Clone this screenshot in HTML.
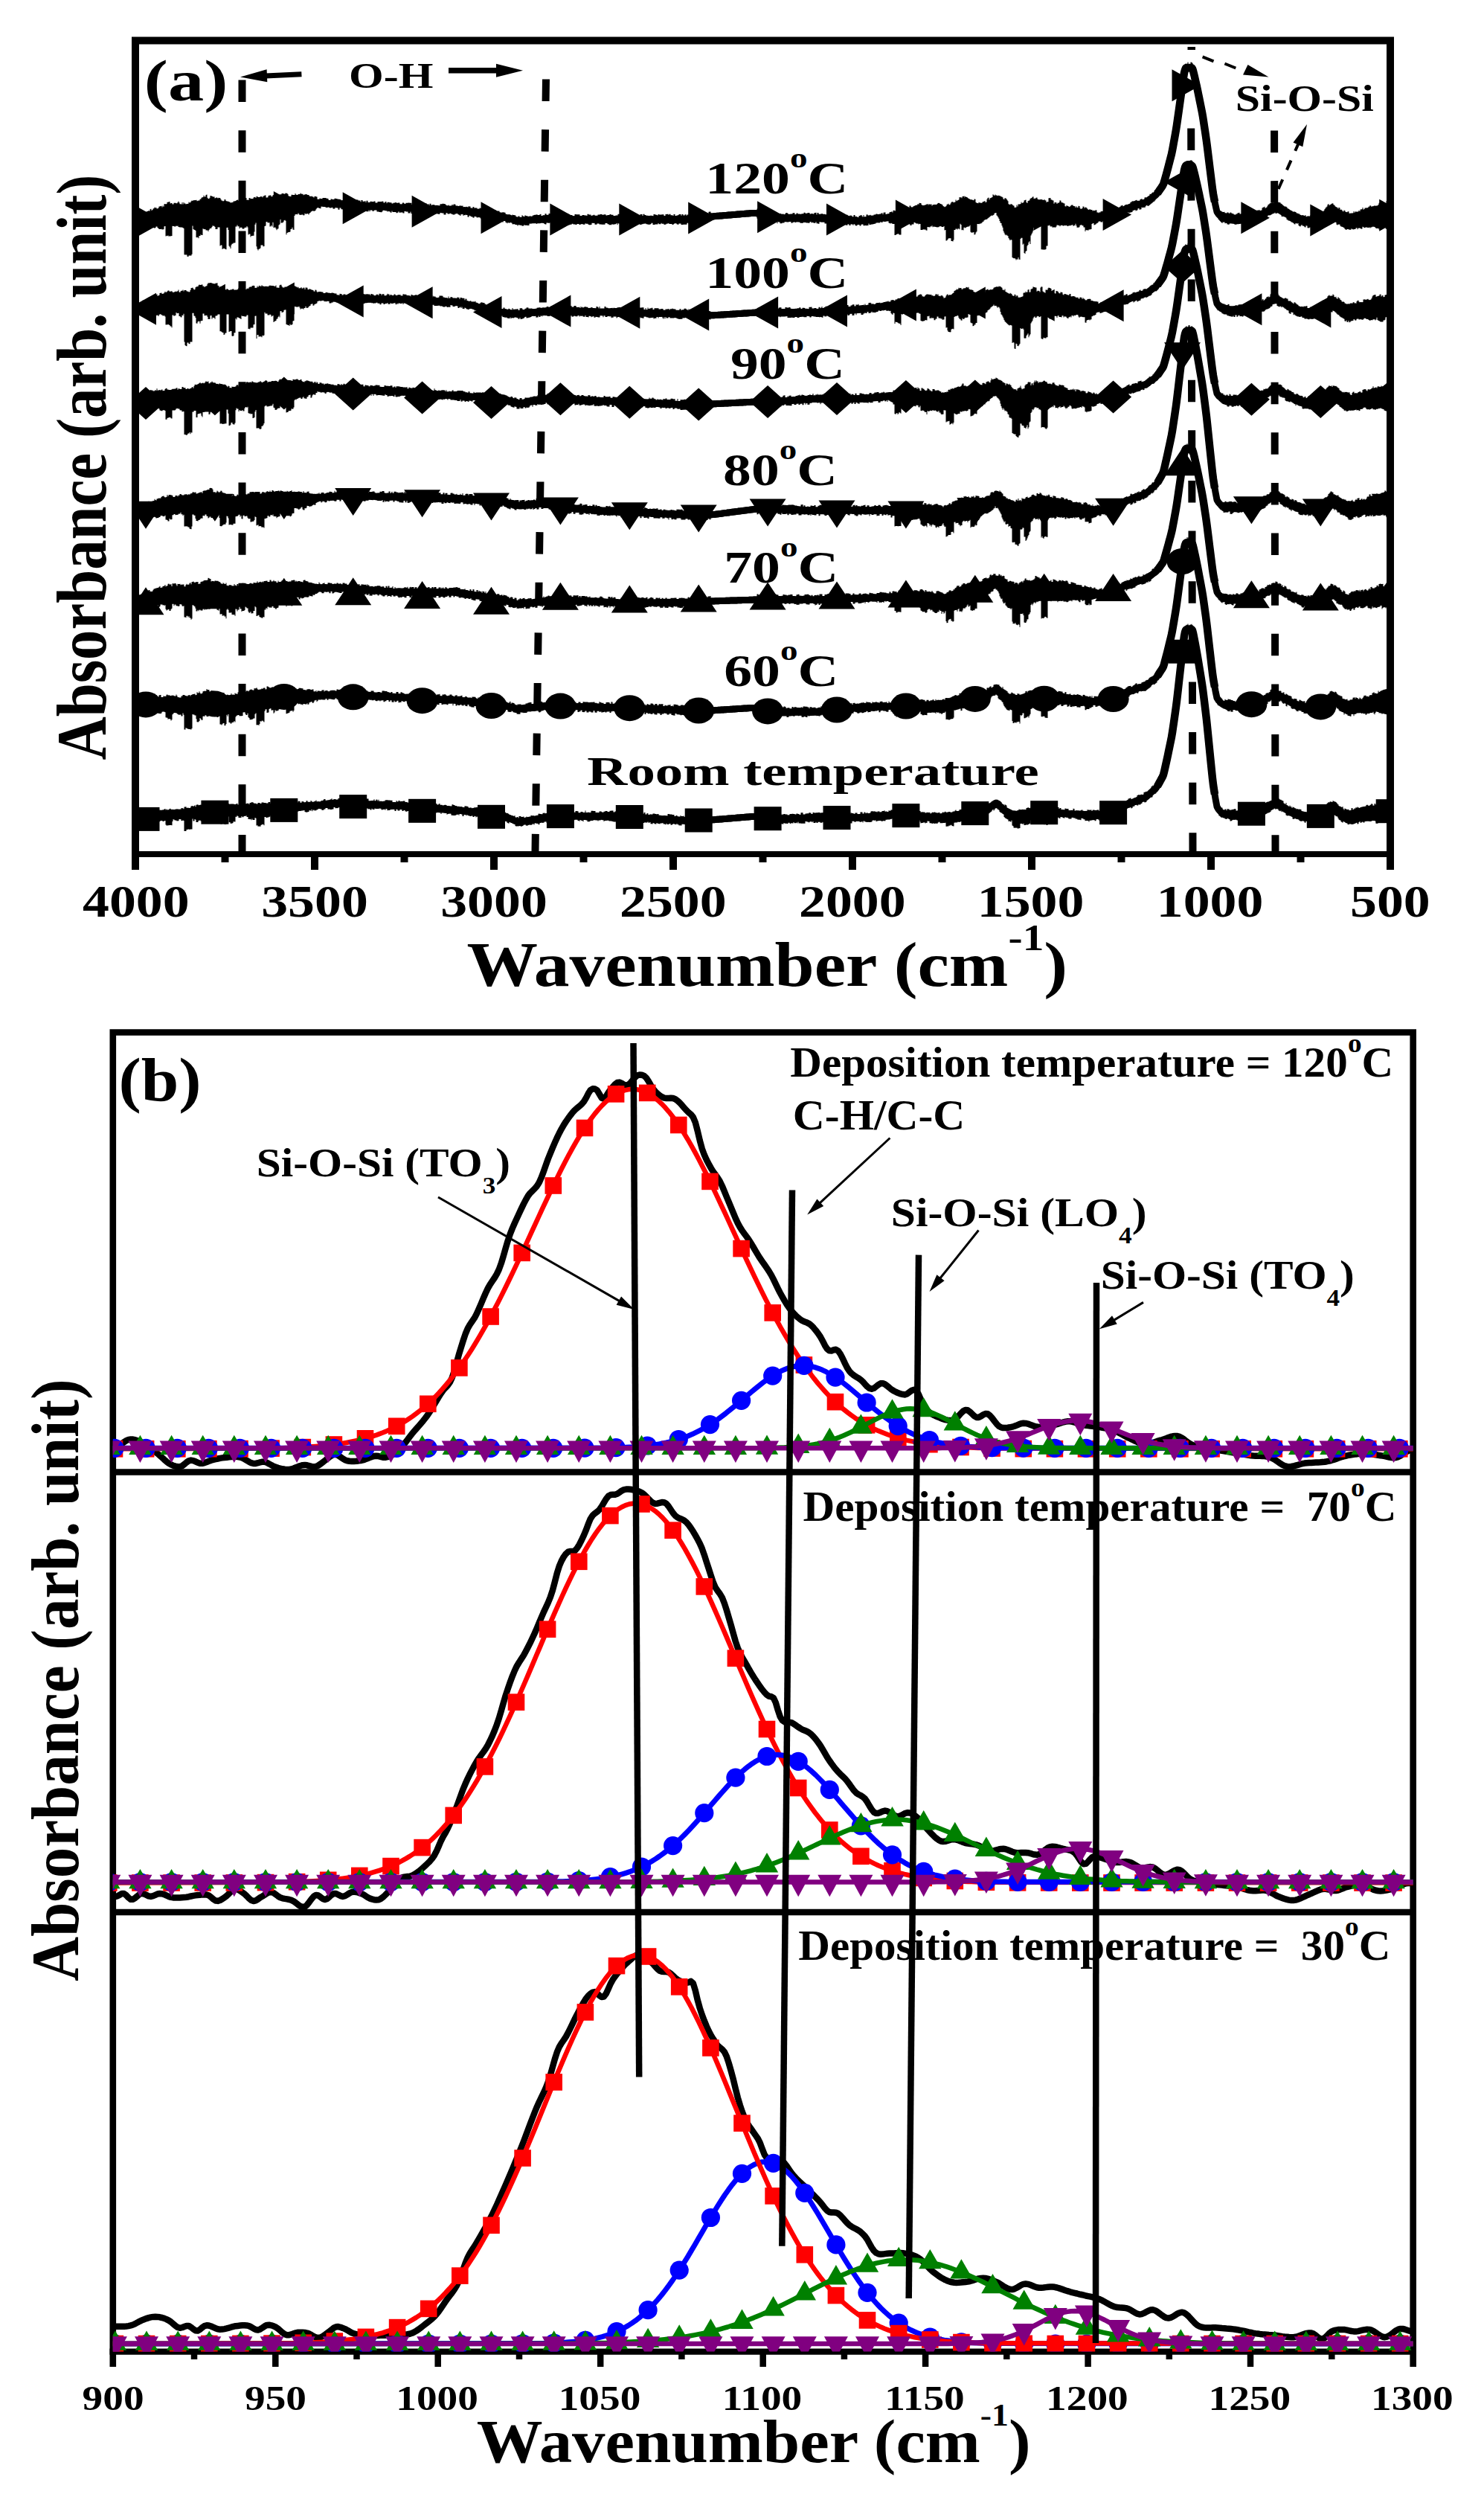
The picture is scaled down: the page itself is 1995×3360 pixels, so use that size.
<!DOCTYPE html>
<html><head><meta charset="utf-8"><title>FTIR spectra</title>
<style>html,body{margin:0;padding:0;background:#fff}svg{display:block}</style></head>
<body><svg width="1995" height="3360" viewBox="0 0 1995 3360">
<rect width="1995" height="3360" fill="#fff"/>
<clipPath id="ca"><rect x="182" y="54" width="1687" height="1094"/></clipPath>
<g clip-path="url(#ca)">
<path d="M182,295.9 184,295.8 186,295.7 188,295.4 190,295.1 192,294.8 194,294.4 196,294 198,293.6 200,293.2 202,292.8 204,292.4 206,292 208,291.6 210,291.2 212,290.8 214,290.4 216,290 218,289.6 220,289.2 222,288.8 224,288.4 226,288 228,287.7 230,287.4 232,287.1 234,286.9 236,286.7 238,286.5 240,286.4 242,286.3 244,286.1 246,286 248,285.9 250,285.7 252,285.6 254,285.5 256,285.3 258,285.2 260,285.1 262,284.9 264,284.8 266,284.7 268,284.5 270,284.4 272,284.3 274,284.1 276,284 278,283.9 280,283.7 282,283.6 284,283.5 286,283.3 288,283.2 290,283 292,282.9 294,282.7 296,282.5 298,282.3 300,282.1 302,281.9 304,281.7 306,281.5 308,281.3 310,281.1 312,280.9 314,280.7 316,280.5 318,280.3 320,280.1 322,279.9 324,279.7 326,279.5 328,279.3 330,279.1 332,279 334,278.8 336,278.6 338,278.4 340,278.2 342,278 344,277.8 346,277.6 348,277.4 350,277.2 352,277 354,276.8 356,276.6 358,276.4 360,276.2 362,276 364,275.8 366,275.6 368,275.4 370,275.2 372,275.1 374,274.9 376,274.8 378,274.6 380,274.5 382,274.4 384,274.3 386,274.1 388,274 390,273.9 392,273.8 394,273.7 396,273.5 398,273.4 400,273.3 402,273.2 404,273 406,272.9 408,272.8 410,272.7 412,272.6 414,272.4 416,272.3 418,272.3 420,272.2 422,272.2 424,272.3 426,272.4 428,272.5 430,272.7 432,272.8 434,273 436,273.1 438,273.3 440,273.4 442,273.6 444,273.7 446,273.9 448,274 450,274.2 452,274.3 454,274.5 456,274.6 458,274.8 460,274.9 462,275 464,275.2 466,275.3 468,275.4 470,275.5 472,275.6 474,275.7 476,275.8 478,275.9 480,276 482,276.2 484,276.3 486,276.4 488,276.5 490,276.6 492,276.7 494,276.8 496,276.9 498,277 500,277.1 502,277.2 504,277.4 506,277.5 508,277.6 510,277.7 512,277.8 514,277.9 516,278 518,278.1 520,278.2 522,278.3 524,278.5 526,278.6 528,278.7 530,278.8 532,278.9 534,279 536,279.1 538,279.1 540,279.2 542,279.3 544,279.4 546,279.4 548,279.5 550,279.6 552,279.7 554,279.7 556,279.8 558,279.9 560,280 562,280 564,280.1 566,280.2 568,280.3 570,280.3 572,280.4 574,280.5 576,280.6 578,280.6 580,280.7 582,280.8 584,280.9 586,280.9 588,281 590,281.1 592,281.1 594,281.2 596,281.3 598,281.4 600,281.4 602,281.5 604,281.6 606,281.7 608,281.7 610,281.8 612,281.9 614,282.1 616,282.3 618,282.5 620,282.8 622,283.1 624,283.4 626,283.7 628,284 630,284.3 632,284.6 634,284.9 636,285.2 638,285.5 640,285.8 642,286.1 644,286.4 646,286.6 648,287 650,287.2 652,287.6 654,287.9 656,288.1 658,288.5 660,288.8 662,289.1 664,289.4 666,289.7 668,290 670,290.3 672,290.6 674,291 676,291.4 678,291.9 680,292.5 682,293 684,293.6 686,294.1 688,294.7 690,295.2 692,295.7 694,296.1 696,296.4 698,296.6 700,296.6 702,296.5 704,296.4 706,296.2 708,296.1 710,296 712,295.8 714,295.7 716,295.5 718,295.4 720,295.2 722,295.1 724,294.9 726,294.8 728,294.6 730,294.5 732,294.3 734,294.3 736,294.2 738,294.3 740,294.3 742,294.4 744,294.6 746,294.7 748,294.8 750,294.9 752,294.9 754,295 756,295 758,295 760,295 762,295 764,295 766,295 768,295 770,295 772,295 774,295 776,295 778,295 780,295 782,295 784,295 786,295 788,295 790,295 792,295 794,295 796,295 798,295 800,295 802,295 804,295 806,295 808,295 810,295 812,295 814,295 816,295 818,295 820,295 822,295 824,295 826,295 828,295 830,295 832,295 834,295 836,295 838,295 840,295 842,295 844,295 846,295 848,295 850,295 852,295 854,295 856,295 858,295 860,295 862,295 864,295 866,295 868,295 870,295 872,295 874,295 876,295 878,295 880,295 882,295 884,295 886,295 888,295 890,295 892,295 894,295 896,295 898,295 900,295 902,295 904,295 906,295 908,295 910,295 912,295 914,295 916,295 918,295 920,295 922,294.9 924,294.8 926,294.7 928,294.5 930,294.2 932,294 934,293.7 936,293.5 938,293.2 940,293 942,292.8 944,292.5 946,292.3 948,292 950,291.8 952,291.5 954,291.3 956,291.1 958,290.9 960,290.7 962,290.5 964,290.3 966,290.2 968,290 970,289.9 972,289.7 974,289.5 976,289.4 978,289.2 980,289 982,288.9 984,288.7 986,288.5 988,288.4 990,288.2 992,288 994,287.9 996,287.7 998,287.6 1000,287.4 1002,287.2 1004,287.1 1006,286.9 1008,286.7 1010,286.6 1012,286.5 1014,286.5 1016,286.6 1018,286.9 1020,287.4 1022,288 1024,288.7 1026,289.5 1028,290.3 1030,291 1032,291.6 1034,292.2 1036,292.6 1038,292.8 1040,292.9 1042,293 1044,293 1046,293 1048,293 1050,293 1052,293 1054,293 1056,293 1058,293 1060,293 1062,293 1064,293 1066,293 1068,293 1070,293 1072,293 1074,293 1076,293 1078,293 1080,293 1082,293 1084,293 1086,293 1088,293 1090,293 1092,293.1 1094,293.1 1096,293.2 1098,293.3 1100,293.4 1102,293.5 1104,293.7 1106,293.8 1108,293.9 1110,294 1112,294.2 1114,294.3 1116,294.4 1118,294.6 1120,294.7 1122,294.8 1124,295 1126,295.1 1128,295.2 1130,295.4 1132,295.5 1134,295.6 1136,295.8 1138,295.9 1140,296 1142,296.1 1144,296.3 1146,296.4 1148,296.5 1150,296.6 1152,296.7 1154,296.7 1156,296.7 1158,296.5 1160,296.3 1162,296.1 1164,295.9 1166,295.6 1168,295.4 1170,295.1 1172,294.9 1174,294.6 1176,294.4 1178,294.1 1180,293.9 1182,293.6 1184,293.4 1186,293.1 1188,292.9 1190,292.6 1192,292.4 1194,292.1 1196,291.9 1198,291.6 1200,291.4 1202,291.2 1204,291 1206,290.8 1208,290.6 1210,290.5 1212,290.3 1214,290.2 1216,290 1218,289.9 1220,289.7 1222,289.6 1224,289.4 1226,289.3 1228,289.1 1230,289 1232,288.8 1234,288.7 1236,288.5 1238,288.4 1240,288.2 1242,288.1 1244,287.9 1246,287.8 1248,287.6 1250,287.4 1252,287.3 1254,287.1 1256,286.9 1258,286.6 1260,286.4 1262,286.1 1264,285.8 1266,285.5 1268,285.2 1270,284.9 1272,284.6 1274,284.3 1276,284 1278,283.7 1280,283.4 1282,283.1 1284,282.8 1286,282.5 1288,282.2 1290,281.9 1292,281.7 1294,281.6 1296,281.7 1298,281.9 1300,282.3 1302,282.8 1304,283.3 1306,283.9 1308,284.5 1310,285.1 1312,285.6 1314,286.2 1316,286.5 1318,286.7 1320,286.6 1322,286.1 1324,285.2 1326,284.2 1328,283 1330,281.8 1332,280.5 1334,279.2 1336,278.1 1338,277.3 1340,277.1 1342,277.7 1344,279 1346,280.8 1348,282.7 1350,284.6 1352,286.1 1354,287.3 1356,288.3 1358,289.1 1360,289.9 1362,290.5 1364,291 1366,291.3 1368,291.4 1370,291.3 1372,291.2 1374,291 1376,290.7 1378,290.5 1380,290.3 1382,290.1 1384,289.8 1386,289.6 1388,289.4 1390,289.1 1392,288.9 1394,288.7 1396,288.5 1398,288.4 1400,288.3 1402,288.2 1404,288.3 1406,288.3 1408,288.4 1410,288.5 1412,288.6 1414,288.7 1416,288.8 1418,288.9 1420,289 1422,289.1 1424,289.2 1426,289.3 1428,289.4 1430,289.5 1432,289.6 1434,289.7 1436,289.8 1438,289.9 1440,290 1442,290.1 1444,290.3 1446,290.4 1448,290.5 1450,290.7 1452,290.8 1454,290.9 1456,291.1 1458,291.2 1460,291.3 1462,291.5 1464,291.6 1466,291.7 1468,291.8 1470,291.8 1472,291.8 1474,291.7 1476,291.6 1478,291.5 1480,291.3 1482,291.2 1484,291.1 1486,290.9 1488,290.8 1490,290.7 1492,290.5 1494,289.9 1496,288.9 1498,287.9 1500,286.9 1502,286 1504,285 1506,284.1 1508,283.2 1510,282.3 1512,281.4 1514,280.5 1516,279.7 1518,279 1520,278.3 1522,277.7 1524,277 1526,276.4 1528,275.7 1530,275 1532,274.4 1534,273.7 1536,273.1 1538,272.4 1540,271.7 1542,270.7 1544,269.2 1546,267.8 1548,266.3 1550,264.8 1552,263.4 1554,261.9 1556,259.7 1558,256.8 1560,253.9 1562,251 1564,247.5 1566,241 1568,233.8 1570,226.4 1572,218.7 1574,210.9 1576,202.1 1578,191.2 1580,180.1 1582,168 1584,154 1586,139.8 1588,125.5 1590,111.2 1592,97.9 1594,91.7 1596,90.9 1598,90.9 1600,91 1602,91.1 1604,95.2 1606,103.4 1608,112.2 1610,121.3 1612,131.1 1614,141 1616,151.1 1618,163.1 1620,176.3 1622,190 1624,205.9 1626,222.2 1628,238.2 1630,253.9 1632,266.1 1634,276.1 1636,284.8 1638,287.8 1640,289.6 1642,291.5 1644,292.6 1646,292.9 1648,293.2 1650,293.5 1652,293.8 1654,294.1 1656,294.3 1658,294.5 1660,294.6 1662,294.6 1664,294.5 1666,294.4 1668,294.2 1670,294 1672,293.8 1674,293.6 1676,293.4 1678,293.2 1680,293 1682,292.8 1684,292.6 1686,292.3 1688,291.8 1690,291.3 1692,290.5 1694,289.6 1696,288.6 1698,287.5 1700,286.4 1702,285.2 1704,284 1706,282.7 1708,281.5 1710,280.4 1712,279.5 1714,279.2 1716,279.3 1718,279.9 1720,280.9 1722,282 1724,283.2 1726,284.5 1728,285.7 1730,286.9 1732,288 1734,289.2 1736,290.2 1738,291.1 1740,292 1742,292.9 1744,293.7 1746,294.5 1748,295.2 1750,295.9 1752,296.4 1754,296.8 1756,297.1 1758,297.3 1760,297.4 1762,297.5 1764,297.6 1766,297.7 1768,297.6 1770,297.5 1772,297.1 1774,296.5 1776,295.5 1778,294.1 1780,292.3 1782,290.2 1784,288.1 1786,286.4 1788,285.2 1790,284.8 1792,285.1 1794,286 1796,287.3 1798,288.9 1800,290.4 1802,291.9 1804,293.4 1806,294.7 1808,295.8 1810,296.5 1812,296.9 1814,296.9 1816,296.7 1818,296.4 1820,296 1822,295.6 1824,295.2 1826,294.8 1828,294.4 1830,294.1 1832,293.7 1834,293.4 1836,293.1 1838,292.8 1840,292.5 1842,292.2 1844,291.9 1846,291.6 1848,291.3 1850,291.1 1852,290.8 1854,290.6 1856,290.4 1858,290.2 1860,289.9 1862,289.7 1864,289.5 1866,289.4 1868,289.2" fill="none" stroke="#000" stroke-width="9" stroke-linejoin="round" />
<path d="M1556,259.7 1557,258.3 1558,256.8 1559,255.4 1560,253.9 1561,252.5 1562,251 1563,249.5 1564,247.5 1565,244.5 1566,241 1567,237.4 1568,233.8 1569,230.1 1570,226.4 1571,222.5 1572,218.7 1573,214.8 1574,210.9 1575,206.9 1576,202.1 1577,196.8 1578,191.2 1579,185.7 1580,180.1 1581,174.3 1582,168 1583,161.1 1584,154 1585,146.9 1586,139.8 1587,132.7 1588,125.5 1589,118.3 1590,111.2 1591,104.1 1592,97.9 1593,94 1594,91.7 1595,90.9 1596,90.9 1597,90.9 1598,90.9 1599,91 1600,91 1601,91 1602,91.1 1603,92.2 1604,95.2 1605,99.2 1606,103.4 1607,107.8 1608,112.2 1609,116.7 1610,121.3 1611,126.2 1612,131.1 1613,136.1 1614,141 1615,146 1616,151.1 1617,156.7 1618,163.1 1619,169.7 1620,176.3 1621,183 1622,190 1623,197.7 1624,205.9 1625,214 1626,222.2 1627,230.2 1628,238.2 1629,246.2 1630,253.9 1631,260.6 1632,266.1 1633,271.1" fill="none" stroke="#000" stroke-width="10.5" stroke-linejoin="round" />
<path d="M181.5,290.6V290.6h1V290.6h1V289.7h1V289.7h1V289.7h1V289.6h1V288.2h1V287.5h1V289.6h1V289h1V285.9h1V285.3h1V285.4h1V284.8h1V285.2h1V284.6h1V284h1V283.7h1V283.1h1V283.7h1V281.2h1V280.8h1V283h1V282.1h1V280.4h1V280.1h1V278.4h1V279.4h1V279h1V280.6h1V280.3h1V279.5h1V277.4h1V277.4h1V277h1V276.7h1V278.4h1V276.4h1V277.7h1V274.3h1V273.9h1V274.5h1V274.1h1V271.7h1V271.7h1V271.3h1V271.1h1V273.4h1V273.1h1V273h1V274.4h1V274.4h1V272.8h1V272.8h1V272.8h1V273.3h1V273.3h1V271.9h1V270.6h1V272.2h1V274.2h1V274.2h1V274.6h1V272.1h1V274.5h1V272.1h1V273.5h1V273.5h1V274.5h1V274h1V274h1V273.7h1V271.4h1V272.4h1V272h1V270.6h1V269.6h1V270.1h1V269.2h1V268.9h1V269.2h1V268.9h1V268.8h1V270.3h1V269.7h1V269.4h1V269.5h1V267.8h1V267.5h1V265.7h1V265.3h1V265h1V262.8h1V264.6h1V264.2h1V261.9h1V261.5h1V265.7h1V267h1V267.2h1V265.8h1V263.1h1V263.3h1V263.8h1V264h1V264.8h1V264.2h1V266.6h1V265.9h1V265.2h1V265.8h1V266.4h1V265.7h1V265.9h1V266.3h1V267.9h1V269.4h1V269.8h1V270.6h1V270h1V267.9h1V268.3h1V269.9h1V270.4h1V270.4h1V270.8h1V271.3h1V271.4h1V272.5h1V272.3h1V272h1V272h1V270.6h1V270.4h1V270.2h1V269.9h1V268.9h1V268.7h1V268.5h1V269.9h1V270.2h1V268.6h1V268.2h1V266.8h1V267.1h1V268h1V267.8h1V266.9h1V266.3h1V266.1h1V268.8h1V268.6h1V269.1h1V266.3h1V266.1h1V267.3h1V267.1h1V267.1h1V267.3h1V265.4h1V265h1V264.8h1V266.1h1V264h1V263.9h1V265.1h1V265h1V264.9h1V264.2h1V264.1h1V264.2h1V265.2h1V263.5h1V263.4h1V262.6h1V262.5h1V265.5h1V265.4h1V265.3h1V263.1h1V262.7h1V262.5h1V262.4h1V264.2h1V264.1h1V262.2h1V262.1h1V260.5h1V262.1h1V262.2h1V262.1h1V261.9h1V261.1h1V262.4h1V261.6h1V261.3h1V261.2h1V260h1V260h1V260h1V260.8h1V260.5h1V259.6h1V259.7h1V259.7h1V261.1h1V263.3h1V263.7h1V263.9h1V263.9h1V261.7h1V261.7h1V261.9h1V261.9h1V261.9h1V260.1h1V261.6h1V261.9h1V261.9h1V260.9h1V260.9h1V260.9h1V259.6h1V260.6h1V260.7h1V260.7h1V262.2h1V261.5h1V261.6h1V260.9h1V260.9h1V261.7h1V261.9h1V262.1h1V263.5h1V263.7h1V263.9h1V263.6h1V264.2h1V264.4h1V265.4h1V264.1h1V263.8h1V264.2h1V264.4h1V267.7h1V267.8h1V267.8h1V266.6h1V267.1h1V267.1h1V267.2h1V265.9h1V266h1V266h1V266.1h1V266.1h1V266.7h1V266.8h1V266.9h1V268.7h1V269h1V269.1h1V267.5h1V267.6h1V267.9h1V267.9h1V268h1V266.8h1V266.8h1V266.9h1V267.3h1V267.6h1V267.7h1V267.7h1V268.1h1V268.2h1V269.3h1V269.1h1V269.2h1V269.3h1V269.7h1V269.8h1V269.9h1V269.6h1V268.6h1V270h1V270h1V269.5h1V270.4h1V269.3h1V269.3h1V269.4h1V270.8h1V270.8h1V270.9h1V271h1V268.5h1V268.6h1V268.6h1V269.4h1V269.5h1V269.5h1V271.5h1V268.9h1V268.9h1V270.7h1V270.8h1V270.8h1V270h1V272.1h1V269.7h1V269.8h1V271.9h1V271.9h1V272h1V270.7h1V270.8h1V271.1h1V271.1h1V271.2h1V270.6h1V270.6h1V272.4h1V272.5h1V272.6h1V270.9h1V271h1V271h1V271.1h1V271.1h1V271.1h1V270.6h1V270.7h1V272.4h1V272.4h1V270.9h1V270.9h1V273.3h1V271.7h1V271.7h1V271.8h1V272.2h1V272.3h1V272.3h1V273.4h1V273.4h1V272.4h1V273.1h1V272.1h1V272.2h1V272.2h1V273h1V272.4h1V272.4h1V272.5h1V274.4h1V274.4h1V274.5h1V273.3h1V272h1V273h1V274.1h1V273.8h1V272.7h1V272.7h1V272.8h1V272.4h1V272.4h1V272.7h1V272.8h1V272.8h1V275.1h1V275.1h1V275.2h1V272.9h1V273.4h1V273.4h1V273.1h1V273.1h1V273h1V273.1h1V273.1h1V273h1V275.3h1V275.4h1V275.4h1V274.3h1V274.4h1V273.4h1V273.5h1V273.2h1V275.7h1V275.7h1V274h1V275.9h1V273.7h1V273.7h1V275.7h1V275.6h1V275.1h1V275.2h1V275.2h1V276h1V276.1h1V275.8h1V275.9h1V275.9h1V276.4h1V276.5h1V274.2h1V274.2h1V274.3h1V273.8h1V273.8h1V274h1V274h1V274.8h1V275.7h1V276.2h1V276.2h1V275.4h1V276.4h1V276.4h1V276.5h1V276.2h1V274.7h1V276h1V274.6h1V274.6h1V274.7h1V276.4h1V276.5h1V276.6h1V277h1V277.1h1V276.2h1V276.4h1V276.5h1V276.7h1V276.5h1V278.2h1V278h1V278.1h1V278.3h1V277.8h1V277.9h1V278.4h1V277.2h1V277.4h1V277.5h1V279.4h1V279.5h1V279.7h1V278.1h1V278.3h1V279.7h1V279.3h1V279.5h1V279.6h1V280.8h1V280.6h1V280.7h1V279.6h1V279.7h1V279.9h1V280.8h1V279.7h1V279.9h1V280h1V282.3h1V283.1h1V280.4h1V280.5h1V281.5h1V281.6h1V282.4h1V282.5h1V282.7h1V282h1V282.2h1V282.3h1V282h1V282.2h1V282.3h1V285.3h1V283.5h1V283.7h1V283.4h1V283.5h1V285.5h1V285.4h1V285.6h1V285.8h1V285.1h1V285.4h1V285.4h1V285.7h1V287.7h1V287.9h1V288.2h1V288.5h1V287.9h1V288.2h1V288.4h1V289.1h1V289.4h1V288.6h1V288.9h1V288.9h1V289.2h1V289.4h1V291.3h1V291.5h1V291.6h1V290.4h1V290.4h1V291.8h1V291.8h1V291.8h1V289.3h1V290.3h1V291.1h1V291.1h1V289.3h1V290.1h1V290.3h1V290.2h1V291.1h1V290.8h1V290.6h1V290.5h1V290.4h1V291h1V289.7h1V289.6h1V288.9h1V288.8h1V288.7h1V288.4h1V288.3h1V289h1V289h1V288.9h1V287.9h1V287.8h1V290.1h1V290h1V289.3h1V289.3h1V289.2h1V287.3h1V287.3h1V288.8h1V288.8h1V288.8h1V287.1h1V287.1h1V287.2h1V289.4h1V289.4h1V288.6h1V289h1V289h1V288.5h1V288.5h1V288.6h1V289.4h1V289.5h1V289.1h1V289.2h1V287.9h1V289.5h1V289.5h1V288.4h1V288.1h1V287.6h1V287.6h1V288.3h1V288.3h1V288.3h1V288.3h1V288.3h1V288.3h1V290.3h1V290.2h1V289h1V289h1V290.2h1V290.2h1V290.2h1V288.1h1V288.1h1V288.2h1V288.2h1V288.2h1V288.3h1V288.3h1V289.9h1V289.9h1V289.9h1V288.9h1V288.9h1V288.9h1V289.4h1V289.4h1V289.4h1V290h1V287.7h1V287.7h1V288.5h1V288.5h1V288.5h1V290.3h1V289.4h1V289.4h1V288.7h1V288.7h1V289.8h1V289.8h1V289.8h1V289.8h1V288.6h1V288.6h1V288.6h1V288h1V288h1V288h1V288.8h1V288.8h1V288.2h1V288.2h1V288.2h1V289.5h1V289.5h1V289h1V289h1V289h1V287.9h1V287.9h1V288.7h1V288.7h1V288.7h1V290h1V290h1V290h1V289.6h1V289.6h1V289.6h1V287.7h1V287.7h1V287.7h1V287.9h1V288h1V288.3h1V288.9h1V290.2h1V290.2h1V290.2h1V287.7h1V287.7h1V289.5h1V288h1V288h1V288h1V288.8h1V288.8h1V288.8h1V288h1V289.3h1V288.3h1V288.3h1V288.3h1V289.8h1V288.5h1V288.5h1V290h1V290h1V290h1V288.1h1V288.1h1V288.1h1V290.1h1V287.7h1V287.7h1V289h1V289h1V289.8h1V289.8h1V289.8h1V289.9h1V289.9h1V289.7h1V289.7h1V289.7h1V290.1h1V290.4h1V287.9h1V287.9h1V288.5h1V288.5h1V288.9h1V289.6h1V288.1h1V288.2h1V288.5h1V288.5h1V288.5h1V288.2h1V288.2h1V288.2h1V290h1V290h1V287.9h1V287.9h1V287.8h1V287.8h1V288.7h1V287.8h1V287.8h1V289.3h1V289.3h1V289.3h1V290.1h1V288h1V288h1V290h1V290h1V289.4h1V289.4h1V289.1h1V288h1V288h1V288h1V289.8h1V287.9h1V287.9h1V289.5h1V289.5h1V288.3h1V288.2h1V289.8h1V288.6h1V288.6h1V288.5h1V289.9h1V289.8h1V289h1V288.9h1V288.2h1V288.1h1V288h1V286.9h1V286.8h1V286.7h1V287.9h1V286.5h1V288.6h1V288.5h1V288.3h1V287.5h1V287.4h1V287.5h1V287.7h1V287.6h1V285.8h1V286.1h1V286.1h1V286h1V285.9h1V286.9h1V284.8h1V284.6h1V284.6h1V286.6h1V286.5h1V286.4h1V286.3h1V286.2h1V286.1h1V286h1V285.9h1V285.8h1V285.8h1V285.7h1V285.6h1V285.5h1V285.4h1V285.4h1V285.3h1V285.2h1V285.1h1V285h1V284.9h1V284.9h1V284.8h1V284.7h1V284.6h1V284.5h1V284.5h1V284.4h1V284.3h1V284.2h1V284.1h1V284h1V284h1V283.9h1V283.8h1V283.7h1V283.6h1V283.5h1V283.5h1V283.4h1V283.3h1V283.2h1V283.1h1V283.1h1V283h1V282.9h1V282.8h1V282.7h1V282.6h1V282.6h1V282.5h1V282.4h1V282.3h1V282.2h1V282.2h1V282.1h1V282h1V282h1V282h1V282h1V282h1V282.1h1V282.2h1V280.4h1V280.6h1V280.9h1V280.5h1V280.9h1V281.2h1V281.3h1V281.7h1V283.1h1V283.5h1V285h1V285.4h1V284.6h1V284.9h1V285.2h1V286.4h1V286.7h1V286.9h1V286h1V286h1V286.1h1V286.2h1V286.3h1V286.3h1V285.5h1V285.5h1V286.2h1V286.3h1V288.1h1V288.3h1V287.1h1V287.1h1V287.1h1V288h1V287.4h1V287.4h1V288.3h1V288.3h1V286.7h1V285.9h1V285.9h1V286.8h1V287.8h1V287.8h1V287.8h1V287.5h1V287.5h1V287.5h1V286.2h1V286.2h1V286.2h1V288.4h1V288.1h1V286.5h1V286.5h1V287.6h1V287.5h1V287.5h1V287.8h1V287.8h1V287.3h1V287.3h1V287.3h1V285.8h1V285.8h1V286.8h1V286.8h1V286.8h1V285.9h1V285.9h1V285.9h1V287.5h1V287.5h1V287h1V287h1V287.6h1V287.6h1V285.9h1V286h1V285.8h1V288.5h1V285.9h1V285.9h1V287.7h1V287.7h1V287.8h1V287.2h1V287.3h1V287.2h1V288.1h1V287.8h1V287.8h1V288.2h1V288.3h1V287.5h1V287.6h1V289.4h1V289.5h1V289h1V289.1h1V289.1h1V289.3h1V289.6h1V289.7h1V288h1V289.9h1V290h1V290h1V289.7h1V289.8h1V289.9h1V288.9h1V288.9h1V290.7h1V290.8h1V289.2h1V290.4h1V289.6h1V289.6h1V289.7h1V288.7h1V288.8h1V289.8h1V290.2h1V290.3h1V289.6h1V289.7h1V289.8h1V291.2h1V291.2h1V289h1V289.1h1V290.9h1V291h1V291h1V292h1V292h1V290.1h1V290.1h1V289.2h1V289.1h1V290.4h1V291.7h1V289.1h1V291.5h1V291.4h1V291.3h1V288.4h1V288.2h1V289.5h1V289.4h1V289.3h1V288.7h1V289.4h1V289.7h1V289.5h1V289.4h1V288.5h1V288.4h1V288.3h1V287.6h1V287.5h1V288h1V287.9h1V287.7h1V287.5h1V287.4h1V286.4h1V286.2h1V288.3h1V285.7h1V285.6h1V285.5h1V287.9h1V287.8h1V287.6h1V287.4h1V287.3h1V285.2h1V285.1h1V284.8h1V284.2h1V285.5h1V282.9h1V282.5h1V283.5h1V283.2h1V283h1V283.4h1V283.1h1V282.8h1V281.9h1V281.7h1V282.3h1V279.8h1V281.4h1V281.2h1V280.9h1V281.2h1V280.2h1V280h1V279.3h1V278.8h1V279.5h1V279.4h1V276.6h1V276.4h1V278.3h1V278.6h1V278.3h1V277.2h1V277h1V276.3h1V275.9h1V275.7h1V275.4h1V274h1V274.8h1V272.8h1V272.9h1V272.9h1V274.9h1V275.9h1V275.9h1V275.9h1V275.8h1V275.3h1V275.2h1V274.3h1V274.3h1V275.4h1V274.1h1V274.9h1V274.6h1V274.5h1V276.5h1V275.2h1V275.1h1V275h1V274.8h1V275.1h1V275h1V273.9h1V273h1V272.7h1V273h1V274.1h1V274.1h1V274.7h1V275.3h1V277h1V277.4h1V278.3h1V277.8h1V276.9h1V274.9h1V274.4h1V273.8h1V275.3h1V275.2h1V273.5h1V271.8h1V271.3h1V271.2h1V272.3h1V271.8h1V271.5h1V268.4h1V270.2h1V269.6h1V269.1h1V268.6h1V264.9h1V265.5h1V265h1V266.2h1V264.1h1V264.1h1V263.5h1V265.7h1V265.7h1V264.8h1V265h1V267h1V268.8h1V269.1h1V268.6h1V268.9h1V267.9h1V268.6h1V268.9h1V269.2h1V267.5h1V267.8h1V272.5h1V272.8h1V272.9h1V273.2h1V271.7h1V272.6h1V272.6h1V272.8h1V272.7h1V271.4h1V271.1h1V270.8h1V269.9h1V271.9h1V271.4h1V267.7h1V265.9h1V265.4h1V268.4h1V266.5h1V265.9h1V265.4h1V264.9h1V261.3h1V262.2h1V262.9h1V261.6h1V262.4h1V262.5h1V263.3h1V262.7h1V262.8h1V263.2h1V263.5h1V264.2h1V264.6h1V265.2h1V267.5h1V268h1V266h1V266.4h1V267.2h1V268.7h1V270.2h1V274.2h1V274.8h1V275.3h1V273.9h1V274.4h1V274.9h1V276.2h1V276.6h1V278.7h1V279h1V278.4h1V275.5h1V277.5h1V274.6h1V274.6h1V274.4h1V274h1V271.4h1V273h1V272.5h1V272h1V269.4h1V268.9h1V268.4h1V272h1V272.9h1V270.2h1V269.8h1V269.3h1V267h1V266.5h1V266h1V264.7h1V264.2h1V266.9h1V266.7h1V266.7h1V265.8h1V265.4h1V267.6h1V268.2h1V268.2h1V268.3h1V267.9h1V268.1h1V268.2h1V268.8h1V269h1V268.1h1V269.3h1V269.4h1V272.1h1V271.1h1V271.3h1V266.2h1V266.3h1V266.1h1V268.2h1V268.5h1V269.2h1V269.4h1V273.8h1V271.9h1V272.1h1V272.2h1V273.9h1V272.6h1V272.9h1V271.8h1V269.3h1V269.7h1V271.9h1V272.2h1V272.5h1V273.2h1V273.6h1V277.3h1V277.5h1V275.9h1V276.8h1V277.1h1V277.7h1V277.9h1V277.1h1V275.8h1V275.4h1V275.6h1V276.8h1V277h1V277.2h1V279.1h1V277.3h1V278.8h1V279h1V276.7h1V277h1V279.5h1V280.9h1V280.4h1V279.9h1V277.5h1V277.8h1V279.8h1V278.6h1V278.8h1V279.4h1V280.8h1V281.7h1V282h1V280.9h1V281.8h1V282h1V281.9h1V283.6h1V282.8h1V283.1h1V283.3h1V282.2h1V282.4h1V285.4h1V285.6h1V286.2h1V285.3h1V285.5h1V284.2h1V284.1h1V284h1V283.8h1V283.8h1V283.7h1V284.5h1V284.5h1V284.4h1V283.3h1V283.3h1V283.2h1V285.5h1V283.1h1V285.2h1V284.7h1V284.2h1V283.8h1V283.3h1V282.8h1V281.3h1V280.8h1V280.3h1V280.3h1V279.1h1V278.2h1V277.7h1V276.6h1V276.2h1V275.7h1V277.5h1V277.1h1V275.8h1V275.3h1V275.1h1V274.7h1V274.9h1V274.5h1V273.9h1V273.5h1V271.8h1V271.5h1V270.5h1V270.2h1V270.4h1V270.1h1V269.7h1V269h1V268.7h1V270h1V269.6h1V270.1h1V269.7h1V268h1V267.6h1V267.3h1V268.5h1V268.2h1V267.9h1V265.5h1V265.1h1V265.8h1V265.2h1V264.3h1V263.6h1V262.9h1V260.7h1V261h1V260.2h1V259h1V258.3h1V259.3h1V256.3h1V255.6h1V254.8h1V254.6h1V253.3h1V253.7h1V252.2h1V250.5h1V249h1V247.6h1V244.9h1V243.4h1V241.4h1V238.2h1V234.6h1V230.8h1V227.2h1V225.1h1V221.3h1V217.5h1V212.7h1V209.7h1V205.9h1V201.8h1V197.4h1V192h1V186.4h1V180.8h1V175.1h1V169.3h1V163.2h1V156.3h1V149.2h1V141.9h1V134.8h1V127.7h1V118.1h1V110.9h1V104.3h1V97.2h1V91.6h1V87.7h1V85.4h1V85.9h1V85.8h1V83.6h1V86.2h1V86.2h1V86.3h1V83.6h1V83.7h1V84.7h1V87.9h1V91.9h1V96.1h1V103h1V105.8h1V110.3h1V114.9h1V120.2h1V123.7h1V128.6h1V133.6h1V138.9h1V146.6h1V151.4h1V157.7h1V162.5h1V169.1h1V175.8h1V183.4h1V191.2h1V200.4h1V208.6h1V216.4h1V224.4h1V233.6h1V241.5h1V249.2h1V255.7h1V261.1h1V266.1h1V271.4h1V274.4h1V278.4h1V281.8h1V282.8h1V283.7h1V283.6h1V283h1V283.9h1V284.5h1V285h1V285h1V284.8h1V286.3h1V286.3h1V286.4h1V285.5h1V285.6h1V286.6h1V286.7h1V285.5h1V285.7h1V286.8h1V286.9h1V287.2h1V288.3h1V288.4h1V288.4h1V287.6h1V287.6h1V286.3h1V286.2h1V285.7h1V287.5h1V287.4h1V287.3h1V287.8h1V287.7h1V285.6h1V286.1h1V286.1h1V284.7h1V287.2h1V287.3h1V286.7h1V286.7h1V286.6h1V286.8h1V286.7h1V283.7h1V283.6h1V283.4h1V283.7h1V285.2h1V285h1V284.7h1V282.4h1V282.8h1V282.4h1V281.9h1V283.3h1V282.8h1V282.6h1V279.5h1V278.8h1V278.4h1V277.8h1V279.7h1V279.2h1V278.6h1V276.7h1V275h1V274.4h1V273.6h1V273.1h1V273h1V272.5h1V272.1h1V272.5h1V270.7h1V270.3h1V270.3h1V270.7h1V270.5h1V271.4h1V271.9h1V272h1V272.3h1V273.4h1V274h1V275.1h1V276.1h1V276.8h1V277.4h1V277.5h1V277.8h1V278.4h1V279.9h1V280.5h1V280.9h1V281.9h1V282.4h1V282.9h1V283.6h1V284.3h1V284.7h1V284.2h1V284.7h1V284.9h1V286.2h1V286.7h1V286.7h1V287.5h1V287.6h1V288.8h1V289.1h1V289.4h1V289.1h1V289.3h1V289.8h1V290.1h1V289h1V291.1h1V291h1V290.3h1V290.4h1V290.5h1V290.5h1V289h1V289.4h1V291.3h1V291.3h1V291.3h1V291.2h1V288.9h1V290.3h1V289.7h1V288.6h1V288.3h1V288.8h1V288h1V287.9h1V287.2h1V286.4h1V285h1V284h1V282.8h1V280.9h1V279.6h1V278.6h1V277.4h1V275h1V274h1V275.9h1V275.3h1V274.8h1V274h1V273.3h1V273.5h1V275.3h1V275.8h1V277.2h1V277.9h1V278.4h1V279.1h1V280.5h1V278.8h1V279.5h1V282h1V281.6h1V282.3h1V283.8h1V284.3h1V282.6h1V283.3h1V284.7h1V285h1V285.2h1V284.3h1V284.3h1V286.8h1V286.7h1V286.5h1V286.6h1V286.4h1V286.2h1V283.9h1V285.8h1V284.6h1V284.3h1V284.8h1V284.5h1V284.3h1V282.7h1V284.1h1V281.6h1V281.4h1V280.9h1V279h1V281.7h1V281.1h1V279.4h1V279.6h1V279.3h1V279.4h1V279h1V277.7h1V277.4h1V276h1V276.7h1V278.1h1V277.1h1V277.3h1V276.8h1V276.2h1V276.7h1V276.4h1V276.6h1V276.3h1V275h1V272.8h1V272.6h1V273.1h1V272.2h1V273.1h1V275.1h1V274.9h1V273.5h1V273.3h1V272.9h1V270.2h1V270.4h1V270.2h1V269h1V273.2h1V273h1V306.4h-1V305.1h-1V307h-1V307h-1V310h-1V307.9h-1V307.3h-1V305.7h-1V305.8h-1V307.1h-1V306.3h-1V306.4h-1V308.8h-1V306.6h-1V306.6h-1V308.5h-1V307h-1V307h-1V307.1h-1V307.1h-1V305.9h-1V305.1h-1V304.7h-1V304.7h-1V304.8h-1V305.5h-1V305.5h-1V306.4h-1V305.5h-1V306h-1V305.9h-1V305.8h-1V305.5h-1V305.4h-1V306.1h-1V306.3h-1V305.3h-1V304.8h-1V307.5h-1V307.7h-1V306.9h-1V306.4h-1V306.6h-1V306.7h-1V308.3h-1V306.2h-1V306.5h-1V307.9h-1V308h-1V308.2h-1V308.4h-1V308.1h-1V307.3h-1V308.7h-1V308.8h-1V308.8h-1V308.2h-1V308.1h-1V307.9h-1V309h-1V308.6h-1V307.8h-1V306.3h-1V305.7h-1V305h-1V304.8h-1V304.5h-1V303.8h-1V301.8h-1V301.4h-1V301.8h-1V302.6h-1V301.7h-1V299h-1V297.3h-1V297.3h-1V295.2h-1V295.4h-1V295.1h-1V295.3h-1V295.2h-1V294.3h-1V294.7h-1V295.2h-1V296h-1V296.7h-1V298.5h-1V301.2h-1V302.1h-1V302.9h-1V302.3h-1V303h-1V303.9h-1V306h-1V306.3h-1V306.4h-1V306.3h-1V306.1h-1V306.2h-1V306.3h-1V306.4h-1V304.7h-1V304.8h-1V304.8h-1V305.8h-1V305.8h-1V305.2h-1V305.5h-1V305.4h-1V306.2h-1V306.4h-1V306.3h-1V303.4h-1V303.3h-1V305.4h-1V305.2h-1V304.1h-1V303.6h-1V303.4h-1V301.9h-1V303.3h-1V304.4h-1V304h-1V303.1h-1V299.9h-1V300.7h-1V300.3h-1V299.9h-1V301.4h-1V301.3h-1V300.1h-1V299.2h-1V298.7h-1V298.5h-1V297.6h-1V297h-1V296.5h-1V296.6h-1V295.6h-1V295h-1V292.7h-1V292.1h-1V291.5h-1V291.3h-1V290.7h-1V291.3h-1V290.7h-1V288.9h-1V288.3h-1V287.8h-1V287h-1V286.6h-1V286.2h-1V287.1h-1V287h-1V285.8h-1V286.8h-1V287h-1V287.3h-1V287.9h-1V288.5h-1V289.1h-1V289.7h-1V289h-1V289.7h-1V290.5h-1V292.2h-1V292.8h-1V291.8h-1V292.1h-1V292.6h-1V294.5h-1V294.3h-1V295.2h-1V295.8h-1V296.3h-1V298.2h-1V298.3h-1V298.7h-1V298.5h-1V298.8h-1V299.1h-1V299.5h-1V297.9h-1V298.1h-1V299.9h-1V300h-1V300.9h-1V298.9h-1V299h-1V299.2h-1V299.3h-1V300.1h-1V300.2h-1V300.4h-1V300.6h-1V302.1h-1V302.2h-1V302.3h-1V300.7h-1V300.8h-1V300.8h-1V301.1h-1V301.1h-1V301.2h-1V301.2h-1V301.3h-1V301.8h-1V301.8h-1V301.8h-1V300.9h-1V300.8h-1V300.8h-1V300.5h-1V300.5h-1V300.3h-1V300.7h-1V301.9h-1V301.6h-1V301.4h-1V300h-1V299.7h-1V300.2h-1V298.6h-1V298.8h-1V298.5h-1V299.9h-1V299h-1V298h-1V296.9h-1V295.7h-1V294.8h-1V292.6h-1V290.7h-1V286.8h-1V280.6h-1V277.3h-1V273.4h-1V267.9h-1V260h-1V252.9h-1V244.6h-1V236.6h-1V228.6h-1V219.6h-1V211.5h-1V204.7h-1V196.6h-1V189.5h-1V182.9h-1V176.4h-1V169.8h-1V163.5h-1V158.5h-1V153.4h-1V148.4h-1V141.1h-1V136.2h-1V131.2h-1V127.2h-1V121.8h-1V117.3h-1V112.9h-1V109.7h-1V105.4h-1V101.2h-1V97h-1V96h-1V97.3h-1V96.6h-1V96.6h-1V96.6h-1V96.1h-1V96.1h-1V96.1h-1V97.6h-1V99.9h-1V103.9h-1V108.6h-1V117.6h-1V124.7h-1V130.2h-1V139.9h-1V146h-1V152.4h-1V159.6h-1V166.7h-1V173h-1V179.3h-1V187.3h-1V193h-1V198.6h-1V204.1h-1V208.3h-1V211.7h-1V216.6h-1V220.5h-1V224.4h-1V228.5h-1V232.3h-1V236.1h-1V240.1h-1V243.7h-1V247.6h-1V251.1h-1V254.2h-1V255.6h-1V257.1h-1V258.6h-1V258.9h-1V260.4h-1V261.8h-1V264.1h-1V265.5h-1V266.8h-1V267.7h-1V269.3h-1V270.4h-1V271.1h-1V271.8h-1V272.8h-1V273.5h-1V274.2h-1V275.2h-1V276h-1V276.7h-1V277h-1V275.5h-1V276.1h-1V277.6h-1V279.3h-1V278.6h-1V278.9h-1V279.2h-1V278.5h-1V281.2h-1V281.5h-1V281.8h-1V279.9h-1V280.2h-1V282.4h-1V282.7h-1V283.4h-1V282.1h-1V282.4h-1V282.7h-1V283.2h-1V284.9h-1V285.2h-1V285.4h-1V285.7h-1V286.1h-1V285.4h-1V285.7h-1V285.8h-1V287.2h-1V287.7h-1V288h-1V288.5h-1V289.4h-1V287.3h-1V287.8h-1V290.6h-1V289.2h-1V291.2h-1V292.3h-1V292.7h-1V293.1h-1V293.6h-1V294.1h-1V292.9h-1V295h-1V295.5h-1V296h-1V294.2h-1V294.7h-1V296.3h-1V296.4h-1V297.5h-1V297.6h-1V297.7h-1V295.7h-1V295.7h-1V295.8h-1V297h-1V297h-1V297.1h-1V298.5h-1V298.6h-1V298.6h-1V297.6h-1V297.5h-1V297.8h-1V299.2h-1V300h-1V300.5h-1V301.4h-1V302h-1V302.5h-1V299.9h-1V300.3h-1V301h-1V308.1h-1V308.3h-1V308.6h-1V308.4h-1V309.8h-1V309.2h-1V309.6h-1V309h-1V310.9h-1V305.4h-1V305.4h-1V303.2h-1V303.2h-1V302.3h-1V302.3h-1V303h-1V305.2h-1V305.7h-1V305.7h-1V305.7h-1V303.2h-1V300.7h-1V303.1h-1V303.1h-1V304.1h-1V302.3h-1V302.2h-1V303.1h-1V303h-1V303.4h-1V303h-1V304h-1V304.1h-1V302.7h-1V303.2h-1V303h-1V303h-1V303.4h-1V303.6h-1V302.8h-1V302.8h-1V303h-1V304.3h-1V303.1h-1V303.1h-1V302.5h-1V302.5h-1V304.4h-1V305.8h-1V305.5h-1V305.5h-1V305.5h-1V305.8h-1V304.3h-1V304.4h-1V304.3h-1V302.5h-1V303.3h-1V303.3h-1V330.5h-1V330.5h-1V335h-1V335.5h-1V335.5h-1V335.5h-1V335.6h-1V335.2h-1V335.3h-1V304.3h-1V304.4h-1V302.7h-1V303.3h-1V303.4h-1V303.6h-1V304.2h-1V305.5h-1V305.8h-1V305.9h-1V310.1h-1V312.5h-1V314.6h-1V316.6h-1V327.9h-1V324.3h-1V325.8h-1V329h-1V330.6h-1V336.9h-1V338h-1V340.9h-1V340.1h-1V327.5h-1V328.7h-1V319.8h-1V319.7h-1V320.9h-1V348.9h-1V348.6h-1V345.9h-1V348.7h-1V348.3h-1V349.6h-1V347.7h-1V347.1h-1V347.3h-1V346.7h-1V346h-1V322.6h-1V321.9h-1V323.2h-1V321.8h-1V320h-1V317.2h-1V316.4h-1V315.5h-1V316.3h-1V315h-1V312.7h-1V310.4h-1V305.7h-1V303.3h-1V300.1h-1V299.5h-1V297.1h-1V294.1h-1V292.2h-1V290.4h-1V289.6h-1V285.9h-1V286.2h-1V286.7h-1V288.7h-1V289.3h-1V289.9h-1V289.5h-1V290.2h-1V291h-1V291.9h-1V292.8h-1V293.5h-1V294.4h-1V295h-1V294.9h-1V295.5h-1V296.2h-1V297.7h-1V298.3h-1V299.6h-1V300.2h-1V300.5h-1V300.8h-1V301.3h-1V300.9h-1V301.1h-1V311.3h-1V312.5h-1V314.9h-1V315.6h-1V311.9h-1V312.6h-1V312.6h-1V312.8h-1V311.8h-1V302.3h-1V304.3h-1V304.4h-1V304.5h-1V302.3h-1V302.4h-1V302.6h-1V305.5h-1V305.8h-1V309.4h-1V308.8h-1V309.2h-1V302h-1V300.8h-1V308.3h-1V307.2h-1V307.2h-1V308.5h-1V307.5h-1V307.5h-1V308.9h-1V308.9h-1V322.5h-1V324.6h-1V324h-1V324h-1V320.2h-1V320.2h-1V320.3h-1V320.4h-1V321.9h-1V323.3h-1V323.4h-1V309.1h-1V309.4h-1V304h-1V304.9h-1V305h-1V305.1h-1V304h-1V304.2h-1V304.2h-1V305.3h-1V305.3h-1V305.4h-1V305.3h-1V305.1h-1V304.8h-1V304.7h-1V304.5h-1V305.2h-1V303.2h-1V304.5h-1V304.3h-1V305.4h-1V305.2h-1V305.3h-1V305h-1V309.7h-1V309.4h-1V308.6h-1V308.6h-1V308.4h-1V308.2h-1V309.1h-1V309.1h-1V309h-1V300.9h-1V300.7h-1V301.4h-1V300.4h-1V300.4h-1V300.5h-1V300h-1V299h-1V299h-1V301.4h-1V301.4h-1V301.4h-1V303h-1V303h-1V301.5h-1V298.9h-1V299h-1V300.7h-1V301.3h-1V300h-1V300h-1V300.3h-1V300.2h-1V301.2h-1V301.3h-1V301.8h-1V315.4h-1V315.4h-1V315.4h-1V314.6h-1V313.9h-1V315h-1V315.1h-1V315.9h-1V315.9h-1V301.1h-1V301.1h-1V300.9h-1V300.3h-1V299.8h-1V300.6h-1V300.1h-1V299.5h-1V297.2h-1V297.5h-1V297.6h-1V297.8h-1V298h-1V298.1h-1V297.4h-1V297.5h-1V298.9h-1V299h-1V298.1h-1V299.3h-1V299.4h-1V299.5h-1V299.3h-1V299.4h-1V299.5h-1V300.6h-1V300.7h-1V300.9h-1V301.2h-1V301.4h-1V301.5h-1V301.7h-1V301.9h-1V302.2h-1V300.6h-1V302.9h-1V303.1h-1V303.2h-1V302.9h-1V303.1h-1V303.2h-1V303.3h-1V301.5h-1V301.6h-1V301.7h-1V303.4h-1V303.5h-1V302.1h-1V302.1h-1V302.1h-1V303.2h-1V303.5h-1V302.9h-1V301.4h-1V301.3h-1V302.8h-1V301.5h-1V301.4h-1V301.3h-1V303h-1V302.9h-1V301.4h-1V301.3h-1V302.8h-1V302.7h-1V302.6h-1V302.1h-1V302h-1V300.7h-1V300.6h-1V300.5h-1V300.7h-1V300.6h-1V300.6h-1V301.4h-1V301.3h-1V301.9h-1V301.8h-1V299.9h-1V299.9h-1V299.8h-1V300.6h-1V300.6h-1V300.5h-1V300.7h-1V300.7h-1V300.6h-1V301.2h-1V301.7h-1V301.6h-1V299.6h-1V300.6h-1V300.6h-1V300.5h-1V298.5h-1V298.5h-1V298.4h-1V298.7h-1V298.6h-1V298.2h-1V298.2h-1V300.8h-1V300.8h-1V300.2h-1V300.2h-1V298.2h-1V299.8h-1V299.8h-1V299.7h-1V299h-1V299h-1V299.4h-1V298.1h-1V298.2h-1V299.7h-1V299.7h-1V299.4h-1V299.4h-1V299.4h-1V298.9h-1V298.9h-1V299h-1V299h-1V300h-1V299.8h-1V299.8h-1V299.8h-1V298.8h-1V298.5h-1V298.5h-1V298.5h-1V298.3h-1V298.9h-1V298.9h-1V298.2h-1V298.7h-1V298.7h-1V299.7h-1V299.7h-1V297.9h-1V297.9h-1V297.9h-1V298.6h-1V298.6h-1V298.6h-1V298.3h-1V298.3h-1V298.3h-1V299.6h-1V299.6h-1V299.6h-1V300.3h-1V300.3h-1V300.3h-1V298.4h-1V298.4h-1V297.9h-1V300.3h-1V297.8h-1V297.8h-1V298.9h-1V298.9h-1V298.9h-1V298.4h-1V298.3h-1V299.6h-1V299.4h-1V299.3h-1V297.2h-1V296.9h-1V296.6h-1V298.3h-1V296.7h-1V296.4h-1V295h-1V294.7h-1V294.3h-1V294.8h-1V294.5h-1V294.1h-1V293.7h-1V293.4h-1V294.2h-1V293.9h-1V293.7h-1V291.2h-1V291.1h-1V291h-1V291h-1V291h-1V291h-1V291h-1V291.1h-1V291.2h-1V291.2h-1V291.3h-1V291.4h-1V291.5h-1V291.6h-1V291.6h-1V291.7h-1V291.8h-1V291.9h-1V292h-1V292.1h-1V292.1h-1V292.2h-1V292.3h-1V292.4h-1V292.5h-1V292.5h-1V292.6h-1V292.7h-1V292.8h-1V292.9h-1V293h-1V293h-1V293.1h-1V293.2h-1V293.3h-1V293.4h-1V293.5h-1V293.5h-1V293.6h-1V293.7h-1V293.8h-1V293.9h-1V293.9h-1V294h-1V294.1h-1V294.2h-1V294.3h-1V294.4h-1V294.4h-1V294.5h-1V294.6h-1V294.7h-1V294.8h-1V294.8h-1V294.9h-1V295h-1V295.1h-1V295.2h-1V295.3h-1V295.4h-1V295.5h-1V295.6h-1V296.6h-1V297h-1V297.1h-1V298h-1V298.1h-1V298.3h-1V298.8h-1V298.9h-1V297h-1V297.2h-1V299.8h-1V299.4h-1V299.5h-1V299.7h-1V298.6h-1V298.8h-1V300h-1V297.9h-1V298h-1V298.1h-1V300.1h-1V300.2h-1V300.8h-1V300.3h-1V300.4h-1V301.6h-1V301.7h-1V300.4h-1V300.5h-1V300.7h-1V299.6h-1V299.7h-1V301.7h-1V301.7h-1V301.8h-1V301.8h-1V301.8h-1V302h-1V302h-1V302h-1V300.5h-1V300.5h-1V300.5h-1V301.7h-1V301.7h-1V301.3h-1V300.2h-1V300.2h-1V300.2h-1V301h-1V302.1h-1V302.1h-1V301h-1V301h-1V301.1h-1V300.9h-1V300.2h-1V300.2h-1V300.8h-1V300.8h-1V301.7h-1V301.7h-1V302h-1V300.8h-1V300.8h-1V300.8h-1V299.5h-1V301.2h-1V301.2h-1V301.2h-1V300.1h-1V301.6h-1V301.6h-1V301.6h-1V301.6h-1V302.1h-1V302.1h-1V302.1h-1V299.6h-1V299.6h-1V301.1h-1V301.8h-1V301.8h-1V301.8h-1V301.8h-1V301.3h-1V301.3h-1V300.5h-1V300.5h-1V300.7h-1V300.7h-1V301.2h-1V301.2h-1V302.1h-1V302.1h-1V301.6h-1V300.1h-1V301.5h-1V301h-1V302.2h-1V302.2h-1V302.2h-1V301.4h-1V301.3h-1V301.3h-1V301.3h-1V300.8h-1V300.8h-1V302.4h-1V300.3h-1V300.3h-1V300.3h-1V300h-1V300h-1V300h-1V301.6h-1V300.2h-1V300.2h-1V299.8h-1V301.4h-1V301.4h-1V300.5h-1V300.5h-1V300.5h-1V300.3h-1V302.2h-1V300h-1V300.9h-1V301.4h-1V301.4h-1V301.4h-1V302h-1V300.9h-1V302.2h-1V302.3h-1V302.3h-1V302.3h-1V301.3h-1V301.3h-1V299.9h-1V299.9h-1V299.9h-1V301.7h-1V301.7h-1V301.7h-1V301.8h-1V301.8h-1V301.6h-1V301.6h-1V301.6h-1V300.5h-1V300.5h-1V300.5h-1V301.7h-1V301.7h-1V301.7h-1V299.7h-1V299.7h-1V299.7h-1V299.5h-1V302.1h-1V302.1h-1V302.4h-1V301.9h-1V301.8h-1V300.8h-1V300.8h-1V300.8h-1V300.2h-1V301.8h-1V301.8h-1V301.8h-1V301.1h-1V301.3h-1V301.3h-1V302.1h-1V302.1h-1V301h-1V301h-1V301h-1V301.9h-1V301.9h-1V301.6h-1V301.6h-1V301.6h-1V300.8h-1V300.8h-1V301.9h-1V301.5h-1V302.3h-1V302.3h-1V300.1h-1V300.1h-1V301.8h-1V301.8h-1V302.4h-1V302.4h-1V302.4h-1V302.1h-1V300h-1V300h-1V300h-1V300h-1V300h-1V300.3h-1V300.3h-1V300.3h-1V300.8h-1V301.4h-1V301.3h-1V300.5h-1V300.5h-1V300.4h-1V299.1h-1V299.1h-1V299h-1V299.7h-1V299.7h-1V299.7h-1V299.6h-1V299.6h-1V301.4h-1V301.5h-1V301.1h-1V299.9h-1V300h-1V299.8h-1V299.8h-1V299.9h-1V300.3h-1V300.3h-1V300.2h-1V300.3h-1V300.4h-1V301.1h-1V300h-1V300.2h-1V300.2h-1V300.3h-1V300.2h-1V300.3h-1V300.5h-1V300.6h-1V300.6h-1V303h-1V303h-1V303.1h-1V302.7h-1V302.8h-1V302.9h-1V302.1h-1V303.5h-1V303.6h-1V303.7h-1V302.7h-1V302.8h-1V302.8h-1V302.2h-1V302.2h-1V303.4h-1V302.3h-1V302.1h-1V302h-1V301.4h-1V301.1h-1V301.5h-1V301.2h-1V299.6h-1V299.3h-1V299h-1V299.7h-1V299.4h-1V299.1h-1V300.2h-1V299.2h-1V298.9h-1V297.3h-1V297h-1V297.1h-1V298.8h-1V297.2h-1V297h-1V298.1h-1V297.9h-1V297.7h-1V296.8h-1V296.6h-1V296.4h-1V294.5h-1V294.3h-1V296.5h-1V296.4h-1V296.2h-1V296.1h-1V294.7h-1V296h-1V295.8h-1V295.7h-1V294.5h-1V294.3h-1V294.2h-1V292.7h-1V294.8h-1V293.2h-1V294.4h-1V294.2h-1V294.5h-1V294.3h-1V294.2h-1V293.3h-1V292.3h-1V292.2h-1V292h-1V292.4h-1V292.3h-1V291.2h-1V291h-1V290.9h-1V292.8h-1V292.6h-1V291.4h-1V291.2h-1V291.1h-1V290h-1V289.8h-1V291.7h-1V291.6h-1V288.9h-1V288.8h-1V288.6h-1V289.2h-1V289h-1V289.9h-1V287.6h-1V288.3h-1V287.7h-1V290.1h-1V289.2h-1V288.4h-1V288.3h-1V287.2h-1V286.8h-1V287.5h-1V287.4h-1V288.6h-1V288.6h-1V288.5h-1V287.8h-1V287.8h-1V286.8h-1V286.8h-1V287.5h-1V287.4h-1V287.4h-1V286.2h-1V286.2h-1V288.6h-1V288.5h-1V288.5h-1V286.6h-1V286.6h-1V286.5h-1V285.9h-1V285.9h-1V287.8h-1V287.7h-1V287.7h-1V287.2h-1V287.2h-1V287.3h-1V287.3h-1V285.6h-1V286.5h-1V286.5h-1V286.4h-1V287h-1V287h-1V286.9h-1V286.4h-1V286.4h-1V286.3h-1V285.7h-1V285.7h-1V285.6h-1V286.6h-1V286.5h-1V286.5h-1V285.6h-1V285.6h-1V285.5h-1V287.4h-1V287.3h-1V287.3h-1V286.2h-1V286.5h-1V286.4h-1V286.3h-1V285h-1V284.9h-1V286h-1V286.9h-1V286.9h-1V286.9h-1V284.5h-1V286.5h-1V286.5h-1V286.4h-1V284.6h-1V284.6h-1V284.5h-1V284h-1V283.9h-1V286.5h-1V286.5h-1V285.6h-1V285.6h-1V285.6h-1V285.7h-1V285.7h-1V284.3h-1V285.4h-1V286.2h-1V286.2h-1V285.1h-1V285h-1V285h-1V285.1h-1V285h-1V283.4h-1V285.7h-1V285.6h-1V284.3h-1V284.2h-1V283.7h-1V284.5h-1V283.4h-1V283.3h-1V283.3h-1V282.7h-1V282.6h-1V282.6h-1V284.3h-1V285.3h-1V285.2h-1V285.1h-1V285h-1V284.6h-1V284.5h-1V284.5h-1V282.6h-1V282.5h-1V282.5h-1V282.8h-1V283.9h-1V283.8h-1V282.6h-1V282.5h-1V282.5h-1V284.3h-1V282.6h-1V284.3h-1V284.2h-1V284.2h-1V284.1h-1V282h-1V283.5h-1V283.5h-1V281.5h-1V281.4h-1V283.4h-1V283.3h-1V283.3h-1V282.5h-1V281.8h-1V281.7h-1V281.7h-1V282.6h-1V282.5h-1V282.5h-1V280.7h-1V280.7h-1V280.6h-1V281.5h-1V283h-1V280.1h-1V280.1h-1V281.1h-1V281.1h-1V281h-1V282.3h-1V282.2h-1V282.1h-1V281.1h-1V281.1h-1V281.4h-1V281.3h-1V281.2h-1V279.3h-1V279.2h-1V281.7h-1V281.7h-1V279.5h-1V279.4h-1V279.3h-1V278.9h-1V280.5h-1V280.4h-1V280.7h-1V278.9h-1V278.8h-1V279.5h-1V279.4h-1V279.3h-1V278.6h-1V278.5h-1V279h-1V278.9h-1V278.8h-1V278.1h-1V278h-1V277.9h-1V277.7h-1V277.6h-1V277.6h-1V280.2h-1V279.9h-1V279.8h-1V279.2h-1V279.1h-1V279.9h-1V281.2h-1V283h-1V283.6h-1V284h-1V283.2h-1V283.6h-1V284.1h-1V284.7h-1V286.1h-1V286.7h-1V288.5h-1V287.2h-1V287.1h-1V287.6h-1V287.7h-1V286.8h-1V289.3h-1V289.4h-1V288.4h-1V288.6h-1V288.7h-1V288.7h-1V288.9h-1V287.7h-1V286.6h-1V288.3h-1V287.9h-1V288.1h-1V288.2h-1V290h-1V309h-1V308.4h-1V305.8h-1V307.8h-1V308h-1V311.4h-1V311.9h-1V312h-1V312.5h-1V313h-1V315.3h-1V296.8h-1V295.7h-1V296.2h-1V298.2h-1V299.4h-1V299.3h-1V299.8h-1V294.6h-1V301.5h-1V302.6h-1V307.3h-1V307.8h-1V309.2h-1V307.3h-1V305.6h-1V305.7h-1V305.9h-1V298.8h-1V304.4h-1V302.7h-1V304.3h-1V304.5h-1V299.3h-1V299.3h-1V299.5h-1V298.1h-1V298.2h-1V303.5h-1V303.9h-1V331.1h-1V331.2h-1V329.4h-1V329.5h-1V329.6h-1V333.6h-1V334.6h-1V334.7h-1V336.6h-1V334.7h-1V331.2h-1V299.5h-1V301.8h-1V311.5h-1V316.7h-1V316.8h-1V316.9h-1V317h-1V318.6h-1V314.5h-1V314.6h-1V315.5h-1V305.5h-1V304h-1V305.7h-1V305.8h-1V305.9h-1V307.5h-1V307.5h-1V307.5h-1V305.7h-1V305.7h-1V305.8h-1V307.2h-1V304.2h-1V304.2h-1V302.5h-1V304.6h-1V304.6h-1V326.2h-1V326.5h-1V326.4h-1V327.6h-1V327.7h-1V329.4h-1V333.9h-1V331.7h-1V330.4h-1V309.1h-1V305.8h-1V305.9h-1V335.2h-1V335.1h-1V334h-1V334h-1V334h-1V334.9h-1V329.4h-1V329.4h-1V330.5h-1V305.5h-1V305.6h-1V305.6h-1V307.9h-1V308h-1V308h-1V305h-1V303.7h-1V303.7h-1V303.3h-1V305h-1V306.8h-1V306.8h-1V307.4h-1V309.1h-1V310.9h-1V309.5h-1V309.5h-1V309.5h-1V308.1h-1V308.1h-1V308.1h-1V307.2h-1V316.1h-1V316.1h-1V315.2h-1V316.9h-1V317.1h-1V320.3h-1V318.8h-1V319.3h-1V319h-1V310h-1V309h-1V308.7h-1V308.1h-1V303.6h-1V341.7h-1V343.6h-1V343.5h-1V343.6h-1V343.5h-1V345.1h-1V344.7h-1V342.4h-1V342.2h-1V342.4h-1V342.2h-1V307h-1V305.9h-1V305.7h-1V305.6h-1V305.4h-1V305.5h-1V305.3h-1V305.1h-1V303.6h-1V303.9h-1V303.4h-1V304.2h-1V304.7h-1V304h-1V304.1h-1V303.8h-1V317.1h-1V317.2h-1V317.5h-1V317.2h-1V317.7h-1V316.6h-1V317.3h-1V316.8h-1V317.6h-1V304h-1V304.2h-1V308.2h-1V308.3h-1V308.5h-1V307.8h-1V308h-1V308.1h-1V308.1h-1V307.1h-1V306.1h-1V304.4h-1V304.5h-1V305.9h-1V306.7h-1V306.2h-1V306.1h-1V306h-1V306h-1V305.8h-1V305.6h-1V305.4h-1V307.8h-1V303.9h-1V305.5h-1V304.5h-1V303.6h-1V303.5h-1V302.1h-1V302.3h-1V302.3h-1V302h-1V303.8h-1V303.6h-1V300.9h-1V300.6h-1V301.7h-1V301.8h-1V301.9h-1V300.7h-1V300.8h-1Z" fill="#000"/>
<g fill="#000">
<path d="M182,276.5L220.5,298L182,319.5Z"/>
<path d="M274.9,265.6L313.4,287.1L274.9,308.6Z"/>
<path d="M367.8,256.9L406.3,278.4L367.8,299.9Z"/>
<path d="M460.7,258.3L499.2,279.8L460.7,301.3Z"/>
<path d="M553.6,262.7L592.1,284.2L553.6,305.7Z"/>
<path d="M646.5,271.3L685,292.8L646.5,314.3Z"/>
<path d="M739.4,273.5L777.9,295L739.4,316.5Z"/>
<path d="M832.3,273.5L870.8,295L832.3,316.5Z"/>
<path d="M925.2,271.6L963.7,293.1L925.2,314.6Z"/>
<path d="M1018.1,270.2L1056.6,291.7L1018.1,313.2Z"/>
<path d="M1111,273.5L1149.5,295L1111,316.5Z"/>
<path d="M1203.9,268.4L1242.4,289.9L1203.9,311.4Z"/>
<path d="M1296.8,263.8L1335.3,285.3L1296.8,306.8Z"/>
<path d="M1389.7,266.7L1428.2,288.2L1389.7,309.7Z"/>
<path d="M1482.6,267.1L1521.1,288.6L1482.6,310.1Z"/>
<path d="M1575.5,93.2L1614,114.7L1575.5,136.2Z"/>
<path d="M1668.4,271.2L1706.9,292.7L1668.4,314.2Z"/>
<path d="M1761.3,274.4L1799.8,295.9L1761.3,317.4Z"/>
<path d="M1854.2,267.7L1892.7,289.2L1854.2,310.7Z"/>
</g>
<path d="M182,413.9 184,413.9 186,413.7 188,413.5 190,413.2 192,412.9 194,412.6 196,412.2 198,411.9 200,411.5 202,411.2 204,410.8 206,410.4 208,410.1 210,409.7 212,409.4 214,409 216,408.7 218,408.3 220,408 222,407.6 224,407.2 226,406.9 228,406.6 230,406.3 232,406 234,405.7 236,405.5 238,405.3 240,405.1 242,404.9 244,404.7 246,404.5 248,404.3 250,404.1 252,403.9 254,403.7 256,403.5 258,403.3 260,403.1 262,402.9 264,402.7 266,402.5 268,402.3 270,402.1 272,401.9 274,401.7 276,401.5 278,401.3 280,401.1 282,400.9 284,400.7 286,400.5 288,400.3 290,400.2 292,400.1 294,400 296,399.9 298,399.8 300,399.8 302,399.7 304,399.7 306,399.6 308,399.6 310,399.5 312,399.5 314,399.4 316,399.4 318,399.3 320,399.3 322,399.2 324,399.2 326,399.1 328,399.1 330,399 332,399 334,398.9 336,398.9 338,398.8 340,398.8 342,398.7 344,398.7 346,398.6 348,398.6 350,398.5 352,398.5 354,398.4 356,398.4 358,398.3 360,398.3 362,398.2 364,398.2 366,398.2 368,398.1 370,398.1 372,398 374,398 376,398 378,398 380,398 382,398 384,398 386,398 388,398 390,398 392,398 394,398 396,398 398,398 400,398 402,398 404,398 406,398 408,398 410,398 412,398 414,398 416,398 418,398.1 420,398.1 422,398.2 424,398.4 426,398.5 428,398.7 430,398.9 432,399.1 434,399.3 436,399.5 438,399.7 440,399.9 442,400.1 444,400.3 446,400.5 448,400.7 450,400.9 452,401.1 454,401.3 456,401.5 458,401.6 460,401.8 462,401.9 464,401.9 466,402 468,402 470,402 472,402 474,402 476,402 478,402 480,402 482,402 484,402 486,402 488,402 490,402 492,402 494,402 496,402 498,402 500,402 502,402 504,402 506,402 508,402 510,402 512,402 514,402 516,402 518,402 520,402 522,402 524,402 526,402 528,402 530,402 532,402 534,402.1 536,402.1 538,402.2 540,402.3 542,402.4 544,402.5 546,402.6 548,402.7 550,402.8 552,402.9 554,403 556,403.1 558,403.2 560,403.3 562,403.4 564,403.5 566,403.6 568,403.7 570,403.8 572,403.9 574,404 576,404.1 578,404.2 580,404.3 582,404.4 584,404.5 586,404.6 588,404.7 590,404.8 592,404.9 594,405 596,405.1 598,405.2 600,405.3 602,405.4 604,405.5 606,405.6 608,405.7 610,405.8 612,405.9 614,406.2 616,406.4 618,406.8 620,407.2 622,407.6 624,408.1 626,408.6 628,409 630,409.5 632,410 634,410.4 636,410.9 638,411.4 640,411.8 642,412.3 644,412.8 646,413.2 648,413.7 650,414.2 652,414.6 654,415.1 656,415.6 658,416 660,416.5 662,417 664,417.4 666,417.9 668,418.4 670,418.8 672,419.2 674,419.6 676,419.9 678,420.2 680,420.4 682,420.7 684,420.9 686,421 688,421.2 690,421.4 692,421.6 694,421.7 696,421.7 698,421.6 700,421.5 702,421.4 704,421.2 706,421 708,420.8 710,420.6 712,420.4 714,420.2 716,420 718,419.8 720,419.6 722,419.4 724,419.2 726,419 728,418.8 730,418.6 732,418.4 734,418.3 736,418.2 738,418.1 740,418 742,418 744,418 746,418 748,418 750,418 752,418.1 754,418.1 756,418.2 758,418.2 760,418.2 762,418.3 764,418.3 766,418.4 768,418.4 770,418.5 772,418.5 774,418.6 776,418.6 778,418.7 780,418.7 782,418.8 784,418.8 786,418.9 788,418.9 790,419 792,419 794,419.1 796,419.1 798,419.2 800,419.2 802,419.3 804,419.3 806,419.4 808,419.4 810,419.5 812,419.5 814,419.6 816,419.6 818,419.7 820,419.7 822,419.8 824,419.8 826,419.9 828,419.9 830,420 832,420 834,420.1 836,420.1 838,420.2 840,420.2 842,420.2 844,420.3 846,420.3 848,420.4 850,420.4 852,420.5 854,420.5 856,420.5 858,420.6 860,420.6 862,420.7 864,420.7 866,420.8 868,420.8 870,420.8 872,420.9 874,420.9 876,421 878,421 880,421.1 882,421.1 884,421.1 886,421.2 888,421.2 890,421.3 892,421.3 894,421.4 896,421.4 898,421.4 900,421.5 902,421.5 904,421.6 906,421.6 908,421.7 910,421.7 912,421.7 914,421.8 916,421.8 918,421.9 920,421.9 922,422 924,422.1 926,422.2 928,422.3 930,422.4 932,422.5 934,422.6 936,422.8 938,422.9 940,423 942,423.1 944,423.3 946,423.4 948,423.5 950,423.6 952,423.7 954,423.8 956,423.8 958,423.8 960,423.7 962,423.6 964,423.5 966,423.3 968,423.2 970,423.1 972,423 974,422.8 976,422.7 978,422.6 980,422.4 982,422.3 984,422.2 986,422 988,421.9 990,421.8 992,421.6 994,421.5 996,421.4 998,421.2 1000,421.1 1002,421 1004,420.9 1006,420.7 1008,420.6 1010,420.5 1012,420.3 1014,420.2 1016,420.1 1018,420.1 1020,420 1022,420 1024,420 1026,420 1028,420 1030,420 1032,420 1034,420 1036,420 1038,420 1040,420 1042,420 1044,420 1046,420 1048,420 1050,420 1052,420 1054,420 1056,420 1058,420 1060,420 1062,420 1064,420 1066,420 1068,420 1070,420 1072,420 1074,420 1076,420 1078,420 1080,420 1082,420 1084,420 1086,420 1088,420 1090,420 1092,419.9 1094,419.9 1096,419.8 1098,419.7 1100,419.6 1102,419.5 1104,419.3 1106,419.2 1108,419.1 1110,419 1112,418.8 1114,418.7 1116,418.6 1118,418.4 1120,418.3 1122,418.2 1124,418 1126,417.9 1128,417.8 1130,417.6 1132,417.5 1134,417.4 1136,417.2 1138,417.1 1140,417 1142,416.9 1144,416.7 1146,416.6 1148,416.5 1150,416.3 1152,416.2 1154,416 1156,415.8 1158,415.6 1160,415.4 1162,415.1 1164,414.9 1166,414.6 1168,414.4 1170,414.1 1172,413.9 1174,413.6 1176,413.4 1178,413.1 1180,412.9 1182,412.6 1184,412.4 1186,412.1 1188,411.9 1190,411.6 1192,411.4 1194,411.1 1196,410.9 1198,410.6 1200,410.4 1202,410.3 1204,410.1 1206,410.1 1208,410 1210,410 1212,410 1214,410 1216,410 1218,410 1220,410 1222,410 1224,410 1226,410 1228,410 1230,410 1232,410 1234,410 1236,410 1238,410 1240,410 1242,410 1244,410 1246,410 1248,410 1250,410 1252,409.9 1254,409.8 1256,409.7 1258,409.4 1260,409.1 1262,408.8 1264,408.4 1266,408 1268,407.6 1270,407.2 1272,406.8 1274,406.4 1276,406 1278,405.6 1280,405.2 1282,404.8 1284,404.4 1286,404 1288,403.6 1290,403.3 1292,403 1294,402.8 1296,402.8 1298,403.1 1300,403.5 1302,404.1 1304,404.7 1306,405.3 1308,406 1310,406.7 1312,407.3 1314,407.9 1316,408.4 1318,408.6 1320,408.5 1322,408 1324,407.2 1326,406.2 1328,405 1330,403.8 1332,402.5 1334,401.2 1336,400.1 1338,399.3 1340,399.1 1342,399.7 1344,401 1346,402.8 1348,404.7 1350,406.6 1352,408.1 1354,409.3 1356,410.3 1358,411.1 1360,411.9 1362,412.5 1364,413 1366,413.3 1368,413.4 1370,413.3 1372,413.2 1374,413 1376,412.7 1378,412.5 1380,412.3 1382,412.1 1384,411.8 1386,411.6 1388,411.4 1390,411.1 1392,410.9 1394,410.7 1396,410.5 1398,410.4 1400,410.3 1402,410.2 1404,410.3 1406,410.3 1408,410.4 1410,410.5 1412,410.6 1414,410.7 1416,410.8 1418,410.9 1420,411 1422,411.1 1424,411.2 1426,411.3 1428,411.4 1430,411.5 1432,411.6 1434,411.7 1436,411.8 1438,411.9 1440,412 1442,412.1 1444,412.3 1446,412.4 1448,412.5 1450,412.7 1452,412.8 1454,412.9 1456,413.1 1458,413.2 1460,413.3 1462,413.5 1464,413.6 1466,413.7 1468,413.8 1470,413.8 1472,413.8 1474,413.7 1476,413.6 1478,413.5 1480,413.3 1482,413.2 1484,413.1 1486,412.9 1488,412.8 1490,412.7 1492,412.5 1494,412 1496,411 1498,410 1500,409.1 1502,408.1 1504,407.2 1506,406.4 1508,405.5 1510,404.6 1512,403.7 1514,402.9 1516,402.1 1518,401.5 1520,400.9 1522,400.2 1524,399.6 1526,399 1528,398.3 1530,397.7 1532,397.1 1534,396.4 1536,395.8 1538,395.2 1540,394.5 1542,393.5 1544,392.1 1546,390.7 1548,389.3 1550,387.9 1552,386.5 1554,385.1 1556,383 1558,380.3 1560,377.5 1562,374.7 1564,371.4 1566,365.2 1568,358.3 1570,351.3 1572,343.9 1574,336.6 1576,328.2 1578,317.8 1580,307.1 1582,295.6 1584,282.3 1586,268.7 1588,255 1590,241.3 1592,228.7 1594,222.8 1596,222.1 1598,222.1 1600,222.2 1602,222.4 1604,226.3 1606,234.1 1608,242.6 1610,251.3 1612,260.7 1614,270.3 1616,279.9 1618,291.4 1620,304.1 1622,317.2 1624,332.4 1626,348 1628,363.4 1630,378.4 1632,390.1 1634,399.7 1636,408.1 1638,410.9 1640,412.7 1642,414.5 1644,415.6 1646,415.9 1648,416.2 1650,416.5 1652,416.8 1654,417.1 1656,417.3 1658,417.5 1660,417.6 1662,417.6 1664,417.5 1666,417.4 1668,417.2 1670,417 1672,416.8 1674,416.6 1676,416.4 1678,416.2 1680,416 1682,415.8 1684,415.6 1686,415.3 1688,414.8 1690,414.3 1692,413.5 1694,412.6 1696,411.6 1698,410.5 1700,409.4 1702,408.2 1704,407 1706,405.7 1708,404.5 1710,403.4 1712,402.5 1714,402.2 1716,402.3 1718,402.9 1720,403.9 1722,405 1724,406.2 1726,407.5 1728,408.7 1730,409.9 1732,411 1734,412.2 1736,413.2 1738,414.1 1740,415 1742,415.9 1744,416.7 1746,417.5 1748,418.2 1750,418.9 1752,419.4 1754,419.8 1756,420.1 1758,420.3 1760,420.4 1762,420.5 1764,420.6 1766,420.7 1768,420.6 1770,420.5 1772,420.1 1774,419.5 1776,418.5 1778,417.1 1780,415.3 1782,413.2 1784,411.1 1786,409.4 1788,408.2 1790,407.8 1792,408.1 1794,409 1796,410.3 1798,411.9 1800,413.4 1802,414.9 1804,416.4 1806,417.7 1808,418.8 1810,419.5 1812,419.9 1814,419.9 1816,419.7 1818,419.4 1820,419 1822,418.6 1824,418.2 1826,417.8 1828,417.4 1830,417.1 1832,416.7 1834,416.4 1836,416.1 1838,415.8 1840,415.5 1842,415.2 1844,414.9 1846,414.6 1848,414.3 1850,414.1 1852,413.8 1854,413.6 1856,413.4 1858,413.2 1860,412.9 1862,412.7 1864,412.5 1866,412.4 1868,412.2" fill="none" stroke="#000" stroke-width="9" stroke-linejoin="round" />
<path d="M1556,383 1557,381.7 1558,380.3 1559,378.9 1560,377.5 1561,376.1 1562,374.7 1563,373.3 1564,371.4 1565,368.5 1566,365.2 1567,361.8 1568,358.3 1569,354.9 1570,351.3 1571,347.6 1572,343.9 1573,340.3 1574,336.6 1575,332.7 1576,328.2 1577,323.1 1578,317.8 1579,312.4 1580,307.1 1581,301.6 1582,295.6 1583,289.1 1584,282.3 1585,275.5 1586,268.7 1587,261.9 1588,255 1589,248.2 1590,241.3 1591,234.6 1592,228.7 1593,225 1594,222.8 1595,222.1 1596,222.1 1597,222.1 1598,222.1 1599,222.2 1600,222.2 1601,222.2 1602,222.4 1603,223.4 1604,226.3 1605,230.1 1606,234.1 1607,238.3 1608,242.6 1609,246.9 1610,251.3 1611,256 1612,260.7 1613,265.5 1614,270.3 1615,275 1616,279.9 1617,285.3 1618,291.4 1619,297.7 1620,304.1 1621,310.4 1622,317.2 1623,324.6 1624,332.4 1625,340.2 1626,348 1627,355.7 1628,363.4 1629,371 1630,378.4 1631,384.9 1632,390.1 1633,394.9" fill="none" stroke="#000" stroke-width="10.5" stroke-linejoin="round" />
<path d="M181.5,406.5V406.5h1V406.4h1V408.7h1V408.6h1V407.1h1V408h1V407.7h1V408.1h1V406h1V405.5h1V403.8h1V403.7h1V403.2h1V404h1V403.5h1V402.9h1V402.2h1V401.1h1V399.8h1V399.5h1V399h1V399.1h1V398.7h1V398.4h1V398.8h1V398.6h1V398.3h1V396.1h1V395.7h1V395.4h1V397.7h1V397.3h1V396.8h1V394.1h1V393.7h1V393.4h1V395.1h1V394.8h1V394.5h1V393.3h1V391.7h1V393h1V392.6h1V391.6h1V390.5h1V390.4h1V391.8h1V391.8h1V391.4h1V391.3h1V392.4h1V392.9h1V392.8h1V392.1h1V391.8h1V391.7h1V392.1h1V390.9h1V389.6h1V392.5h1V392.9h1V391.3h1V390.7h1V390.7h1V389.4h1V391.4h1V390.1h1V390.1h1V390h1V391.3h1V391.8h1V391.8h1V392.6h1V392.2h1V389.9h1V387.3h1V386.9h1V386.5h1V388.1h1V389.4h1V389h1V386.3h1V385.5h1V385.1h1V385.3h1V383.5h1V382.6h1V382.9h1V382.9h1V382.5h1V382.6h1V384.8h1V384.4h1V386.1h1V384.9h1V384.6h1V384.3h1V381.8h1V380.3h1V380.4h1V380.3h1V380.1h1V380.3h1V380.5h1V381.1h1V381.3h1V381.3h1V381.6h1V380.6h1V380.8h1V380.2h1V383.8h1V384.2h1V387.1h1V385h1V385.5h1V386h1V387.7h1V388.2h1V388.6h1V388.6h1V389.1h1V389.5h1V388h1V388.6h1V389.2h1V389.9h1V389.8h1V389.2h1V389.5h1V388.7h1V388.6h1V388.4h1V389.7h1V389.6h1V389.5h1V389.4h1V389.3h1V388.4h1V387h1V389.4h1V389.7h1V389.5h1V388.7h1V388.6h1V388.4h1V386.4h1V386.2h1V389.1h1V389h1V387.8h1V387.7h1V387.7h1V386.3h1V385.6h1V385.5h1V385.4h1V384.3h1V383.9h1V383.7h1V384.2h1V386.9h1V386.8h1V386.7h1V384.5h1V385.9h1V384.5h1V383.7h1V384.7h1V384.7h1V383.3h1V384.6h1V384.6h1V385.1h1V385.1h1V384.7h1V384.7h1V384.9h1V385.1h1V385.1h1V383.8h1V383.8h1V383.7h1V384h1V384h1V383.9h1V384.3h1V384.7h1V384.8h1V383.5h1V386.5h1V386.5h1V386.7h1V386.7h1V383.4h1V382.8h1V382.8h1V384.7h1V386.3h1V386.4h1V386.5h1V385.5h1V385.6h1V385.9h1V385.7h1V385.7h1V386.9h1V385.6h1V385.7h1V386h1V386.1h1V385.9h1V385.1h1V385.2h1V384.3h1V384.4h1V385.4h1V385.5h1V386.4h1V385.7h1V387.5h1V387.2h1V387.3h1V385.9h1V387.6h1V387.7h1V386.5h1V386.8h1V389.1h1V386.4h1V386.5h1V386.8h1V388.9h1V389.2h1V388.3h1V388.5h1V388.9h1V389.5h1V389.8h1V390.1h1V391.6h1V391.8h1V389.4h1V389.8h1V391.8h1V393h1V392h1V392h1V392.1h1V391.9h1V392.3h1V392.4h1V392.5h1V393.9h1V394h1V394.1h1V392.9h1V393h1V393.1h1V393.8h1V393.6h1V393.7h1V394h1V394.1h1V393.5h1V393.6h1V393.7h1V393.9h1V394.4h1V394.5h1V394.6h1V396.4h1V396.5h1V396.6h1V396.8h1V394.8h1V394.9h1V395h1V396.5h1V396.5h1V395.4h1V395.4h1V395.4h1V396.6h1V396.6h1V396.3h1V396.3h1V397.2h1V397.2h1V396.2h1V396.2h1V395.3h1V395.3h1V395.4h1V396.6h1V396.6h1V395.1h1V397.5h1V397.5h1V396.8h1V396.8h1V396.8h1V395h1V395h1V395h1V394.7h1V394.7h1V395.1h1V395.5h1V395.5h1V395.5h1V395.2h1V395.2h1V395.6h1V395.6h1V395.6h1V396.7h1V395h1V395h1V395.7h1V395.7h1V397.3h1V397.3h1V397.3h1V395.7h1V395.7h1V395.7h1V396.9h1V394.8h1V394.8h1V395.1h1V396.8h1V395.3h1V395.3h1V395.3h1V397.4h1V397.4h1V397.4h1V396.2h1V394.8h1V395.5h1V395.5h1V397.5h1V396.1h1V396.1h1V397.1h1V397.1h1V397.1h1V395.4h1V395.4h1V396.8h1V396.9h1V396.9h1V396.1h1V396.2h1V396.3h1V395.9h1V397.5h1V397.6h1V397.6h1V395.3h1V395.4h1V395.7h1V395.8h1V395.8h1V397h1V397.1h1V397.1h1V397.3h1V397.3h1V398.4h1V396.1h1V396.1h1V396.9h1V396.9h1V397h1V396.4h1V396.2h1V396.3h1V397.5h1V397.6h1V396.1h1V396.1h1V396.2h1V398.5h1V397.6h1V397.7h1V397.7h1V397h1V397.1h1V398.5h1V396.7h1V396.7h1V396.8h1V399.5h1V399.6h1V399.6h1V399.3h1V399.4h1V399.4h1V397.4h1V398.5h1V398.6h1V398.6h1V399.6h1V400h1V400.1h1V400.1h1V399.5h1V397.4h1V397.4h1V397.6h1V397.6h1V397.7h1V399.6h1V399.4h1V400.1h1V400.2h1V400.2h1V400.2h1V400.9h1V398.6h1V400.7h1V400.7h1V399.1h1V399.3h1V399.4h1V400.4h1V400.4h1V400.5h1V400.6h1V400.7h1V400.8h1V399.6h1V399.7h1V399.9h1V402.2h1V399.9h1V400.1h1V400.3h1V401.1h1V400.4h1V400.9h1V403.4h1V401.5h1V401.8h1V404.3h1V404.3h1V404.8h1V405h1V404.2h1V404.4h1V405.4h1V405.6h1V405.2h1V405.4h1V405.6h1V404.7h1V406.5h1V406.8h1V407h1V408h1V408.2h1V408.5h1V406.9h1V406.3h1V406.6h1V406.7h1V406.9h1V407.1h1V408.5h1V408.7h1V410.1h1V410.4h1V410.6h1V410h1V410.2h1V410.3h1V410.6h1V410.8h1V412.3h1V412.6h1V412.8h1V412.3h1V412.5h1V412.8h1V411.6h1V411.8h1V412h1V413.1h1V413.3h1V414.7h1V414.9h1V415.1h1V415.1h1V413.4h1V413.5h1V415h1V415.1h1V415.6h1V415.7h1V415.8h1V414.8h1V414.9h1V416.2h1V416.3h1V416.4h1V414.1h1V415.7h1V415.7h1V415.8h1V415.4h1V415.5h1V415.5h1V414.9h1V416.7h1V417.1h1V414.5h1V414.2h1V414.1h1V414.8h1V416.2h1V416.1h1V416h1V414.8h1V414.7h1V413.4h1V413.3h1V413.4h1V414.7h1V414.6h1V414.7h1V414.6h1V414.5h1V415.2h1V415.1h1V415h1V414.9h1V414.8h1V414.7h1V413.7h1V413.6h1V413.5h1V413.3h1V413.2h1V413.8h1V413.7h1V413.6h1V413.2h1V413.2h1V413.4h1V413.3h1V413.2h1V412.2h1V411.9h1V411.9h1V413.6h1V413.5h1V413.5h1V411.4h1V411.4h1V411.4h1V411.8h1V411.5h1V411.5h1V411.5h1V411h1V411h1V411h1V411.4h1V413.5h1V413.5h1V411.9h1V411.9h1V413.1h1V413.1h1V413.2h1V411.6h1V413.3h1V413h1V413h1V410.9h1V411h1V411.6h1V411.7h1V411h1V411.1h1V412.4h1V412.4h1V412.4h1V411.1h1V411.1h1V411.1h1V412.8h1V412.8h1V412.9h1V412.8h1V412.8h1V413.9h1V412h1V413.3h1V412.6h1V413.6h1V413h1V412.3h1V412.3h1V412.4h1V412.7h1V412.7h1V414h1V414h1V413.7h1V413.7h1V413h1V413h1V414h1V414.1h1V414.1h1V414.3h1V414.3h1V411.9h1V411.9h1V413.1h1V414.6h1V411.9h1V414.4h1V414.5h1V414.6h1V414.6h1V414.6h1V414.6h1V412.1h1V412.1h1V413.6h1V413.6h1V413.7h1V414.2h1V414.2h1V414.2h1V413.9h1V413.9h1V413.7h1V414.3h1V413.8h1V413.8h1V414h1V414h1V414h1V413.2h1V413.2h1V412.9h1V412.9h1V412.9h1V415.1h1V415.2h1V413.5h1V413.5h1V415h1V415.1h1V413.6h1V413.6h1V415.4h1V415.4h1V414.2h1V414.2h1V414.2h1V413h1V413h1V413h1V413.5h1V413.5h1V413.5h1V415h1V415h1V415.1h1V414.2h1V414.2h1V414.2h1V413.5h1V413.5h1V413.5h1V413.3h1V413.3h1V413.3h1V415.9h1V415.9h1V414h1V416.2h1V416.2h1V413.4h1V414.9h1V414.9h1V414.3h1V414.4h1V413.8h1V413.8h1V416.1h1V416.1h1V414.2h1V414.3h1V414.3h1V414.2h1V414.2h1V414.2h1V415.6h1V415.6h1V415.6h1V415h1V415.1h1V415.1h1V416.7h1V416.7h1V416.8h1V415.6h1V415.6h1V415.7h1V415h1V415.3h1V416.4h1V415.2h1V415.2h1V415.2h1V414.6h1V415.3h1V415.3h1V415.6h1V415.6h1V416.7h1V416.7h1V416.7h1V416.7h1V416.7h1V415.3h1V415.3h1V417.2h1V416.2h1V416.2h1V416.3h1V414.7h1V414.7h1V414.7h1V416h1V416h1V417.4h1V415.2h1V416.4h1V417.5h1V415h1V415.1h1V415.1h1V415.8h1V415.9h1V415.9h1V416.2h1V416.2h1V416.3h1V416.6h1V416h1V417.5h1V417.4h1V416.3h1V416.3h1V417.7h1V417.8h1V417.1h1V416.9h1V416.9h1V417h1V418.7h1V418.7h1V418.8h1V418h1V418h1V418.4h1V419.3h1V419.3h1V419.3h1V419.2h1V419.2h1V419.1h1V419.1h1V419h1V419h1V418.9h1V418.8h1V418.8h1V418.7h1V418.6h1V418.6h1V418.5h1V418.5h1V418.4h1V418.3h1V418.3h1V418.2h1V418.1h1V418.1h1V418h1V417.9h1V417.9h1V417.8h1V417.7h1V417.7h1V417.6h1V417.5h1V417.5h1V417.4h1V417.3h1V417.3h1V417.2h1V417.1h1V417.1h1V417h1V416.9h1V416.9h1V416.8h1V416.7h1V416.7h1V416.6h1V416.5h1V416.5h1V416.4h1V416.4h1V416.3h1V416.2h1V416.2h1V416.1h1V416h1V416h1V415.9h1V415.8h1V415.8h1V415.7h1V415.7h1V415.6h1V415.6h1V414.9h1V413.8h1V413.4h1V413.4h1V413.4h1V415h1V415h1V415h1V414.8h1V414.8h1V414.8h1V414.2h1V414.2h1V414.2h1V413.1h1V413.1h1V413.1h1V414.1h1V414.1h1V414.1h1V413.1h1V413.1h1V413.1h1V412.9h1V412.9h1V412.9h1V415.2h1V415h1V415h1V413.8h1V413.3h1V413.3h1V413.3h1V414.9h1V414.9h1V414.9h1V414.9h1V414.9h1V412.9h1V412.9h1V413.4h1V413.4h1V413.4h1V412.9h1V412.9h1V414.5h1V414.9h1V414.9h1V415.1h1V415.1h1V415.1h1V414.8h1V414.8h1V414.8h1V414.2h1V414.2h1V414.2h1V413h1V413.6h1V415h1V415h1V413.7h1V413.7h1V413.7h1V413.9h1V415.3h1V414.8h1V414.8h1V415.3h1V415.3h1V412.8h1V412.8h1V412.8h1V412.6h1V414.4h1V414.4h1V414.4h1V414h1V413.9h1V413.9h1V414.9h1V414.9h1V414.8h1V412.8h1V412.8h1V414.2h1V413.6h1V411.9h1V414.1h1V414.1h1V413.1h1V413.1h1V411.8h1V411.7h1V411.7h1V411.9h1V411.8h1V413.5h1V412.4h1V412.3h1V412.2h1V413.7h1V411.7h1V411.6h1V413.1h1V413h1V411.7h1V411.7h1V412.6h1V412.5h1V411.5h1V410.6h1V410.5h1V411h1V411h1V412.4h1V412.3h1V411.2h1V410.6h1V410.6h1V410.5h1V410.1h1V410h1V412.1h1V412h1V411.9h1V410.5h1V410.4h1V409.4h1V409.3h1V409.2h1V411.5h1V411.4h1V409.3h1V409.7h1V409.6h1V408.7h1V410.5h1V410.4h1V410.3h1V410.2h1V410.1h1V409.9h1V409.6h1V410.6h1V408.6h1V410.3h1V410.2h1V409.7h1V409.6h1V407.1h1V407h1V406.8h1V407.4h1V408.8h1V408.3h1V408.2h1V408.9h1V408.8h1V408.6h1V407.2h1V407.1h1V406.9h1V406.9h1V406.8h1V406.7h1V407.6h1V406.9h1V406.7h1V406.7h1V406h1V405.9h1V405.7h1V405.5h1V405.3h1V405.2h1V404.5h1V405.6h1V405.5h1V405.3h1V403.3h1V403.6h1V403.1h1V402.9h1V404.1h1V403.9h1V402.6h1V402.4h1V402.2h1V401.1h1V400.9h1V400.9h1V401.5h1V401.4h1V401.2h1V401h1V401.6h1V399.7h1V399.6h1V401.1h1V400.7h1V399.9h1V399.8h1V399.3h1V399.2h1V398.3h1V397.6h1V398.4h1V398.2h1V397.9h1V396.5h1V397.3h1V397.8h1V399.5h1V398.5h1V398.8h1V397.2h1V396.4h1V395.9h1V395.5h1V395.5h1V395.9h1V398.2h1V398.2h1V398.9h1V398.3h1V397.1h1V396.1h1V395.4h1V395.4h1V395.8h1V395.8h1V395.9h1V396h1V396h1V397.4h1V396.8h1V398.1h1V398h1V396.9h1V395.3h1V395.2h1V396.4h1V395.3h1V397.4h1V397.7h1V398.3h1V397.3h1V397.1h1V397.6h1V398.7h1V400.7h1V400.2h1V399.7h1V397.4h1V396h1V395.3h1V397.1h1V396.5h1V395.9h1V396.6h1V396.1h1V394.9h1V394h1V393.5h1V391.1h1V390.5h1V390.1h1V388.5h1V389.3h1V388.6h1V386.7h1V387.6h1V387.1h1V387h1V388.7h1V388.7h1V387.5h1V387.6h1V387.2h1V387.3h1V385.8h1V386.1h1V386.8h1V385.8h1V388.4h1V389h1V389.4h1V389.3h1V389.7h1V390h1V392h1V392.4h1V392.8h1V393.7h1V394h1V393.4h1V393.6h1V393.4h1V392h1V390.1h1V390h1V389.9h1V391.3h1V392.8h1V393.3h1V392.8h1V390h1V389.5h1V389.1h1V388.4h1V390.1h1V389.5h1V389.4h1V388.8h1V389.6h1V389h1V388.5h1V386.7h1V386.3h1V385.8h1V385.7h1V385.1h1V385.4h1V385.5h1V384.6h1V385.2h1V384.8h1V386.1h1V386.8h1V389.4h1V389.6h1V390.2h1V388.6h1V391.9h1V392.5h1V393.3h1V393.7h1V394.3h1V394.9h1V393.8h1V394.4h1V395h1V397h1V397.5h1V398h1V395.7h1V395.9h1V398.5h1V397.1h1V397.5h1V399.7h1V399.8h1V399.7h1V399.4h1V399h1V398.7h1V398.3h1V393.8h1V393.3h1V393.4h1V391.7h1V393.1h1V392.6h1V389.6h1V389.1h1V392.8h1V392.4h1V388.7h1V388.2h1V387.7h1V385.2h1V386.1h1V386.1h1V386.5h1V386.5h1V391.7h1V390.8h1V390.8h1V390.9h1V392.6h1V386.5h1V385.3h1V385.5h1V391.4h1V392.6h1V392.7h1V393.7h1V389.4h1V389.6h1V389.8h1V387.4h1V386.6h1V386.9h1V387.2h1V387.9h1V392.1h1V392.3h1V392.6h1V394h1V394.2h1V394.4h1V391.1h1V391.3h1V391.6h1V393h1V394.3h1V394.3h1V392.5h1V392.8h1V393h1V395.7h1V396.4h1V394.9h1V395.1h1V395.5h1V395.8h1V396.3h1V396.5h1V396.7h1V394.9h1V395.1h1V398.3h1V398.5h1V397.9h1V398.1h1V398.3h1V398.5h1V399.4h1V399.7h1V399.9h1V399.6h1V401.2h1V401.4h1V399.5h1V399.7h1V399.9h1V402h1V400.2h1V401.4h1V401.8h1V403.3h1V403.5h1V403.3h1V401.9h1V401.7h1V402.1h1V401.6h1V402h1V403.9h1V404.1h1V404.3h1V404.7h1V405.1h1V405.1h1V405.3h1V405.1h1V405.4h1V405.6h1V407.9h1V408.2h1V407.7h1V406h1V407.9h1V407.9h1V407.8h1V406.6h1V406.5h1V406h1V406.4h1V406.4h1V405.6h1V405.6h1V405.5h1V407.3h1V407.1h1V406.7h1V404.3h1V404h1V403.5h1V403h1V403.9h1V404.2h1V403.7h1V403.2h1V401.7h1V401.3h1V400.8h1V400.6h1V399.7h1V399.2h1V398.6h1V398.2h1V396.8h1V396.8h1V396.4h1V395.5h1V395.1h1V397.4h1V397.1h1V396.4h1V396.1h1V395.8h1V395h1V394.6h1V393.3h1V392.9h1V392.6h1V393.3h1V393h1V392.6h1V392.3h1V391.9h1V391.6h1V389.9h1V389.6h1V391h1V390.7h1V390.4h1V388.8h1V388.5h1V388.2h1V388h1V388.9h1V388.3h1V387.6h1V386.8h1V386.1h1V384.4h1V383.7h1V383.3h1V382.6h1V383.3h1V380.1h1V380.6h1V379.7h1V378.9h1V377.2h1V376h1V374.6h1V375.3h1V373.9h1V372.5h1V371.1h1V367.6h1V366.2h1V364.3h1V362.8h1V359.4h1V356.2h1V353.3h1V349.9h1V344.2h1V340.6h1V338.5h1V334.9h1V331.2h1V328.1h1V323.6h1V316.6h1V312.4h1V306h1V300.7h1V296.6h1V290.6h1V282.8h1V276h1V270.8h1V264h1V254.8h1V248h1V242h1V235.1h1V229.5h1V223.7h1V219.9h1V217h1V216.3h1V216.3h1V215.9h1V215.9h1V216h1V215.7h1V215.2h1V215.4h1V216.4h1V221h1V223h1V227h1V231.2h1V235.5h1V239.8h1V244h1V248.7h1V255.3h1V260.1h1V264.8h1V268.6h1V273.5h1V278.9h1V286.3h1V292.6h1V299h1V304.7h1V312.1h1V319.5h1V325.6h1V333.4h1V341.3h1V349h1V356.7h1V365.7h1V373.2h1V379.6h1V384.1h1V388.4h1V392.4h1V397.1h1V400.8h1V403.5h1V404h1V404.9h1V405.4h1V406.2h1V407.1h1V407.7h1V407.9h1V408.6h1V408.6h1V409.3h1V409.4h1V410.1h1V410.1h1V408.8h1V408.9h1V411.1h1V411.2h1V411.2h1V411.2h1V411.3h1V411.3h1V411h1V411h1V410.2h1V410.2h1V410.6h1V410.5h1V409.4h1V409.3h1V409.3h1V409.2h1V409.1h1V410.6h1V409.8h1V409.6h1V409.5h1V409.2h1V409.1h1V408.9h1V408.6h1V408.5h1V409.1h1V409.3h1V409.2h1V407h1V407.1h1V408.8h1V407.9h1V409h1V408.8h1V408.6h1V406h1V405.7h1V405.1h1V407.3h1V404.8h1V404.3h1V404.8h1V404.3h1V402.4h1V401.9h1V403.9h1V402.9h1V401.7h1V401.1h1V398.9h1V399.2h1V398.3h1V399.4h1V398.8h1V395.4h1V394.8h1V395.5h1V395.1h1V394.7h1V396.4h1V396.3h1V395.9h1V394.6h1V394.5h1V394.8h1V396.7h1V397.6h1V398.7h1V399.2h1V399.8h1V400.4h1V401h1V401.6h1V401h1V400.2h1V400.8h1V401.4h1V401.5h1V403.9h1V405.1h1V404.1h1V404.8h1V405.7h1V406.6h1V407.3h1V408.2h1V406.2h1V406.6h1V407.6h1V408.4h1V409.3h1V409.7h1V411.2h1V411.5h1V411.9h1V412.2h1V411.8h1V412.1h1V412.5h1V411.5h1V411.7h1V411.8h1V411.2h1V411.3h1V414h1V414.1h1V414.3h1V414.4h1V412.6h1V413.7h1V413.8h1V413.8h1V413.6h1V413.6h1V413.6h1V413.7h1V413.5h1V413.2h1V412.5h1V412.6h1V412.1h1V411.9h1V411.5h1V410.7h1V408.8h1V405.5h1V405.6h1V404.3h1V403h1V402h1V400.9h1V398.2h1V397.2h1V396.4h1V397.7h1V397.7h1V397.4h1V397.4h1V395.5h1V396.6h1V399h1V399.6h1V398.8h1V401.1h1V401.8h1V399.2h1V400.5h1V401.2h1V402.9h1V403.6h1V405.3h1V405.8h1V405.3h1V405.9h1V407.5h1V407.9h1V408.2h1V409.1h1V407.9h1V408.4h1V408.4h1V407.8h1V407.6h1V407.4h1V407.7h1V406.4h1V406.1h1V407.6h1V407.3h1V407.7h1V405.2h1V404h1V403.8h1V405.4h1V406.3h1V406.1h1V405.9h1V406.2h1V406h1V402.6h1V402.4h1V402.2h1V403h1V402.6h1V402.3h1V401.7h1V402.8h1V403.2h1V402.9h1V402.4h1V401.1h1V398.5h1V397h1V396.6h1V396.3h1V395.9h1V398.7h1V398.5h1V397.9h1V397.7h1V397.5h1V395.7h1V395.5h1V398.6h1V397.3h1V397.1h1V399.2h1V399.1h1V396.5h1V396.3h1V395.9h1V395.8h1V395.6h1V396.5h1V396.3h1V394.5h1V429.6h-1V427.7h-1V427.6h-1V428.5h-1V426.1h-1V426.1h-1V426.4h-1V429.7h-1V430.4h-1V430.4h-1V432.4h-1V432.4h-1V432.4h-1V432.4h-1V431.9h-1V431h-1V431h-1V429.9h-1V426.8h-1V429.5h-1V430.4h-1V429.3h-1V429.2h-1V429.2h-1V430.2h-1V430.2h-1V430.1h-1V430.9h-1V430.4h-1V430.1h-1V429.1h-1V429.1h-1V429h-1V428.1h-1V427.7h-1V427.8h-1V429.3h-1V429.5h-1V430.1h-1V428.9h-1V429.2h-1V429.2h-1V429.4h-1V428.5h-1V428.6h-1V428.8h-1V430.5h-1V430.8h-1V429.6h-1V428.9h-1V430.9h-1V431h-1V431.5h-1V431.6h-1V433.1h-1V433.2h-1V431h-1V433h-1V432.8h-1V430.5h-1V431.9h-1V431.5h-1V428.7h-1V428.1h-1V427.5h-1V426.8h-1V426.4h-1V425.7h-1V424.9h-1V423.5h-1V423h-1V422.4h-1V421.6h-1V420.2h-1V419.5h-1V418.5h-1V417.9h-1V417.5h-1V419.5h-1V419.4h-1V419.2h-1V419.3h-1V420.7h-1V418.9h-1V419.4h-1V420.2h-1V420.1h-1V423h-1V424.4h-1V425.3h-1V425.1h-1V426h-1V426.4h-1V426.9h-1V429.4h-1V429.7h-1V428.1h-1V428.3h-1V428.3h-1V426.7h-1V427.3h-1V427.4h-1V428.3h-1V428.5h-1V428.8h-1V428.9h-1V428.8h-1V428.8h-1V428.6h-1V429.3h-1V429.2h-1V429.1h-1V428.2h-1V428.6h-1V428.5h-1V428.4h-1V427.3h-1V427.1h-1V427h-1V425.6h-1V425.3h-1V426.1h-1V426h-1V425.6h-1V425.6h-1V425.2h-1V424.8h-1V424.2h-1V423.4h-1V422.6h-1V423.2h-1V420.1h-1V420h-1V419.5h-1V421.9h-1V421.4h-1V420.8h-1V417.6h-1V417h-1V417h-1V415.8h-1V415.1h-1V414.5h-1V413.4h-1V412.7h-1V412.1h-1V413.2h-1V412.1h-1V411.5h-1V412.5h-1V412h-1V411.5h-1V411h-1V408.2h-1V408.3h-1V408.3h-1V408.7h-1V408.8h-1V409.2h-1V411.5h-1V412h-1V412.6h-1V413.9h-1V414.5h-1V415h-1V415.5h-1V415.5h-1V416.1h-1V416.7h-1V418.3h-1V418.4h-1V418.9h-1V418.4h-1V419h-1V419.5h-1V419.2h-1V421h-1V419.6h-1V420h-1V420.3h-1V422.4h-1V422.4h-1V423.1h-1V423.7h-1V423.2h-1V423.9h-1V424h-1V424.1h-1V423.5h-1V421.8h-1V423.1h-1V422.2h-1V423.8h-1V424.2h-1V424.3h-1V424.1h-1V424.2h-1V424.2h-1V425.4h-1V425.5h-1V424.9h-1V425.1h-1V425.2h-1V423.7h-1V423.8h-1V425.2h-1V425.9h-1V423.6h-1V423.6h-1V426h-1V426h-1V424.4h-1V425.7h-1V425.6h-1V425.5h-1V425h-1V424.9h-1V424.5h-1V424.3h-1V424.2h-1V422.8h-1V422.5h-1V422.6h-1V422.4h-1V422.2h-1V421.6h-1V421.2h-1V419.6h-1V418.5h-1V418.8h-1V417.9h-1V417h-1V417.3h-1V415.4h-1V411.7h-1V406.7h-1V401h-1V396.2h-1V391.8h-1V384.4h-1V377.4h-1V369.7h-1V362.1h-1V353.6h-1V345.8h-1V338h-1V329.1h-1V321.7h-1V317.4h-1V311h-1V303.1h-1V296.8h-1V292.2h-1V284.9h-1V282h-1V277.2h-1V272.5h-1V267.3h-1V262.6h-1V257.2h-1V251.4h-1V247.8h-1V243.5h-1V240.9h-1V235.9h-1V231.2h-1V228.2h-1V227.4h-1V227.1h-1V227h-1V227h-1V229h-1V228.9h-1V228.9h-1V229.4h-1V229h-1V231.2h-1V235.2h-1V241.1h-1V247.7h-1V254.6h-1V259.6h-1V268.4h-1V274.6h-1V281.4h-1V288.2h-1V294.3h-1V300.8h-1V306.6h-1V312.7h-1V318h-1V323.4h-1V328.2h-1V335.2h-1V339.7h-1V343.6h-1V345.9h-1V349.6h-1V353.3h-1V357.1h-1V360.7h-1V364.2h-1V366.3h-1V369.7h-1V373.1h-1V378.6h-1V379h-1V380.4h-1V381.8h-1V383.9h-1V385.3h-1V384.8h-1V388.7h-1V390h-1V390.9h-1V391.8h-1V390.7h-1V391.4h-1V392.4h-1V393.1h-1V393.8h-1V396.3h-1V397h-1V397.7h-1V397.6h-1V398.3h-1V398.9h-1V399.6h-1V400.2h-1V399.1h-1V399.5h-1V399.8h-1V401.2h-1V400.9h-1V401.2h-1V401.5h-1V403.7h-1V404h-1V404.3h-1V405.1h-1V405.4h-1V403.7h-1V404h-1V405h-1V405.5h-1V406.5h-1V404.6h-1V404.9h-1V405.2h-1V406.1h-1V406.6h-1V407.1h-1V408.3h-1V408.7h-1V409h-1V408.9h-1V409.3h-1V409.8h-1V408.7h-1V409.7h-1V410.2h-1V410.2h-1V410.7h-1V412.7h-1V411.3h-1V411.7h-1V415h-1V415.4h-1V414.3h-1V414.8h-1V416.5h-1V415.9h-1V416.4h-1V417.9h-1V416.1h-1V416.6h-1V417h-1V419.6h-1V417.2h-1V417.3h-1V418.1h-1V418.5h-1V418.6h-1V419h-1V419.1h-1V419.1h-1V419.8h-1V419.9h-1V420.6h-1V420.7h-1V420.9h-1V419.3h-1V419.7h-1V419.6h-1V420h-1V420.5h-1V423.1h-1V423.5h-1V424.3h-1V423.7h-1V424.9h-1V425.3h-1V429.3h-1V429.6h-1V430.5h-1V429.4h-1V429.9h-1V429.9h-1V430.8h-1V433.8h-1V433.5h-1V426.3h-1V426.2h-1V426.2h-1V426h-1V425.4h-1V425.8h-1V425.8h-1V427h-1V425.5h-1V423.3h-1V423h-1V422.9h-1V424.1h-1V424.1h-1V423.8h-1V425.2h-1V424.1h-1V424.1h-1V426.6h-1V425.3h-1V426.3h-1V426.3h-1V428.1h-1V427.8h-1V426.8h-1V425.6h-1V425.6h-1V425.3h-1V426.6h-1V424.2h-1V424.2h-1V426.6h-1V426.1h-1V426.1h-1V426.1h-1V424.1h-1V424.5h-1V427.1h-1V425h-1V424.7h-1V424.7h-1V424.7h-1V426.2h-1V425h-1V427.4h-1V427.4h-1V428.6h-1V428.6h-1V425.9h-1V424.1h-1V453.3h-1V453.3h-1V454.5h-1V454.5h-1V454.2h-1V453.8h-1V455.7h-1V455.8h-1V455.1h-1V425.1h-1V426h-1V426.2h-1V424.9h-1V424.8h-1V425.4h-1V426.9h-1V427.1h-1V425.2h-1V426.2h-1V428h-1V430.9h-1V432.7h-1V434.5h-1V449.2h-1V451.1h-1V453.2h-1V448.3h-1V449.8h-1V451.3h-1V454.4h-1V454.8h-1V454.6h-1V442.8h-1V441.3h-1V442h-1V441.9h-1V441h-1V462.1h-1V463.8h-1V465.2h-1V465h-1V462.4h-1V461.7h-1V469h-1V468.5h-1V460.6h-1V460.1h-1V461h-1V437.5h-1V436.9h-1V436.8h-1V437.5h-1V436.8h-1V436h-1V435h-1V434h-1V433.1h-1V432.1h-1V430.1h-1V427.6h-1V425.5h-1V423.4h-1V422.4h-1V419.1h-1V414.5h-1V412.7h-1V412.6h-1V413.7h-1V412h-1V410.8h-1V411h-1V411.3h-1V409.5h-1V411h-1V411.7h-1V412.4h-1V413.2h-1V414.8h-1V415.9h-1V416.6h-1V417.3h-1V419.4h-1V420.1h-1V420.8h-1V420.4h-1V421.3h-1V421h-1V420.5h-1V421h-1V423.3h-1V422.1h-1V423.7h-1V423.9h-1V424.1h-1V424.2h-1V434h-1V434.1h-1V436.2h-1V436.6h-1V438.1h-1V438.2h-1V434.5h-1V434.2h-1V433.5h-1V423.1h-1V422.7h-1V422.1h-1V426.6h-1V426.7h-1V426.9h-1V426.7h-1V427.6h-1V428.8h-1V429.1h-1V427.8h-1V430.7h-1V430.6h-1V428.7h-1V428.8h-1V426.9h-1V424.6h-1V423.8h-1V425h-1V425.1h-1V425.2h-1V425.9h-1V442.5h-1V441.8h-1V441.9h-1V442.7h-1V446.3h-1V446.4h-1V445.9h-1V446h-1V444.2h-1V440h-1V440.5h-1V425.3h-1V425.4h-1V429.5h-1V429.6h-1V429.7h-1V428.3h-1V428.6h-1V427.6h-1V427.7h-1V427.5h-1V425.6h-1V425.6h-1V428.5h-1V428.4h-1V430.3h-1V430.3h-1V427.8h-1V427h-1V428h-1V426.8h-1V428.1h-1V427.8h-1V424.6h-1V425.3h-1V425h-1V430.6h-1V430.3h-1V430.1h-1V431.2h-1V431.3h-1V431.8h-1V431.8h-1V431.5h-1V431.1h-1V421.8h-1V421.5h-1V420.8h-1V420.2h-1V420.7h-1V420.6h-1V422.4h-1V421.4h-1V422h-1V421.4h-1V421.3h-1V421.3h-1V421.9h-1V422.8h-1V421.4h-1V421.3h-1V421.3h-1V422.4h-1V422.3h-1V423.3h-1V421.8h-1V421.8h-1V421.6h-1V422h-1V423h-1V422.1h-1V436.9h-1V434.9h-1V434.8h-1V434.5h-1V433.7h-1V433h-1V433h-1V432.6h-1V435h-1V421h-1V420.5h-1V423.1h-1V422.2h-1V421h-1V417.7h-1V418.3h-1V417.7h-1V417.5h-1V417.8h-1V417.9h-1V416.7h-1V416.8h-1V416.9h-1V417.2h-1V417.4h-1V417.1h-1V417.7h-1V417.9h-1V418h-1V417.3h-1V417.4h-1V419.1h-1V419.2h-1V419.3h-1V420h-1V420.2h-1V419.7h-1V419.9h-1V420h-1V418.4h-1V420.1h-1V420.7h-1V420.8h-1V421h-1V419.1h-1V419.2h-1V420.9h-1V421h-1V420.3h-1V421.3h-1V421.4h-1V422.9h-1V423h-1V423.1h-1V420.7h-1V420.8h-1V420.9h-1V421.1h-1V421.1h-1V421.2h-1V423.3h-1V421.3h-1V421.4h-1V423.8h-1V423.9h-1V423.9h-1V421.7h-1V421.7h-1V421.8h-1V423.2h-1V423.9h-1V424.1h-1V422.4h-1V422.4h-1V422.5h-1V423.7h-1V423.6h-1V423.4h-1V423.5h-1V423.5h-1V424.4h-1V424.5h-1V422.2h-1V422.3h-1V424h-1V423.3h-1V423.4h-1V423.5h-1V423.6h-1V423.3h-1V424.3h-1V424.3h-1V425h-1V425.1h-1V425.1h-1V424.1h-1V424.1h-1V424.2h-1V424h-1V424.1h-1V425.3h-1V425.3h-1V425.4h-1V424.5h-1V424.6h-1V426.7h-1V426.8h-1V426.1h-1V426.1h-1V426.5h-1V426h-1V426.1h-1V426h-1V426h-1V426.1h-1V425.4h-1V425.5h-1V425.5h-1V424.9h-1V424.9h-1V425.3h-1V426.5h-1V426.5h-1V425.3h-1V425h-1V425h-1V424.5h-1V426.2h-1V426.2h-1V426.2h-1V426.2h-1V425.8h-1V425.8h-1V425.8h-1V425.9h-1V425.9h-1V425.9h-1V426.9h-1V426.9h-1V426.9h-1V425.9h-1V425.9h-1V425.9h-1V427h-1V427h-1V426.9h-1V426.7h-1V426.7h-1V426.9h-1V426.9h-1V426.9h-1V427h-1V427h-1V425.1h-1V425.3h-1V425.3h-1V425.4h-1V425.4h-1V425.4h-1V425.4h-1V425.4h-1V425.4h-1V426.3h-1V425.5h-1V425.5h-1V425.5h-1V426.8h-1V426h-1V424.9h-1V424.9h-1V424.9h-1V425.2h-1V425.2h-1V425.5h-1V425.5h-1V425.5h-1V425.2h-1V425.2h-1V425.2h-1V426.7h-1V426.7h-1V425.5h-1V425.5h-1V425.5h-1V426.9h-1V426.9h-1V426.5h-1V426.5h-1V426.5h-1V425.1h-1V425.1h-1V425.1h-1V424.7h-1V425.5h-1V424.6h-1V424.6h-1V424.7h-1V424.7h-1V424.8h-1V424.8h-1V424.9h-1V425h-1V425h-1V425.1h-1V425.2h-1V425.2h-1V425.3h-1V425.4h-1V425.4h-1V425.5h-1V425.5h-1V425.6h-1V425.7h-1V425.7h-1V425.8h-1V425.9h-1V425.9h-1V426h-1V426.1h-1V426.1h-1V426.2h-1V426.3h-1V426.3h-1V426.4h-1V426.5h-1V426.5h-1V426.6h-1V426.7h-1V426.7h-1V426.8h-1V426.9h-1V426.9h-1V427h-1V427.1h-1V427.1h-1V427.2h-1V427.3h-1V427.3h-1V427.4h-1V427.5h-1V427.5h-1V427.6h-1V427.6h-1V427.7h-1V427.8h-1V427.8h-1V427.9h-1V428h-1V428h-1V428.1h-1V428.1h-1V428.2h-1V428.2h-1V428.3h-1V428.3h-1V428.3h-1V429.4h-1V429.2h-1V429.2h-1V429.2h-1V429h-1V429h-1V428.9h-1V428.7h-1V429.1h-1V430.8h-1V430.8h-1V428.7h-1V428.5h-1V428.4h-1V430h-1V429.9h-1V430.2h-1V430.2h-1V428.2h-1V428.1h-1V429.5h-1V427.2h-1V427.2h-1V427.1h-1V429.4h-1V429.3h-1V429.2h-1V427.5h-1V427.4h-1V427.3h-1V427.3h-1V427.3h-1V427h-1V426.9h-1V426.9h-1V427.5h-1V427.4h-1V427.3h-1V428.8h-1V428.7h-1V428.7h-1V428.9h-1V428.8h-1V428.8h-1V428.2h-1V428.1h-1V427.2h-1V427.2h-1V427.1h-1V427.5h-1V427.5h-1V427.5h-1V427.6h-1V427.6h-1V427.6h-1V426.2h-1V426.2h-1V427.6h-1V427.6h-1V427.5h-1V426.1h-1V428.3h-1V426.2h-1V428.5h-1V427.6h-1V425.8h-1V425.8h-1V426h-1V425.9h-1V425.9h-1V427.5h-1V425.9h-1V425.9h-1V427.8h-1V427.7h-1V427.7h-1V428.4h-1V426.8h-1V426.9h-1V426.9h-1V427h-1V427.4h-1V427.3h-1V427.3h-1V426.4h-1V426.4h-1V426.3h-1V425.4h-1V425.4h-1V425.4h-1V427.8h-1V427.8h-1V427.3h-1V427.3h-1V427.3h-1V425.9h-1V425.8h-1V427.8h-1V427.7h-1V425.4h-1V425.4h-1V426.9h-1V426.9h-1V425.4h-1V425.4h-1V425.4h-1V426.1h-1V426h-1V426h-1V426.6h-1V425.6h-1V425.6h-1V425.6h-1V427.7h-1V426.7h-1V426.7h-1V426.7h-1V426.4h-1V424.9h-1V427.2h-1V426.6h-1V426.5h-1V425.9h-1V425.9h-1V425.9h-1V426.4h-1V427.4h-1V425.6h-1V425.6h-1V425.4h-1V425.4h-1V427h-1V426.4h-1V427.2h-1V425.3h-1V425.2h-1V425.2h-1V425.1h-1V425h-1V425.9h-1V425.9h-1V425.9h-1V424.3h-1V424.3h-1V426.3h-1V424.4h-1V424.3h-1V424.3h-1V424.3h-1V426.6h-1V426.5h-1V426.5h-1V426h-1V426h-1V425.8h-1V426.7h-1V426.7h-1V424.9h-1V425.6h-1V425.5h-1V426.3h-1V424.9h-1V424.8h-1V424.8h-1V426.4h-1V426h-1V426h-1V426h-1V424.1h-1V425.7h-1V425.7h-1V425.6h-1V424.5h-1V424.7h-1V424.7h-1V424.6h-1V425.4h-1V424.1h-1V424.1h-1V425.3h-1V425.2h-1V425.2h-1V424.7h-1V424.6h-1V425.3h-1V425.7h-1V425.6h-1V424.3h-1V424.2h-1V424h-1V424.7h-1V424.7h-1V424.7h-1V424.9h-1V424.9h-1V425.4h-1V422.9h-1V425.3h-1V425.3h-1V424.4h-1V424.3h-1V424.3h-1V424.5h-1V425.3h-1V425.1h-1V425.1h-1V422.8h-1V422.8h-1V423.7h-1V423.7h-1V423.5h-1V423.5h-1V424.4h-1V424.4h-1V424.4h-1V424.1h-1V424.9h-1V424.9h-1V424.9h-1V424.9h-1V424.1h-1V424.2h-1V424.3h-1V423.8h-1V424.5h-1V423.8h-1V425.3h-1V424.4h-1V424.5h-1V425.9h-1V426h-1V424.6h-1V426.5h-1V426.6h-1V426.7h-1V424.8h-1V424.9h-1V425h-1V424.7h-1V424.8h-1V424.9h-1V426.1h-1V426.2h-1V426.7h-1V426.8h-1V427.2h-1V427.3h-1V427.4h-1V425.6h-1V425.7h-1V426.8h-1V427.9h-1V428h-1V428.7h-1V428.8h-1V428.9h-1V427.1h-1V428.8h-1V428.8h-1V427.3h-1V427.3h-1V426.5h-1V426.4h-1V426.4h-1V427.3h-1V427.4h-1V427.3h-1V427.2h-1V428.3h-1V426.6h-1V428.1h-1V428h-1V427.7h-1V427.6h-1V426.7h-1V426.6h-1V427.1h-1V426.3h-1V426.2h-1V426h-1V424.5h-1V424.4h-1V426.2h-1V426h-1V424.4h-1V424.2h-1V425.1h-1V424.9h-1V424.6h-1V423h-1V422.8h-1V422.5h-1V423.8h-1V423.6h-1V423.4h-1V422.2h-1V423.3h-1V421h-1V421.2h-1V420.9h-1V421.8h-1V421.6h-1V420.6h-1V420.4h-1V420.2h-1V421.2h-1V421h-1V420.7h-1V420.4h-1V420.1h-1V419.9h-1V420.3h-1V420h-1V419.8h-1V417.1h-1V416.9h-1V417.5h-1V417.2h-1V416.1h-1V415.8h-1V415.3h-1V415.1h-1V414.8h-1V415.1h-1V415.3h-1V416.2h-1V415.7h-1V415.5h-1V415.2h-1V413.9h-1V413.6h-1V415.3h-1V415h-1V414.8h-1V412.5h-1V414.1h-1V412.5h-1V412.9h-1V414.1h-1V413.9h-1V411.4h-1V411.2h-1V411.1h-1V411.5h-1V412h-1V412h-1V411.9h-1V410.2h-1V410.2h-1V410.1h-1V412.7h-1V412.7h-1V412.4h-1V412.9h-1V412.8h-1V411.7h-1V411.7h-1V412.5h-1V412.5h-1V412.5h-1V412h-1V411.2h-1V411.5h-1V411.4h-1V410.8h-1V410.7h-1V410.7h-1V411h-1V410.9h-1V410.9h-1V411h-1V411h-1V409.8h-1V409.8h-1V409.7h-1V409.7h-1V410.3h-1V411.5h-1V410.9h-1V409.5h-1V409.5h-1V408.9h-1V408.9h-1V410.5h-1V410.8h-1V408.9h-1V408.8h-1V410.6h-1V411.1h-1V409.5h-1V410.5h-1V409.9h-1V410.9h-1V410.9h-1V408.9h-1V408.9h-1V408.8h-1V409.4h-1V408.8h-1V408.8h-1V408.1h-1V409.8h-1V409.7h-1V409.7h-1V409.2h-1V409.1h-1V409.1h-1V407.4h-1V407.3h-1V407.6h-1V407.6h-1V407.5h-1V407.5h-1V408.9h-1V407.2h-1V408.1h-1V408.1h-1V408h-1V407.5h-1V407.5h-1V408.8h-1V407.7h-1V409.3h-1V409.1h-1V406.9h-1V407.5h-1V407.5h-1V407.9h-1V407.9h-1V407.9h-1V407.3h-1V408.7h-1V408.7h-1V408.7h-1V407h-1V407.9h-1V407.9h-1V407.9h-1V409h-1V409h-1V407.4h-1V407.6h-1V407.6h-1V409.2h-1V409.2h-1V407.8h-1V407.8h-1V407.8h-1V406.6h-1V406.6h-1V407.4h-1V407.4h-1V407.4h-1V408.1h-1V407.1h-1V407.6h-1V406.8h-1V406.8h-1V406.8h-1V406.8h-1V406.8h-1V407.1h-1V407.3h-1V407.3h-1V407.3h-1V408h-1V408h-1V408.5h-1V408.5h-1V409.1h-1V409.1h-1V408.9h-1V408.9h-1V408.3h-1V408.3h-1V408.5h-1V408.5h-1V409.1h-1V409.1h-1V408.6h-1V408.6h-1V408.6h-1V408h-1V409.5h-1V409.5h-1V408h-1V408.1h-1V407.8h-1V408.3h-1V408.3h-1V408.3h-1V406.5h-1V406.5h-1V406.5h-1V406.8h-1V406.8h-1V407.7h-1V407.6h-1V406.5h-1V406.4h-1V406.4h-1V406.7h-1V406.6h-1V406.5h-1V405.6h-1V405.5h-1V405.4h-1V405.4h-1V406.7h-1V406.6h-1V407.6h-1V407.5h-1V407.4h-1V404.8h-1V404.7h-1V404.6h-1V405.3h-1V405.2h-1V405.1h-1V405.2h-1V404.1h-1V404h-1V403.9h-1V404.6h-1V404.5h-1V404.4h-1V404.1h-1V405h-1V404.9h-1V407.4h-1V408.2h-1V408.6h-1V408.9h-1V410.4h-1V410.8h-1V408.2h-1V408.5h-1V408.9h-1V410.9h-1V411.3h-1V412.4h-1V413.5h-1V414h-1V413.7h-1V411.7h-1V414h-1V414h-1V415.7h-1V414.7h-1V414.8h-1V414.8h-1V415.7h-1V413.4h-1V411.7h-1V412.4h-1V412.5h-1V412.4h-1V412.4h-1V412h-1V412.1h-1V431.1h-1V431.4h-1V436.1h-1V436.5h-1V437h-1V435.5h-1V438.1h-1V436.9h-1V437h-1V436.3h-1V436.1h-1V416.2h-1V416.6h-1V416.7h-1V419.2h-1V419.7h-1V419.9h-1V417.9h-1V418.3h-1V426.6h-1V424.5h-1V426h-1V428.3h-1V428.7h-1V431.1h-1V431.5h-1V431.9h-1V433h-1V424.1h-1V424.7h-1V425.6h-1V423.1h-1V422.4h-1V423.4h-1V423.5h-1V423.5h-1V421.5h-1V421.6h-1V421.6h-1V419.8h-1V450.5h-1V451.4h-1V450.7h-1V453.3h-1V452.2h-1V452.2h-1V452.3h-1V452.4h-1V449.9h-1V449.9h-1V454.9h-1V424.6h-1V424.7h-1V435.9h-1V436.3h-1V440.6h-1V440.4h-1V440.5h-1V440.5h-1V442.4h-1V441.8h-1V441.9h-1V423.5h-1V423.5h-1V425.3h-1V425.4h-1V425.6h-1V424.9h-1V424.9h-1V424.9h-1V424.2h-1V429h-1V427.9h-1V427.8h-1V427.1h-1V426.6h-1V426.6h-1V429.4h-1V427.9h-1V447.3h-1V447.2h-1V451.2h-1V451.9h-1V451.6h-1V445.1h-1V445.1h-1V445.5h-1V446h-1V422.5h-1V422.4h-1V422.4h-1V447.4h-1V447.4h-1V449.4h-1V450h-1V446.9h-1V446.9h-1V446h-1V445.2h-1V445.2h-1V422.4h-1V422.4h-1V422.4h-1V424h-1V424.6h-1V424.6h-1V428.8h-1V427h-1V427h-1V426.7h-1V428.7h-1V424.1h-1V424.2h-1V429h-1V428.7h-1V429.1h-1V425.8h-1V423.8h-1V424.1h-1V424.1h-1V424.2h-1V421.5h-1V421.6h-1V431.1h-1V430.9h-1V431.5h-1V434.7h-1V432.1h-1V431.6h-1V432.6h-1V434.8h-1V434.6h-1V427h-1V424.7h-1V424.5h-1V420.8h-1V420.7h-1V459.6h-1V459.5h-1V459.4h-1V462.2h-1V461.9h-1V460.5h-1V460.4h-1V465.2h-1V465h-1V463.9h-1V459.4h-1V421.8h-1V423.9h-1V423.8h-1V426.5h-1V426.3h-1V425h-1V424.9h-1V420.7h-1V421.1h-1V421.2h-1V419.9h-1V424.1h-1V424.1h-1V425.1h-1V423.5h-1V423.4h-1V440.3h-1V438.5h-1V438.6h-1V437.1h-1V436.4h-1V435.7h-1V436.5h-1V436.3h-1V436.6h-1V425.4h-1V424.2h-1V424.3h-1V424.4h-1V423.4h-1V423.3h-1V422.2h-1V422.3h-1V423.2h-1V424.9h-1V423.7h-1V423.6h-1V424.2h-1V424.1h-1V426h-1V424h-1V426.1h-1V426.6h-1V426.4h-1V422.6h-1V422.5h-1V423.7h-1V425.9h-1V425.1h-1V424.8h-1V421.6h-1V421.3h-1V420.6h-1V421.7h-1V421.7h-1V421.5h-1V421.2h-1V421.8h-1V421.6h-1V421.1h-1V420.8h-1V419.4h-1V419.4h-1V420.9h-1V420.9h-1V421h-1Z" fill="#000"/>
<g fill="#000">
<path d="M210,393.7L171.5,415.2L210,436.7Z"/>
<path d="M302.9,381.8L264.4,403.3L302.9,424.8Z"/>
<path d="M395.8,379.5L357.3,401L395.8,422.5Z"/>
<path d="M488.7,383.5L450.2,405L488.7,426.5Z"/>
<path d="M581.6,385.2L543.1,406.7L581.6,428.2Z"/>
<path d="M674.5,398.1L636,419.6L674.5,441.1Z"/>
<path d="M767.4,396.6L728.9,418.1L767.4,439.6Z"/>
<path d="M860.3,398.8L821.8,420.3L860.3,441.8Z"/>
<path d="M953.2,401.5L914.7,423L953.2,444.5Z"/>
<path d="M1046.1,398.5L1007.6,420L1046.1,441.5Z"/>
<path d="M1139,396.5L1100.5,418L1139,439.5Z"/>
<path d="M1231.9,388.5L1193.4,410L1231.9,431.5Z"/>
<path d="M1324.8,385.4L1286.3,406.9L1324.8,428.4Z"/>
<path d="M1417.7,388.7L1379.2,410.2L1417.7,431.7Z"/>
<path d="M1510.6,389.2L1472.1,410.7L1510.6,432.2Z"/>
<path d="M1603.5,223.3L1565,244.8L1603.5,266.3Z"/>
<path d="M1696.4,394.2L1657.9,415.7L1696.4,437.2Z"/>
<path d="M1789.3,397.4L1750.8,418.9L1789.3,440.4Z"/>
<path d="M1882.2,390.7L1843.7,412.2L1882.2,433.7Z"/>
</g>
<path d="M182,536 184,536 186,536 188,536 190,536 192,536 194,536 196,536 198,536 200,536 202,536 204,536 206,536 208,536 210,536 212,536 214,536 216,536 218,536 220,536 222,536 224,536 226,536 228,535.9 230,535.9 232,535.8 234,535.6 236,535.5 238,535.3 240,535.1 242,534.9 244,534.7 246,534.5 248,534.3 250,534.1 252,533.9 254,533.7 256,533.5 258,533.3 260,533.1 262,532.9 264,532.7 266,532.5 268,532.3 270,532.1 272,531.9 274,531.7 276,531.5 278,531.3 280,531.1 282,530.9 284,530.7 286,530.5 288,530.3 290,530.1 292,529.9 294,529.7 296,529.6 298,529.4 300,529.2 302,529 304,528.9 306,528.7 308,528.5 310,528.4 312,528.2 314,528 316,527.8 318,527.7 320,527.5 322,527.3 324,527.1 326,527 328,526.8 330,526.6 332,526.5 334,526.3 336,526.1 338,525.9 340,525.8 342,525.6 344,525.4 346,525.2 348,525.1 350,524.9 352,524.7 354,524.6 356,524.4 358,524.2 360,524 362,523.9 364,523.7 366,523.5 368,523.4 370,523.2 372,523.1 374,523 376,522.9 378,522.8 380,522.7 382,522.6 384,522.5 386,522.4 388,522.3 390,522.3 392,522.2 394,522.1 396,522 398,521.9 400,521.9 402,521.8 404,521.7 406,521.6 408,521.5 410,521.4 412,521.4 414,521.3 416,521.2 418,521.2 420,521.1 422,521.2 424,521.2 426,521.3 428,521.4 430,521.5 432,521.6 434,521.7 436,521.8 438,521.8 440,522 442,522.1 444,522.2 446,522.2 448,522.4 450,522.4 452,522.5 454,522.6 456,522.7 458,522.8 460,522.9 462,523 464,523.1 466,523.2 468,523.3 470,523.4 472,523.5 474,523.5 476,523.6 478,523.7 480,523.8 482,523.9 484,523.9 486,524 488,524.1 490,524.2 492,524.3 494,524.4 496,524.4 498,524.5 500,524.6 502,524.7 504,524.8 506,524.8 508,524.9 510,525 512,525.1 514,525.2 516,525.3 518,525.3 520,525.4 522,525.5 524,525.6 526,525.7 528,525.8 530,525.8 532,525.9 534,526.1 536,526.2 538,526.3 540,526.4 542,526.6 544,526.7 546,526.9 548,527 550,527.2 552,527.3 554,527.5 556,527.6 558,527.8 560,527.9 562,528.1 564,528.2 566,528.4 568,528.5 570,528.7 572,528.8 574,529 576,529.1 578,529.3 580,529.4 582,529.6 584,529.7 586,529.9 588,530 590,530.1 592,530.3 594,530.4 596,530.6 598,530.7 600,530.9 602,531 604,531.2 606,531.3 608,531.5 610,531.6 612,531.8 614,531.9 616,532.1 618,532.2 620,532.3 622,532.5 624,532.6 626,532.7 628,532.9 630,533 632,533.1 634,533.3 636,533.4 638,533.5 640,533.7 642,533.8 644,533.9 646,534.1 648,534.2 650,534.3 652,534.5 654,534.6 656,534.7 658,534.9 660,535 662,535.1 664,535.3 666,535.4 668,535.5 670,535.7 672,535.9 674,536.2 676,536.6 678,537.1 680,537.7 682,538.3 684,539 686,539.7 688,540.3 690,540.9 692,541.5 694,541.9 696,542.2 698,542.3 700,542.1 702,541.9 704,541.6 706,541.2 708,540.9 710,540.5 712,540.2 714,539.9 716,539.5 718,539.1 720,538.8 722,538.4 724,538.1 726,537.8 728,537.4 730,537.1 732,536.8 734,536.5 736,536.3 738,536.1 740,536.1 742,536 744,536 746,536 748,536 750,536.1 752,536.1 754,536.2 756,536.3 758,536.4 760,536.5 762,536.6 764,536.7 766,536.8 768,536.9 770,537 772,537.1 774,537.2 776,537.3 778,537.4 780,537.5 782,537.6 784,537.7 786,537.8 788,537.9 790,538 792,538.1 794,538.2 796,538.3 798,538.4 800,538.5 802,538.6 804,538.7 806,538.8 808,538.9 810,539 812,539.1 814,539.2 816,539.3 818,539.4 820,539.5 822,539.6 824,539.7 826,539.8 828,539.8 830,539.9 832,540 834,540.1 836,540.2 838,540.3 840,540.4 842,540.5 844,540.6 846,540.6 848,540.7 850,540.8 852,540.9 854,541 856,541.1 858,541.2 860,541.2 862,541.3 864,541.4 866,541.5 868,541.6 870,541.7 872,541.8 874,541.8 876,541.9 878,542 880,542.1 882,542.2 884,542.3 886,542.4 888,542.5 890,542.5 892,542.6 894,542.7 896,542.8 898,542.9 900,543 902,543.1 904,543.1 906,543.2 908,543.3 910,543.4 912,543.5 914,543.6 916,543.7 918,543.7 920,543.8 922,543.9 924,543.9 926,543.9 928,543.9 930,543.8 932,543.7 934,543.7 936,543.6 938,543.6 940,543.5 942,543.4 944,543.4 946,543.3 948,543.2 950,543.2 952,543.1 954,543 956,543 958,542.9 960,542.8 962,542.7 964,542.6 966,542.5 968,542.4 970,542.3 972,542.2 974,542.1 976,542 978,541.9 980,541.8 982,541.7 984,541.6 986,541.5 988,541.4 990,541.3 992,541.2 994,541.1 996,541 998,540.9 1000,540.8 1002,540.7 1004,540.6 1006,540.5 1008,540.4 1010,540.3 1012,540.3 1014,540.2 1016,540.1 1018,540.1 1020,540 1022,540 1024,540 1026,540 1028,540 1030,540 1032,540 1034,539.9 1036,539.9 1038,539.8 1040,539.6 1042,539.5 1044,539.4 1046,539.3 1048,539.1 1050,539 1052,538.8 1054,538.7 1056,538.6 1058,538.4 1060,538.3 1062,538.2 1064,538 1066,537.9 1068,537.8 1070,537.6 1072,537.5 1074,537.4 1076,537.2 1078,537.1 1080,536.9 1082,536.8 1084,536.7 1086,536.5 1088,536.4 1090,536.3 1092,536.2 1094,536.1 1096,536.1 1098,536 1100,536 1102,536 1104,536 1106,536 1108,536 1110,536 1112,536 1114,536 1116,536 1118,536 1120,536 1122,536 1124,536 1126,536 1128,536 1130,536 1132,536 1134,536 1136,536 1138,536 1140,536 1142,536 1144,536 1146,536 1148,536 1150,536 1152,536 1154,535.9 1156,535.8 1158,535.7 1160,535.6 1162,535.4 1164,535.2 1166,535.1 1168,534.9 1170,534.8 1172,534.6 1174,534.4 1176,534.3 1178,534.1 1180,533.9 1182,533.8 1184,533.6 1186,533.4 1188,533.2 1190,533.1 1192,532.9 1194,532.8 1196,532.6 1198,532.4 1200,532.3 1202,532.3 1204,532.3 1206,532.3 1208,532.4 1210,532.5 1212,532.7 1214,532.8 1216,533 1218,533.1 1220,533.3 1222,533.4 1224,533.6 1226,533.7 1228,533.9 1230,534 1232,534.2 1234,534.3 1236,534.5 1238,534.6 1240,534.8 1242,534.9 1244,535.1 1246,535.2 1248,535.4 1250,535.5 1252,535.6 1254,535.7 1256,535.7 1258,535.7 1260,535.5 1262,535.4 1264,535.2 1266,535 1268,534.8 1270,534.6 1272,534.4 1274,534.2 1276,534 1278,533.8 1280,533.6 1282,533.4 1284,533.2 1286,533 1288,532.8 1290,532.6 1292,532.4 1294,532.3 1296,532.2 1298,532.2 1300,532.2 1302,532.3 1304,532.3 1306,532.4 1308,532.5 1310,532.6 1312,532.6 1314,532.7 1316,532.6 1318,532.4 1320,532 1322,531.3 1324,530.3 1326,529.2 1328,528 1330,526.8 1332,525.5 1334,524.2 1336,523.1 1338,522.3 1340,522.1 1342,522.7 1344,524 1346,525.8 1348,527.7 1350,529.6 1352,531.1 1354,532.3 1356,533.3 1358,534.1 1360,534.9 1362,535.5 1364,536 1366,536.3 1368,536.4 1370,536.3 1372,536.2 1374,536 1376,535.7 1378,535.5 1380,535.3 1382,535.1 1384,534.8 1386,534.6 1388,534.4 1390,534.1 1392,533.9 1394,533.7 1396,533.5 1398,533.4 1400,533.3 1402,533.2 1404,533.3 1406,533.3 1408,533.4 1410,533.5 1412,533.6 1414,533.7 1416,533.8 1418,533.9 1420,534 1422,534.1 1424,534.2 1426,534.3 1428,534.4 1430,534.5 1432,534.6 1434,534.7 1436,534.8 1438,534.9 1440,535 1442,535.1 1444,535.3 1446,535.4 1448,535.5 1450,535.7 1452,535.8 1454,535.9 1456,536.1 1458,536.2 1460,536.3 1462,536.5 1464,536.6 1466,536.7 1468,536.8 1470,536.8 1472,536.8 1474,536.7 1476,536.6 1478,536.5 1480,536.3 1482,536.2 1484,536.1 1486,535.9 1488,535.8 1490,535.7 1492,535.5 1494,534.9 1496,533.9 1498,532.9 1500,531.9 1502,530.9 1504,530 1506,529.1 1508,528.1 1510,527.2 1512,526.3 1514,525.4 1516,524.6 1518,524 1520,523.3 1522,522.6 1524,522 1526,521.3 1528,520.6 1530,520 1532,519.3 1534,518.6 1536,518 1538,517.3 1540,516.6 1542,515.6 1544,514.1 1546,512.6 1548,511.2 1550,509.7 1552,508.3 1554,506.8 1556,504.6 1558,501.6 1560,498.7 1562,495.8 1564,492.3 1566,485.6 1568,478.4 1570,470.9 1572,463.2 1574,455.4 1576,446.5 1578,435.5 1580,424.3 1582,412.1 1584,398.1 1586,383.7 1588,369.3 1590,354.9 1592,341.6 1594,335.3 1596,334.5 1598,334.5 1600,334.5 1602,334.6 1604,338.7 1606,346.9 1608,355.7 1610,364.8 1612,374.7 1614,384.6 1616,394.7 1618,406.7 1620,420 1622,433.7 1624,449.7 1626,466 1628,482.1 1630,497.8 1632,510.1 1634,520 1636,528.9 1638,531.8 1640,533.6 1642,535.5 1644,536.6 1646,536.9 1648,537.2 1650,537.5 1652,537.8 1654,538.1 1656,538.3 1658,538.5 1660,538.6 1662,538.6 1664,538.5 1666,538.4 1668,538.2 1670,538 1672,537.8 1674,537.6 1676,537.4 1678,537.2 1680,537 1682,536.8 1684,536.6 1686,536.3 1688,535.8 1690,535.3 1692,534.5 1694,533.6 1696,532.6 1698,531.5 1700,530.4 1702,529.2 1704,528 1706,526.7 1708,525.5 1710,524.4 1712,523.5 1714,523.2 1716,523.3 1718,523.9 1720,524.9 1722,526 1724,527.2 1726,528.5 1728,529.7 1730,530.9 1732,532 1734,533.2 1736,534.2 1738,535.1 1740,536 1742,536.9 1744,537.7 1746,538.5 1748,539.2 1750,539.9 1752,540.4 1754,540.8 1756,541.1 1758,541.3 1760,541.4 1762,541.5 1764,541.6 1766,541.7 1768,541.6 1770,541.5 1772,541.1 1774,540.5 1776,539.5 1778,538.1 1780,536.3 1782,534.2 1784,532.1 1786,530.4 1788,529.2 1790,528.8 1792,529.1 1794,530 1796,531.3 1798,532.9 1800,534.4 1802,535.9 1804,537.4 1806,538.7 1808,539.8 1810,540.5 1812,540.9 1814,540.9 1816,540.7 1818,540.4 1820,540 1822,539.6 1824,539.2 1826,538.8 1828,538.4 1830,538.1 1832,537.7 1834,537.4 1836,537.1 1838,536.8 1840,536.5 1842,536.2 1844,535.9 1846,535.6 1848,535.3 1850,535.1 1852,534.8 1854,534.6 1856,534.4 1858,534.2 1860,533.9 1862,533.7 1864,533.5 1866,533.4 1868,533.2" fill="none" stroke="#000" stroke-width="9" stroke-linejoin="round" />
<path d="M1556,504.6 1557,503.1 1558,501.6 1559,500.2 1560,498.7 1561,497.2 1562,495.8 1563,494.3 1564,492.3 1565,489.2 1566,485.6 1567,482 1568,478.4 1569,474.7 1570,470.9 1571,467 1572,463.2 1573,459.3 1574,455.4 1575,451.3 1576,446.5 1577,441.1 1578,435.5 1579,429.9 1580,424.3 1581,418.5 1582,412.1 1583,405.2 1584,398.1 1585,390.9 1586,383.7 1587,376.5 1588,369.3 1589,362.1 1590,354.9 1591,347.7 1592,341.6 1593,337.6 1594,335.3 1595,334.5 1596,334.5 1597,334.5 1598,334.5 1599,334.5 1600,334.5 1601,334.5 1602,334.6 1603,335.6 1604,338.7 1605,342.7 1606,346.9 1607,351.3 1608,355.7 1609,360.2 1610,364.8 1611,369.7 1612,374.7 1613,379.6 1614,384.6 1615,389.6 1616,394.7 1617,400.4 1618,406.7 1619,413.3 1620,420 1621,426.7 1622,433.7 1623,441.5 1624,449.7 1625,457.8 1626,466 1627,474.1 1628,482.1 1629,490.1 1630,497.8 1631,504.6 1632,510.1 1633,515.1" fill="none" stroke="#000" stroke-width="10.5" stroke-linejoin="round" />
<path d="M181.5,529.2V529.2h1V529.2h1V529.2h1V530.1h1V530.1h1V528.8h1V529.1h1V530.2h1V529.9h1V529.6h1V530.4h1V528.7h1V528.4h1V528.1h1V527h1V528.3h1V528.5h1V528.1h1V527.9h1V527.7h1V524.2h1V524h1V524.8h1V524.6h1V525.6h1V525.5h1V525.3h1V523.9h1V525h1V522.3h1V524.8h1V524.4h1V524.3h1V524.1h1V524.7h1V523.8h1V523.6h1V525.3h1V525.1h1V525h1V523h1V522h1V521.8h1V523.4h1V523.5h1V524.1h1V523.9h1V524h1V524h1V523.2h1V522.7h1V522.7h1V522.7h1V522.5h1V522.4h1V521.4h1V521.3h1V523.7h1V522.3h1V522.2h1V522.9h1V522.9h1V522.7h1V520h1V519.9h1V521.3h1V521.3h1V521.3h1V523.1h1V523.1h1V522h1V522h1V522.9h1V522.6h1V521.9h1V521.7h1V520.4h1V520.1h1V521.7h1V518.9h1V516.9h1V516.8h1V517.3h1V516.7h1V516.3h1V515.8h1V514.9h1V513.9h1V515.3h1V515.2h1V514.8h1V514.5h1V515.2h1V514.8h1V513.4h1V512.2h1V513.3h1V512.9h1V512.6h1V515.2h1V515.3h1V513.8h1V513.9h1V512.6h1V513.8h1V514.3h1V514.4h1V514.5h1V515.9h1V516h1V515.8h1V516.1h1V516.4h1V515.2h1V515.7h1V516.1h1V516.1h1V516.6h1V516.4h1V516.9h1V516.4h1V516.9h1V517.8h1V519h1V520.3h1V518.6h1V519h1V521.2h1V521.1h1V521.4h1V519.6h1V519.9h1V519.8h1V520h1V519.8h1V519.2h1V517.6h1V517.4h1V517.2h1V519.3h1V519.4h1V519.2h1V517.1h1V516.9h1V518.6h1V518.2h1V518.1h1V515.9h1V515.7h1V513.7h1V513.5h1V513.3h1V513.9h1V513.9h1V513.6h1V513.4h1V514.1h1V512.3h1V513.1h1V513.8h1V514h1V513.8h1V514.5h1V514.3h1V514.2h1V514.1h1V513h1V513.6h1V512h1V513.1h1V514h1V513.9h1V513h1V512.9h1V512.1h1V511.3h1V511.2h1V512.1h1V514h1V513.1h1V513h1V512.9h1V513.1h1V512.2h1V511.9h1V511.9h1V512.2h1V512h1V511.7h1V511.7h1V512h1V513h1V512.9h1V511.2h1V509.7h1V509.6h1V510.7h1V511.4h1V509.8h1V509.8h1V509.9h1V510.4h1V511.4h1V511.4h1V511.5h1V510.7h1V511.1h1V510.9h1V510.9h1V511.3h1V511.4h1V512h1V509.7h1V510.1h1V510.2h1V510.2h1V509.8h1V509.4h1V509.4h1V510.5h1V511h1V510.9h1V510.1h1V510.1h1V512.1h1V512.9h1V512.9h1V513.4h1V512.3h1V512.3h1V511.3h1V511.5h1V511.6h1V512h1V512.4h1V512.6h1V513.3h1V512.6h1V512.9h1V514.4h1V514.5h1V512.9h1V513.2h1V515h1V513.2h1V514.3h1V515.9h1V516h1V514.3h1V514.3h1V514.4h1V515.4h1V515.4h1V515.5h1V516.9h1V515.7h1V515.7h1V515.8h1V515.3h1V515.4h1V516.2h1V516.1h1V516.2h1V516.7h1V516.8h1V516.8h1V516.7h1V517.6h1V517.7h1V517.6h1V517.9h1V517.9h1V516.1h1V516.2h1V516.2h1V517.3h1V517.4h1V516h1V517.2h1V517.2h1V515.7h1V515.7h1V516.7h1V516.7h1V517.6h1V517.6h1V517.2h1V516h1V516.6h1V516.7h1V518.3h1V518.3h1V518.3h1V516.1h1V516.2h1V518.6h1V516.6h1V516.6h1V516.6h1V518.3h1V519.4h1V519.4h1V519.4h1V517.1h1V516.8h1V516.7h1V516.7h1V519.6h1V519.6h1V517.4h1V517.5h1V517.9h1V517.9h1V517.9h1V519.2h1V519.2h1V517.8h1V518.1h1V518.1h1V518.2h1V519h1V518.3h1V518.4h1V517.5h1V517.6h1V517.6h1V517.7h1V517.8h1V517.8h1V519.8h1V519.8h1V519.9h1V519.9h1V519.9h1V520h1V518.1h1V518.2h1V518.2h1V518.9h1V518.6h1V518.7h1V519.1h1V519.1h1V518.2h1V518.2h1V518.3h1V520.6h1V520.6h1V519.5h1V519.5h1V520.9h1V519.2h1V519.2h1V519.3h1V519.3h1V519.6h1V519.7h1V520h1V520.1h1V520.1h1V520.5h1V520.6h1V520.6h1V520.6h1V520.7h1V519.9h1V522.5h1V522.6h1V520.4h1V520.9h1V521.5h1V521.6h1V521.7h1V520.8h1V520.9h1V521h1V521.7h1V521.2h1V521.3h1V521.3h1V523.3h1V523.3h1V523.4h1V520.9h1V521h1V521h1V521.9h1V521.9h1V522.8h1V523.8h1V522.1h1V523.5h1V523.5h1V522.8h1V522.9h1V523h1V522.5h1V524.1h1V524.1h1V524.2h1V524.9h1V525h1V522.3h1V524.3h1V524.3h1V525.1h1V525.2h1V525.4h1V524.2h1V525.1h1V525.2h1V524.4h1V524.5h1V524.2h1V524.3h1V524.5h1V524.6h1V526.3h1V524.2h1V526.4h1V526.5h1V526.6h1V525.5h1V526h1V526.1h1V526.2h1V524.7h1V524.2h1V525.9h1V526h1V525.9h1V526h1V526.1h1V524.9h1V525h1V525h1V525h1V525.1h1V525.2h1V525h1V525.1h1V526.1h1V526.2h1V526.3h1V527.2h1V527.3h1V527.3h1V527.9h1V526.2h1V526.2h1V528.5h1V528.6h1V528.6h1V528.5h1V528.6h1V526.7h1V527.8h1V527.9h1V527.4h1V527.5h1V527.5h1V527.6h1V527.4h1V527.4h1V527.5h1V527.8h1V527.8h1V527h1V527.6h1V527.7h1V527.3h1V527.3h1V527.4h1V529.9h1V530h1V530h1V528.4h1V528.5h1V527.6h1V529.4h1V529.4h1V530.2h1V530.3h1V530.4h1V528.1h1V528.2h1V528.3h1V530.7h1V530.8h1V530.9h1V528.8h1V528.9h1V529.9h1V530.1h1V530.3h1V530.2h1V530.4h1V530.7h1V531.3h1V531.6h1V531.9h1V532.9h1V533.2h1V533.7h1V534h1V532.7h1V533h1V533.6h1V535h1V535.3h1V534.1h1V534.4h1V534.6h1V535.9h1V536h1V537h1V537h1V535.2h1V535.1h1V535h1V536.8h1V536.7h1V536.5h1V536h1V534.5h1V534.3h1V534.7h1V534.5h1V534.4h1V534.4h1V534.2h1V533.4h1V533.6h1V533.4h1V533.2h1V532.8h1V532.6h1V532.5h1V532.7h1V532.5h1V532.4h1V531h1V530.8h1V532.1h1V532.3h1V532.1h1V531.9h1V530.2h1V530h1V531.6h1V531.5h1V530.8h1V530.6h1V530.5h1V528.9h1V528.8h1V528.7h1V530.9h1V531.3h1V531.2h1V531.2h1V529.5h1V529.5h1V529.5h1V531.3h1V531.3h1V531.3h1V530.1h1V530.1h1V529.6h1V529.9h1V529.9h1V529.9h1V529.7h1V531.2h1V531.3h1V531.3h1V530.9h1V531h1V531h1V529.9h1V531.7h1V531.7h1V530h1V530.2h1V531.1h1V531.2h1V530.8h1V530.8h1V530.8h1V530.8h1V530.9h1V531.2h1V532.2h1V530.9h1V531h1V530.7h1V531.4h1V532.4h1V532h1V530.9h1V530.9h1V531h1V532.1h1V532.2h1V532.6h1V532.6h1V532.6h1V532.7h1V531.1h1V531.2h1V531.2h1V533h1V533h1V532.1h1V532.7h1V532.7h1V532.8h1V531.9h1V532h1V533.6h1V533.7h1V533.7h1V533h1V533.8h1V533.8h1V533.9h1V534h1V534.1h1V534.1h1V532.1h1V532.1h1V533.2h1V533.3h1V533.3h1V533.3h1V533.3h1V532.9h1V532.8h1V534.6h1V534.7h1V534.7h1V533.2h1V533.3h1V533.3h1V533.9h1V533.4h1V534.3h1V534.4h1V534.4h1V535h1V535h1V533.2h1V533.3h1V533.6h1V533.6h1V533.7h1V533.4h1V533.5h1V533.5h1V535.6h1V535.7h1V534.2h1V533.5h1V533.6h1V535.2h1V535.2h1V535.2h1V534.6h1V534.6h1V534.6h1V534.9h1V536h1V536.1h1V534.7h1V534.8h1V534.8h1V535.5h1V535.5h1V535.6h1V536.3h1V535.4h1V535.4h1V535.5h1V536h1V536.2h1V536.3h1V536.3h1V536.4h1V536.2h1V536.2h1V534.6h1V535.7h1V535.8h1V535.8h1V534.5h1V534.6h1V535.4h1V536.3h1V536.3h1V537.5h1V537.5h1V536.3h1V536.9h1V536.9h1V537h1V536.5h1V537.3h1V537.3h1V537.4h1V535.9h1V536.3h1V536.4h1V535.4h1V535.4h1V537h1V537.1h1V537h1V537.1h1V537.1h1V535.7h1V535.8h1V535.8h1V536.3h1V536.4h1V535.9h1V538.7h1V538.7h1V538.7h1V536.1h1V538.9h1V538.9h1V539h1V537.2h1V537.2h1V537.3h1V537.2h1V537.3h1V536.7h1V536.8h1V537.6h1V537.6h1V537.6h1V537.2h1V537.2h1V537.3h1V537h1V537h1V537.3h1V536.3h1V537.4h1V536.8h1V536.8h1V536.7h1V536.4h1V538.8h1V538.7h1V538.7h1V537h1V537h1V536.3h1V536.2h1V536.2h1V538h1V538h1V537.9h1V536h1V536h1V536h1V538.2h1V538.1h1V536.6h1V537.8h1V537.7h1V538.5h1V538.4h1V538.4h1V538.3h1V538.3h1V538.3h1V538.2h1V538.2h1V538.1h1V538.1h1V538h1V538h1V537.9h1V537.9h1V537.8h1V537.8h1V537.7h1V537.7h1V537.6h1V537.6h1V537.5h1V537.5h1V537.4h1V537.4h1V537.3h1V537.3h1V537.2h1V537.2h1V537.1h1V537.1h1V537h1V537h1V536.9h1V536.9h1V536.8h1V536.8h1V536.7h1V536.7h1V536.6h1V536.6h1V536.5h1V536.5h1V536.4h1V536.4h1V536.3h1V536.3h1V536.2h1V536.2h1V536.1h1V536.1h1V536h1V536h1V535.9h1V535.9h1V535.8h1V535.8h1V535.8h1V535.7h1V535.7h1V535.6h1V535.6h1V535.6h1V534.3h1V533.5h1V534.8h1V534.8h1V535.3h1V534.6h1V533.3h1V532.9h1V532.9h1V533.5h1V533.5h1V534.3h1V534.3h1V534.3h1V534.2h1V534.2h1V532.8h1V532.8h1V532.8h1V532.8h1V532.8h1V532.7h1V532.2h1V534.8h1V534.7h1V532.4h1V534.9h1V534.8h1V534.8h1V534.4h1V534.5h1V534.4h1V534.4h1V533.5h1V533.4h1V531.8h1V531.4h1V531.3h1V534.1h1V534h1V533.9h1V532.5h1V533.2h1V531.7h1V531.7h1V531.6h1V533.3h1V533.2h1V533.1h1V533.1h1V533h1V533h1V531.9h1V531.9h1V531.8h1V531.2h1V531.2h1V530.5h1V531.7h1V531.4h1V530.6h1V530.6h1V531.1h1V531h1V531.9h1V531.8h1V531.7h1V532h1V530.9h1V530.9h1V530.8h1V529.9h1V530.9h1V530.9h1V530.8h1V528.9h1V531.6h1V531.6h1V531.5h1V530h1V530.8h1V529.5h1V530.4h1V530.4h1V530.4h1V530.3h1V530.6h1V530.6h1V529.9h1V529.9h1V528.7h1V528.7h1V530.5h1V531.3h1V531.3h1V531.3h1V530.7h1V530.1h1V530.1h1V530.1h1V530.4h1V530.4h1V530.5h1V530.9h1V530.9h1V530.9h1V529.1h1V529.1h1V528.7h1V528.7h1V528.7h1V530.8h1V530.8h1V530.9h1V529.3h1V529.3h1V530.4h1V529.2h1V529.2h1V529.2h1V531.2h1V531.2h1V531.2h1V529.1h1V529.1h1V529.1h1V531.3h1V529.8h1V529.8h1V529.8h1V530.9h1V530.9h1V528.8h1V528.7h1V531h1V530.9h1V530.9h1V530.8h1V528.5h1V528.4h1V528.4h1V529.3h1V529.3h1V529.2h1V530.1h1V530h1V529.9h1V529.5h1V530h1V529.9h1V529.8h1V528.2h1V528.1h1V528h1V529.5h1V529.4h1V529.3h1V528.4h1V527.5h1V527.4h1V527.4h1V527.1h1V527h1V526.9h1V528.4h1V528.3h1V528.2h1V527.5h1V527.4h1V527.4h1V526.5h1V527.2h1V528.6h1V527.6h1V527.5h1V527.3h1V527.2h1V527.1h1V527h1V526.9h1V527.1h1V527.3h1V526.8h1V524.8h1V524.6h1V525.1h1V524.7h1V524.6h1V523.8h1V524.4h1V524.2h1V523.6h1V523.5h1V523.6h1V524.5h1V524.7h1V524.8h1V524.1h1V524h1V523.3h1V524.2h1V524.8h1V524.7h1V524.1h1V524.1h1V525.1h1V524.6h1V523.3h1V522.2h1V522.1h1V521.9h1V522h1V521.6h1V521.1h1V521h1V522.9h1V520.4h1V522.1h1V522.2h1V525.1h1V525.2h1V521.5h1V521.6h1V522.6h1V522.7h1V524.1h1V525h1V525.1h1V524.6h1V522.1h1V522.2h1V523.1h1V524.5h1V524.7h1V525.8h1V525.9h1V522.9h1V523h1V523h1V524.4h1V525.2h1V524.5h1V524.7h1V524.2h1V524.7h1V525.5h1V526h1V526.4h1V528h1V527.2h1V527.3h1V527.9h1V527h1V527.1h1V527.3h1V526.3h1V526.7h1V523.9h1V523.4h1V524.2h1V522.6h1V522.9h1V521.7h1V522.2h1V522.4h1V521.4h1V521h1V520.9h1V520.4h1V520h1V519.5h1V519.5h1V519.9h1V519.5h1V519h1V517.3h1V515.4h1V515.4h1V518.6h1V518.6h1V518.3h1V519.2h1V519.3h1V519.3h1V518.2h1V518.9h1V519h1V518.5h1V518.6h1V515.9h1V516.3h1V521h1V521h1V518.7h1V519.9h1V517.3h1V517h1V519.3h1V519.3h1V517.3h1V517.2h1V517h1V517.4h1V515h1V514.6h1V515.1h1V515.4h1V516.2h1V513.6h1V513.1h1V512.6h1V512.5h1V513.7h1V514.2h1V511.3h1V508.5h1V510.1h1V509.8h1V509.5h1V509.1h1V508.9h1V507.5h1V508.3h1V508.6h1V510h1V510.3h1V510.7h1V510.7h1V511.4h1V512.1h1V513.4h1V513.8h1V514.5h1V515h1V517.8h1V515.6h1V515.6h1V516.3h1V517h1V515.8h1V517.2h1V517.7h1V520.1h1V521.6h1V522.1h1V523.2h1V522.9h1V523.2h1V523.5h1V525h1V522.2h1V521.8h1V521.1h1V520.7h1V518.6h1V521.6h1V523.2h1V522.6h1V522.3h1V521.9h1V518.3h1V516.8h1V516.4h1V515.9h1V514h1V512.9h1V513.9h1V513.4h1V517.9h1V515.4h1V515.1h1V517.4h1V513.9h1V511.5h1V513.4h1V511.2h1V512.5h1V512.5h1V514.8h1V513.6h1V513.6h1V513.5h1V513.6h1V513.5h1V513.6h1V515.1h1V515.3h1V515.8h1V513.6h1V513h1V515.9h1V516.1h1V515.4h1V515.7h1V515.4h1V516.3h1V516.5h1V514.4h1V514.3h1V514.3h1V516.3h1V517.4h1V517.7h1V518.2h1V518.6h1V518.8h1V516.8h1V517h1V517.5h1V517.8h1V517.4h1V517.7h1V518h1V520.3h1V520.6h1V520.9h1V521.5h1V521.7h1V523.9h1V524.1h1V524.3h1V523.5h1V523.7h1V523.4h1V523.6h1V522.5h1V524.2h1V523h1V525.9h1V523.3h1V523.4h1V523.5h1V523.7h1V524.3h1V524.7h1V526.2h1V525.2h1V525.5h1V525h1V525.4h1V525.8h1V525.9h1V528.3h1V528.5h1V527.7h1V526.1h1V526.4h1V526.9h1V527.2h1V527.7h1V528.7h1V529h1V527.5h1V527.8h1V529.3h1V529.8h1V528.5h1V529.8h1V530h1V530.3h1V530.2h1V530.3h1V530.2h1V531h1V529.8h1V529.8h1V529.7h1V530h1V529h1V528.9h1V528.9h1V530.5h1V528.4h1V528.3h1V530.7h1V530.5h1V527.6h1V527.1h1V526.6h1V527.7h1V527.2h1V526.7h1V524.7h1V525.7h1V526.3h1V525.8h1V523.5h1V522.8h1V523.6h1V523.1h1V522.7h1V521.8h1V521.3h1V520.9h1V520.2h1V519.8h1V519.3h1V518.1h1V517.8h1V516.9h1V516.6h1V518.6h1V518.2h1V517.6h1V516h1V515.7h1V515.4h1V515.4h1V515.1h1V514.7h1V515h1V515.6h1V512.8h1V512.5h1V512.2h1V512h1V511.6h1V513.2h1V512.8h1V513h1V512.6h1V512.3h1V511.1h1V510.2h1V509.6h1V508.4h1V507.7h1V506.6h1V505.9h1V507.3h1V506.6h1V505.8h1V503.2h1V502.5h1V501.1h1V500.4h1V499.6h1V501h1V499.8h1V498.4h1V496.9h1V495.4h1V492.3h1V490.8h1V489.4h1V488.5h1V486.5h1V483.4h1V480.6h1V477.3h1V473.7h1V467.5h1V463.7h1V459.9h1V457.9h1V454h1V450.1h1V446.1h1V439.7h1V435.1h1V429.5h1V423.8h1V419.3h1V413.4h1V407.1h1V399h1V391.9h1V384.3h1V377.2h1V370h1V364.6h1V355h1V347.8h1V340.6h1V334.6h1V330.7h1V328.3h1V329.6h1V329.5h1V327.3h1V327.3h1V327.5h1V327.5h1V327.5h1V328h1V329.1h1V332.1h1V337.6h1V341.8h1V346.2h1V348.3h1V352.8h1V357.4h1V363.3h1V367.3h1V373h1V378h1V382.8h1V388h1V395.7h1V402.1h1V407.7h1V413.2h1V419.9h1V426.9h1V436.9h1V445.1h1V453.3h1V460.1h1V467.2h1V475.2h1V485.3h1V490.7h1V499.1h1V504.6h1V509.7h1V514.7h1V519h1V522.9h1V525.6h1V526.6h1V527.5h1V526.8h1V527.6h1V528.4h1V528.6h1V528.8h1V530.5h1V530.5h1V531.6h1V531.6h1V530.5h1V530.5h1V531.8h1V532h1V529.5h1V530h1V531.7h1V531.9h1V532h1V530.6h1V530.6h1V530.4h1V530.7h1V530.5h1V531.4h1V531.2h1V531.1h1V531.1h1V531h1V531.3h1V532h1V531.9h1V532h1V531.7h1V531.6h1V531h1V530.9h1V530.8h1V529.2h1V529.1h1V529h1V531h1V530h1V529.9h1V530.8h1V530.7h1V530.5h1V529.3h1V529.2h1V528.9h1V527.5h1V527.2h1V528.2h1V527.7h1V527.7h1V525.4h1V524.9h1V524.4h1V525h1V524.5h1V522.8h1V523.2h1V522.7h1V522.1h1V522.8h1V522.2h1V521.5h1V520h1V518.7h1V518.1h1V517.5h1V517.1h1V516.7h1V516.3h1V514.7h1V514.6h1V514.7h1V514.8h1V515.3h1V517.1h1V516.6h1V517.1h1V516.6h1V517.2h1V517.8h1V519.8h1V520.4h1V521h1V521.9h1V523.3h1V523.9h1V524.5h1V522.7h1V523.3h1V524.6h1V524.8h1V525.3h1V525.8h1V526.9h1V527.1h1V527.5h1V529.4h1V529.8h1V530.2h1V528.9h1V529.3h1V529.7h1V531.1h1V531.4h1V532h1V531.7h1V532h1V532.3h1V534h1V534.2h1V532.9h1V533h1V534.9h1V535h1V535.1h1V532.4h1V532.4h1V532.5h1V534.6h1V534.6h1V533.5h1V533.5h1V533.9h1V534.6h1V534.1h1V534.1h1V534h1V533.7h1V533.3h1V531.6h1V531.1h1V532h1V531.3h1V531.2h1V530.3h1V529.3h1V527h1V525.9h1V523.5h1V522.2h1V521h1V520.3h1V519.3h1V517.9h1V519.1h1V519h1V518.2h1V519.9h1V518.2h1V518.5h1V518.4h1V519h1V518.7h1V519.4h1V520.6h1V521.3h1V522h1V524.3h1V525h1V525.6h1V526.6h1V527.3h1V526.8h1V527.4h1V526.8h1V526.9h1V526.7h1V526.9h1V527.5h1V527.4h1V527.3h1V529.6h1V531.1h1V530.8h1V527.9h1V526.8h1V526.6h1V528.5h1V528.3h1V528.2h1V528.6h1V528.3h1V527h1V526.8h1V526h1V526.4h1V527.7h1V527.5h1V524h1V523.4h1V523.2h1V523h1V523.3h1V524.8h1V525.6h1V523.4h1V523h1V523.7h1V523.3h1V522.9h1V521.8h1V521.4h1V519.3h1V521.5h1V521.2h1V520.7h1V520.4h1V521.5h1V519.4h1V519.2h1V519.4h1V519.9h1V519.7h1V518.6h1V519.4h1V519.1h1V518.9h1V517.5h1V518.4h1V518.2h1V518h1V517.8h1V519.4h1V519.3h1V516.5h1V516.6h1V549.7h-1V550.5h-1V550.3h-1V550.3h-1V552.6h-1V552.5h-1V552.5h-1V552.1h-1V551.6h-1V550h-1V550.1h-1V549.2h-1V549.2h-1V548.3h-1V549.1h-1V549.1h-1V549.1h-1V550.1h-1V549.5h-1V550.1h-1V551.1h-1V550.3h-1V550.3h-1V550.2h-1V548.8h-1V549.1h-1V550h-1V549.9h-1V550.7h-1V550.1h-1V550.3h-1V550.3h-1V549.8h-1V548.3h-1V547.6h-1V547.7h-1V547.9h-1V549.6h-1V549.8h-1V549.9h-1V550h-1V552.1h-1V552.3h-1V551.1h-1V551.3h-1V551.5h-1V550.4h-1V551.1h-1V551.3h-1V551.5h-1V551.7h-1V551.8h-1V551.6h-1V552.1h-1V551.8h-1V551.4h-1V552h-1V552.6h-1V553h-1V552.7h-1V551.5h-1V552.2h-1V551.6h-1V550h-1V549.4h-1V548.5h-1V547.7h-1V547h-1V546.4h-1V544.8h-1V544h-1V543.6h-1V542.8h-1V541.7h-1V540.9h-1V542.2h-1V541.7h-1V539.8h-1V539.6h-1V538.5h-1V538.5h-1V538.4h-1V538.9h-1V540.5h-1V542.8h-1V542.4h-1V543.2h-1V543.3h-1V545.4h-1V546.3h-1V547.2h-1V546.5h-1V547.1h-1V549.5h-1V547.7h-1V548h-1V548.1h-1V550.5h-1V550.6h-1V549.9h-1V549.8h-1V549.9h-1V549.2h-1V549.2h-1V549.2h-1V549.6h-1V549.5h-1V550.3h-1V550.3h-1V550.3h-1V549.4h-1V549.3h-1V549.2h-1V549.3h-1V549.2h-1V549h-1V549.4h-1V549.4h-1V549.2h-1V546.4h-1V546.1h-1V545.7h-1V545.7h-1V545.3h-1V544.9h-1V544h-1V543.6h-1V545.2h-1V543.3h-1V542.9h-1V541.9h-1V541.5h-1V540.7h-1V540.2h-1V539.6h-1V540.4h-1V540.3h-1V539.8h-1V539.2h-1V539.5h-1V538.9h-1V538.3h-1V534.9h-1V534.2h-1V534.8h-1V534.2h-1V533.6h-1V533.7h-1V533.1h-1V532.5h-1V530.7h-1V532.4h-1V529.9h-1V529.6h-1V529.5h-1V530.6h-1V530.7h-1V531.3h-1V531.7h-1V532.2h-1V532.4h-1V531.7h-1V532.3h-1V533.4h-1V533.7h-1V533.9h-1V536.7h-1V537.3h-1V537.9h-1V536.6h-1V538h-1V539.3h-1V539.9h-1V539.2h-1V539.7h-1V540.2h-1V542.8h-1V543.2h-1V543.6h-1V543.2h-1V543.5h-1V543.8h-1V544.6h-1V543h-1V543.1h-1V544h-1V544.2h-1V544.3h-1V542.9h-1V544h-1V543.9h-1V542.9h-1V543h-1V543.2h-1V543.4h-1V545.4h-1V544.5h-1V544.6h-1V546.5h-1V546.6h-1V546.7h-1V544h-1V544.1h-1V544.4h-1V545.8h-1V545.9h-1V545.1h-1V545h-1V546.1h-1V545.7h-1V545.7h-1V546.8h-1V546.7h-1V546.6h-1V545.3h-1V545.2h-1V545.1h-1V546.6h-1V546.5h-1V546.3h-1V544.6h-1V544.3h-1V544h-1V543.5h-1V543.3h-1V543h-1V542.3h-1V541.4h-1V540.4h-1V539.3h-1V538.1h-1V536.5h-1V535.5h-1V535.3h-1V531.3h-1V526.5h-1V520.9h-1V516h-1V510.8h-1V504h-1V496.3h-1V487.8h-1V479.8h-1V472.2h-1V464h-1V455.9h-1V447.6h-1V440.8h-1V433.8h-1V427.1h-1V418.4h-1V411.3h-1V404.9h-1V399.3h-1V396.1h-1V391.1h-1V386.2h-1V380.1h-1V375.2h-1V370.3h-1V366.7h-1V362.3h-1V358.5h-1V354.1h-1V347.6h-1V344h-1V342h-1V341h-1V340.1h-1V340.1h-1V340.1h-1V339.6h-1V339.6h-1V339.6h-1V341.9h-1V340.5h-1V343.7h-1V347.7h-1V353.8h-1V361.6h-1V368.9h-1V374.1h-1V382.6h-1V389.8h-1V396.6h-1V403.7h-1V411.4h-1V419.3h-1V425.6h-1V431.4h-1V436.8h-1V442.4h-1V447.4h-1V452.8h-1V457.5h-1V461.9h-1V465.3h-1V469.2h-1V473.1h-1V476.4h-1V479.4h-1V483.1h-1V487.9h-1V492.2h-1V495.8h-1V498.8h-1V501.2h-1V502.7h-1V501.8h-1V505h-1V506.5h-1V506.5h-1V508h-1V511.2h-1V511.8h-1V512.7h-1V513.5h-1V515.1h-1V515.8h-1V516h-1V515.3h-1V516h-1V516.7h-1V518.4h-1V519.1h-1V519.9h-1V520.7h-1V521.4h-1V521.7h-1V521.7h-1V522.1h-1V524h-1V524.3h-1V523.4h-1V523.8h-1V524.1h-1V525.4h-1V525.8h-1V525.9h-1V526.3h-1V526.6h-1V526.5h-1V527.3h-1V527.6h-1V528.1h-1V528.5h-1V528.8h-1V527.8h-1V529.3h-1V529.3h-1V529.6h-1V528.6h-1V531.4h-1V530.9h-1V531.2h-1V531.7h-1V531.9h-1V532.4h-1V532.9h-1V532.2h-1V532.7h-1V533.2h-1V534.1h-1V534.7h-1V535.2h-1V537h-1V537.4h-1V538.1h-1V538.6h-1V539.1h-1V539.3h-1V538.9h-1V539.4h-1V538.8h-1V539.3h-1V540.8h-1V541.2h-1V541.4h-1V542.1h-1V540.7h-1V540.9h-1V541.1h-1V541.2h-1V543.4h-1V543.5h-1V543.5h-1V542.6h-1V542.6h-1V542.7h-1V542.9h-1V541.6h-1V542.1h-1V542.4h-1V542.8h-1V542.9h-1V545.1h-1V545.5h-1V545.9h-1V546.3h-1V546.6h-1V546.8h-1V545.9h-1V552h-1V552.4h-1V552.7h-1V553h-1V553.2h-1V553h-1V554.3h-1V553.3h-1V553.3h-1V547.4h-1V546.5h-1V546.5h-1V545.8h-1V548h-1V547.1h-1V547.1h-1V548.1h-1V547.7h-1V548.2h-1V548.2h-1V548.9h-1V549.3h-1V549h-1V549h-1V549h-1V549.7h-1V548.9h-1V546.3h-1V545.1h-1V545.1h-1V546.8h-1V546.8h-1V548.4h-1V548.3h-1V549.4h-1V548.1h-1V546.5h-1V545.6h-1V547h-1V547h-1V547.3h-1V548h-1V546.1h-1V547.2h-1V547.2h-1V549.1h-1V547.9h-1V547.9h-1V548.3h-1V545.3h-1V544.4h-1V547.2h-1V546.1h-1V547.2h-1V547.2h-1V548h-1V548h-1V548h-1V545.3h-1V574.8h-1V576.6h-1V576.6h-1V575.6h-1V574.2h-1V574.3h-1V574h-1V574h-1V574.8h-1V547.6h-1V549.4h-1V550.6h-1V548.1h-1V548.2h-1V548.4h-1V547.3h-1V547.4h-1V547.6h-1V549.4h-1V551.3h-1V550h-1V553.4h-1V555h-1V566.5h-1V567.6h-1V574.2h-1V576.2h-1V571.2h-1V573.8h-1V576h-1V575h-1V574.8h-1V572.3h-1V571.9h-1V571.7h-1V569.5h-1V569.3h-1V584.9h-1V585.4h-1V588h-1V587.7h-1V587.1h-1V586.1h-1V583.4h-1V583.7h-1V583.2h-1V582.7h-1V581.9h-1V562.8h-1V561.5h-1V561.7h-1V561.1h-1V557.3h-1V556.6h-1V553.5h-1V552.7h-1V551.8h-1V552.6h-1V550.6h-1V548.6h-1V550.7h-1V548.4h-1V546.1h-1V542.6h-1V538.5h-1V536.7h-1V535.5h-1V534.8h-1V533.5h-1V532.2h-1V532.2h-1V532.7h-1V532.5h-1V533.1h-1V534.4h-1V535.1h-1V535.5h-1V536.3h-1V538.7h-1V539.5h-1V538.2h-1V538.8h-1V539.5h-1V540.2h-1V543.6h-1V541.9h-1V542.7h-1V545.6h-1V546.2h-1V545.2h-1V545.6h-1V546.1h-1V547.4h-1V547.7h-1V548h-1V556.6h-1V556.3h-1V555.8h-1V556.2h-1V557.4h-1V558.5h-1V558.7h-1V559.2h-1V559.5h-1V550.2h-1V549.7h-1V550.3h-1V552h-1V552.3h-1V552.8h-1V551.9h-1V552.3h-1V552.6h-1V552.8h-1V552.5h-1V553.8h-1V553.2h-1V553.2h-1V556h-1V556h-1V556h-1V557h-1V557h-1V557h-1V555.9h-1V555.4h-1V568h-1V570.2h-1V568.4h-1V569.2h-1V569.9h-1V570.8h-1V565.8h-1V565.9h-1V566.5h-1V566.6h-1V567.5h-1V551.5h-1V551.5h-1V551.2h-1V556.8h-1V556.8h-1V557.2h-1V556.3h-1V554.4h-1V554.4h-1V552.1h-1V553.4h-1V553.2h-1V553h-1V551.8h-1V551.6h-1V552.1h-1V551.8h-1V551.1h-1V552.2h-1V552.1h-1V551.7h-1V551.9h-1V553.1h-1V552.7h-1V552.3h-1V557h-1V554.1h-1V553.7h-1V553.4h-1V552.1h-1V551.8h-1V551.5h-1V552.2h-1V551.9h-1V545.6h-1V547.5h-1V547.2h-1V544.8h-1V544.7h-1V544.6h-1V546.3h-1V545.8h-1V545.7h-1V542.8h-1V543.8h-1V543.6h-1V544.7h-1V544.6h-1V545.8h-1V545.7h-1V545.6h-1V543.8h-1V543.6h-1V543.4h-1V544h-1V543.3h-1V541.3h-1V541.9h-1V541.8h-1V543.3h-1V555.8h-1V554.7h-1V554.1h-1V555.8h-1V556.9h-1V554.9h-1V555.6h-1V556.7h-1V556.3h-1V543.6h-1V543.6h-1V541h-1V540.4h-1V539.9h-1V539.4h-1V538.8h-1V538.2h-1V537.4h-1V540.1h-1V537.7h-1V539.3h-1V539.4h-1V538.2h-1V538.3h-1V538.7h-1V539.5h-1V539h-1V539.5h-1V540.9h-1V541h-1V541.1h-1V539.1h-1V539.1h-1V539.2h-1V539.3h-1V539.3h-1V539.4h-1V539.5h-1V541.3h-1V541.1h-1V541.2h-1V541.2h-1V540.5h-1V540.6h-1V542.1h-1V541.1h-1V541.2h-1V541.3h-1V541.1h-1V541.2h-1V541.3h-1V540.8h-1V540.9h-1V540.8h-1V540.9h-1V540.9h-1V543.1h-1V542.2h-1V542.2h-1V541.1h-1V541.1h-1V542.9h-1V542.9h-1V540.6h-1V541.5h-1V542.7h-1V542.7h-1V541.3h-1V541.3h-1V541.3h-1V543.1h-1V543.1h-1V543.1h-1V542.5h-1V542.6h-1V542.7h-1V542.7h-1V541.5h-1V541.5h-1V541.5h-1V541.2h-1V541.2h-1V541.2h-1V541.3h-1V541.3h-1V543.3h-1V543.3h-1V543.3h-1V542h-1V543h-1V541.2h-1V542.1h-1V541h-1V541h-1V541h-1V541.9h-1V541.9h-1V540.8h-1V540.8h-1V540.8h-1V543.2h-1V541.1h-1V541.1h-1V541.1h-1V541.2h-1V541.2h-1V541.4h-1V541.4h-1V543.2h-1V541.3h-1V541.3h-1V541.3h-1V541.8h-1V541h-1V541.1h-1V541.1h-1V540.9h-1V540.9h-1V541h-1V541.1h-1V541.7h-1V541.7h-1V541.8h-1V543.8h-1V543.8h-1V543.9h-1V542h-1V542.1h-1V543.8h-1V541.6h-1V541.6h-1V544.3h-1V544.3h-1V542.6h-1V542.7h-1V542.7h-1V543.9h-1V543.9h-1V542.6h-1V542.7h-1V542.8h-1V543.9h-1V544h-1V544.1h-1V542.8h-1V542.9h-1V543h-1V545.2h-1V545.3h-1V545.3h-1V545.1h-1V545h-1V545.1h-1V545.1h-1V545h-1V543.4h-1V543.5h-1V544.6h-1V544.9h-1V545h-1V543.7h-1V546.3h-1V546.3h-1V546.4h-1V544h-1V544h-1V544.1h-1V544.6h-1V545.9h-1V546h-1V544.5h-1V544.6h-1V547.1h-1V545.3h-1V545.3h-1V546.1h-1V546.1h-1V546.1h-1V546.1h-1V546.1h-1V546.1h-1V545.6h-1V545.3h-1V545.5h-1V547h-1V547h-1V546.6h-1V547.4h-1V547.4h-1V546.3h-1V546.3h-1V545.1h-1V545.1h-1V545.1h-1V544.6h-1V544.6h-1V544.6h-1V544.7h-1V544.7h-1V544.8h-1V544.8h-1V544.8h-1V544.9h-1V544.9h-1V545h-1V545h-1V545.1h-1V545.1h-1V545.2h-1V545.2h-1V545.3h-1V545.3h-1V545.4h-1V545.4h-1V545.5h-1V545.5h-1V545.6h-1V545.6h-1V545.7h-1V545.7h-1V545.8h-1V545.8h-1V545.9h-1V545.9h-1V546h-1V546h-1V546.1h-1V546.1h-1V546.2h-1V546.2h-1V546.3h-1V546.3h-1V546.4h-1V546.4h-1V546.5h-1V546.5h-1V546.6h-1V546.6h-1V546.7h-1V546.7h-1V546.8h-1V546.8h-1V546.9h-1V546.9h-1V547h-1V547h-1V547.1h-1V547.1h-1V547.2h-1V547.2h-1V547.3h-1V547.3h-1V547.3h-1V547.4h-1V547.4h-1V547.5h-1V548.6h-1V548.6h-1V548.7h-1V548.3h-1V548.3h-1V548.4h-1V549h-1V549.6h-1V548.2h-1V548.2h-1V547.9h-1V548h-1V548.8h-1V548.9h-1V548.9h-1V550h-1V548.9h-1V548.9h-1V549.3h-1V550.2h-1V550.2h-1V550.9h-1V550.9h-1V550.9h-1V548.4h-1V550h-1V550h-1V550.1h-1V548.7h-1V548.7h-1V548.7h-1V550.4h-1V550.4h-1V550.7h-1V550.6h-1V550.8h-1V550.7h-1V550.7h-1V551.1h-1V551.1h-1V551.1h-1V549.6h-1V549.6h-1V549.7h-1V549.7h-1V548.7h-1V548.6h-1V548.6h-1V548.8h-1V550h-1V549.9h-1V548h-1V547.9h-1V547.9h-1V549h-1V549h-1V548.4h-1V548.3h-1V548.3h-1V549.1h-1V549.1h-1V547.7h-1V548.1h-1V548.1h-1V548h-1V547.7h-1V549.1h-1V549h-1V547.4h-1V547.4h-1V547.1h-1V547.1h-1V547h-1V547h-1V548h-1V547.9h-1V547.7h-1V547.7h-1V548h-1V547.9h-1V547.9h-1V547.2h-1V548.2h-1V548.1h-1V549h-1V548h-1V548h-1V548h-1V546.2h-1V546.1h-1V546.1h-1V547.1h-1V547.9h-1V547.9h-1V546.1h-1V546.1h-1V546.4h-1V546.4h-1V546h-1V545.9h-1V546.7h-1V546.6h-1V546.6h-1V545.4h-1V545.4h-1V545.3h-1V546h-1V545.8h-1V545.8h-1V545.8h-1V547h-1V545.7h-1V545.6h-1V547.5h-1V545h-1V544.9h-1V545.3h-1V545.3h-1V545.2h-1V545.7h-1V545.7h-1V545.7h-1V546.6h-1V546.6h-1V544.5h-1V546.3h-1V544.4h-1V544.4h-1V545.3h-1V544.6h-1V547h-1V547h-1V546.9h-1V544.1h-1V544.1h-1V544h-1V546.5h-1V546.4h-1V546.4h-1V546.2h-1V545h-1V544.9h-1V544.9h-1V545.1h-1V544h-1V545.2h-1V545.1h-1V545.6h-1V545.6h-1V545.5h-1V545.9h-1V545.8h-1V545.6h-1V545.6h-1V545.7h-1V545.7h-1V545.6h-1V543.3h-1V544.5h-1V544.4h-1V544.8h-1V544.8h-1V545.2h-1V545.1h-1V545.1h-1V544.7h-1V544.6h-1V544.6h-1V545.3h-1V543.7h-1V543.6h-1V543.6h-1V544.1h-1V544.1h-1V544.8h-1V544.8h-1V544.7h-1V542.7h-1V544.2h-1V544.1h-1V544.1h-1V544.6h-1V544.5h-1V542.6h-1V542.6h-1V542.5h-1V542.1h-1V543.2h-1V542.2h-1V542.2h-1V542.4h-1V541.8h-1V541.7h-1V541.6h-1V542h-1V541.9h-1V541.9h-1V541.4h-1V541.4h-1V541.9h-1V542.4h-1V542.3h-1V542.3h-1V543.3h-1V543.3h-1V543.3h-1V542.2h-1V542.2h-1V542.2h-1V541.2h-1V541.5h-1V543.1h-1V543.1h-1V542.9h-1V542.9h-1V542.5h-1V542.5h-1V541.8h-1V541.9h-1V543.5h-1V541h-1V541.2h-1V542.9h-1V543.1h-1V543.6h-1V543.8h-1V543.7h-1V543.9h-1V544.1h-1V543.6h-1V543.8h-1V544h-1V543.1h-1V544.5h-1V544.7h-1V544.9h-1V543.9h-1V544.1h-1V544.3h-1V546.8h-1V544.3h-1V544.4h-1V544.6h-1V546.5h-1V547.7h-1V547.8h-1V548h-1V547.5h-1V548.5h-1V548.6h-1V547.1h-1V547.3h-1V548.9h-1V549h-1V548.9h-1V549h-1V547.4h-1V549.6h-1V549.6h-1V549.6h-1V549.5h-1V546.8h-1V546.6h-1V546.3h-1V547.8h-1V547.5h-1V547.2h-1V546.8h-1V546.5h-1V545.1h-1V544.7h-1V544.7h-1V544.4h-1V542.9h-1V543.6h-1V543.3h-1V543h-1V542h-1V541.8h-1V541.5h-1V541.2h-1V542h-1V541.7h-1V541.6h-1V541.4h-1V542.6h-1V542.5h-1V542.4h-1V540.3h-1V540.3h-1V540.2h-1V540.2h-1V540.1h-1V541.9h-1V541.9h-1V541.5h-1V539.8h-1V539.7h-1V540.4h-1V540.3h-1V540.6h-1V540.2h-1V540.1h-1V541.4h-1V541.3h-1V539.3h-1V541.3h-1V541.7h-1V541h-1V540.9h-1V540.8h-1V539.3h-1V539.9h-1V539.9h-1V540.2h-1V540.2h-1V538.2h-1V538.1h-1V538.1h-1V538h-1V539.5h-1V539.4h-1V538.7h-1V538.7h-1V538.6h-1V539.9h-1V539.8h-1V538.9h-1V538.9h-1V539.9h-1V539.8h-1V538.6h-1V538.6h-1V538.5h-1V539.7h-1V539.6h-1V537h-1V539.1h-1V539h-1V538.9h-1V538.9h-1V538.1h-1V538h-1V537.9h-1V537.7h-1V537.6h-1V537.5h-1V537.5h-1V537.5h-1V537.4h-1V536.2h-1V536.2h-1V536.1h-1V537.4h-1V536.6h-1V536.1h-1V536.1h-1V536.8h-1V536.7h-1V536.6h-1V537.4h-1V536.9h-1V536.8h-1V536.4h-1V536.9h-1V536.8h-1V536.8h-1V535.8h-1V536.4h-1V536.4h-1V536.3h-1V536.9h-1V536.8h-1V536.6h-1V536.5h-1V534.7h-1V534.3h-1V534.2h-1V534.1h-1V536.4h-1V533.6h-1V535.6h-1V535.9h-1V535.8h-1V533.3h-1V533.2h-1V533.2h-1V535.9h-1V534.2h-1V534.1h-1V534h-1V534.3h-1V534.2h-1V535h-1V532.8h-1V532.7h-1V534h-1V533.9h-1V533.9h-1V533.4h-1V535h-1V534.5h-1V534.4h-1V534.3h-1V534.5h-1V534.4h-1V534.6h-1V534.5h-1V534.5h-1V533.4h-1V531.8h-1V531.7h-1V531.7h-1V531.9h-1V531.8h-1V531.7h-1V532.3h-1V532.2h-1V533.2h-1V533.1h-1V533.1h-1V533.4h-1V533.4h-1V533.3h-1V530.5h-1V533h-1V533h-1V532h-1V532h-1V531.9h-1V532.3h-1V532.3h-1V532.2h-1V532.9h-1V532.7h-1V531.1h-1V531.1h-1V530h-1V531.8h-1V531.7h-1V531.7h-1V531.6h-1V531.2h-1V531.2h-1V531.1h-1V531.1h-1V531h-1V531h-1V531.4h-1V531.3h-1V529.7h-1V529.7h-1V529.7h-1V532h-1V529.7h-1V529.7h-1V531.9h-1V529.5h-1V529.4h-1V529.4h-1V531.1h-1V531.1h-1V530.9h-1V530.8h-1V530.8h-1V530h-1V529.9h-1V529.4h-1V529.4h-1V529.4h-1V529.1h-1V529h-1V529h-1V529.1h-1V529h-1V528.5h-1V529.4h-1V529.3h-1V528.5h-1V528.3h-1V528.2h-1V528.4h-1V528.3h-1V528.7h-1V528.7h-1V528.6h-1V529.5h-1V529.5h-1V530.7h-1V530.6h-1V529.2h-1V529.1h-1V527.6h-1V527.6h-1V527.5h-1V527.9h-1V527.8h-1V528h-1V527.9h-1V527.3h-1V527.3h-1V527.2h-1V528.7h-1V529h-1V528.9h-1V528.9h-1V528.9h-1V528.8h-1V528.8h-1V527.6h-1V527.5h-1V527.7h-1V527.6h-1V526.8h-1V526.8h-1V526.7h-1V527.5h-1V529.2h-1V528.7h-1V527.6h-1V527.5h-1V527h-1V527.6h-1V527.6h-1V527.5h-1V526.8h-1V526.7h-1V526.7h-1V526.1h-1V527.9h-1V528.1h-1V530.5h-1V530.8h-1V529.9h-1V530.3h-1V531.4h-1V534.2h-1V534.7h-1V530.5h-1V530.9h-1V531.3h-1V533.2h-1V533.5h-1V535.8h-1V535.9h-1V535.3h-1V535.4h-1V533.3h-1V534.2h-1V535.9h-1V536h-1V534.6h-1V534.6h-1V534.7h-1V535.2h-1V536.1h-1V536.2h-1V537.6h-1V536.1h-1V536.2h-1V547.6h-1V549.4h-1V549.8h-1V549.3h-1V551.8h-1V552.2h-1V552h-1V552.4h-1V554h-1V554h-1V554.4h-1V542.4h-1V542.8h-1V539.6h-1V540.2h-1V540.6h-1V543.3h-1V541.7h-1V543.1h-1V548.6h-1V548.6h-1V548.7h-1V549.3h-1V550.5h-1V550.9h-1V550.8h-1V548.3h-1V547.7h-1V542.7h-1V544.8h-1V545.5h-1V545.6h-1V545.4h-1V546h-1V546.2h-1V546.3h-1V546.4h-1V545.1h-1V545.2h-1V546.2h-1V568.9h-1V571.3h-1V572.7h-1V572.7h-1V576.3h-1V577.1h-1V576.5h-1V575.6h-1V575.3h-1V575.4h-1V575.5h-1V551.1h-1V553.2h-1V560.9h-1V561.8h-1V561.9h-1V556.2h-1V556.3h-1V556.4h-1V555.5h-1V556.1h-1V554.9h-1V546.8h-1V548h-1V547.1h-1V547.2h-1V548.8h-1V552.6h-1V552.6h-1V550.9h-1V552.2h-1V551.9h-1V551.9h-1V551.1h-1V553.1h-1V549.5h-1V549.5h-1V548.6h-1V551.2h-1V568.4h-1V570.5h-1V570.5h-1V570.1h-1V568.1h-1V568.1h-1V570.7h-1V571.9h-1V572h-1V555.7h-1V550.4h-1V550.5h-1V569.2h-1V569.3h-1V569.5h-1V569.8h-1V569.8h-1V569.9h-1V569.3h-1V569.3h-1V569.4h-1V552.6h-1V552.5h-1V550.4h-1V549.5h-1V548.6h-1V552.4h-1V552h-1V552.6h-1V550.8h-1V552.4h-1V548.6h-1V548.7h-1V554.2h-1V556.8h-1V556.9h-1V553.4h-1V553.5h-1V553.5h-1V553.6h-1V553.6h-1V553.7h-1V553.9h-1V554h-1V560.6h-1V558.8h-1V555.6h-1V555.6h-1V556h-1V555.9h-1V556.4h-1V561h-1V560.9h-1V552.1h-1V552h-1V552.1h-1V553.8h-1V553.6h-1V581.4h-1V581.3h-1V583.2h-1V580.9h-1V582.5h-1V582.5h-1V583.8h-1V584.9h-1V584.5h-1V584h-1V583.9h-1V553.1h-1V552.9h-1V553.4h-1V551.5h-1V551.4h-1V551.3h-1V549.6h-1V549.5h-1V549h-1V549.1h-1V549.2h-1V550.8h-1V551.6h-1V551.6h-1V551.4h-1V551.4h-1V562.4h-1V562.3h-1V560.9h-1V560.9h-1V560.9h-1V561.8h-1V561.8h-1V563.8h-1V563.7h-1V552h-1V551.3h-1V551.2h-1V551.2h-1V552.2h-1V552.2h-1V551.7h-1V551.6h-1V549.6h-1V548.6h-1V548.5h-1V549.8h-1V549.8h-1V549.5h-1V549.4h-1V549.1h-1V547.2h-1V549h-1V547.9h-1V547.6h-1V548.8h-1V548.5h-1V548.4h-1V546.1h-1V545.7h-1V545.8h-1V544.5h-1V545.1h-1V544.7h-1V543.7h-1V543.2h-1V542.9h-1V543.6h-1V542.9h-1V542.6h-1V542.3h-1V542.3h-1V542.3h-1V542h-1V542h-1V542h-1Z" fill="#000"/>
<g fill="#000">
<path d="M171.5,542L196,520L220.5,542L196,564Z"/>
<path d="M264.4,536.2L288.9,514.2L313.4,536.2L288.9,558.2Z"/>
<path d="M357.3,528.6L381.8,506.6L406.3,528.6L381.8,550.6Z"/>
<path d="M450.2,529.6L474.7,507.6L499.2,529.6L474.7,551.6Z"/>
<path d="M543.1,534.5L567.6,512.5L592.1,534.5L567.6,556.5Z"/>
<path d="M636,541L660.5,519L685,541L660.5,563Z"/>
<path d="M728.9,536.2L753.4,514.2L777.9,536.2L753.4,558.2Z"/>
<path d="M821.8,540.7L846.3,518.7L870.8,540.7L846.3,562.7Z"/>
<path d="M914.7,543.5L939.2,521.5L963.7,543.5L939.2,565.5Z"/>
<path d="M1007.6,540L1032.1,518L1056.6,540L1032.1,562Z"/>
<path d="M1100.5,536L1125,514L1149.5,536L1125,558Z"/>
<path d="M1193.4,533.1L1217.9,511.1L1242.4,533.1L1217.9,555.1Z"/>
<path d="M1286.3,532.6L1310.8,510.6L1335.3,532.6L1310.8,554.6Z"/>
<path d="M1379.2,533.2L1403.7,511.2L1428.2,533.2L1403.7,555.2Z"/>
<path d="M1472.1,533.6L1496.6,511.6L1521.1,533.6L1496.6,555.6Z"/>
<path d="M1565,358.5L1589.5,336.5L1614,358.5L1589.5,380.5Z"/>
<path d="M1657.9,536.7L1682.4,514.7L1706.9,536.7L1682.4,558.7Z"/>
<path d="M1750.8,539.9L1775.3,517.9L1799.8,539.9L1775.3,561.9Z"/>
<path d="M1843.7,533.2L1868.2,511.2L1892.7,533.2L1868.2,555.2Z"/>
</g>
<path d="M182,685.9 184,685.9 186,685.7 188,685.5 190,685.2 192,684.9 194,684.6 196,684.2 198,683.9 200,683.5 202,683.2 204,682.8 206,682.4 208,682.1 210,681.7 212,681.4 214,681 216,680.7 218,680.3 220,680 222,679.6 224,679.3 226,678.9 228,678.6 230,678.3 232,678.1 234,677.9 236,677.7 238,677.5 240,677.4 242,677.3 244,677.1 246,677 248,676.9 250,676.7 252,676.6 254,676.5 256,676.3 258,676.2 260,676.1 262,675.9 264,675.8 266,675.7 268,675.5 270,675.4 272,675.3 274,675.1 276,675 278,674.9 280,674.7 282,674.6 284,674.5 286,674.3 288,674.2 290,674.1 292,674 294,673.9 296,673.9 298,673.8 300,673.8 302,673.7 304,673.7 306,673.6 308,673.6 310,673.5 312,673.5 314,673.4 316,673.4 318,673.3 320,673.3 322,673.2 324,673.2 326,673.1 328,673.1 330,673 332,673 334,672.9 336,672.9 338,672.8 340,672.8 342,672.7 344,672.7 346,672.6 348,672.6 350,672.5 352,672.5 354,672.4 356,672.4 358,672.3 360,672.3 362,672.2 364,672.2 366,672.1 368,672.1 370,672 372,672 374,671.9 376,671.8 378,671.8 380,671.7 382,671.6 384,671.5 386,671.4 388,671.3 390,671.3 392,671.2 394,671.1 396,671 398,670.9 400,670.9 402,670.8 404,670.7 406,670.6 408,670.5 410,670.4 412,670.4 414,670.3 416,670.2 418,670.1 420,670 422,669.8 424,669.7 426,669.5 428,669.3 430,669.1 432,668.9 434,668.7 436,668.5 438,668.3 440,668.1 442,667.9 444,667.7 446,667.5 448,667.3 450,667.1 452,666.9 454,666.7 456,666.5 458,666.4 460,666.2 462,666.2 464,666.1 466,666.2 468,666.2 470,666.2 472,666.3 474,666.4 476,666.4 478,666.5 480,666.5 482,666.6 484,666.6 486,666.7 488,666.7 490,666.8 492,666.8 494,666.9 496,667 498,667 500,667.1 502,667.1 504,667.2 506,667.2 508,667.3 510,667.3 512,667.4 514,667.5 516,667.5 518,667.6 520,667.6 522,667.7 524,667.7 526,667.8 528,667.8 530,667.9 532,667.9 534,668 536,668 538,668.1 540,668.1 542,668.2 544,668.2 546,668.3 548,668.3 550,668.4 552,668.4 554,668.5 556,668.5 558,668.6 560,668.6 562,668.7 564,668.7 566,668.8 568,668.8 570,668.9 572,668.9 574,669 576,669 578,669.1 580,669.1 582,669.2 584,669.2 586,669.3 588,669.3 590,669.4 592,669.4 594,669.5 596,669.5 598,669.6 600,669.6 602,669.7 604,669.7 606,669.8 608,669.8 610,669.9 612,669.9 614,670 616,670.1 618,670.2 620,670.3 622,670.5 624,670.6 626,670.7 628,670.9 630,671 632,671.1 634,671.3 636,671.4 638,671.5 640,671.7 642,671.8 644,671.9 646,672.1 648,672.2 650,672.3 652,672.5 654,672.6 656,672.7 658,672.9 660,673 662,673.1 664,673.3 666,673.4 668,673.5 670,673.7 672,673.9 674,674.2 676,674.5 678,675 680,675.5 682,676 684,676.6 686,677.1 688,677.7 690,678.2 692,678.7 694,679.1 696,679.4 698,679.5 700,679.5 702,679.4 704,679.2 706,679 708,678.8 710,678.6 712,678.4 714,678.2 716,678 718,677.8 720,677.6 722,677.4 724,677.2 726,677 728,676.8 730,676.7 732,676.6 734,676.6 736,676.8 738,677.3 740,677.9 742,678.6 744,679.4 746,680.2 748,680.9 750,681.4 752,681.9 754,682.2 756,682.4 758,682.6 760,682.7 762,682.9 764,683 766,683.2 768,683.3 770,683.5 772,683.6 774,683.8 776,683.9 778,684.1 780,684.2 782,684.4 784,684.5 786,684.7 788,684.8 790,685 792,685.1 794,685.3 796,685.4 798,685.6 800,685.7 802,685.9 804,686 806,686.1 808,686.3 810,686.4 812,686.6 814,686.7 816,686.9 818,687 820,687.2 822,687.3 824,687.5 826,687.6 828,687.8 830,687.9 832,688 834,688.1 836,688.2 838,688.3 840,688.4 842,688.5 844,688.6 846,688.6 848,688.7 850,688.8 852,688.9 854,689 856,689.1 858,689.2 860,689.2 862,689.3 864,689.4 866,689.5 868,689.6 870,689.7 872,689.8 874,689.8 876,689.9 878,690 880,690.1 882,690.2 884,690.3 886,690.4 888,690.5 890,690.5 892,690.6 894,690.7 896,690.8 898,690.9 900,691 902,691.1 904,691.1 906,691.2 908,691.3 910,691.4 912,691.5 914,691.6 916,691.7 918,691.7 920,691.8 922,691.9 924,691.9 926,692 928,692 930,692 932,692 934,692 936,692 938,692 940,692 942,692 944,692 946,692 948,692 950,692 952,692 954,691.9 956,691.8 958,691.6 960,691.4 962,691.2 964,690.9 966,690.7 968,690.4 970,690.2 972,689.9 974,689.6 976,689.4 978,689.1 980,688.9 982,688.6 984,688.3 986,688.1 988,687.8 990,687.5 992,687.3 994,687 996,686.8 998,686.5 1000,686.2 1002,686 1004,685.7 1006,685.4 1008,685.2 1010,684.9 1012,684.7 1014,684.5 1016,684.3 1018,684.1 1020,684.1 1022,684 1024,684 1026,684 1028,684 1030,684 1032,684 1034,684 1036,684.1 1038,684.1 1040,684.2 1042,684.2 1044,684.3 1046,684.4 1048,684.4 1050,684.5 1052,684.6 1054,684.6 1056,684.7 1058,684.8 1060,684.8 1062,684.9 1064,685 1066,685.1 1068,685.1 1070,685.2 1072,685.3 1074,685.3 1076,685.4 1078,685.5 1080,685.5 1082,685.6 1084,685.7 1086,685.7 1088,685.8 1090,685.9 1092,685.9 1094,685.9 1096,686 1098,686 1100,686 1102,686 1104,686 1106,686 1108,686 1110,686 1112,686 1114,686 1116,686 1118,686 1120,686 1122,686 1124,686 1126,686 1128,686 1130,686 1132,686 1134,686 1136,686 1138,686 1140,686 1142,686 1144,686 1146,686 1148,686 1150,686 1152,686 1154,686 1156,686 1158,686 1160,686 1162,686 1164,686 1166,686 1168,686 1170,686 1172,686 1174,686 1176,686 1178,686 1180,686 1182,686 1184,686 1186,686 1188,686 1190,686 1192,686 1194,686 1196,686 1198,686 1200,686 1202,686.1 1204,686.2 1206,686.3 1208,686.4 1210,686.5 1212,686.7 1214,686.8 1216,687 1218,687.1 1220,687.3 1222,687.4 1224,687.6 1226,687.7 1228,687.9 1230,688 1232,688.2 1234,688.3 1236,688.5 1238,688.6 1240,688.8 1242,688.9 1244,689.1 1246,689.2 1248,689.4 1250,689.5 1252,689.6 1254,689.6 1256,689.6 1258,689.4 1260,689.1 1262,688.8 1264,688.4 1266,688 1268,687.6 1270,687.2 1272,686.8 1274,686.4 1276,686 1278,685.6 1280,685.2 1282,684.8 1284,684.4 1286,684 1288,683.6 1290,683.2 1292,682.9 1294,682.6 1296,682.4 1298,682.3 1300,682.2 1302,682.3 1304,682.3 1306,682.4 1308,682.5 1310,682.6 1312,682.6 1314,682.7 1316,682.6 1318,682.4 1320,682 1322,681.3 1324,680.3 1326,679.2 1328,678 1330,676.8 1332,675.5 1334,674.2 1336,673.1 1338,672.3 1340,672.1 1342,672.7 1344,674 1346,675.8 1348,677.7 1350,679.6 1352,681.1 1354,682.3 1356,683.3 1358,684.1 1360,684.9 1362,685.5 1364,686 1366,686.3 1368,686.4 1370,686.3 1372,686.2 1374,686 1376,685.7 1378,685.5 1380,685.3 1382,685.1 1384,684.8 1386,684.6 1388,684.4 1390,684.1 1392,683.9 1394,683.7 1396,683.5 1398,683.4 1400,683.3 1402,683.2 1404,683.3 1406,683.3 1408,683.4 1410,683.5 1412,683.6 1414,683.7 1416,683.8 1418,683.9 1420,684 1422,684.1 1424,684.2 1426,684.3 1428,684.4 1430,684.5 1432,684.6 1434,684.7 1436,684.8 1438,684.9 1440,685 1442,685.1 1444,685.3 1446,685.4 1448,685.5 1450,685.7 1452,685.8 1454,685.9 1456,686.1 1458,686.2 1460,686.3 1462,686.5 1464,686.6 1466,686.7 1468,686.8 1470,686.8 1472,686.8 1474,686.7 1476,686.6 1478,686.5 1480,686.3 1482,686.2 1484,686.1 1486,685.9 1488,685.8 1490,685.7 1492,685.5 1494,684.9 1496,683.7 1498,682.5 1500,681.3 1502,680.2 1504,679.1 1506,678 1508,676.9 1510,675.8 1512,674.7 1514,673.6 1516,672.7 1518,671.9 1520,671.1 1522,670.3 1524,669.6 1526,668.8 1528,668 1530,667.2 1532,666.4 1534,665.6 1536,664.8 1538,664 1540,663.2 1542,662 1544,660.3 1546,658.5 1548,656.8 1550,655.1 1552,653.3 1554,651.6 1556,648.9 1558,645.4 1560,641.9 1562,638.3 1564,634.1 1566,626.1 1568,617.4 1570,608.4 1572,599 1574,589.6 1576,579 1578,565.8 1580,552.3 1582,537.8 1584,521 1586,503.9 1588,486.7 1590,469.4 1592,453.5 1594,445.9 1596,444.8 1598,444.6 1600,444.5 1602,444.5 1604,449.1 1606,458.7 1608,469 1610,479.7 1612,491.1 1614,502.8 1616,514.6 1618,528.6 1620,544.2 1622,560.2 1624,579 1626,598.2 1628,617.1 1630,635.6 1632,650 1634,661.6 1636,671.9 1638,675.2 1640,677.3 1642,679.4 1644,680.6 1646,680.9 1648,681.2 1650,681.5 1652,681.8 1654,682.1 1656,682.3 1658,682.5 1660,682.6 1662,682.6 1664,682.5 1666,682.4 1668,682.2 1670,682 1672,681.8 1674,681.6 1676,681.4 1678,681.2 1680,681 1682,680.8 1684,680.6 1686,680.3 1688,679.8 1690,679.3 1692,678.5 1694,677.6 1696,676.6 1698,675.5 1700,674.4 1702,673.2 1704,672 1706,670.7 1708,669.5 1710,668.4 1712,667.5 1714,667.2 1716,667.3 1718,667.9 1720,668.9 1722,670 1724,671.2 1726,672.5 1728,673.7 1730,674.9 1732,676 1734,677.2 1736,678.2 1738,679.1 1740,680 1742,680.9 1744,681.7 1746,682.5 1748,683.2 1750,683.9 1752,684.4 1754,684.8 1756,685.1 1758,685.3 1760,685.4 1762,685.5 1764,685.6 1766,685.7 1768,685.6 1770,685.5 1772,685.1 1774,684.5 1776,683.5 1778,682.1 1780,680.3 1782,678.2 1784,676.1 1786,674.4 1788,673.2 1790,672.8 1792,673.1 1794,674 1796,675.3 1798,676.9 1800,678.4 1802,679.9 1804,681.4 1806,682.7 1808,683.8 1810,684.5 1812,684.9 1814,684.9 1816,684.7 1818,684.4 1820,684 1822,683.6 1824,683.2 1826,682.8 1828,682.4 1830,682.1 1832,681.7 1834,681.4 1836,681.1 1838,680.8 1840,680.5 1842,680.2 1844,679.9 1846,679.6 1848,679.3 1850,679.1 1852,678.8 1854,678.6 1856,678.4 1858,678.2 1860,677.9 1862,677.7 1864,677.5 1866,677.4 1868,677.2" fill="none" stroke="#000" stroke-width="9" stroke-linejoin="round" />
<path d="M1556,648.9 1557,647.2 1558,645.4 1559,643.7 1560,641.9 1561,640.1 1562,638.3 1563,636.5 1564,634.1 1565,630.4 1566,626.1 1567,621.7 1568,617.4 1569,612.9 1570,608.4 1571,603.7 1572,599 1573,594.3 1574,589.6 1575,584.7 1576,579 1577,572.5 1578,565.8 1579,559.1 1580,552.3 1581,545.4 1582,537.8 1583,529.5 1584,521 1585,512.4 1586,503.9 1587,495.3 1588,486.7 1589,478 1590,469.4 1591,460.9 1592,453.5 1593,448.7 1594,445.9 1595,444.9 1596,444.8 1597,444.7 1598,444.6 1599,444.6 1600,444.5 1601,444.4 1602,444.5 1603,445.6 1604,449.1 1605,453.8 1606,458.7 1607,463.8 1608,469 1609,474.2 1610,479.7 1611,485.4 1612,491.1 1613,497 1614,502.8 1615,508.6 1616,514.6 1617,521.2 1618,528.6 1619,536.4 1620,544.2 1621,552 1622,560.2 1623,569.4 1624,579 1625,588.6 1626,598.2 1627,607.7 1628,617.1 1629,626.5 1630,635.6 1631,643.5 1632,650 1633,655.8" fill="none" stroke="#000" stroke-width="10.5" stroke-linejoin="round" />
<path d="M181.5,680.3V680.3h1V680.2h1V680.2h1V679.7h1V679.6h1V679.5h1V680.9h1V680.7h1V679h1V678.7h1V678.2h1V677.7h1V676.3h1V676.2h1V676.3h1V675h1V675.1h1V674.3h1V673.8h1V675h1V674.7h1V674.8h1V674.2h1V673.6h1V673.3h1V673h1V670.8h1V672.1h1V672.5h1V670.6h1V670.3h1V669.8h1V669.5h1V669.7h1V669.4h1V668h1V667.1h1V666.8h1V666.5h1V667.8h1V668.5h1V668.2h1V667.8h1V665h1V667h1V665.3h1V665.1h1V665h1V665.6h1V665.5h1V666.2h1V667.9h1V667.9h1V667.8h1V666.1h1V666.1h1V666h1V667.2h1V665.8h1V665.8h1V663.9h1V663.9h1V664.8h1V665.5h1V665.5h1V665.5h1V664.4h1V664.4h1V664.3h1V664.3h1V665.2h1V664.6h1V664.3h1V664.8h1V663.5h1V663.2h1V662.9h1V661.6h1V661.3h1V662.1h1V661.8h1V661.5h1V663.6h1V663.4h1V662.9h1V662.4h1V662.1h1V661.7h1V661.4h1V661.3h1V662.7h1V660.1h1V659.5h1V659.3h1V659.4h1V659h1V658.7h1V658.1h1V657.9h1V658h1V656.1h1V655.8h1V656h1V656.2h1V657.7h1V661.3h1V661.4h1V661h1V662.5h1V661.4h1V659.6h1V660.5h1V661.5h1V661.8h1V660.7h1V659.4h1V659.8h1V661.7h1V662.1h1V662.8h1V662.5h1V663h1V665.2h1V665.7h1V664.6h1V665.1h1V665.2h1V665.4h1V666.8h1V666.7h1V666.3h1V664.1h1V664h1V666h1V666.8h1V666.7h1V666.6h1V664.8h1V664.7h1V665.9h1V665.9h1V665.6h1V664.9h1V664.5h1V664.4h1V664.5h1V664.4h1V664.3h1V663.9h1V664.6h1V664.5h1V663.4h1V663.3h1V663.3h1V661.2h1V661.3h1V661.2h1V661.1h1V661h1V660.9h1V661.8h1V661.1h1V661.1h1V660.9h1V660.9h1V661.1h1V661h1V661h1V663.5h1V663.5h1V662.2h1V661h1V660.9h1V661.9h1V661.4h1V662.6h1V661.3h1V660.3h1V660.2h1V662.3h1V662.2h1V659.5h1V661.2h1V661.2h1V659.1h1V659h1V660h1V662.1h1V660.2h1V660h1V659.9h1V660h1V659.6h1V659.5h1V660.4h1V659.4h1V659.3h1V660h1V660h1V660.8h1V660.8h1V660.8h1V660.6h1V661.1h1V659.7h1V660.5h1V660.7h1V660.7h1V660h1V660h1V659.1h1V661.4h1V662.9h1V660.8h1V660.8h1V661.7h1V661.6h1V661.6h1V661.7h1V660.5h1V660.6h1V660.7h1V660.9h1V661h1V662.5h1V662h1V660.1h1V662h1V662h1V662.3h1V662.3h1V660.7h1V660.8h1V660.6h1V662.8h1V663h1V663.6h1V663.3h1V663.4h1V663.8h1V663.8h1V663.7h1V663.8h1V663.9h1V663.6h1V663.6h1V663.5h1V662.2h1V663.8h1V663.7h1V662.3h1V662.1h1V662h1V661.9h1V663.5h1V663.4h1V662.7h1V662.6h1V662.1h1V662h1V661.9h1V660.8h1V660.7h1V661h1V660.9h1V662.5h1V662.4h1V662.3h1V659.7h1V661.5h1V661.4h1V660.1h1V660h1V659.9h1V661.7h1V661.6h1V661.6h1V661.3h1V661.2h1V661.2h1V659.5h1V659.5h1V659.5h1V660.4h1V660.4h1V659.8h1V659.8h1V659.9h1V660.2h1V660.2h1V660.2h1V661.4h1V659.4h1V659.4h1V659h1V659h1V659.1h1V660.5h1V660.6h1V660.3h1V660.4h1V659.3h1V659.3h1V662h1V661.8h1V661.8h1V661.8h1V659.6h1V659.6h1V660.6h1V660.7h1V660.7h1V661.9h1V661.9h1V659.5h1V660.9h1V661h1V661h1V661h1V660.4h1V660.4h1V660.4h1V661.7h1V662.7h1V662.7h1V662.7h1V662.4h1V662.4h1V662.4h1V660.8h1V660.8h1V660.9h1V660h1V660.1h1V660.1h1V662.3h1V662.4h1V663h1V662.5h1V662.6h1V662.6h1V660.4h1V660.5h1V663.1h1V662.1h1V660.8h1V662.6h1V662.7h1V660.8h1V660.8h1V660.8h1V661.6h1V661.7h1V661.7h1V662.5h1V661.9h1V661.9h1V661.9h1V661.8h1V661.8h1V661.8h1V663.1h1V660.8h1V661.5h1V663h1V663h1V662.3h1V662.4h1V662.9h1V662.9h1V661.8h1V661.8h1V661.8h1V661.3h1V662h1V661.6h1V661.7h1V661.7h1V661.6h1V662h1V662h1V662.7h1V662.7h1V662.7h1V663.8h1V663.8h1V663h1V663h1V662.2h1V662.2h1V662.2h1V662.3h1V661.9h1V662h1V664.4h1V664.4h1V663h1V663h1V662.1h1V662.1h1V662.2h1V662.7h1V663.2h1V663.3h1V664.4h1V664.4h1V662.2h1V662.1h1V662.2h1V662.3h1V662.3h1V664.2h1V664.2h1V664.2h1V662.3h1V662.3h1V664.4h1V662.7h1V662.7h1V662.7h1V665h1V664.8h1V664.9h1V664.9h1V662.8h1V662.4h1V662.4h1V663.5h1V663.5h1V664.5h1V664.6h1V664.6h1V663.7h1V665h1V665.1h1V665.2h1V664.9h1V663.8h1V664.9h1V665h1V663.1h1V665.7h1V665.7h1V665.8h1V664h1V663.6h1V663.7h1V663.7h1V665.6h1V663.9h1V664h1V664h1V664.1h1V664.2h1V666.1h1V666.2h1V665.6h1V665.7h1V665h1V665h1V665.1h1V666.3h1V666.4h1V665.3h1V665.1h1V665.2h1V666.3h1V666.4h1V667.4h1V667.5h1V667.2h1V667.2h1V667.2h1V667.3h1V667.4h1V665.5h1V665.5h1V665.6h1V667.9h1V667.8h1V666.8h1V667.5h1V667.6h1V667.2h1V667.2h1V667.6h1V667.7h1V667.8h1V666.5h1V668.1h1V668.2h1V668.4h1V667.7h1V667.9h1V668.1h1V669.1h1V669.6h1V669.8h1V668.7h1V669h1V669.8h1V669.8h1V671.5h1V671.7h1V670h1V671.4h1V671.7h1V672h1V672h1V672.2h1V672.4h1V672.1h1V672.3h1V672h1V672.1h1V672.2h1V674.4h1V672.4h1V672.4h1V672.4h1V672.1h1V672h1V671.9h1V671.8h1V674.3h1V672.9h1V672.8h1V672.7h1V672h1V671.9h1V672.5h1V672.4h1V672.3h1V672.3h1V672.2h1V672.1h1V670.9h1V672h1V672.4h1V670.1h1V670h1V671.7h1V671.6h1V669.7h1V670.9h1V669.6h1V669.5h1V669.3h1V669.2h1V669.1h1V670.6h1V670.6h1V671.3h1V671.4h1V671.5h1V670.8h1V671.1h1V671.4h1V671.6h1V672h1V672.3h1V673.3h1V672.9h1V672.8h1V673.2h1V675.3h1V675.7h1V676h1V675.1h1V675.3h1V675.5h1V675.4h1V675.5h1V675.6h1V677.2h1V677.3h1V677.4h1V676.3h1V677.4h1V677.5h1V677.6h1V677.1h1V677.2h1V677.3h1V677.5h1V677.6h1V677.6h1V677.6h1V677.7h1V677.7h1V677.6h1V678.3h1V678.4h1V678.5h1V678.5h1V678.6h1V678.2h1V678.2h1V676.7h1V676.8h1V676.9h1V679.5h1V678.5h1V678.6h1V678.6h1V677.9h1V678h1V678.1h1V680h1V680h1V680.1h1V679.2h1V680h1V680.1h1V680.1h1V678.3h1V678.3h1V678.4h1V680.6h1V678.7h1V678.7h1V680.2h1V679.9h1V679.9h1V680h1V681h1V681.3h1V681.3h1V681.4h1V681.5h1V681.6h1V681.6h1V681.6h1V680.1h1V680.1h1V680.5h1V680.5h1V680.6h1V679.8h1V681.2h1V681.2h1V681.3h1V681.2h1V681.3h1V681.3h1V681.4h1V681.1h1V681.2h1V681.1h1V681.1h1V680.6h1V680.7h1V680.7h1V682.8h1V682.9h1V682.2h1V682.2h1V682.2h1V682.2h1V682.3h1V682.4h1V682.4h1V682.5h1V681.4h1V681.5h1V681.5h1V682.6h1V682.7h1V683.9h1V684h1V683.3h1V683.3h1V682.3h1V682.4h1V683.2h1V683.2h1V683.2h1V682h1V684h1V684h1V684h1V684.6h1V684h1V684h1V682.2h1V682.2h1V682.3h1V683h1V683.1h1V683.9h1V683.9h1V684h1V683.2h1V684h1V684h1V683.7h1V683.8h1V683.2h1V683.7h1V683.7h1V683.8h1V683.2h1V683.2h1V684.9h1V685h1V685h1V684.4h1V684.4h1V685.8h1V685.9h1V684.7h1V684.8h1V684.8h1V685.5h1V685.5h1V685.5h1V685.9h1V685.7h1V685.7h1V685.7h1V685h1V685h1V685.5h1V685.5h1V685.6h1V686.1h1V686.2h1V686.2h1V684.6h1V684.7h1V684.7h1V684.4h1V685.3h1V684.7h1V684.7h1V684.8h1V685.7h1V686.4h1V685h1V685h1V686h1V686h1V686.1h1V685.6h1V685.6h1V685.6h1V685.6h1V684.7h1V684.8h1V684.8h1V685.6h1V685.6h1V685.5h1V685.5h1V685.5h1V687.2h1V687.2h1V685h1V685h1V685h1V685.8h1V685.6h1V687.2h1V687.4h1V687.4h1V687.4h1V686.1h1V686.1h1V686.1h1V687h1V686.1h1V686.1h1V686.2h1V686.2h1V687.3h1V687.2h1V687.1h1V687h1V686.9h1V686.8h1V686.7h1V686.6h1V686.4h1V686.3h1V686.2h1V686.1h1V685.9h1V685.8h1V685.7h1V685.5h1V685.4h1V685.3h1V685.1h1V685h1V684.9h1V684.7h1V684.6h1V684.5h1V684.4h1V684.2h1V684.1h1V684h1V683.8h1V683.7h1V683.6h1V683.4h1V683.3h1V683.2h1V683h1V682.9h1V682.8h1V682.6h1V682.5h1V682.4h1V682.3h1V682.1h1V682h1V681.9h1V681.7h1V681.6h1V681.5h1V681.3h1V681.2h1V681.1h1V680.9h1V680.8h1V680.7h1V680.6h1V680.4h1V680.3h1V680.2h1V680.1h1V680h1V679.9h1V679.8h1V679.7h1V676.7h1V676.7h1V676.6h1V677h1V676.9h1V676.8h1V678.7h1V678.7h1V677.1h1V676.5h1V676.5h1V676.5h1V676.7h1V676.7h1V676.7h1V679.4h1V679.4h1V677.1h1V677.1h1V678.1h1V678.1h1V678.2h1V677.7h1V677.7h1V677.1h1V679.3h1V678h1V678.1h1V678.1h1V677.4h1V677.4h1V677.5h1V680h1V679.3h1V678.6h1V678.6h1V678.7h1V678.8h1V678.8h1V679h1V679.1h1V679.1h1V678.6h1V678.6h1V678.6h1V678.6h1V678.6h1V678.3h1V678.4h1V678.4h1V679h1V679.5h1V679.5h1V679.6h1V680.1h1V680.2h1V680.2h1V680.4h1V680.4h1V678.2h1V678.2h1V678.1h1V680.7h1V679.2h1V679.3h1V681h1V681h1V681.1h1V680.2h1V680.9h1V681h1V681h1V679.6h1V679.6h1V679.7h1V680h1V680h1V679h1V679h1V681.4h1V681.4h1V681.5h1V679.8h1V679.8h1V678.7h1V678.7h1V678.7h1V678.7h1V678.7h1V680h1V680h1V680h1V679.1h1V679.5h1V679.5h1V679.5h1V678.9h1V678.9h1V680.2h1V680.2h1V680.2h1V680.3h1V680.3h1V679.6h1V679.7h1V678.6h1V679.8h1V679.8h1V680.2h1V680.2h1V680.2h1V681h1V681h1V681h1V680.5h1V679.3h1V679.3h1V678.5h1V678.5h1V678.5h1V679.1h1V680.9h1V680.9h1V680.9h1V679.1h1V679.1h1V680.8h1V680.8h1V680.8h1V679.1h1V679.1h1V678.6h1V680.2h1V678.9h1V678.9h1V680.2h1V680.2h1V680.2h1V680.5h1V680.8h1V679.7h1V679.7h1V679.7h1V679h1V679h1V678.5h1V681.3h1V681.3h1V679.3h1V679.3h1V679.3h1V681.2h1V681.2h1V681.2h1V680.5h1V680.5h1V680.5h1V680h1V679h1V679h1V680h1V680h1V680h1V678.7h1V678.7h1V678.7h1V680h1V681.2h1V681.5h1V679.4h1V679.4h1V679h1V679h1V678.8h1V678.8h1V679.2h1V679.2h1V680.1h1V680.1h1V680.1h1V680.1h1V678.6h1V678.2h1V678.1h1V677.9h1V679.2h1V679.1h1V679h1V679.8h1V680.3h1V680.3h1V680.3h1V677.7h1V677.6h1V678.2h1V677.3h1V679.3h1V679.2h1V678.6h1V678.5h1V678.2h1V678.2h1V678.4h1V678.3h1V678.2h1V678.8h1V678.8h1V678.7h1V676.8h1V677.1h1V677.2h1V677.1h1V678.2h1V678.1h1V678.1h1V676.4h1V676.5h1V676.6h1V675.9h1V676h1V675.6h1V675.7h1V675.8h1V678.3h1V678.1h1V676.1h1V676.3h1V676.4h1V678.4h1V677.7h1V677.8h1V676.8h1V677.8h1V678.1h1V677.6h1V679.3h1V678.7h1V678.7h1V677.7h1V677.7h1V677.3h1V677.2h1V677.1h1V678.3h1V678.7h1V679.1h1V678.8h1V679.2h1V679.6h1V680.2h1V681.5h1V679.7h1V679.1h1V678.8h1V679.4h1V679h1V678.5h1V678h1V676.4h1V675.9h1V677.7h1V677.2h1V674.9h1V673.7h1V674h1V673.5h1V672.9h1V672.6h1V672.8h1V672.3h1V670.4h1V669.9h1V671.9h1V669.7h1V668.9h1V668.4h1V669.3h1V669.3h1V667h1V667.5h1V666.8h1V667.2h1V668h1V668.1h1V667.1h1V668.6h1V668.7h1V670.2h1V667.3h1V667.5h1V667.6h1V666.6h1V668.7h1V668.3h1V666h1V666.5h1V666.6h1V666.6h1V666.9h1V669.3h1V669.2h1V669h1V670.4h1V668h1V669.6h1V669.2h1V668.3h1V667.3h1V666.8h1V666.3h1V666.4h1V666.1h1V666.4h1V664.8h1V662h1V661.5h1V660.9h1V661.9h1V661.4h1V659.9h1V659.6h1V659.4h1V659.5h1V659.9h1V660.1h1V660.9h1V659.2h1V660.7h1V661.3h1V662.8h1V663.5h1V666.8h1V666.7h1V667.3h1V667.8h1V669.7h1V669.2h1V670.4h1V671h1V670.6h1V671.1h1V671.9h1V672.2h1V672.2h1V672.7h1V673.1h1V674.2h1V674.3h1V671.7h1V671.4h1V673h1V669.9h1V672.7h1V672.4h1V672.1h1V673.4h1V669.2h1V670.6h1V669.9h1V670.7h1V670.3h1V668.4h1V668h1V667.6h1V668.9h1V668.9h1V668.5h1V667.8h1V667.4h1V665.5h1V664.9h1V664.5h1V665.2h1V666h1V666.5h1V666.5h1V663h1V663h1V663.9h1V663.9h1V662.3h1V662.4h1V663.6h1V665.3h1V665.4h1V665.9h1V666h1V666.2h1V666.9h1V665.4h1V666.5h1V665.5h1V664.6h1V665.8h1V667.9h1V668h1V667.4h1V669.2h1V666.3h1V666.5h1V666.7h1V667h1V669.3h1V669.5h1V669.3h1V669.5h1V670.3h1V670.4h1V670.7h1V667.9h1V668.5h1V668.8h1V669.1h1V671h1V671.3h1V669.9h1V670.2h1V670.5h1V672.1h1V672.3h1V671.8h1V671.9h1V672.7h1V672.9h1V674.8h1V675h1V675.1h1V674.7h1V674.9h1V674.3h1V675.1h1V675.3h1V675.5h1V674.7h1V675.4h1V675.6h1V677.4h1V677.6h1V677.8h1V675.5h1V675.7h1V675h1V675.2h1V676h1V677.6h1V678.5h1V677.7h1V678h1V679.4h1V679.1h1V679.9h1V677.9h1V680.1h1V680.3h1V679.5h1V679.4h1V679.8h1V678.5h1V678.8h1V679h1V679.4h1V679.4h1V680.4h1V681.5h1V681.4h1V681.4h1V681.4h1V679.7h1V679.6h1V679.7h1V679.6h1V679.6h1V678.4h1V680.8h1V680.7h1V679.3h1V679.8h1V679.2h1V678.6h1V677.4h1V675.3h1V674.7h1V675h1V674.4h1V673.9h1V675h1V674h1V673.4h1V672.2h1V671.7h1V669.8h1V671.1h1V670.6h1V669.1h1V668.5h1V668h1V667.6h1V667.1h1V668.1h1V667.4h1V667h1V666.6h1V663.8h1V663.6h1V664.6h1V664.2h1V664h1V663.6h1V662.5h1V662.8h1V662.4h1V661.2h1V661.5h1V660.3h1V661.8h1V661.4h1V661h1V658.9h1V658.5h1V657.6h1V657.2h1V658.3h1V657.9h1V657.2h1V656.4h1V655.6h1V653.5h1V652.6h1V651.7h1V651.7h1V650.8h1V648.8h1V647.9h1V649.1h1V648.2h1V647.4h1V644.8h1V643.7h1V642.2h1V641.8h1V640h1V639.1h1V637.1h1V635.3h1V633.6h1V630.7h1V628.2h1V624.5h1V618.9h1V614.6h1V610.8h1V606.4h1V601.8h1V596.4h1V592.3h1V587.6h1V585h1V580h1V572.2h1V565.1h1V558.4h1V553.3h1V546.6h1V538.5h1V531h1V522.7h1V513.8h1V505.2h1V498.6h1V488.8h1V479.8h1V471.1h1V464.8h1V456.3h1V448.9h1V442.1h1V439.2h1V438.3h1V439.7h1V439.6h1V437.2h1V437.1h1V439.6h1V439.5h1V438.1h1V439.2h1V443.8h1V447h1V451.9h1V458h1V463.2h1V468.4h1V474.3h1V480h1V485.8h1V490.6h1V496.6h1V502.4h1V510h1V516.6h1V524.1h1V531.5h1V539.3h1V547h1V553.5h1V562.7h1V572.2h1V581.8h1V591.4h1V602.6h1V612h1V621.3h1V630.4h1V637.2h1V644.7h1V648.3h1V656.5h1V662.1h1V666.7h1V668.9h1V670h1V671h1V672.6h1V673.6h1V674.5h1V675.3h1V675h1V675h1V675h1V673.8h1V673.8h1V674.7h1V674.8h1V674.6h1V674.6h1V673.8h1V673.9h1V674h1V674.1h1V675h1V674.4h1V674.2h1V674.2h1V674.3h1V675h1V676.2h1V676.1h1V675.2h1V676.2h1V676.1h1V676.4h1V676h1V675.9h1V673.6h1V673h1V672.9h1V674h1V673.9h1V673.8h1V674.1h1V674h1V674.3h1V675.3h1V675.2h1V673.1h1V672.4h1V674.4h1V674.3h1V673.2h1V673.5h1V673.2h1V673.1h1V672.8h1V672.4h1V670.5h1V670.1h1V670h1V669.5h1V668.7h1V667.9h1V667.3h1V666h1V666.5h1V665.9h1V666.3h1V664.7h1V664h1V664.6h1V664h1V662.2h1V661.6h1V660.9h1V660h1V659.6h1V659h1V659.5h1V660.2h1V661h1V661.1h1V661.3h1V659.7h1V660.2h1V660.7h1V662.3h1V662.9h1V663.3h1V663.3h1V664h1V664.6h1V665.3h1V667.6h1V668.2h1V667h1V667.6h1V668.2h1V668.8h1V670.8h1V671.3h1V671.8h1V670.5h1V671h1V671.5h1V673.4h1V672.1h1V672.3h1V672.7h1V674.6h1V675h1V675.1h1V674.9h1V675.5h1V675.8h1V676.6h1V676.8h1V676.7h1V676.8h1V676.9h1V678.3h1V678.4h1V678.5h1V678.5h1V678.5h1V676.4h1V676.7h1V676.7h1V678h1V679h1V679h1V679.2h1V678.7h1V678.7h1V677.4h1V677.3h1V677.2h1V677.2h1V676.2h1V675.9h1V676.7h1V675.7h1V674.9h1V672.5h1V671.1h1V669.6h1V669.1h1V667.9h1V668.5h1V667.7h1V666.6h1V664h1V663.3h1V662h1V660.6h1V660.5h1V661.6h1V661.8h1V664.2h1V664.3h1V664.9h1V665.6h1V666.1h1V665.7h1V665.4h1V667.5h1V668.2h1V669h1V669.6h1V670.3h1V671h1V670.6h1V671.2h1V671.6h1V671.6h1V673.1h1V673.3h1V673.4h1V673h1V673h1V673.7h1V672.9h1V672.7h1V671.8h1V673.6h1V674.2h1V673.9h1V672h1V670.8h1V672.1h1V669.7h1V669.5h1V669.2h1V671.9h1V671.7h1V670.5h1V670.3h1V671.7h1V670.8h1V670.6h1V671.5h1V671.2h1V670.1h1V667.7h1V667.3h1V667.5h1V664.6h1V664.2h1V666.5h1V666.5h1V666.3h1V666h1V665.6h1V665.3h1V665h1V665.6h1V663h1V664.5h1V664.3h1V665.4h1V665.3h1V663.3h1V662.6h1V662.3h1V662.1h1V661.9h1V661h1V659.2h1V659.7h1V661h1V660.8h1V662h1V661.8h1V661.7h1V661.6h1V696.3h-1V695.4h-1V695.4h-1V695.5h-1V695.5h-1V695.2h-1V691.9h-1V692.8h-1V692.8h-1V692.8h-1V691.4h-1V692.4h-1V691.9h-1V693h-1V693h-1V693h-1V692.9h-1V693h-1V692.4h-1V692.4h-1V693.4h-1V693.4h-1V694h-1V694h-1V691.9h-1V693.8h-1V693.8h-1V692.2h-1V693.7h-1V693.7h-1V693.7h-1V693.2h-1V694.3h-1V695h-1V691.7h-1V691.8h-1V691.9h-1V693.1h-1V693.2h-1V694.8h-1V694.8h-1V695h-1V696.3h-1V695.4h-1V695.5h-1V693.8h-1V693.9h-1V695.6h-1V694.8h-1V695h-1V697.2h-1V697.4h-1V698.6h-1V698.7h-1V698.8h-1V698.6h-1V698.6h-1V696.6h-1V694.9h-1V694.6h-1V694.3h-1V693.1h-1V692.6h-1V692.9h-1V692.2h-1V691.4h-1V692.1h-1V691.6h-1V689.4h-1V688.6h-1V688.8h-1V688.4h-1V686.2h-1V685.1h-1V684.4h-1V685.8h-1V684.3h-1V683.5h-1V683.5h-1V684.7h-1V684.6h-1V685h-1V684.9h-1V684.5h-1V685.1h-1V687h-1V685h-1V686.1h-1V687h-1V687.9h-1V688.7h-1V690h-1V691.4h-1V691.9h-1V691.3h-1V691.6h-1V692h-1V692h-1V693.6h-1V694.3h-1V694.4h-1V693h-1V692.9h-1V693.4h-1V693.4h-1V691.7h-1V691.7h-1V692.9h-1V692.8h-1V692.8h-1V693.7h-1V691.5h-1V691.7h-1V692.6h-1V692.4h-1V692.3h-1V691.6h-1V691.4h-1V692.5h-1V692.2h-1V691.9h-1V692.2h-1V691.5h-1V691.1h-1V688.5h-1V688.1h-1V687.7h-1V687.7h-1V687.3h-1V686.8h-1V686h-1V685.5h-1V685h-1V686.9h-1V685.3h-1V684.7h-1V684.6h-1V682.6h-1V682.4h-1V681.7h-1V681.1h-1V682.4h-1V681.1h-1V681.3h-1V680.2h-1V678.9h-1V678.3h-1V677.8h-1V677.2h-1V675.1h-1V674.6h-1V674.1h-1V673.7h-1V676.1h-1V674.7h-1V675.7h-1V676.2h-1V676.3h-1V674.7h-1V675.1h-1V675h-1V675.8h-1V676.4h-1V676.9h-1V677.5h-1V679.2h-1V679.8h-1V680.6h-1V682.3h-1V682.9h-1V683.5h-1V683.7h-1V684.1h-1V684.8h-1V685.6h-1V686.1h-1V686.5h-1V686.8h-1V686.3h-1V687.8h-1V686.8h-1V687.1h-1V688.7h-1V688.8h-1V688.9h-1V686.2h-1V686.3h-1V688.5h-1V689h-1V689h-1V688.9h-1V689h-1V687.1h-1V687.2h-1V689.3h-1V689.4h-1V689.5h-1V687.9h-1V688h-1V688.2h-1V688.9h-1V688.3h-1V688.4h-1V689.1h-1V689.2h-1V689.3h-1V688.4h-1V688.4h-1V688.3h-1V688.3h-1V688.3h-1V689.2h-1V689.8h-1V691.1h-1V690.8h-1V690.7h-1V687.6h-1V687.4h-1V688.6h-1V688.8h-1V688.5h-1V688.7h-1V688.5h-1V689.1h-1V688.8h-1V687h-1V686.5h-1V685.5h-1V685.3h-1V684.2h-1V683.1h-1V680.7h-1V679.6h-1V677.4h-1V673.4h-1V667.7h-1V661.9h-1V655.1h-1V648.7h-1V640.7h-1V631.3h-1V624.4h-1V614.9h-1V604.1h-1V595.5h-1V585.9h-1V576.7h-1V565.2h-1V556.9h-1V550.6h-1V542.8h-1V534.7h-1V527.9h-1V521.3h-1V515.3h-1V508.3h-1V502.4h-1V496.6h-1V492.1h-1V486.4h-1V479.1h-1V473.8h-1V470h-1V464h-1V459.1h-1V454.4h-1V452.2h-1V451h-1V449.6h-1V449.6h-1V449.7h-1V451.2h-1V450h-1V450h-1V450.2h-1V451.1h-1V456.2h-1V458.8h-1V466.2h-1V474.7h-1V482.8h-1V491.4h-1V501h-1V509.6h-1V518.2h-1V527.8h-1V536.4h-1V544.7h-1V550.3h-1V557.2h-1V563.6h-1V570.3h-1V577.4h-1V585.4h-1V591.1h-1V596.4h-1V599.9h-1V604.6h-1V609.2h-1V614.7h-1V619.3h-1V623.1h-1V627.6h-1V632h-1V636.3h-1V638.9h-1V641.3h-1V643.3h-1V645.1h-1V648.2h-1V649.9h-1V651.7h-1V651.8h-1V653.5h-1V657.7h-1V658.8h-1V658.2h-1V659.1h-1V661.6h-1V662.5h-1V663.3h-1V661.4h-1V662.2h-1V665.2h-1V664.5h-1V665.3h-1V667.5h-1V668.4h-1V669.1h-1V669.7h-1V669.5h-1V671.1h-1V671.5h-1V670.6h-1V671h-1V672.1h-1V672.8h-1V673.2h-1V672.9h-1V673.3h-1V673.7h-1V672.8h-1V675.8h-1V676.2h-1V676.6h-1V675.1h-1V676.4h-1V677.8h-1V678.2h-1V678.6h-1V676.3h-1V676.7h-1V677h-1V678.1h-1V678.5h-1V679h-1V679.2h-1V679.8h-1V682h-1V680.6h-1V682.7h-1V683.5h-1V681.9h-1V682.5h-1V683.8h-1V684.3h-1V684.9h-1V687.5h-1V685.4h-1V686h-1V688.1h-1V688h-1V689.3h-1V689.9h-1V690.5h-1V691.1h-1V692.5h-1V692.7h-1V693h-1V693.1h-1V693.2h-1V691.8h-1V691.9h-1V692.7h-1V690.9h-1V691.7h-1V691.1h-1V691.2h-1V691.2h-1V693.3h-1V693.4h-1V693.4h-1V692.3h-1V692.7h-1V693h-1V694.6h-1V695h-1V695.6h-1V695.4h-1V695.7h-1V696.5h-1V696.4h-1V702.4h-1V702.8h-1V703.1h-1V703.5h-1V701.3h-1V701.3h-1V701.3h-1V701.2h-1V701.2h-1V695.7h-1V696.8h-1V697.1h-1V697h-1V698.6h-1V698.3h-1V698.3h-1V696.6h-1V695.1h-1V695.1h-1V695.9h-1V695.4h-1V695.3h-1V697h-1V695.5h-1V695.5h-1V696.3h-1V696.2h-1V695.9h-1V695.9h-1V696.8h-1V696.8h-1V696.6h-1V696.6h-1V695.2h-1V697.4h-1V697.4h-1V695.1h-1V695.7h-1V695.7h-1V696.1h-1V694.7h-1V695.7h-1V695.6h-1V695.3h-1V695.3h-1V694.9h-1V694.3h-1V695.9h-1V696.9h-1V697.5h-1V695.8h-1V695.8h-1V695.8h-1V696.6h-1V695.5h-1V695.9h-1V695.9h-1V695.9h-1V695.5h-1V721.8h-1V721.8h-1V721.1h-1V721h-1V721.7h-1V724h-1V722.9h-1V720.8h-1V722.6h-1V696.8h-1V696.5h-1V696.7h-1V698.8h-1V697.3h-1V697.5h-1V697.7h-1V697.9h-1V696.3h-1V696.5h-1V697.9h-1V700.3h-1V700.6h-1V702h-1V713.8h-1V715.3h-1V719h-1V720.7h-1V723.5h-1V725.7h-1V727.1h-1V721.5h-1V721.4h-1V709.4h-1V709.3h-1V711.3h-1V711.8h-1V711.6h-1V730.2h-1V731.3h-1V733.7h-1V733.4h-1V732.1h-1V731.8h-1V731.7h-1V728.8h-1V728.4h-1V729.2h-1V728.7h-1V710.3h-1V709.8h-1V706.8h-1V707h-1V707.9h-1V703.9h-1V704.2h-1V704.9h-1V704.4h-1V700.4h-1V701.9h-1V699.8h-1V697.7h-1V695.5h-1V691.2h-1V689.5h-1V687.6h-1V685.8h-1V683.8h-1V682.5h-1V683.1h-1V683.1h-1V680.6h-1V683h-1V683.6h-1V685.1h-1V685.8h-1V686.5h-1V687.3h-1V688.1h-1V688.4h-1V689.1h-1V690.3h-1V690.1h-1V690.4h-1V689.9h-1V690h-1V690.8h-1V691.5h-1V692.2h-1V693.3h-1V693.9h-1V693.7h-1V696.6h-1V698.6h-1V699h-1V699.3h-1V705.9h-1V706.3h-1V704.1h-1V707.6h-1V707.9h-1V708.3h-1V707.8h-1V708h-1V709.2h-1V698.8h-1V700h-1V700.1h-1V702.1h-1V700h-1V699.9h-1V700.6h-1V700.9h-1V699.8h-1V700.2h-1V701.5h-1V706h-1V706h-1V707.2h-1V705.2h-1V705.3h-1V702.8h-1V703h-1V702.8h-1V703.6h-1V701.6h-1V701.8h-1V716.4h-1V714.7h-1V714.8h-1V714.9h-1V718.8h-1V718.9h-1V719.1h-1V719.1h-1V720.6h-1V720.7h-1V721.4h-1V707.8h-1V707.9h-1V706.3h-1V703.3h-1V704.7h-1V706.6h-1V707.1h-1V707.2h-1V707h-1V709.2h-1V708h-1V707.8h-1V709.4h-1V708.7h-1V706.3h-1V705.7h-1V705.5h-1V704.5h-1V705.8h-1V707.8h-1V705.3h-1V706.4h-1V704.1h-1V703.3h-1V703.1h-1V708.6h-1V706.8h-1V706.3h-1V707.2h-1V707.6h-1V706.7h-1V706.4h-1V705.3h-1V704.8h-1V699.5h-1V697.3h-1V697h-1V697.3h-1V697.9h-1V698.2h-1V698.1h-1V698.4h-1V698.3h-1V698.2h-1V699h-1V698.8h-1V698.7h-1V696.4h-1V696.3h-1V696.1h-1V696h-1V697.4h-1V697.3h-1V697.2h-1V695.3h-1V695.1h-1V695.8h-1V697.5h-1V696.8h-1V696.6h-1V707.1h-1V707h-1V706.9h-1V707.3h-1V707.2h-1V707.1h-1V706.9h-1V706.9h-1V707.5h-1V693.3h-1V693.3h-1V693.2h-1V695.4h-1V695.4h-1V692.1h-1V692.5h-1V692h-1V693h-1V691.3h-1V691.3h-1V692.6h-1V692h-1V691.6h-1V691.6h-1V693h-1V693h-1V690.7h-1V690.7h-1V690.7h-1V692.9h-1V692.9h-1V692.9h-1V693.4h-1V691.3h-1V691.3h-1V691.3h-1V691.3h-1V691.9h-1V691.9h-1V691.9h-1V690.9h-1V690.9h-1V693.4h-1V691.3h-1V691.3h-1V691.4h-1V691.4h-1V691.7h-1V691.7h-1V691.4h-1V691.4h-1V690.8h-1V690.8h-1V692.4h-1V692.4h-1V691.5h-1V691.5h-1V691.5h-1V693.4h-1V693.4h-1V693.4h-1V692.5h-1V692.5h-1V690.9h-1V690.9h-1V690.9h-1V690.6h-1V690.6h-1V690.6h-1V692.8h-1V692.3h-1V692.3h-1V691.1h-1V690.6h-1V690.6h-1V691.3h-1V691.3h-1V691.9h-1V691.9h-1V691.2h-1V692.3h-1V692.3h-1V690.8h-1V690.8h-1V692.3h-1V692.3h-1V692.3h-1V691.8h-1V691.8h-1V691.1h-1V691.1h-1V692.1h-1V692.1h-1V692.1h-1V693h-1V693h-1V693h-1V691.9h-1V691.9h-1V691.9h-1V693.1h-1V693.1h-1V693.1h-1V691.7h-1V691.3h-1V691.3h-1V691.3h-1V691.2h-1V691.2h-1V693.3h-1V693.3h-1V690.8h-1V690.8h-1V690.8h-1V692.4h-1V692.4h-1V692.4h-1V692.1h-1V692.1h-1V692.1h-1V691.1h-1V693h-1V691.3h-1V692.2h-1V692.3h-1V692.3h-1V691.2h-1V691.2h-1V691.2h-1V691.7h-1V691.6h-1V691.3h-1V691.3h-1V691.2h-1V692.6h-1V692.6h-1V692.5h-1V692.5h-1V690.6h-1V690.4h-1V690.3h-1V691.4h-1V691.4h-1V691.4h-1V691.8h-1V691.8h-1V691.9h-1V691.9h-1V690.7h-1V690.7h-1V690.6h-1V692.3h-1V692.3h-1V690.5h-1V690.5h-1V691h-1V691h-1V691h-1V691h-1V690.9h-1V689.6h-1V691.7h-1V691.7h-1V690.8h-1V690.7h-1V690.7h-1V689.5h-1V689.5h-1V690.3h-1V690.3h-1V689.9h-1V689.9h-1V689.5h-1V689.5h-1V689.4h-1V688.8h-1V688.8h-1V690.3h-1V690h-1V690h-1V689.9h-1V688.9h-1V688.9h-1V688.9h-1V688.9h-1V689.2h-1V689.3h-1V689.3h-1V691.4h-1V690.1h-1V690.1h-1V690.1h-1V691.2h-1V691.2h-1V688.7h-1V688.8h-1V688.9h-1V689h-1V689.1h-1V689.2h-1V689.3h-1V689.4h-1V689.6h-1V689.7h-1V689.8h-1V689.9h-1V690.1h-1V690.2h-1V690.3h-1V690.5h-1V690.6h-1V690.7h-1V690.9h-1V691h-1V691.1h-1V691.3h-1V691.4h-1V691.5h-1V691.6h-1V691.8h-1V691.9h-1V692h-1V692.2h-1V692.3h-1V692.4h-1V692.6h-1V692.7h-1V692.8h-1V693h-1V693.1h-1V693.2h-1V693.4h-1V693.5h-1V693.6h-1V693.7h-1V693.9h-1V694h-1V694.1h-1V694.3h-1V694.4h-1V694.5h-1V694.7h-1V694.8h-1V694.9h-1V695.1h-1V695.2h-1V695.3h-1V695.4h-1V695.6h-1V695.7h-1V695.8h-1V695.9h-1V696h-1V696.1h-1V696.2h-1V696.3h-1V698.3h-1V698.3h-1V697h-1V697.5h-1V699h-1V699h-1V699h-1V696.6h-1V697.7h-1V697.7h-1V697.7h-1V699.1h-1V699.1h-1V699.1h-1V699.1h-1V699.1h-1V699.1h-1V697.6h-1V697.6h-1V697.6h-1V699.2h-1V699.2h-1V699.2h-1V697.1h-1V698.8h-1V698.8h-1V696.7h-1V696.7h-1V698.5h-1V698.5h-1V698.5h-1V697.2h-1V697.2h-1V697.2h-1V698.5h-1V698.4h-1V698.4h-1V698.6h-1V698.6h-1V698.5h-1V696.4h-1V696.4h-1V696.3h-1V696.5h-1V696.4h-1V696.4h-1V698.3h-1V698.2h-1V698.2h-1V697.6h-1V697.5h-1V698.2h-1V698.1h-1V695.7h-1V695.6h-1V695.6h-1V698.4h-1V696.4h-1V696.4h-1V695.7h-1V695.6h-1V695.6h-1V697h-1V696.4h-1V697.3h-1V695.4h-1V695.3h-1V695.3h-1V696.8h-1V696.7h-1V696.7h-1V696.5h-1V696.5h-1V696.4h-1V696.5h-1V696.4h-1V696.4h-1V695h-1V695h-1V694.9h-1V694.7h-1V694.6h-1V694.6h-1V697h-1V697h-1V695.8h-1V695.8h-1V695.7h-1V695.9h-1V696.1h-1V694.2h-1V694.2h-1V694.1h-1V696.2h-1V696.2h-1V694h-1V694h-1V693.9h-1V694.2h-1V695h-1V694.9h-1V694.9h-1V695.5h-1V695.4h-1V694.2h-1V694.1h-1V694.1h-1V693.9h-1V695.5h-1V695.4h-1V695.4h-1V693.1h-1V693.6h-1V693.6h-1V693.9h-1V693.9h-1V693.8h-1V693.9h-1V694h-1V695.3h-1V695.2h-1V693.2h-1V693.1h-1V693.6h-1V692.6h-1V692.6h-1V694.6h-1V693.3h-1V692.5h-1V692.4h-1V692.4h-1V692.8h-1V692.7h-1V692.7h-1V692.6h-1V693.6h-1V692.7h-1V693h-1V692.9h-1V692.9h-1V692.1h-1V692.4h-1V693h-1V693h-1V691.9h-1V691.8h-1V692.2h-1V692.2h-1V692.1h-1V693h-1V692.9h-1V692.8h-1V692.9h-1V691.3h-1V691.2h-1V691.3h-1V691.3h-1V691.2h-1V690.7h-1V691.2h-1V691.1h-1V690.1h-1V690h-1V692.1h-1V690.6h-1V690.8h-1V690.8h-1V690.7h-1V689.7h-1V689.6h-1V689.5h-1V691.3h-1V691.3h-1V691.8h-1V691.7h-1V691.6h-1V691.5h-1V689h-1V688.9h-1V689h-1V689h-1V688.9h-1V690.7h-1V690.7h-1V690.6h-1V688h-1V687.9h-1V689.8h-1V689.7h-1V690.5h-1V690.4h-1V690.3h-1V688h-1V688.4h-1V689.6h-1V689.5h-1V689.4h-1V689.4h-1V688.4h-1V688.3h-1V688.2h-1V686.7h-1V687h-1V686.6h-1V686.4h-1V686.9h-1V686.7h-1V687.7h-1V687.3h-1V687h-1V685.4h-1V684.4h-1V686.5h-1V686.1h-1V682.9h-1V685.1h-1V684.8h-1V684.5h-1V683.3h-1V683.1h-1V683h-1V682.9h-1V683h-1V683h-1V683.1h-1V683.8h-1V683.9h-1V684h-1V681.7h-1V681.8h-1V681.9h-1V684.5h-1V684.6h-1V684.7h-1V683h-1V683.1h-1V684h-1V684.3h-1V684.9h-1V682.6h-1V684.2h-1V684.3h-1V684.4h-1V683.6h-1V683.7h-1V683.8h-1V684.6h-1V683.5h-1V684.8h-1V684.9h-1V685h-1V684.2h-1V684.2h-1V684.3h-1V684.4h-1V684.6h-1V684.6h-1V684.6h-1V684.3h-1V684.2h-1V684.1h-1V685.6h-1V685.4h-1V685.2h-1V683.9h-1V683.6h-1V683.4h-1V682.7h-1V682.4h-1V684.6h-1V684.3h-1V683.6h-1V683.4h-1V683.1h-1V681.9h-1V681.6h-1V681.3h-1V680.9h-1V679.6h-1V679.4h-1V680.9h-1V680.7h-1V681.2h-1V681.1h-1V680.2h-1V680.7h-1V680.6h-1V680.6h-1V678.3h-1V678.2h-1V678.2h-1V677.9h-1V677.8h-1V677.7h-1V679.4h-1V679.3h-1V680.1h-1V680h-1V679.9h-1V677.3h-1V677.5h-1V677.9h-1V677.8h-1V677.8h-1V677h-1V676.9h-1V676.8h-1V678.2h-1V678.1h-1V679.5h-1V679.4h-1V677.6h-1V677.5h-1V677.5h-1V677.1h-1V677.1h-1V677h-1V678.9h-1V676.7h-1V676.6h-1V678.5h-1V678.5h-1V678.4h-1V677.4h-1V677.3h-1V677.2h-1V678.1h-1V677.5h-1V677.4h-1V676.9h-1V676.9h-1V677.6h-1V677.6h-1V675.3h-1V675.2h-1V675.1h-1V676.5h-1V677.2h-1V677.1h-1V676.7h-1V676.8h-1V676.8h-1V676.7h-1V677.1h-1V677h-1V675.4h-1V675.4h-1V675.7h-1V675.3h-1V675.3h-1V676.2h-1V676.1h-1V676.1h-1V675.3h-1V675.2h-1V676.3h-1V676.3h-1V676.2h-1V675h-1V677h-1V676.9h-1V677h-1V675.2h-1V675.2h-1V675.2h-1V675.1h-1V675.1h-1V675.3h-1V675.2h-1V675.2h-1V675.5h-1V675.5h-1V675.1h-1V676h-1V675.9h-1V674.6h-1V674.6h-1V674.5h-1V674.7h-1V674.7h-1V673.7h-1V676.1h-1V676.1h-1V676.1h-1V676.2h-1V676.1h-1V676.1h-1V675.4h-1V675.3h-1V675.3h-1V674.8h-1V674.8h-1V674.7h-1V673.6h-1V675.6h-1V674.4h-1V674.4h-1V674.7h-1V674.7h-1V674.7h-1V674.4h-1V674.4h-1V673.7h-1V674.9h-1V674.9h-1V675.9h-1V675.8h-1V675.8h-1V672.8h-1V675.2h-1V675.2h-1V673h-1V673h-1V675.6h-1V675.6h-1V675.6h-1V675.2h-1V675.2h-1V675.2h-1V673.9h-1V673.8h-1V673.8h-1V672.7h-1V672.7h-1V672.6h-1V674.6h-1V674.5h-1V672.5h-1V672.5h-1V672.8h-1V672.8h-1V672.8h-1V674.2h-1V674.2h-1V673.7h-1V673.7h-1V673.7h-1V674.5h-1V672.7h-1V674.7h-1V674.7h-1V672h-1V672.9h-1V672.9h-1V672.9h-1V672.9h-1V672.9h-1V672.9h-1V672.7h-1V672.2h-1V672.2h-1V671.8h-1V671.7h-1V671.7h-1V672.2h-1V672.1h-1V672.1h-1V671.7h-1V671.7h-1V671.7h-1V672.7h-1V672.7h-1V672.7h-1V672.7h-1V673.7h-1V673.7h-1V673.6h-1V673.3h-1V673.3h-1V672.8h-1V672.7h-1V672.4h-1V672.4h-1V672.3h-1V672.3h-1V672.2h-1V672.2h-1V673.5h-1V673.4h-1V671.6h-1V671.6h-1V671.5h-1V673.4h-1V673.4h-1V673.4h-1V673h-1V673h-1V671.8h-1V671.8h-1V672.8h-1V672.8h-1V672.8h-1V672.3h-1V672.3h-1V672h-1V671.5h-1V671.5h-1V673.6h-1V673.7h-1V671.7h-1V671.8h-1V671.4h-1V671.5h-1V673.6h-1V673.7h-1V673.8h-1V673.1h-1V672.7h-1V672.8h-1V672.9h-1V672.8h-1V672.9h-1V673.5h-1V673.6h-1V672.7h-1V672.8h-1V675.1h-1V675.2h-1V675.3h-1V674h-1V674.1h-1V673.3h-1V674.7h-1V675.6h-1V673.6h-1V673.7h-1V673.8h-1V674.7h-1V674.8h-1V675.4h-1V676.1h-1V678.6h-1V679h-1V678h-1V678.8h-1V679.2h-1V680.2h-1V680.6h-1V680.6h-1V681.2h-1V679.9h-1V679.9h-1V679.7h-1V682.6h-1V683.2h-1V683h-1V685.5h-1V685.6h-1V684.5h-1V681.6h-1V681.7h-1V683.6h-1V683.7h-1V685h-1V684.4h-1V683.5h-1V683.6h-1V683h-1V683h-1V683.1h-1V689.7h-1V690h-1V690.3h-1V692.7h-1V693.9h-1V694.2h-1V692.9h-1V693.3h-1V693.6h-1V693h-1V693.3h-1V687.9h-1V688.3h-1V688.7h-1V687.5h-1V687.9h-1V688.3h-1V689.9h-1V690.2h-1V694.1h-1V694.2h-1V694.5h-1V694.9h-1V696.3h-1V693.9h-1V694.3h-1V693.8h-1V693.9h-1V691.4h-1V693h-1V692h-1V692.1h-1V693.9h-1V694.7h-1V693.3h-1V693.3h-1V696.3h-1V696.4h-1V696.9h-1V696.9h-1V709.5h-1V708.6h-1V708.6h-1V708.8h-1V707.5h-1V707h-1V707h-1V707.4h-1V705.3h-1V705.8h-1V706.3h-1V695h-1V694.3h-1V699h-1V700.5h-1V701.1h-1V700.8h-1V701.6h-1V701.6h-1V697h-1V697.3h-1V697.3h-1V695.8h-1V693.4h-1V693.5h-1V694h-1V694h-1V692.5h-1V693h-1V697.4h-1V697.3h-1V692.9h-1V694.4h-1V691.8h-1V691.8h-1V692.9h-1V694h-1V693.8h-1V694.3h-1V703.8h-1V703.8h-1V703.8h-1V705.5h-1V705.5h-1V705.2h-1V705.1h-1V705.1h-1V705.5h-1V696.5h-1V694h-1V693.4h-1V702.6h-1V704.8h-1V704.8h-1V704.8h-1V705.6h-1V706.2h-1V707.3h-1V707.2h-1V706.9h-1V696h-1V690.5h-1V690.5h-1V692.5h-1V692.5h-1V692.5h-1V695.7h-1V697.5h-1V697.5h-1V695.9h-1V695.9h-1V696h-1V694.5h-1V694.5h-1V695.8h-1V696.5h-1V693.7h-1V693.7h-1V691.4h-1V691.4h-1V693.4h-1V693h-1V693h-1V696.8h-1V696.6h-1V696.7h-1V698h-1V699.1h-1V699h-1V700.5h-1V700.1h-1V700.1h-1V696.9h-1V692.8h-1V692.7h-1V691.6h-1V691.6h-1V707.4h-1V711.3h-1V711.1h-1V710.6h-1V708.6h-1V708.5h-1V707.5h-1V707.4h-1V707.3h-1V707.6h-1V707.5h-1V691.7h-1V693.1h-1V691.3h-1V691.2h-1V688.7h-1V690.5h-1V690.4h-1V690.7h-1V692h-1V691.7h-1V692.1h-1V692.2h-1V690.9h-1V690.9h-1V692.2h-1V692.3h-1V698.1h-1V698.2h-1V698.3h-1V696.9h-1V700.5h-1V700.6h-1V698.9h-1V698.4h-1V698.5h-1V692.7h-1V693.9h-1V694h-1V694.1h-1V693h-1V693.1h-1V693.2h-1V694.9h-1V695h-1V695.9h-1V696.1h-1V696.2h-1V696.4h-1V695.3h-1V694.8h-1V694.8h-1V695.3h-1V693.4h-1V693h-1V694.2h-1V694.8h-1V694.8h-1V694.1h-1V693.9h-1V693.6h-1V692.8h-1V692.3h-1V692.1h-1V691.5h-1V690.6h-1V690.5h-1V690.4h-1V693h-1V692.9h-1V692.9h-1V692.9h-1V693h-1V691.3h-1V691.3h-1V691.4h-1V693.4h-1Z" fill="#000"/>
<g fill="#000">
<path d="M171.5,673.7L220.5,673.7L196,710.7Z"/>
<path d="M264.4,663.7L313.4,663.7L288.9,700.7Z"/>
<path d="M357.3,661.1L406.3,661.1L381.8,698.1Z"/>
<path d="M450.2,655.9L499.2,655.9L474.7,692.9Z"/>
<path d="M543.1,658.3L592.1,658.3L567.6,695.3Z"/>
<path d="M636,662.5L685,662.5L660.5,699.5Z"/>
<path d="M728.9,668.6L777.9,668.6L753.4,705.6Z"/>
<path d="M821.8,675.2L870.8,675.2L846.3,712.2Z"/>
<path d="M914.7,678.5L963.7,678.5L939.2,715.5Z"/>
<path d="M1007.6,670.5L1056.6,670.5L1032.1,707.5Z"/>
<path d="M1100.5,672.5L1149.5,672.5L1125,709.5Z"/>
<path d="M1193.4,673.6L1242.4,673.6L1217.9,710.6Z"/>
<path d="M1286.3,669.1L1335.3,669.1L1310.8,706.1Z"/>
<path d="M1379.2,669.7L1428.2,669.7L1403.7,706.7Z"/>
<path d="M1472.1,669.8L1521.1,669.8L1496.6,706.8Z"/>
<path d="M1565,460.2L1614,460.2L1589.5,497.2Z"/>
<path d="M1657.9,667.2L1706.9,667.2L1682.4,704.2Z"/>
<path d="M1750.8,670.4L1799.8,670.4L1775.3,707.4Z"/>
<path d="M1843.7,663.7L1892.7,663.7L1868.2,700.7Z"/>
</g>
<path d="M182,805.9 184,805.9 186,805.7 188,805.5 190,805.2 192,804.9 194,804.6 196,804.2 198,803.9 200,803.5 202,803.2 204,802.8 206,802.4 208,802.1 210,801.7 212,801.4 214,801 216,800.7 218,800.3 220,800 222,799.6 224,799.3 226,798.9 228,798.6 230,798.3 232,798.1 234,798 236,797.9 238,797.8 240,797.7 242,797.6 244,797.6 246,797.5 248,797.4 250,797.4 252,797.3 254,797.2 256,797.2 258,797.1 260,797 262,797 264,796.9 266,796.8 268,796.8 270,796.7 272,796.6 274,796.6 276,796.5 278,796.4 280,796.4 282,796.3 284,796.2 286,796.2 288,796.1 290,796 292,795.9 294,795.8 296,795.8 298,795.7 300,795.6 302,795.5 304,795.4 306,795.3 308,795.2 310,795.1 312,795 314,794.9 316,794.8 318,794.7 320,794.6 322,794.5 324,794.4 326,794.3 328,794.2 330,794.1 332,794 334,793.9 336,793.8 338,793.7 340,793.6 342,793.5 344,793.4 346,793.3 348,793.2 350,793.1 352,793 354,792.9 356,792.8 358,792.7 360,792.6 362,792.5 364,792.4 366,792.3 368,792.2 370,792.1 372,792 374,791.9 376,791.8 378,791.8 380,791.7 382,791.6 384,791.5 386,791.4 388,791.3 390,791.3 392,791.2 394,791.1 396,791 398,790.9 400,790.9 402,790.8 404,790.7 406,790.6 408,790.5 410,790.4 412,790.4 414,790.3 416,790.2 418,790.1 420,790.1 422,790 424,790 426,790 428,790 430,790 432,790 434,790 436,790 438,790 440,790 442,790 444,790 446,790 448,790 450,790 452,790 454,790 456,790 458,790 460,790.1 462,790.2 464,790.3 466,790.4 468,790.6 470,790.7 472,790.9 474,791.1 476,791.2 478,791.4 480,791.6 482,791.7 484,791.9 486,792.1 488,792.2 490,792.4 492,792.5 494,792.7 496,792.9 498,793 500,793.2 502,793.4 504,793.5 506,793.7 508,793.9 510,794 512,794.2 514,794.4 516,794.5 518,794.7 520,794.8 522,795 524,795.2 526,795.3 528,795.5 530,795.6 532,795.8 534,795.9 536,795.9 538,796 540,796 542,796 544,796 546,796 548,796 550,796 552,796 554,796 556,796 558,796 560,796 562,796 564,796 566,796 568,796 570,796 572,796 574,796 576,796 578,796 580,796 582,796 584,796 586,796 588,796 590,796 592,796 594,796 596,796 598,796 600,796 602,796 604,796 606,796 608,796 610,796 612,796.1 614,796.2 616,796.4 618,796.6 620,796.9 622,797.2 624,797.5 626,797.8 628,798.2 630,798.5 632,798.8 634,799.2 636,799.5 638,799.8 640,800.2 642,800.5 644,800.8 646,801.2 648,801.5 650,801.8 652,802.2 654,802.5 656,802.8 658,803.2 660,803.5 662,803.8 664,804.2 666,804.5 668,804.8 670,805.2 672,805.6 674,806 676,806.4 678,806.9 680,807.5 682,808 684,808.6 686,809.1 688,809.7 690,810.2 692,810.7 694,811.1 696,811.4 698,811.5 700,811.5 702,811.4 704,811.2 706,811 708,810.8 710,810.6 712,810.4 714,810.2 716,810 718,809.8 720,809.6 722,809.4 724,809.2 726,809 728,808.8 730,808.6 732,808.4 734,808.2 736,807.9 738,807.7 740,807.4 742,807.1 744,806.9 746,806.6 748,806.4 750,806.3 752,806.2 754,806.3 756,806.3 758,806.4 760,806.5 762,806.6 764,806.7 766,806.8 768,806.9 770,807 772,807.1 774,807.2 776,807.3 778,807.4 780,807.5 782,807.6 784,807.7 786,807.8 788,807.9 790,808 792,808.1 794,808.2 796,808.3 798,808.4 800,808.5 802,808.6 804,808.7 806,808.8 808,808.9 810,809 812,809.1 814,809.2 816,809.3 818,809.4 820,809.5 822,809.6 824,809.7 826,809.7 828,809.8 830,809.9 832,809.9 834,810 836,810 838,810 840,810 842,810 844,810 846,810 848,810 850,810 852,810 854,810 856,810 858,810 860,810 862,810 864,810 866,810 868,810 870,810 872,810 874,810 876,810 878,810 880,810 882,810 884,810 886,810 888,810 890,810 892,810 894,810 896,810 898,810 900,810 902,810 904,810 906,810 908,810 910,810 912,810 914,810 916,810 918,810 920,810 922,810 924,809.9 926,809.8 928,809.7 930,809.6 932,809.5 934,809.4 936,809.2 938,809.1 940,809 942,808.9 944,808.8 946,808.6 948,808.5 950,808.4 952,808.3 954,808.1 956,808 958,808 960,807.9 962,807.8 964,807.7 966,807.7 968,807.6 970,807.5 972,807.5 974,807.4 976,807.3 978,807.3 980,807.2 982,807.1 984,807.1 986,807 988,807 990,806.9 992,806.8 994,806.8 996,806.7 998,806.6 1000,806.6 1002,806.5 1004,806.4 1006,806.4 1008,806.3 1010,806.2 1012,806.2 1014,806.1 1016,806.1 1018,806 1020,806 1022,806 1024,806 1026,806 1028,806 1030,806 1032,806 1034,806 1036,806 1038,806 1040,806 1042,806 1044,806 1046,806 1048,806 1050,806 1052,806 1054,806 1056,806 1058,806 1060,806 1062,806 1064,806 1066,806 1068,806 1070,806 1072,806 1074,806 1076,806 1078,806 1080,806 1082,806 1084,806 1086,806 1088,806 1090,806 1092,806 1094,805.9 1096,805.9 1098,805.9 1100,805.8 1102,805.7 1104,805.7 1106,805.6 1108,805.5 1110,805.5 1112,805.4 1114,805.3 1116,805.3 1118,805.2 1120,805.1 1122,805.1 1124,805 1126,805 1128,804.9 1130,804.8 1132,804.8 1134,804.7 1136,804.6 1138,804.6 1140,804.5 1142,804.4 1144,804.4 1146,804.3 1148,804.2 1150,804.2 1152,804.1 1154,804 1156,803.9 1158,803.9 1160,803.8 1162,803.7 1164,803.6 1166,803.5 1168,803.5 1170,803.4 1172,803.3 1174,803.2 1176,803.1 1178,803 1180,803 1182,802.9 1184,802.8 1186,802.7 1188,802.6 1190,802.5 1192,802.5 1194,802.4 1196,802.3 1198,802.2 1200,802.2 1202,802.2 1204,802.2 1206,802.3 1208,802.4 1210,802.5 1212,802.7 1214,802.8 1216,803 1218,803.1 1220,803.3 1222,803.4 1224,803.6 1226,803.7 1228,803.9 1230,804 1232,804.2 1234,804.3 1236,804.5 1238,804.6 1240,804.8 1242,804.9 1244,805.1 1246,805.2 1248,805.4 1250,805.5 1252,805.6 1254,805.7 1256,805.6 1258,805.5 1260,805.3 1262,805.1 1264,804.8 1266,804.5 1268,804.2 1270,803.9 1272,803.6 1274,803.3 1276,803 1278,802.7 1280,802.4 1282,802.1 1284,801.8 1286,801.5 1288,801.2 1290,800.9 1292,800.6 1294,800.2 1296,799.8 1298,799.4 1300,799 1302,798.5 1304,798 1306,797.5 1308,797 1310,796.5 1312,796 1314,795.5 1316,794.9 1318,794.2 1320,793.4 1322,792.5 1324,791.4 1326,790.3 1328,789 1330,787.8 1332,786.5 1334,785.2 1336,784.1 1338,783.3 1340,783.1 1342,783.7 1344,785 1346,786.8 1348,788.7 1350,790.6 1352,792.1 1354,793.3 1356,794.3 1358,795.1 1360,795.9 1362,796.5 1364,797 1366,797.3 1368,797.4 1370,797.3 1372,797.2 1374,797 1376,796.7 1378,796.5 1380,796.3 1382,796.1 1384,795.8 1386,795.6 1388,795.4 1390,795.1 1392,794.9 1394,794.7 1396,794.5 1398,794.4 1400,794.3 1402,794.2 1404,794.3 1406,794.3 1408,794.4 1410,794.5 1412,794.6 1414,794.7 1416,794.8 1418,794.9 1420,795 1422,795.1 1424,795.2 1426,795.3 1428,795.4 1430,795.5 1432,795.6 1434,795.7 1436,795.8 1438,795.9 1440,796 1442,796.1 1444,796.3 1446,796.4 1448,796.5 1450,796.7 1452,796.8 1454,796.9 1456,797.1 1458,797.2 1460,797.3 1462,797.5 1464,797.6 1466,797.7 1468,797.8 1470,797.8 1472,797.8 1474,797.7 1476,797.6 1478,797.5 1480,797.3 1482,797.2 1484,797.1 1486,796.9 1488,796.8 1490,796.7 1492,796.5 1494,796 1496,794.9 1498,794 1500,793 1502,792 1504,791.1 1506,790.2 1508,789.3 1510,788.4 1512,787.5 1514,786.6 1516,785.9 1518,785.2 1520,784.6 1522,783.9 1524,783.3 1526,782.6 1528,782 1530,781.3 1532,780.7 1534,780 1536,779.4 1538,778.7 1540,778.1 1542,777 1544,775.6 1546,774.2 1548,772.7 1550,771.3 1552,769.9 1554,768.4 1556,766.3 1558,763.5 1560,760.7 1562,757.9 1564,754.6 1566,748.2 1568,741.3 1570,734.2 1572,726.7 1574,719.3 1576,710.8 1578,700.2 1580,689.3 1582,677.7 1584,664.1 1586,650.2 1588,636.3 1590,622.3 1592,609.5 1594,603.5 1596,602.9 1598,603 1600,603.2 1602,603.5 1604,607.6 1606,615.8 1608,624.5 1610,633.6 1612,643.3 1614,653.2 1616,663.2 1618,675.1 1620,688.2 1622,701.7 1624,717.5 1626,733.6 1628,749.5 1630,765 1632,777.1 1634,787 1636,795.7 1638,798.7 1640,800.6 1642,802.5 1644,803.6 1646,803.9 1648,804.2 1650,804.5 1652,804.8 1654,805.1 1656,805.3 1658,805.5 1660,805.6 1662,805.6 1664,805.5 1666,805.4 1668,805.2 1670,805 1672,804.8 1674,804.6 1676,804.4 1678,804.2 1680,804 1682,803.8 1684,803.6 1686,803.3 1688,802.8 1690,802.3 1692,801.5 1694,800.6 1696,799.6 1698,798.5 1700,797.4 1702,796.2 1704,795 1706,793.7 1708,792.5 1710,791.4 1712,790.5 1714,790.2 1716,790.3 1718,790.9 1720,791.9 1722,793 1724,794.2 1726,795.5 1728,796.7 1730,797.9 1732,799 1734,800.2 1736,801.2 1738,802.1 1740,803 1742,803.9 1744,804.7 1746,805.5 1748,806.2 1750,806.9 1752,807.4 1754,807.8 1756,808.1 1758,808.3 1760,808.4 1762,808.5 1764,808.6 1766,808.7 1768,808.6 1770,808.5 1772,808.1 1774,807.5 1776,806.5 1778,805.1 1780,803.3 1782,801.2 1784,799.1 1786,797.4 1788,796.2 1790,795.8 1792,796.1 1794,797 1796,798.3 1798,799.9 1800,801.4 1802,802.9 1804,804.4 1806,805.7 1808,806.8 1810,807.5 1812,807.9 1814,807.9 1816,807.7 1818,807.4 1820,807 1822,806.6 1824,806.2 1826,805.8 1828,805.4 1830,805.1 1832,804.7 1834,804.4 1836,804.1 1838,803.8 1840,803.5 1842,803.2 1844,802.9 1846,802.6 1848,802.3 1850,802.1 1852,801.8 1854,801.6 1856,801.4 1858,801.2 1860,800.9 1862,800.7 1864,800.5 1866,800.4 1868,800.2" fill="none" stroke="#000" stroke-width="9" stroke-linejoin="round" />
<path d="M1556,766.3 1557,764.9 1558,763.5 1559,762.1 1560,760.7 1561,759.3 1562,757.9 1563,756.5 1564,754.6 1565,751.7 1566,748.2 1567,744.8 1568,741.3 1569,737.8 1570,734.2 1571,730.5 1572,726.7 1573,723 1574,719.3 1575,715.3 1576,710.8 1577,705.6 1578,700.2 1579,694.8 1580,689.3 1581,683.8 1582,677.7 1583,671 1584,664.1 1585,657.1 1586,650.2 1587,643.3 1588,636.3 1589,629.3 1590,622.3 1591,615.5 1592,609.5 1593,605.7 1594,603.5 1595,602.8 1596,602.9 1597,602.9 1598,603 1599,603.1 1600,603.2 1601,603.3 1602,603.5 1603,604.5 1604,607.6 1605,611.5 1606,615.8 1607,620.1 1608,624.5 1609,628.9 1610,633.6 1611,638.4 1612,643.3 1613,648.3 1614,653.2 1615,658.1 1616,663.2 1617,668.8 1618,675.1 1619,681.6 1620,688.2 1621,694.8 1622,701.7 1623,709.4 1624,717.5 1625,725.5 1626,733.6 1627,741.5 1628,749.5 1629,757.3 1630,765 1631,771.7 1632,777.1 1633,782.1" fill="none" stroke="#000" stroke-width="10.5" stroke-linejoin="round" />
<path d="M181.5,799.2V799.2h1V799.2h1V801.3h1V801.2h1V799.6h1V799.5h1V799.3h1V799h1V798.6h1V798.2h1V797.9h1V797.9h1V796.5h1V795.1h1V797.1h1V797.1h1V796.7h1V793.7h1V793.2h1V792.9h1V795.1h1V794.8h1V795.2h1V794.6h1V792.7h1V791.5h1V791.2h1V790.8h1V790.4h1V790.3h1V790h1V789.7h1V788.8h1V787.8h1V790h1V789.7h1V789.4h1V788.1h1V787.8h1V787.5h1V786.1h1V788.2h1V787.5h1V787.2h1V784.7h1V784.6h1V785.6h1V785.4h1V785.3h1V787.9h1V784.3h1V784.3h1V784.5h1V784.1h1V784.1h1V785.4h1V787.4h1V784.7h1V784.9h1V784.9h1V784.8h1V786.2h1V785.5h1V785.8h1V785.4h1V785.4h1V788.3h1V788.3h1V786h1V784.8h1V785.7h1V785.7h1V785.4h1V783.8h1V783h1V785.2h1V782.3h1V781.9h1V781.6h1V782.4h1V782.9h1V782.6h1V782h1V782.2h1V781.9h1V784.9h1V784.6h1V784.4h1V782.1h1V781.8h1V781.6h1V781.2h1V780.2h1V780h1V779.7h1V780.1h1V779.8h1V779.6h1V776.7h1V776.9h1V777.9h1V778.1h1V781.4h1V780.7h1V780.9h1V781h1V781.4h1V780.4h1V780.6h1V780.8h1V780.8h1V780.8h1V781.5h1V781.9h1V782.4h1V784.1h1V784.5h1V784.9h1V783.2h1V784.2h1V784.7h1V785.1h1V783.5h1V786.7h1V787.1h1V787.4h1V786.3h1V786.3h1V786.2h1V786.6h1V787.5h1V787.3h1V787.5h1V785h1V786.7h1V786.6h1V787.5h1V785h1V784.9h1V787.2h1V787h1V786.3h1V786.1h1V786.9h1V783.8h1V783.7h1V786.1h1V785.9h1V784.7h1V784.5h1V784.8h1V785.1h1V785h1V784.8h1V783.9h1V783.5h1V784.3h1V784.2h1V784.7h1V783.1h1V783h1V783.4h1V783.3h1V783.2h1V781.3h1V783.1h1V783h1V782h1V781.8h1V782.5h1V782.5h1V781.4h1V782.5h1V781.1h1V780.9h1V780.7h1V780.7h1V780.6h1V782.1h1V782.1h1V782h1V779.5h1V779.4h1V781.4h1V781.4h1V781.3h1V779.7h1V781.3h1V781.3h1V781.2h1V783h1V783h1V780.6h1V782h1V782h1V782h1V781.5h1V780.3h1V780.3h1V780.3h1V779.8h1V780.9h1V781.4h1V780.9h1V781h1V781.7h1V781.7h1V781.5h1V781.5h1V781.5h1V780.1h1V780.1h1V780h1V779.3h1V779.7h1V781.7h1V780.6h1V781.5h1V781.5h1V780.9h1V780.9h1V781h1V781.7h1V781.7h1V782h1V782.4h1V780.1h1V779.5h1V779.6h1V780.7h1V781.1h1V781.3h1V781.6h1V782.8h1V782.7h1V782.9h1V782.8h1V783.3h1V783.5h1V783.9h1V784.1h1V784.6h1V784.7h1V784.6h1V784.7h1V785.1h1V785.1h1V782.6h1V784.3h1V785.2h1V785.2h1V785.2h1V783.9h1V783.9h1V783.2h1V785.1h1V785.1h1V785.2h1V785.2h1V783.2h1V783.2h1V783.2h1V783.7h1V783.7h1V783.7h1V785.1h1V785.1h1V784.5h1V784.5h1V784.5h1V784.7h1V783.6h1V783.6h1V784.4h1V784.4h1V784.4h1V783.9h1V785.3h1V785.4h1V783.5h1V783.5h1V783.6h1V784.4h1V784.5h1V784.5h1V785.9h1V786h1V786.1h1V786.2h1V786.3h1V786.4h1V786.5h1V786.6h1V786.1h1V785.5h1V785.2h1V785.3h1V785.4h1V785.4h1V785.5h1V785.6h1V785.1h1V787.1h1V787.1h1V785.3h1V785.4h1V785.5h1V785.8h1V785.8h1V785.9h1V785.4h1V786.9h1V785.3h1V786.5h1V786.6h1V788.3h1V788h1V788h1V787.8h1V787.9h1V788.5h1V788.5h1V787.7h1V787.8h1V787.9h1V787.2h1V787.3h1V787.3h1V787.3h1V787.4h1V788.4h1V788.5h1V788.6h1V787.7h1V788.4h1V790h1V790.1h1V787.8h1V787.8h1V789.8h1V787.6h1V787.6h1V790.1h1V789.8h1V789.9h1V789.5h1V788h1V791h1V791.1h1V789h1V790.5h1V790.4h1V790.5h1V790.3h1V790.3h1V790.3h1V790.3h1V790.4h1V790.5h1V790.5h1V790.5h1V789.9h1V789.2h1V789.2h1V789.8h1V789.8h1V788.7h1V791.1h1V791.1h1V789.2h1V788.8h1V789.5h1V789h1V789h1V789h1V791.2h1V789.2h1V789.2h1V789.2h1V791.1h1V791.5h1V791.5h1V789.9h1V789.9h1V788.5h1V788.5h1V790h1V790h1V789.8h1V789.8h1V789.8h1V789.7h1V789.7h1V789.7h1V788.9h1V788.9h1V790.4h1V790.4h1V790.4h1V788.9h1V788.9h1V790.5h1V789h1V789h1V789h1V791.2h1V791.2h1V791.2h1V789.6h1V789.6h1V789.6h1V791.2h1V789.8h1V790.7h1V789.5h1V790.9h1V790.9h1V788.9h1V789.5h1V790.5h1V791.3h1V791.3h1V789.9h1V789.9h1V789.9h1V790h1V790h1V790h1V789.6h1V789.6h1V789.7h1V789.1h1V789.2h1V789.3h1V789.9h1V790h1V790.1h1V791.8h1V791.9h1V792h1V791.9h1V792.1h1V792.3h1V791.2h1V792.8h1V793h1V793.1h1V793.2h1V793.7h1V793.9h1V792h1V792.2h1V794h1V794.2h1V792h1V792.2h1V795.2h1V795.3h1V795.5h1V793h1V793.1h1V795.3h1V793.8h1V794.7h1V794.9h1V795.1h1V796.8h1V794.4h1V795.1h1V795.3h1V796.9h1V795h1V797.7h1V796.9h1V796.4h1V796.5h1V796.3h1V796.4h1V798.1h1V798.6h1V798.3h1V798.5h1V798.7h1V799.4h1V798.7h1V798.9h1V799.1h1V798.1h1V798.3h1V798.5h1V799.9h1V800.1h1V799.2h1V799.4h1V800.8h1V799.5h1V799.8h1V800h1V800.2h1V800.4h1V801.6h1V801.9h1V802.2h1V804.3h1V803.1h1V802.2h1V802.5h1V802.8h1V804.9h1V805.2h1V803.4h1V803.6h1V803.8h1V806.7h1V806.8h1V805.6h1V805.6h1V804.2h1V804.2h1V805.2h1V805.1h1V804.1h1V803.9h1V803.8h1V805.3h1V805.2h1V805.2h1V805.1h1V804.3h1V804.2h1V804.2h1V804.1h1V804h1V805.5h1V805.4h1V804.9h1V804.8h1V804.7h1V804.6h1V802.8h1V802.7h1V802.6h1V802.2h1V802.1h1V802.5h1V803.8h1V803.3h1V803.2h1V803.1h1V801.4h1V803h1V802.5h1V802h1V801.5h1V801.4h1V800.6h1V800.5h1V801.3h1V801.2h1V801.2h1V801.1h1V800h1V799.9h1V799.7h1V800.4h1V800.3h1V799.2h1V799.1h1V799h1V799h1V801.1h1V801.1h1V801.3h1V801.7h1V801.7h1V801.7h1V799.5h1V801.2h1V801.2h1V799.1h1V799.2h1V800.6h1V799.4h1V800.6h1V800.3h1V800.3h1V800.4h1V801.9h1V801.9h1V800.2h1V800.2h1V800.3h1V800.4h1V800.2h1V800.3h1V800.1h1V802.5h1V800.9h1V801h1V802.8h1V801h1V801h1V801.1h1V800.9h1V801h1V801.8h1V801.3h1V801.4h1V802.5h1V802.5h1V802.6h1V801.5h1V803.2h1V803.2h1V803.3h1V803.2h1V803.3h1V803.3h1V802.7h1V802.8h1V802.9h1V803.4h1V803.5h1V803.5h1V802.8h1V801.6h1V801.7h1V801.7h1V802.7h1V803.5h1V804.3h1V804.4h1V804.4h1V804.7h1V804.7h1V804.8h1V802.1h1V802.1h1V802.2h1V803.4h1V802.3h1V802.3h1V804.1h1V802.7h1V802.7h1V802.8h1V804.8h1V805h1V805.1h1V805.1h1V805.4h1V805.4h1V805.4h1V803.4h1V803.4h1V803.4h1V804.1h1V804.1h1V804.1h1V802.7h1V802.7h1V802.7h1V802.9h1V802.9h1V803.1h1V805.2h1V805.2h1V805.2h1V804.7h1V804.7h1V804.7h1V803.4h1V803.4h1V803.5h1V803.5h1V803.1h1V803.1h1V803.1h1V803.5h1V803.5h1V803.5h1V802.7h1V803h1V803h1V803.7h1V803.7h1V803.7h1V802.8h1V802.8h1V805.5h1V804.4h1V804.3h1V803.4h1V802.8h1V802.8h1V803.4h1V803.4h1V805.5h1V805.5h1V805.5h1V803.4h1V803.4h1V803.4h1V804.3h1V803.4h1V803.4h1V804.9h1V805.1h1V803.8h1V803.8h1V804.8h1V804.8h1V804.8h1V803.5h1V803.5h1V804.8h1V804.8h1V804.7h1V804.7h1V804.7h1V803.7h1V803.7h1V803.7h1V803.7h1V803.7h1V803.4h1V803.4h1V803.5h1V805.1h1V805.1h1V805.1h1V803.8h1V803.8h1V803.8h1V803.5h1V803.5h1V803.8h1V803.8h1V803.8h1V804.5h1V804.4h1V804.6h1V804.6h1V802.7h1V802.6h1V803.5h1V803.4h1V803.4h1V804h1V802.2h1V802.1h1V802.1h1V804.1h1V804.1h1V804.3h1V803.5h1V803.5h1V803.4h1V801.8h1V801.7h1V802.3h1V802.2h1V802.1h1V804h1V804h1V803.9h1V801.7h1V802.8h1V802.8h1V802.7h1V801.5h1V801.4h1V801.4h1V801h1V803.5h1V803.5h1V803.5h1V803.4h1V803.4h1V803.3h1V803.3h1V803.3h1V803.2h1V803.2h1V803.2h1V803.1h1V803.1h1V803.1h1V803h1V803h1V803h1V802.9h1V802.9h1V802.9h1V802.8h1V802.8h1V802.8h1V802.7h1V802.7h1V802.7h1V802.6h1V802.6h1V802.6h1V802.5h1V802.5h1V802.5h1V802.5h1V802.4h1V802.4h1V802.4h1V802.3h1V802.3h1V802.3h1V802.2h1V802.2h1V802.2h1V802.1h1V802.1h1V802.1h1V802h1V802h1V802h1V801.9h1V801.9h1V801.9h1V801.8h1V801.8h1V801.8h1V801.7h1V801.7h1V801.7h1V801.6h1V801.6h1V801.6h1V801.6h1V801.6h1V798.6h1V798.6h1V799.4h1V799.4h1V799.4h1V801.1h1V799.1h1V800.5h1V798.5h1V798.5h1V800.2h1V800.2h1V799.7h1V799.7h1V799.7h1V800.1h1V800.1h1V801.4h1V801.4h1V799.2h1V799.9h1V801.3h1V801.3h1V801.1h1V798.6h1V798.6h1V799.2h1V799.2h1V799.5h1V801.1h1V801.1h1V801.1h1V801.2h1V800.7h1V800.7h1V799.1h1V799.1h1V799.4h1V799.4h1V799.4h1V800.3h1V800.3h1V799.4h1V799.4h1V799.4h1V798.8h1V799.1h1V799.1h1V800.9h1V800.9h1V800.9h1V801.2h1V801.2h1V799.3h1V799.3h1V798.8h1V798.8h1V800.5h1V800.5h1V800.8h1V800.8h1V800.9h1V800.6h1V800.6h1V799h1V799h1V799h1V798.7h1V798.7h1V798.7h1V800.1h1V800.1h1V801.3h1V799.8h1V799.7h1V801.4h1V801.4h1V799.9h1V799.9h1V799.8h1V800.2h1V799.4h1V799.4h1V800.5h1V798.4h1V798.4h1V798.4h1V798.6h1V800.9h1V800.9h1V800.9h1V798.9h1V798.9h1V798.9h1V798.6h1V798h1V798h1V799.1h1V799.1h1V799.1h1V798.6h1V799h1V799h1V799h1V800.4h1V798.6h1V798.5h1V798.1h1V798.1h1V798.7h1V798.7h1V798.7h1V800.2h1V797.8h1V799.9h1V799.9h1V799h1V798.9h1V798.9h1V797.5h1V797.5h1V797.5h1V797.5h1V797.4h1V798.1h1V798.1h1V799.8h1V799.7h1V799.2h1V797.4h1V797.4h1V799h1V799h1V798.9h1V799.5h1V799.3h1V799.2h1V797.7h1V797.6h1V797.6h1V799.3h1V799.2h1V798h1V798h1V797.7h1V797.7h1V797.6h1V798.3h1V798.2h1V798.7h1V798.7h1V796.7h1V796.7h1V797.3h1V797.3h1V797.2h1V798h1V798h1V798.6h1V798.5h1V798.5h1V797.1h1V797.1h1V797h1V797h1V795.8h1V795.8h1V795.8h1V796.2h1V796.2h1V796.2h1V796.6h1V796.5h1V796.5h1V797.3h1V797.3h1V797.6h1V797.6h1V795.3h1V795.6h1V797.3h1V797.3h1V794.7h1V794.5h1V794.4h1V795.2h1V795.1h1V795h1V796.5h1V796.1h1V793.7h1V793.6h1V793.6h1V794.2h1V794.6h1V794.5h1V796.4h1V796.4h1V795.6h1V793.6h1V793.5h1V793.8h1V793.8h1V793.7h1V793.1h1V793h1V793.4h1V793.3h1V793.3h1V794.5h1V794.4h1V793.3h1V793.3h1V793.2h1V793.2h1V793.5h1V794.3h1V794.4h1V794.5h1V792.6h1V792h1V792.1h1V792.2h1V793.2h1V794.1h1V795.4h1V793.1h1V793.2h1V795h1V795.1h1V795.3h1V794.8h1V794.9h1V795.6h1V795.4h1V793.9h1V795.6h1V796.5h1V797.5h1V797.5h1V797.5h1V794.6h1V794.6h1V794.1h1V794.5h1V794.9h1V795.6h1V796h1V796.3h1V796.6h1V797.6h1V798.1h1V798.4h1V797.9h1V797.4h1V796.3h1V795.8h1V795.5h1V793.8h1V793.3h1V793.4h1V794.5h1V794.3h1V793.9h1V792.3h1V792.2h1V790.5h1V790h1V788.5h1V787.1h1V787.4h1V786.9h1V789h1V788.2h1V787.7h1V785.7h1V785.5h1V783.9h1V784.1h1V783.9h1V785.3h1V785.1h1V783.9h1V783.6h1V783.4h1V783.2h1V783h1V783.8h1V783h1V782.9h1V782.7h1V782.4h1V784h1V781.6h1V781.4h1V781.1h1V781.8h1V782.5h1V784.1h1V781.7h1V781.4h1V781.4h1V781h1V778.5h1V778h1V776.9h1V777h1V776.4h1V776.5h1V777.6h1V777h1V777.2h1V775.4h1V772.7h1V772.1h1V773.6h1V773.1h1V772.4h1V771.1h1V771.5h1V771.3h1V773.6h1V773.6h1V773.9h1V773.5h1V771.4h1V772h1V773.8h1V772.8h1V774.6h1V774.2h1V773.7h1V774.3h1V777.4h1V778h1V778.7h1V778.5h1V781.5h1V782.1h1V781h1V780.6h1V781.1h1V781.6h1V781.8h1V781.5h1V782h1V784.4h1V783h1V783.3h1V783.1h1V784.1h1V785.5h1V783.7h1V782.7h1V782.4h1V781.6h1V781.3h1V782.7h1V780.5h1V780.2h1V777.7h1V777.2h1V779.4h1V779.3h1V780h1V779.9h1V779.5h1V780.6h1V780.4h1V780.1h1V779.9h1V779.1h1V778.7h1V777.5h1V774.1h1V774.1h1V775.2h1V775.2h1V776.2h1V776h1V777.5h1V777.5h1V777.6h1V776.1h1V774.6h1V777.3h1V777.5h1V778.3h1V780.2h1V780.7h1V780.8h1V780.9h1V781.1h1V781.2h1V780.6h1V779.5h1V782h1V782.1h1V778.6h1V778.7h1V779.2h1V779.4h1V780.5h1V780.7h1V781.7h1V780.9h1V779.6h1V779.9h1V780.1h1V781.3h1V779.8h1V780h1V780.7h1V781h1V781.2h1V780.3h1V780.6h1V780.8h1V783h1V784.7h1V784.8h1V785h1V782.3h1V782.5h1V782.7h1V782.9h1V783.6h1V783.8h1V784h1V785.8h1V786h1V785.7h1V785.9h1V786.2h1V786.2h1V786.3h1V786.5h1V788.5h1V788.7h1V788.8h1V787h1V786.8h1V788h1V788.3h1V788.5h1V788.9h1V789.2h1V789.5h1V788.4h1V789h1V790.4h1V790.6h1V790.8h1V789.5h1V789.7h1V791.4h1V791.5h1V792.3h1V792.4h1V792.6h1V791.6h1V791.2h1V791.1h1V790.2h1V792.6h1V792.5h1V792.5h1V790.9h1V790.4h1V790.4h1V792.1h1V792.1h1V792h1V791.3h1V791.2h1V791.1h1V791.2h1V790.7h1V790.2h1V789h1V788.5h1V787.5h1V787.2h1V786.2h1V785.8h1V784.3h1V783.9h1V783.4h1V784.9h1V784.5h1V783h1V782.6h1V782.1h1V781.5h1V781.1h1V780.6h1V780.7h1V779.4h1V780.1h1V779.8h1V779.4h1V778.9h1V777.2h1V778.1h1V778.3h1V776.8h1V776.5h1V776.2h1V775.5h1V775.2h1V775.9h1V775.6h1V774.8h1V773.7h1V775h1V774.7h1V774.9h1V774.6h1V774.3h1V771.9h1V772.8h1V772.5h1V771.7h1V771.3h1V770.6h1V770.6h1V769.9h1V769.1h1V769.1h1V768.4h1V767.7h1V764.9h1V764.1h1V764.6h1V762.7h1V762h1V761.2h1V762.9h1V761.6h1V760.2h1V757.2h1V755.8h1V754.4h1V752.3h1V753h1V751.6h1V747.2h1V744.2h1V740.8h1V739h1V735.5h1V730.8h1V727.2h1V723.5h1V720.1h1V716.4h1V712.6h1V709.4h1V704.8h1V698.3h1V692.9h1V687.5h1V684.6h1V678.8h1V671.7h1V665.9h1V659h1V651h1V644h1V637.1h1V630.1h1V623.2h1V617h1V610.1h1V604.2h1V600.9h1V598.7h1V598h1V596.3h1V597.7h1V597.7h1V596.7h1V596.1h1V597.9h1V598.1h1V599.6h1V602.6h1V606.7h1V609.8h1V614.2h1V618.2h1V622.6h1V628.3h1V632.3h1V637.2h1V642.8h1V647.7h1V652.3h1V657.4h1V664.1h1V670.4h1V676.9h1V681h1V687.6h1V694.8h1V703.9h1V712h1V720.4h1V728.4h1V736.4h1V744.9h1V752.2h1V759.8h1V766.5h1V769.8h1V775.4h1V779.6h1V784.4h1V788.3h1V792.6h1V791.4h1V792.3h1V793.1h1V796.3h1V797.6h1V798.3h1V797.4h1V797.8h1V797.9h1V797.8h1V798h1V798.1h1V798.4h1V799.2h1V799.3h1V798.6h1V798.7h1V798.8h1V799.4h1V799.3h1V797.9h1V798.9h1V798.9h1V798.9h1V797.5h1V797.3h1V797.8h1V798.7h1V798.8h1V798.7h1V797.5h1V797.4h1V797.3h1V796.4h1V796.3h1V797.9h1V796.8h1V796h1V797.8h1V797.8h1V797.5h1V797.7h1V797.6h1V797.5h1V797.6h1V797.5h1V795.3h1V795.2h1V795.9h1V795.6h1V796.2h1V795.9h1V795h1V794.7h1V794.9h1V792.4h1V792h1V791.5h1V790.8h1V790.2h1V790.7h1V790.6h1V791.5h1V789.1h1V788.7h1V787.9h1V786.1h1V786.5h1V785.9h1V785.3h1V786.3h1V785.7h1V784.1h1V783.6h1V783.2h1V783.5h1V783.4h1V781.4h1V781.8h1V782.1h1V784.9h1V785.3h1V783.8h1V784.3h1V784.9h1V787.6h1V786.2h1V788.9h1V789.2h1V787.2h1V787.8h1V788.4h1V790.9h1V791.7h1V792.2h1V791.6h1V792.2h1V792.7h1V794.9h1V795.3h1V795.1h1V795.5h1V795.9h1V796.2h1V796.5h1V795.6h1V798.6h1V798.9h1V799.3h1V799.5h1V799.9h1V800h1V799.1h1V799.4h1V799.4h1V800.4h1V801h1V801.1h1V800.4h1V802.1h1V800.5h1V800.3h1V800.4h1V801.6h1V799.9h1V800h1V800.3h1V800.6h1V802.5h1V801.8h1V801.5h1V800.8h1V800.7h1V802.1h1V800h1V799.6h1V799.2h1V797.8h1V797.2h1V795.9h1V795.1h1V794.1h1V792.8h1V791.1h1V792.8h1V791.5h1V790.3h1V789.2h1V787.6h1V787.8h1V787.1h1V784.7h1V784.5h1V785h1V785.6h1V787.4h1V786.2h1V786.6h1V787.2h1V788.6h1V789.3h1V790h1V789.2h1V790h1V792.1h1V792.9h1V795.1h1V795.8h1V793.5h1V794h1V795.2h1V798.1h1V798.4h1V798.6h1V799.2h1V799.3h1V797.3h1V797.2h1V795.9h1V794.9h1V794.7h1V795.5h1V794.6h1V794.4h1V794.6h1V793.2h1V793h1V793.5h1V793.3h1V794.6h1V792.7h1V794.8h1V793h1V792.8h1V792.6h1V794.5h1V793h1V792h1V791.7h1V792.7h1V793.7h1V793.4h1V792.1h1V790.4h1V792.2h1V789.1h1V788.7h1V790.6h1V790.3h1V790.9h1V789.7h1V789.4h1V789.1h1V786.9h1V786.7h1V788.3h1V784.9h1V784.7h1V784.5h1V785.1h1V785h1V784.8h1V787.9h1V788.2h1V786.1h1V785.9h1V787.1h1V782.9h1V783h1V782.9h1V782.7h1V785h1V816.5h-1V816.5h-1V818.4h-1V818.4h-1V818.4h-1V816.3h-1V817.5h-1V816.2h-1V816.3h-1V816.3h-1V817h-1V818.6h-1V813.6h-1V813.7h-1V815.5h-1V815.4h-1V815.9h-1V815.9h-1V817.2h-1V817.1h-1V816.6h-1V816.5h-1V816.3h-1V817.3h-1V815.3h-1V817.7h-1V819.1h-1V817.6h-1V817.5h-1V817.5h-1V816.7h-1V814.4h-1V814.4h-1V815.3h-1V816.3h-1V816.5h-1V817.2h-1V817.3h-1V817.4h-1V817.1h-1V817.2h-1V815h-1V815.5h-1V816.8h-1V817h-1V816h-1V816.2h-1V817.1h-1V819.6h-1V819.8h-1V817.5h-1V818.3h-1V819.3h-1V821h-1V821h-1V819.3h-1V819.3h-1V819.4h-1V819.4h-1V818.3h-1V819h-1V818.5h-1V817.6h-1V816.6h-1V815.1h-1V813.1h-1V812.4h-1V813h-1V812.2h-1V812.5h-1V811.7h-1V810.9h-1V811h-1V808.2h-1V807.4h-1V806.4h-1V805.8h-1V805.3h-1V806.1h-1V806h-1V806.2h-1V804.8h-1V805.6h-1V805.6h-1V807.6h-1V807.9h-1V808.7h-1V809.6h-1V813.4h-1V813.6h-1V814.4h-1V812.3h-1V812.8h-1V813.5h-1V815.9h-1V816.2h-1V814.5h-1V814.6h-1V814.7h-1V815.4h-1V815.5h-1V817h-1V817h-1V817.1h-1V815.3h-1V815.2h-1V816.4h-1V816h-1V815.7h-1V815.1h-1V815.5h-1V816.7h-1V816.6h-1V814.4h-1V816.9h-1V814.8h-1V816.6h-1V816.4h-1V816.4h-1V815.7h-1V813.9h-1V813.5h-1V813.3h-1V812.5h-1V812.1h-1V811.7h-1V810.2h-1V809.8h-1V809.4h-1V811.2h-1V809.9h-1V809.9h-1V809.4h-1V809.1h-1V808h-1V807.3h-1V807.2h-1V806.7h-1V806.1h-1V803.7h-1V803.1h-1V803.8h-1V803h-1V802.4h-1V801.7h-1V801.3h-1V800.5h-1V799.9h-1V799.6h-1V798.8h-1V800.3h-1V799.8h-1V799.4h-1V799.1h-1V796.6h-1V798.7h-1V798.2h-1V798.4h-1V798.8h-1V797.9h-1V798.3h-1V799.6h-1V800.2h-1V800.8h-1V800.8h-1V800.6h-1V801.2h-1V801.8h-1V803.8h-1V804.3h-1V803.9h-1V804.5h-1V805.1h-1V805.5h-1V806h-1V808.5h-1V809.7h-1V810.2h-1V810.6h-1V808.7h-1V811.3h-1V811.7h-1V809.9h-1V809.4h-1V809.7h-1V809.8h-1V809.9h-1V809.5h-1V809.6h-1V809.7h-1V810.6h-1V810.8h-1V810.8h-1V810.9h-1V811.7h-1V811.8h-1V812.9h-1V812.1h-1V812.2h-1V811.1h-1V813.3h-1V813.4h-1V813.6h-1V813.3h-1V813.9h-1V813.9h-1V814h-1V813.4h-1V811.5h-1V811.4h-1V811.4h-1V813.4h-1V813.4h-1V813.1h-1V811.9h-1V811.8h-1V811.8h-1V812.3h-1V812.1h-1V812h-1V813h-1V812.7h-1V812.1h-1V809.1h-1V809.4h-1V809.2h-1V810.4h-1V809.8h-1V808.7h-1V807.6h-1V806.7h-1V805.8h-1V803.4h-1V801.5h-1V797.6h-1V792.5h-1V788.1h-1V783.2h-1V776.5h-1V769.8h-1V762.2h-1V754.4h-1V746.5h-1V740.6h-1V730.4h-1V722.3h-1V714.2h-1V706.9h-1V700h-1V693.4h-1V687.1h-1V680.5h-1V674.2h-1V669.2h-1V664.1h-1V657.9h-1V653h-1V648h-1V644.9h-1V640h-1V634.7h-1V630.2h-1V625.8h-1V620.6h-1V617.2h-1V614.8h-1V611.8h-1V610.7h-1V610.7h-1V610.6h-1V610.6h-1V609.2h-1V609.1h-1V609.1h-1V608.6h-1V609.3h-1V611.5h-1V616.3h-1V622.3h-1V629.5h-1V635.2h-1V642.2h-1V649.1h-1V654.8h-1V661.7h-1V668.6h-1V676.1h-1V682.6h-1V690.9h-1V696.5h-1V701.9h-1V706.5h-1V711.9h-1V715.9h-1V720.4h-1V724.4h-1V729h-1V733.1h-1V736.8h-1V740.5h-1V743.5h-1V747h-1V751h-1V754.5h-1V757.9h-1V759.5h-1V761.4h-1V764.6h-1V766.1h-1V765.5h-1V766.9h-1V768.9h-1V770.4h-1V771.5h-1V772.7h-1V773.6h-1V773.8h-1V774.5h-1V775.2h-1V777.1h-1V777.8h-1V778.5h-1V780.9h-1V781.6h-1V782.3h-1V780.5h-1V783h-1V782.2h-1V782.8h-1V784.3h-1V784.6h-1V784.9h-1V785.2h-1V785.5h-1V785.8h-1V784.5h-1V784.8h-1V785.2h-1V785.5h-1V785.9h-1V786.2h-1V787.5h-1V787.8h-1V789.6h-1V789.8h-1V790.1h-1V790.4h-1V791.1h-1V791.4h-1V790.9h-1V791.2h-1V791.6h-1V791.7h-1V792h-1V793.6h-1V794h-1V791.7h-1V792.2h-1V794.9h-1V794.6h-1V796.2h-1V794.4h-1V794.8h-1V795.3h-1V798h-1V796.3h-1V798.7h-1V799.1h-1V798.9h-1V799.4h-1V800.2h-1V800.7h-1V801.3h-1V800.3h-1V800.8h-1V802.4h-1V802.8h-1V801.1h-1V801.2h-1V802.5h-1V804h-1V804.1h-1V804.1h-1V803.7h-1V803h-1V803h-1V801.8h-1V802.7h-1V802.8h-1V802.8h-1V803.1h-1V804h-1V804.1h-1V804.7h-1V805h-1V804.6h-1V804.6h-1V805h-1V805h-1V805.5h-1V805.8h-1V806.1h-1V812.9h-1V812.6h-1V813.4h-1V811.2h-1V813.3h-1V813.3h-1V813.3h-1V813.3h-1V812.1h-1V806.7h-1V806.8h-1V807.8h-1V807.8h-1V806.2h-1V806.2h-1V809.2h-1V809.2h-1V808h-1V806.7h-1V806.4h-1V807h-1V807h-1V806.5h-1V806.6h-1V806.6h-1V806.5h-1V808.2h-1V807.2h-1V807.2h-1V807.6h-1V807.6h-1V808.7h-1V809.2h-1V809.2h-1V808.6h-1V808.6h-1V808.6h-1V808.6h-1V807.5h-1V807.7h-1V807.7h-1V807h-1V807h-1V808.1h-1V807.4h-1V809.3h-1V805.2h-1V806.3h-1V806.3h-1V805.6h-1V805.5h-1V805.5h-1V807h-1V807h-1V808.3h-1V807.3h-1V807.3h-1V807.2h-1V807.4h-1V830.7h-1V830.3h-1V829h-1V828.8h-1V829.7h-1V830.9h-1V830.9h-1V830.4h-1V831.4h-1V806.5h-1V806.2h-1V808h-1V808.2h-1V809.2h-1V808.6h-1V809.4h-1V810.9h-1V809.5h-1V809.7h-1V811.5h-1V813.4h-1V811.6h-1V812.9h-1V822.9h-1V825.2h-1V826.3h-1V832.2h-1V832.4h-1V835.3h-1V837h-1V837.1h-1V836.4h-1V827.1h-1V824.4h-1V825.2h-1V825.1h-1V824.9h-1V842.8h-1V839.7h-1V838.8h-1V840.3h-1V840.1h-1V839.1h-1V837h-1V838.6h-1V838.1h-1V838.3h-1V835.4h-1V817.6h-1V818.9h-1V817.5h-1V817.6h-1V816.9h-1V817.1h-1V815.8h-1V814.4h-1V813.5h-1V809.8h-1V811.1h-1V810.7h-1V808.6h-1V804.6h-1V805.3h-1V803.2h-1V801.2h-1V797.6h-1V795.2h-1V794h-1V792.4h-1V792.6h-1V791.1h-1V791.5h-1V792.1h-1V794.5h-1V795.2h-1V795.1h-1V796.3h-1V798.2h-1V797.8h-1V798.7h-1V799.3h-1V800.1h-1V801.5h-1V802.2h-1V801.5h-1V801.7h-1V804.6h-1V805.4h-1V806.1h-1V804.2h-1V804.3h-1V805.7h-1V805.5h-1V805.5h-1V806h-1V817.9h-1V817.8h-1V818.3h-1V820.2h-1V820.1h-1V820.6h-1V821.1h-1V820.3h-1V820.2h-1V813.8h-1V815.1h-1V815.6h-1V812.4h-1V814.1h-1V815.9h-1V816.4h-1V818.1h-1V817.3h-1V817.8h-1V820.4h-1V822.4h-1V821.6h-1V821.7h-1V821.8h-1V817.9h-1V819.1h-1V821.8h-1V819.8h-1V819.9h-1V819.9h-1V820.8h-1V835.1h-1V835.8h-1V834.5h-1V834.5h-1V831.8h-1V832.3h-1V832.4h-1V833.8h-1V837.1h-1V837.2h-1V834.9h-1V821.2h-1V823.5h-1V824.7h-1V822.3h-1V822.3h-1V825h-1V820.9h-1V821h-1V819.8h-1V822.6h-1V822.1h-1V823.2h-1V824.1h-1V823.9h-1V823.7h-1V823.1h-1V822h-1V821.7h-1V819.8h-1V819.5h-1V820.5h-1V818.8h-1V818.5h-1V818.7h-1V819.8h-1V822.9h-1V823.8h-1V823.5h-1V822.3h-1V822h-1V822.4h-1V822h-1V820.9h-1V820.6h-1V817.2h-1V815.6h-1V815.3h-1V815.6h-1V815.5h-1V815.5h-1V813.6h-1V813.5h-1V814.6h-1V814.5h-1V812.8h-1V812.7h-1V814.2h-1V812.8h-1V812.7h-1V812.5h-1V812.4h-1V812.6h-1V812h-1V811.9h-1V812.9h-1V812.7h-1V811.6h-1V811.3h-1V811.2h-1V811h-1V822.8h-1V822.4h-1V822.2h-1V822.4h-1V822.3h-1V823.4h-1V823.3h-1V820.9h-1V821h-1V809.7h-1V810.3h-1V810.3h-1V811.4h-1V809h-1V809.9h-1V809.1h-1V808.9h-1V807.9h-1V807.9h-1V808h-1V808.8h-1V807.7h-1V808.3h-1V809.9h-1V809.1h-1V809.1h-1V810h-1V809.6h-1V809.7h-1V809.7h-1V808h-1V808.1h-1V810.1h-1V808.8h-1V808.7h-1V808.7h-1V808.6h-1V808.7h-1V808.7h-1V808.3h-1V808.5h-1V808.3h-1V808.9h-1V809.7h-1V809.7h-1V809h-1V809h-1V809.1h-1V810.9h-1V809.1h-1V809.9h-1V809.9h-1V809.9h-1V810.8h-1V810.8h-1V811h-1V811.1h-1V811.1h-1V809.5h-1V809.5h-1V809.7h-1V809.7h-1V811.5h-1V811.6h-1V811.6h-1V809h-1V809h-1V809h-1V811.6h-1V811.6h-1V811.6h-1V810.7h-1V810.7h-1V810.7h-1V810.4h-1V810.4h-1V810.5h-1V811.7h-1V809.4h-1V810.6h-1V810.7h-1V810.7h-1V810.2h-1V809.9h-1V810h-1V810.6h-1V810.6h-1V809.6h-1V809.6h-1V810.9h-1V810.9h-1V811h-1V810.2h-1V810.2h-1V811.1h-1V811.2h-1V811.2h-1V812.7h-1V812.7h-1V810.9h-1V810.9h-1V810.8h-1V812.5h-1V812.5h-1V812.8h-1V812.8h-1V811.5h-1V811.5h-1V811.5h-1V812.9h-1V813.1h-1V811.2h-1V811.2h-1V812.7h-1V812.8h-1V813.4h-1V811.7h-1V811.7h-1V810.8h-1V810.7h-1V810.7h-1V810.7h-1V810.7h-1V812.5h-1V812.5h-1V812.5h-1V812.3h-1V812.3h-1V810.9h-1V810.8h-1V810.8h-1V810.7h-1V811.6h-1V811.6h-1V811.6h-1V811.6h-1V811.6h-1V812.9h-1V812.6h-1V813h-1V812.8h-1V811.7h-1V812.1h-1V812.1h-1V811h-1V811h-1V811h-1V810.9h-1V810.9h-1V811.8h-1V811.8h-1V810.9h-1V810.9h-1V810.8h-1V811.7h-1V811.7h-1V811.7h-1V811h-1V811h-1V811h-1V813.2h-1V813.2h-1V813.2h-1V810.5h-1V811.7h-1V811.7h-1V811.7h-1V810.8h-1V811.6h-1V811.6h-1V813.1h-1V813.1h-1V811h-1V811.1h-1V811.1h-1V811.1h-1V811.2h-1V812.5h-1V812.5h-1V813.4h-1V811.9h-1V810.5h-1V812.5h-1V812.5h-1V812.3h-1V812.5h-1V812.7h-1V812.7h-1V812.5h-1V811.7h-1V812.1h-1V811.3h-1V810.6h-1V813.1h-1V810.6h-1V810.6h-1V810.6h-1V810.6h-1V810.6h-1V810.7h-1V810.7h-1V810.7h-1V810.8h-1V810.8h-1V810.8h-1V810.9h-1V810.9h-1V810.9h-1V811h-1V811h-1V811h-1V811.1h-1V811.1h-1V811.1h-1V811.2h-1V811.2h-1V811.2h-1V811.3h-1V811.3h-1V811.3h-1V811.4h-1V811.4h-1V811.4h-1V811.5h-1V811.5h-1V811.5h-1V811.5h-1V811.6h-1V811.6h-1V811.6h-1V811.7h-1V811.7h-1V811.7h-1V811.8h-1V811.8h-1V811.8h-1V811.9h-1V811.9h-1V811.9h-1V812h-1V812h-1V812h-1V812.1h-1V812.1h-1V812.1h-1V812.2h-1V812.2h-1V812.2h-1V812.3h-1V812.3h-1V812.3h-1V812.4h-1V812.4h-1V812.5h-1V812.5h-1V812.5h-1V812.8h-1V815.6h-1V814.5h-1V814.5h-1V815h-1V815.9h-1V815.9h-1V816h-1V814.7h-1V814.8h-1V815h-1V815.1h-1V815.4h-1V815.5h-1V815.5h-1V814.5h-1V813.7h-1V813.8h-1V815.1h-1V815.1h-1V815.2h-1V815.3h-1V814.2h-1V814.3h-1V815.7h-1V815.8h-1V814.3h-1V814.4h-1V814.4h-1V814.7h-1V814.7h-1V814.7h-1V817.4h-1V817.4h-1V817.4h-1V815.7h-1V814.8h-1V816.7h-1V816.7h-1V817h-1V817h-1V817h-1V816.6h-1V816.5h-1V816.5h-1V815.2h-1V815.2h-1V815.5h-1V814.7h-1V814.7h-1V816.5h-1V816.5h-1V816.5h-1V815.9h-1V815.5h-1V815.5h-1V815.5h-1V817h-1V817h-1V816.7h-1V816.7h-1V816.8h-1V815.2h-1V815.2h-1V816.7h-1V816.7h-1V816.7h-1V817.2h-1V815.8h-1V814.9h-1V814.9h-1V814.9h-1V815.8h-1V815.8h-1V815.6h-1V815.6h-1V815.6h-1V814.6h-1V814.6h-1V814.6h-1V816h-1V815.3h-1V815.3h-1V815.3h-1V816.1h-1V816.1h-1V815.9h-1V816.8h-1V816.8h-1V816.8h-1V816.5h-1V816.5h-1V815.6h-1V817.1h-1V817.1h-1V815.9h-1V814.9h-1V814.9h-1V815.1h-1V815.1h-1V816h-1V816h-1V814.8h-1V814.8h-1V814.8h-1V817.3h-1V816.8h-1V816.8h-1V816.5h-1V815.8h-1V815.8h-1V815.5h-1V815.5h-1V815.5h-1V816.8h-1V816.8h-1V817.5h-1V814.8h-1V815.9h-1V815.6h-1V817.3h-1V817.3h-1V814.9h-1V814.9h-1V814.9h-1V815.9h-1V815.6h-1V815.5h-1V815.5h-1V814.3h-1V816.5h-1V814.9h-1V814.9h-1V814.8h-1V815h-1V816.8h-1V814.6h-1V814.6h-1V816.5h-1V816.5h-1V815.6h-1V815.9h-1V815.8h-1V816.3h-1V813.5h-1V813.5h-1V813.7h-1V813.7h-1V813.6h-1V815.5h-1V815.4h-1V814.4h-1V814.4h-1V814.3h-1V813.5h-1V814.8h-1V814.8h-1V813.1h-1V814.6h-1V814.7h-1V814.6h-1V812.9h-1V814.6h-1V814.5h-1V812.6h-1V812.6h-1V815.2h-1V814.3h-1V814.2h-1V814.2h-1V812.8h-1V812.8h-1V812.7h-1V813.8h-1V813.8h-1V814.2h-1V814.2h-1V814.6h-1V814.5h-1V814.5h-1V812.8h-1V813h-1V813.9h-1V813.9h-1V813.9h-1V813.3h-1V813.2h-1V812.4h-1V813.2h-1V813.3h-1V813.3h-1V813.2h-1V811.7h-1V811.7h-1V811.6h-1V812.1h-1V812.1h-1V812h-1V813.7h-1V813.6h-1V813.6h-1V813.3h-1V813.3h-1V813.3h-1V811.6h-1V811.8h-1V811.8h-1V811.9h-1V811.8h-1V813.9h-1V813.5h-1V813.6h-1V813.7h-1V812.6h-1V812.7h-1V812.9h-1V812.2h-1V812.4h-1V812.5h-1V815.1h-1V814.3h-1V814.4h-1V814.5h-1V814.2h-1V814.3h-1V814.4h-1V816.1h-1V814.5h-1V814.6h-1V814.7h-1V814.1h-1V814.2h-1V814.3h-1V816.7h-1V816.8h-1V816.9h-1V815.2h-1V816.1h-1V816.2h-1V816.3h-1V815.5h-1V815.6h-1V815.7h-1V817.7h-1V817.8h-1V817.9h-1V817.7h-1V818.2h-1V818.3h-1V815.5h-1V815.6h-1V818.3h-1V817.1h-1V817.2h-1V817.5h-1V817.5h-1V817.4h-1V817.4h-1V817.9h-1V817.8h-1V817.7h-1V815.7h-1V816.9h-1V816.7h-1V817.3h-1V817.1h-1V816.4h-1V816.1h-1V815.8h-1V816.4h-1V816.1h-1V815.8h-1V813h-1V812.7h-1V812.4h-1V814.5h-1V814.2h-1V814h-1V813.7h-1V813.4h-1V813.2h-1V811.7h-1V811.5h-1V811.3h-1V812.4h-1V810.8h-1V810.6h-1V810.1h-1V811.2h-1V811h-1V810.3h-1V810.1h-1V808.6h-1V808.4h-1V808.2h-1V810.8h-1V810.6h-1V810.4h-1V809.9h-1V807.6h-1V808.1h-1V807.9h-1V807.7h-1V808.4h-1V806.6h-1V806.5h-1V808.2h-1V808h-1V807.9h-1V807.7h-1V807.8h-1V805.7h-1V805.5h-1V805.4h-1V805.4h-1V805.2h-1V807.3h-1V807.1h-1V806.9h-1V806.4h-1V806.2h-1V805.9h-1V803.7h-1V805.1h-1V804.9h-1V804.8h-1V804.3h-1V804.1h-1V804h-1V805h-1V804.7h-1V803.8h-1V803.6h-1V803.2h-1V803h-1V802.9h-1V803.5h-1V803.4h-1V803.3h-1V801.8h-1V801.8h-1V801.7h-1V801h-1V801h-1V802.2h-1V802.5h-1V800.6h-1V800.6h-1V800.6h-1V802.8h-1V802.8h-1V802.8h-1V800.6h-1V800.6h-1V802.1h-1V802.1h-1V802.1h-1V803.3h-1V803.3h-1V803.3h-1V802.1h-1V802.1h-1V802.1h-1V803.3h-1V803.3h-1V803.3h-1V801.1h-1V801.1h-1V801.1h-1V803.3h-1V803.3h-1V803.3h-1V803.2h-1V802.8h-1V802.8h-1V803.1h-1V801.3h-1V801.3h-1V801.8h-1V802.6h-1V801.3h-1V803h-1V803h-1V802.4h-1V802.4h-1V803.2h-1V803.2h-1V803.2h-1V803.4h-1V803h-1V803h-1V802.2h-1V802.2h-1V802.2h-1V802.1h-1V802.1h-1V801.5h-1V801.4h-1V802.4h-1V802.4h-1V802.4h-1V800.6h-1V803h-1V803h-1V803h-1V801.3h-1V801h-1V801h-1V801h-1V803.2h-1V803.2h-1V803.2h-1V802.1h-1V802.1h-1V802.1h-1V802.9h-1V802.9h-1V802.6h-1V803.3h-1V803.2h-1V802h-1V800.5h-1V800.4h-1V800.4h-1V801.7h-1V801.6h-1V801.5h-1V800.1h-1V800h-1V801.9h-1V801.8h-1V801.1h-1V801h-1V800.9h-1V802h-1V799.4h-1V800h-1V799.9h-1V801.5h-1V801.4h-1V801.4h-1V800.4h-1V800.3h-1V799.2h-1V799.1h-1V799.1h-1V800.4h-1V800.3h-1V798.8h-1V798.7h-1V798.6h-1V799.4h-1V799.3h-1V799.2h-1V799h-1V800.7h-1V800.6h-1V800.4h-1V800.4h-1V797.9h-1V799.7h-1V799.6h-1V799.8h-1V798h-1V799.2h-1V799.1h-1V799h-1V797.5h-1V799.6h-1V799.5h-1V799.4h-1V796.9h-1V796.8h-1V796.7h-1V798.6h-1V798.2h-1V798.1h-1V796.4h-1V797.2h-1V795.9h-1V795.8h-1V795.7h-1V797.4h-1V798h-1V797.3h-1V795.8h-1V796.2h-1V796.1h-1V797.9h-1V797.8h-1V797.8h-1V795.7h-1V795.7h-1V795.6h-1V795.5h-1V795.5h-1V797h-1V796.9h-1V796.9h-1V796.5h-1V796.5h-1V796.1h-1V796.1h-1V795.4h-1V795.7h-1V795.7h-1V796.8h-1V797.5h-1V797.5h-1V794.7h-1V794.7h-1V797.2h-1V797.2h-1V795.4h-1V795.4h-1V795.4h-1V796h-1V795.6h-1V795.6h-1V795.6h-1V797.2h-1V797.2h-1V797.2h-1V796.1h-1V795.5h-1V795.5h-1V795.5h-1V796.3h-1V797.1h-1V798.1h-1V797.9h-1V798.3h-1V799.6h-1V799.9h-1V799.3h-1V801.5h-1V801.5h-1V801h-1V801.3h-1V800.5h-1V802.2h-1V802.7h-1V802.8h-1V802.4h-1V802.5h-1V802.5h-1V802.7h-1V803.9h-1V804h-1V804.6h-1V803.5h-1V803.6h-1V805.7h-1V804.9h-1V802.8h-1V802.9h-1V802.6h-1V805.1h-1V805.2h-1V804.3h-1V812.4h-1V812.8h-1V814.2h-1V814.6h-1V813.6h-1V813.4h-1V813.8h-1V813.5h-1V813.9h-1V813.2h-1V815.2h-1V807.5h-1V807.8h-1V808.4h-1V808.8h-1V810.9h-1V808.7h-1V809.5h-1V809.8h-1V812.7h-1V811.7h-1V816.6h-1V817h-1V817.4h-1V819h-1V817.8h-1V816.8h-1V816.9h-1V815h-1V815.1h-1V816.7h-1V816.5h-1V816.5h-1V816.6h-1V815.4h-1V815.5h-1V818.5h-1V816.9h-1V819.3h-1V819.4h-1V829.5h-1V828.9h-1V830.6h-1V830.7h-1V829.7h-1V829.8h-1V828.9h-1V826.7h-1V826.8h-1V827.7h-1V828.1h-1V816.2h-1V815h-1V821h-1V821.1h-1V824.2h-1V824.3h-1V824.4h-1V821.9h-1V823.5h-1V823.8h-1V822h-1V817.5h-1V817.6h-1V816.2h-1V815.4h-1V820h-1V821h-1V821h-1V820.9h-1V822h-1V818.3h-1V818.3h-1V815.8h-1V819.6h-1V819.6h-1V821.6h-1V818.8h-1V818.6h-1V827.7h-1V826h-1V826.3h-1V825.9h-1V825.9h-1V823.3h-1V823.5h-1V823.5h-1V823.5h-1V819.8h-1V817.4h-1V819.4h-1V831.2h-1V828.6h-1V828.6h-1V827.1h-1V827.5h-1V827.5h-1V825h-1V825.5h-1V825.6h-1V815.9h-1V820.8h-1V819.8h-1V819.8h-1V814.1h-1V813.3h-1V813.3h-1V813.3h-1V815h-1V815.5h-1V816.4h-1V816.4h-1V816.1h-1V818.8h-1V818.5h-1V818.5h-1V818.5h-1V819.1h-1V819.2h-1V818.5h-1V819.7h-1V818.6h-1V818.6h-1V820.6h-1V820.6h-1V820.6h-1V819.5h-1V819.7h-1V821.3h-1V819.7h-1V821.6h-1V821.5h-1V817.7h-1V815.2h-1V814.6h-1V813.5h-1V813.3h-1V831.6h-1V832.8h-1V830.4h-1V830.2h-1V828.3h-1V829.4h-1V827.8h-1V827.7h-1V830.1h-1V829.5h-1V829.4h-1V814.3h-1V814.9h-1V814.4h-1V812.5h-1V812.2h-1V812.1h-1V814.5h-1V814.9h-1V814.4h-1V814.3h-1V814.3h-1V812.6h-1V812.6h-1V814.2h-1V811.7h-1V811.7h-1V817.8h-1V818.9h-1V821h-1V821h-1V818.9h-1V819h-1V819.8h-1V820.5h-1V818.8h-1V813.2h-1V814.2h-1V813.1h-1V813.4h-1V812.4h-1V812.5h-1V812.6h-1V815.1h-1V815.9h-1V816.1h-1V813.5h-1V813.4h-1V814.7h-1V815.7h-1V812.9h-1V812.4h-1V812.4h-1V814.2h-1V812.3h-1V812.3h-1V814h-1V815.5h-1V814.4h-1V814.1h-1V812.9h-1V812.6h-1V812.4h-1V814h-1V813.8h-1V813.6h-1V811.1h-1V810.9h-1V810.7h-1V811.2h-1V811h-1V811.1h-1V812.1h-1V810.3h-1V812.3h-1V812.3h-1V812.4h-1Z" fill="#000"/>
<g fill="#000">
<path d="M171.5,826.3L220.5,826.3L196,789.3Z"/>
<path d="M264.4,818.2L313.4,818.2L288.9,781.2Z"/>
<path d="M357.3,813.7L406.3,813.7L381.8,776.7Z"/>
<path d="M450.2,813.2L499.2,813.2L474.7,776.2Z"/>
<path d="M543.1,818.1L592.1,818.1L567.6,781.1Z"/>
<path d="M636,825.7L685,825.7L660.5,788.7Z"/>
<path d="M728.9,819.8L777.9,819.8L753.4,782.8Z"/>
<path d="M821.8,823.5L870.8,823.5L846.3,786.5Z"/>
<path d="M914.7,822.5L963.7,822.5L939.2,785.5Z"/>
<path d="M1007.6,819.5L1056.6,819.5L1032.1,782.5Z"/>
<path d="M1100.5,818.5L1149.5,818.5L1125,781.5Z"/>
<path d="M1193.4,816.6L1242.4,816.6L1217.9,779.6Z"/>
<path d="M1286.3,809.8L1335.3,809.8L1310.8,772.8Z"/>
<path d="M1379.2,807.7L1428.2,807.7L1403.7,770.7Z"/>
<path d="M1472.1,808.1L1521.1,808.1L1496.6,771.1Z"/>
<path d="M1565,639.3L1614,639.3L1589.5,602.3Z"/>
<path d="M1657.9,817.2L1706.9,817.2L1682.4,780.2Z"/>
<path d="M1750.8,820.4L1799.8,820.4L1775.3,783.4Z"/>
<path d="M1843.7,813.7L1892.7,813.7L1868.2,776.7Z"/>
</g>
<path d="M182,943 184,943.1 186,943.1 188,943.2 190,943.4 192,943.5 194,943.7 196,943.9 198,944.1 200,944.2 202,944.4 204,944.6 206,944.8 208,945 210,945.1 212,945.3 214,945.5 216,945.7 218,945.8 220,946 222,946.2 224,946.4 226,946.5 228,946.7 230,946.7 232,946.8 234,946.7 236,946.6 238,946.5 240,946.4 242,946.3 244,946.1 246,946 248,945.9 250,945.7 252,945.6 254,945.5 256,945.3 258,945.2 260,945.1 262,944.9 264,944.8 266,944.7 268,944.5 270,944.4 272,944.3 274,944.1 276,944 278,943.9 280,943.7 282,943.6 284,943.5 286,943.3 288,943.2 290,943 292,942.8 294,942.6 296,942.4 298,942.1 300,941.9 302,941.6 304,941.4 306,941.1 308,940.9 310,940.7 312,940.4 314,940.2 316,939.9 318,939.7 320,939.4 322,939.2 324,938.9 326,938.7 328,938.4 330,938.2 332,937.9 334,937.7 336,937.4 338,937.2 340,937 342,936.7 344,936.5 346,936.2 348,936 350,935.7 352,935.5 354,935.2 356,935 358,934.7 360,934.5 362,934.2 364,934 366,933.8 368,933.5 370,933.4 372,933.3 374,933.2 376,933.2 378,933.3 380,933.3 382,933.4 384,933.5 386,933.6 388,933.7 390,933.7 392,933.8 394,933.9 396,934 398,934.1 400,934.1 402,934.2 404,934.3 406,934.4 408,934.5 410,934.6 412,934.6 414,934.7 416,934.8 418,934.8 420,934.9 422,934.8 424,934.8 426,934.7 428,934.6 430,934.5 432,934.4 434,934.3 436,934.3 438,934.2 440,934.1 442,934 444,933.9 446,933.8 448,933.6 450,933.6 452,933.5 454,933.4 456,933.3 458,933.2 460,933.2 462,933.2 464,933.2 466,933.3 468,933.4 470,933.5 472,933.6 474,933.7 476,933.8 478,933.9 480,934 482,934.2 484,934.3 486,934.4 488,934.5 490,934.6 492,934.7 494,934.8 496,934.9 498,935 500,935.1 502,935.2 504,935.4 506,935.5 508,935.6 510,935.7 512,935.8 514,935.9 516,936 518,936.1 520,936.2 522,936.3 524,936.5 526,936.6 528,936.7 530,936.8 532,936.9 534,937 536,937.1 538,937.2 540,937.3 542,937.4 544,937.5 546,937.6 548,937.7 550,937.8 552,937.9 554,938 556,938.1 558,938.2 560,938.3 562,938.4 564,938.5 566,938.6 568,938.7 570,938.8 572,938.9 574,939 576,939.1 578,939.2 580,939.3 582,939.4 584,939.5 586,939.6 588,939.7 590,939.8 592,939.9 594,940 596,940.1 598,940.2 600,940.3 602,940.4 604,940.5 606,940.6 608,940.7 610,940.8 612,940.9 614,941 616,941.2 618,941.3 620,941.5 622,941.7 624,941.9 626,942.1 628,942.3 630,942.5 632,942.7 634,942.9 636,943.1 638,943.3 640,943.5 642,943.7 644,943.9 646,944.1 648,944.3 650,944.5 652,944.7 654,944.9 656,945.1 658,945.3 660,945.5 662,945.7 664,945.9 666,946.1 668,946.3 670,946.5 672,946.8 674,947.1 676,947.5 678,948 680,948.5 682,949 684,949.6 686,950.1 688,950.7 690,951.2 692,951.7 694,952.1 696,952.4 698,952.5 700,952.5 702,952.4 704,952.2 706,952 708,951.8 710,951.6 712,951.4 714,951.2 716,951 718,950.8 720,950.6 722,950.4 724,950.2 726,950 728,949.8 730,949.6 732,949.4 734,949.3 736,949.2 738,949.1 740,949 742,949 744,949 746,949 748,949 750,949 752,949.1 754,949.1 756,949.2 758,949.2 760,949.2 762,949.3 764,949.3 766,949.4 768,949.4 770,949.5 772,949.5 774,949.6 776,949.6 778,949.7 780,949.7 782,949.8 784,949.8 786,949.9 788,949.9 790,950 792,950 794,950.1 796,950.1 798,950.2 800,950.2 802,950.3 804,950.3 806,950.4 808,950.4 810,950.5 812,950.5 814,950.6 816,950.6 818,950.7 820,950.7 822,950.8 824,950.8 826,950.9 828,950.9 830,951 832,951.1 834,951.1 836,951.2 838,951.3 840,951.4 842,951.5 844,951.6 846,951.6 848,951.7 850,951.8 852,951.9 854,952 856,952.1 858,952.2 860,952.2 862,952.3 864,952.4 866,952.5 868,952.6 870,952.7 872,952.8 874,952.8 876,952.9 878,953 880,953.1 882,953.2 884,953.3 886,953.4 888,953.5 890,953.5 892,953.6 894,953.7 896,953.8 898,953.9 900,954 902,954.1 904,954.1 906,954.2 908,954.3 910,954.4 912,954.5 914,954.6 916,954.7 918,954.7 920,954.8 922,954.9 924,954.9 926,955 928,955 930,955 932,955 934,955 936,955 938,955 940,955 942,955 944,955 946,955 948,955 950,955 952,955 954,954.9 956,954.9 958,954.8 960,954.7 962,954.6 964,954.5 966,954.3 968,954.2 970,954.1 972,954 974,953.8 976,953.7 978,953.6 980,953.4 982,953.3 984,953.2 986,953 988,952.9 990,952.8 992,952.6 994,952.5 996,952.4 998,952.2 1000,952.1 1002,952 1004,951.9 1006,951.7 1008,951.6 1010,951.5 1012,951.4 1014,951.4 1016,951.5 1018,951.8 1020,952.2 1022,952.7 1024,953.4 1026,954 1028,954.6 1030,955.3 1032,955.8 1034,956.3 1036,956.6 1038,956.8 1040,956.9 1042,957 1044,957 1046,957 1048,957 1050,957 1052,957 1054,957 1056,957 1058,957 1060,957 1062,957 1064,957 1066,957 1068,957 1070,957 1072,957 1074,957 1076,957 1078,957 1080,957 1082,957 1084,957 1086,957 1088,957 1090,957 1092,956.9 1094,956.8 1096,956.7 1098,956.6 1100,956.4 1102,956.2 1104,956 1106,955.8 1108,955.6 1110,955.4 1112,955.2 1114,955 1116,954.8 1118,954.6 1120,954.4 1122,954.2 1124,954 1126,953.9 1128,953.7 1130,953.5 1132,953.3 1134,953.1 1136,952.9 1138,952.7 1140,952.5 1142,952.3 1144,952.1 1146,951.9 1148,951.7 1150,951.5 1152,951.3 1154,951.2 1156,951 1158,950.9 1160,950.8 1162,950.7 1164,950.6 1166,950.5 1168,950.5 1170,950.4 1172,950.3 1174,950.2 1176,950.1 1178,950 1180,950 1182,949.9 1184,949.8 1186,949.7 1188,949.6 1190,949.5 1192,949.5 1194,949.4 1196,949.3 1198,949.2 1200,949.1 1202,949.1 1204,949 1206,949 1208,949 1210,949 1212,949 1214,949 1216,949 1218,949 1220,949 1222,949 1224,949 1226,949 1228,949 1230,949 1232,949 1234,949 1236,949 1238,949 1240,949 1242,949 1244,949 1246,949 1248,949 1250,949 1252,948.9 1254,948.8 1256,948.6 1258,948.4 1260,948 1262,947.6 1264,947.2 1266,946.7 1268,946.3 1270,945.9 1272,945.4 1274,945 1276,944.5 1278,944.1 1280,943.6 1282,943.2 1284,942.7 1286,942.3 1288,941.8 1290,941.4 1292,941 1294,940.6 1296,940.3 1298,940.1 1300,939.9 1302,939.8 1304,939.7 1306,939.6 1308,939.5 1310,939.4 1312,939.3 1314,939.2 1316,939 1318,938.6 1320,938.1 1322,937.3 1324,936.4 1326,935.2 1328,934 1330,932.8 1332,931.5 1334,930.2 1336,929.1 1338,928.3 1340,928.1 1342,928.7 1344,930 1346,931.8 1348,933.7 1350,935.6 1352,937.1 1354,938.3 1356,939.3 1358,940.1 1360,940.9 1362,941.5 1364,942 1366,942.3 1368,942.4 1370,942.3 1372,942.2 1374,942 1376,941.7 1378,941.5 1380,941.3 1382,941.1 1384,940.8 1386,940.6 1388,940.4 1390,940.1 1392,939.9 1394,939.7 1396,939.5 1398,939.4 1400,939.3 1402,939.2 1404,939.3 1406,939.3 1408,939.4 1410,939.5 1412,939.6 1414,939.7 1416,939.8 1418,939.9 1420,940 1422,940.1 1424,940.2 1426,940.3 1428,940.4 1430,940.5 1432,940.6 1434,940.7 1436,940.8 1438,940.9 1440,941 1442,941.1 1444,941.3 1446,941.4 1448,941.5 1450,941.7 1452,941.8 1454,941.9 1456,942.1 1458,942.2 1460,942.3 1462,942.5 1464,942.6 1466,942.7 1468,942.8 1470,942.8 1472,942.8 1474,942.7 1476,942.6 1478,942.5 1480,942.3 1482,942.2 1484,942.1 1486,941.9 1488,941.8 1490,941.7 1492,941.5 1494,940.9 1496,939.8 1498,938.8 1500,937.7 1502,936.7 1504,935.7 1506,934.7 1508,933.7 1510,932.7 1512,931.8 1514,930.8 1516,929.9 1518,929.2 1520,928.5 1522,927.8 1524,927.1 1526,926.4 1528,925.7 1530,925 1532,924.3 1534,923.6 1536,922.9 1538,922.2 1540,921.4 1542,920.3 1544,918.8 1546,917.2 1548,915.6 1550,914.1 1552,912.5 1554,911 1556,908.6 1558,905.5 1560,902.4 1562,899.4 1564,895.7 1566,888.7 1568,881.1 1570,873.3 1572,865.1 1574,856.9 1576,847.6 1578,836 1580,824.1 1582,811.3 1584,796.4 1586,781.2 1588,766 1590,750.7 1592,736.7 1594,730 1596,729.3 1598,729.4 1600,729.5 1602,729.7 1604,734.1 1606,743 1608,752.4 1610,762.3 1612,772.9 1614,783.5 1616,794.4 1618,807.2 1620,821.5 1622,836.2 1624,853.3 1626,870.8 1628,888 1630,904.9 1632,918 1634,928.7 1636,938.2 1638,941.4 1640,943.4 1642,945.4 1644,946.6 1646,946.9 1648,947.2 1650,947.5 1652,947.8 1654,948.1 1656,948.3 1658,948.5 1660,948.6 1662,948.6 1664,948.5 1666,948.4 1668,948.2 1670,948 1672,947.8 1674,947.6 1676,947.4 1678,947.2 1680,947 1682,946.8 1684,946.6 1686,946.3 1688,945.8 1690,945.3 1692,944.5 1694,943.6 1696,942.6 1698,941.5 1700,940.4 1702,939.2 1704,938 1706,936.7 1708,935.5 1710,934.4 1712,933.5 1714,933.2 1716,933.3 1718,933.9 1720,934.9 1722,936 1724,937.2 1726,938.5 1728,939.7 1730,940.9 1732,942 1734,943.2 1736,944.2 1738,945.1 1740,946 1742,946.9 1744,947.7 1746,948.5 1748,949.2 1750,949.9 1752,950.4 1754,950.8 1756,951.1 1758,951.3 1760,951.4 1762,951.5 1764,951.6 1766,951.7 1768,951.6 1770,951.5 1772,951.1 1774,950.5 1776,949.5 1778,948.1 1780,946.3 1782,944.2 1784,942.1 1786,940.4 1788,939.2 1790,938.8 1792,939.1 1794,940 1796,941.3 1798,942.9 1800,944.4 1802,945.9 1804,947.4 1806,948.7 1808,949.8 1810,950.5 1812,950.9 1814,950.9 1816,950.7 1818,950.4 1820,950 1822,949.6 1824,949.2 1826,948.8 1828,948.4 1830,948.1 1832,947.7 1834,947.4 1836,947.1 1838,946.8 1840,946.5 1842,946.2 1844,945.9 1846,945.6 1848,945.3 1850,945.1 1852,944.8 1854,944.6 1856,944.4 1858,944.2 1860,943.9 1862,943.7 1864,943.5 1866,943.4 1868,943.2" fill="none" stroke="#000" stroke-width="9" stroke-linejoin="round" />
<path d="M1556,908.6 1557,907.1 1558,905.5 1559,904 1560,902.4 1561,900.9 1562,899.4 1563,897.8 1564,895.7 1565,892.5 1566,888.7 1567,884.9 1568,881.1 1569,877.3 1570,873.3 1571,869.2 1572,865.1 1573,861 1574,856.9 1575,852.6 1576,847.6 1577,841.9 1578,836 1579,830 1580,824.1 1581,818 1582,811.3 1583,803.9 1584,796.4 1585,788.8 1586,781.2 1587,773.6 1588,766 1589,758.3 1590,750.7 1591,743.2 1592,736.7 1593,732.4 1594,730 1595,729.3 1596,729.3 1597,729.3 1598,729.4 1599,729.4 1600,729.5 1601,729.6 1602,729.7 1603,730.9 1604,734.1 1605,738.4 1606,743 1607,747.7 1608,752.4 1609,757.3 1610,762.3 1611,767.5 1612,772.9 1613,778.2 1614,783.5 1615,788.9 1616,794.4 1617,800.4 1618,807.2 1619,814.3 1620,821.5 1621,828.6 1622,836.2 1623,844.5 1624,853.3 1625,862 1626,870.8 1627,879.4 1628,888 1629,896.6 1630,904.9 1631,912.1 1632,918 1633,923.4" fill="none" stroke="#000" stroke-width="10.5" stroke-linejoin="round" />
<path d="M181.5,937.3V937.3h1V937.3h1V936.9h1V936.9h1V937h1V937.5h1V937.1h1V936.7h1V937.9h1V937.9h1V936.4h1V936.2h1V937h1V936.3h1V936.7h1V936.6h1V936.9h1V936.7h1V936.5h1V936h1V934.4h1V936.3h1V935h1V935h1V935.9h1V935.8h1V935.8h1V935.1h1V934.1h1V936.4h1V936.3h1V936.8h1V934.5h1V934h1V934h1V937.1h1V937.1h1V937.1h1V935.2h1V936h1V935.7h1V935.7h1V933.7h1V933.6h1V934.5h1V934.2h1V934.6h1V935.1h1V935.2h1V934.5h1V934.8h1V934.4h1V935.2h1V935.6h1V935.6h1V933.5h1V935.1h1V937h1V937h1V937.6h1V937.5h1V937.5h1V935.4h1V935.4h1V933.9h1V933.9h1V933.9h1V935h1V935h1V935.4h1V935.4h1V934.4h1V934.2h1V933.9h1V935.6h1V933.9h1V933.7h1V933.1h1V932.9h1V932.7h1V932.5h1V934.3h1V934h1V930.2h1V931.5h1V931.2h1V929.2h1V931.3h1V932.5h1V932.2h1V931.6h1V929.2h1V928.9h1V928.6h1V928.9h1V928.6h1V926.1h1V927.3h1V927h1V927.2h1V929.4h1V929.5h1V928.1h1V928.2h1V928.5h1V928.6h1V928.7h1V929.3h1V931.4h1V932h1V930.9h1V931.1h1V930.5h1V930.6h1V930.9h1V932.2h1V932.4h1V930.8h1V931h1V931.1h1V933.1h1V934.2h1V934.4h1V933.7h1V933.4h1V934h1V934.3h1V933.9h1V933.7h1V932h1V933.8h1V933.6h1V933.6h1V933.9h1V931.6h1V932.5h1V932.3h1V933h1V930.6h1V930.3h1V930h1V929.8h1V929.6h1V930.6h1V931.3h1V929.1h1V928.9h1V928.7h1V929.9h1V928.6h1V928.4h1V928.2h1V929.3h1V928.3h1V927h1V926.8h1V926.6h1V927.1h1V927.8h1V927.6h1V925h1V925.4h1V925.1h1V924.2h1V925.8h1V927h1V926.8h1V926.7h1V926.4h1V926.2h1V925.3h1V926.1h1V924.7h1V924.6h1V924.5h1V926.4h1V926.2h1V922.5h1V922.4h1V923.2h1V923.7h1V924.4h1V924.2h1V924h1V923.3h1V923.4h1V924.7h1V923.4h1V924.3h1V924.7h1V922.3h1V922.2h1V924.5h1V924.5h1V924.4h1V924.3h1V924.3h1V923.7h1V921.7h1V921.8h1V924.2h1V924.3h1V924.1h1V922.9h1V924.5h1V924.6h1V924.7h1V922.9h1V924.7h1V923.2h1V923.3h1V923.4h1V923.9h1V923.2h1V923.8h1V925.1h1V925.2h1V926.7h1V926.1h1V926h1V924.8h1V924.8h1V924.7h1V925h1V925.2h1V925.3h1V927.1h1V927.1h1V927.3h1V927.4h1V927.5h1V926.3h1V926.5h1V925.9h1V926.2h1V926.4h1V926.9h1V927h1V926.6h1V926.6h1V929.3h1V929.2h1V929.3h1V928.1h1V930.2h1V928.6h1V928.6h1V928.5h1V928.8h1V928.9h1V928.8h1V927.4h1V927.4h1V927.3h1V929.4h1V928.3h1V928.2h1V928h1V928h1V929.3h1V929.2h1V929.2h1V927.9h1V927.9h1V927.8h1V927.7h1V927.7h1V927.7h1V927.7h1V928.5h1V928.4h1V926.4h1V926.4h1V927h1V927h1V926.7h1V926.6h1V927.4h1V927.4h1V927.4h1V927.3h1V927.3h1V927.3h1V926.2h1V926.2h1V926.3h1V928.4h1V926.3h1V926.4h1V929h1V929.1h1V927h1V927h1V927.1h1V928.6h1V928.7h1V927.6h1V927.6h1V927.7h1V929.1h1V928.3h1V928.4h1V928.4h1V929.8h1V928.8h1V928.9h1V928.9h1V929h1V929h1V929.2h1V929.9h1V928.3h1V928.4h1V929.5h1V929.8h1V929.8h1V929.9h1V928.5h1V928.5h1V928.6h1V928.6h1V930.3h1V930.4h1V930.4h1V930.5h1V930.5h1V930h1V930h1V930.1h1V930.3h1V930.7h1V930.7h1V928.4h1V928.5h1V928.6h1V928.7h1V929h1V929.1h1V929.1h1V930.1h1V930.2h1V930.2h1V931h1V931h1V929.9h1V930h1V931.7h1V931.8h1V931.8h1V931.9h1V932h1V930h1V930h1V930.1h1V932.2h1V932.2h1V932.3h1V930.3h1V930.3h1V931.3h1V931.3h1V932h1V932.6h1V932.7h1V932.7h1V932.6h1V932.6h1V932.7h1V931.7h1V931.4h1V932.3h1V933.3h1V931.6h1V931.7h1V931.7h1V932.8h1V932.1h1V932.2h1V933.6h1V930.9h1V930.9h1V932.7h1V932.7h1V932.8h1V933.4h1V932.2h1V932.2h1V931.3h1V931.3h1V932.1h1V932.4h1V932.4h1V933.6h1V933.7h1V932.7h1V932.8h1V932.8h1V933.6h1V933.7h1V934.4h1V934.4h1V934.5h1V932.4h1V934.8h1V934.9h1V933.6h1V933.6h1V933.2h1V933.2h1V932.7h1V935.3h1V935.4h1V935.4h1V933.4h1V933.5h1V933.5h1V933.1h1V933.5h1V934.4h1V935.2h1V935.2h1V934.7h1V934.8h1V933.5h1V933.5h1V933.6h1V935.1h1V935.1h1V935.9h1V936h1V934.6h1V934.7h1V933.9h1V935.7h1V935.7h1V935.7h1V935.8h1V935.4h1V935.1h1V934.8h1V937.1h1V937.2h1V937.3h1V936.7h1V935.8h1V935.9h1V936.9h1V937.7h1V937.5h1V937.6h1V937.5h1V937.6h1V938.2h1V936.6h1V936.7h1V936.6h1V936.7h1V936.8h1V938h1V939h1V938.8h1V937.2h1V938.2h1V937.1h1V937.2h1V939.5h1V939.6h1V937.6h1V937.7h1V937.8h1V939.2h1V939.3h1V937.9h1V939.2h1V939.3h1V939.4h1V940.6h1V940.7h1V940.8h1V940.7h1V940.8h1V940.9h1V941.2h1V941.3h1V940h1V940.1h1V939.4h1V939.3h1V939.4h1V939.5h1V942h1V942.2h1V942.3h1V941.8h1V942h1V942.2h1V943.4h1V942.6h1V942.9h1V943.2h1V944.3h1V944.6h1V944.9h1V943.6h1V942.8h1V945.9h1V944.4h1V944.4h1V944.7h1V944.9h1V946.2h1V947.4h1V947.6h1V947.7h1V946.6h1V946.7h1V946.4h1V946.4h1V946.4h1V947.3h1V947.2h1V947.1h1V946.9h1V946.8h1V946.7h1V945.5h1V945.4h1V945.3h1V944.6h1V944.5h1V944.1h1V944h1V943.9h1V946h1V945.9h1V945.8h1V945.9h1V945.8h1V943.1h1V943h1V942.9h1V944.9h1V942.8h1V942.7h1V943h1V942.9h1V942.8h1V943.6h1V944.2h1V944.1h1V944h1V943.8h1V944.3h1V944.3h1V944.2h1V942.8h1V942.9h1V942.8h1V942.8h1V942.6h1V944.5h1V944.5h1V944.2h1V941.9h1V942h1V942h1V942h1V943.5h1V943.5h1V943.6h1V943.7h1V943.7h1V943.7h1V944.3h1V942.3h1V942.4h1V942.4h1V942.7h1V943h1V944.7h1V943.8h1V943.8h1V944.6h1V944.6h1V944.4h1V944.4h1V942h1V944.6h1V944.6h1V944.6h1V943.4h1V943.4h1V943.5h1V945.1h1V945.1h1V945.1h1V943.5h1V943.5h1V943.5h1V945h1V945h1V945h1V943.2h1V943.2h1V943.6h1V943.6h1V943.6h1V943.5h1V943.5h1V944h1V944.1h1V944.1h1V943.7h1V943.7h1V943.7h1V943.8h1V943.5h1V943.5h1V944.7h1V944.7h1V944.7h1V945.5h1V945.5h1V945.5h1V943h1V944.1h1V944.1h1V944.7h1V944.7h1V944.7h1V945.9h1V946h1V946h1V944.1h1V944.1h1V943.8h1V943.9h1V943.9h1V945.4h1V946h1V943.3h1V943.4h1V945.8h1V945.8h1V945.4h1V944.5h1V944.6h1V944.6h1V945.7h1V946h1V946h1V946h1V944.2h1V944.3h1V944.3h1V945.7h1V945.7h1V945.8h1V944.3h1V944.3h1V944.3h1V944.4h1V944.4h1V944.5h1V944.8h1V944.9h1V946.2h1V946.4h1V946.5h1V944.4h1V947.2h1V947.2h1V946.1h1V946.1h1V946.2h1V947.3h1V947.3h1V947.4h1V947.2h1V947.3h1V947.3h1V945h1V947.7h1V947.7h1V947.8h1V946.5h1V947.7h1V947.7h1V946.2h1V946.2h1V947.1h1V947.2h1V947.2h1V945.5h1V945.6h1V945.6h1V946.2h1V947.4h1V947.5h1V946h1V946.1h1V946.1h1V948h1V948h1V946.3h1V946.3h1V946.4h1V946.3h1V946.3h1V946.3h1V948.9h1V949h1V947.4h1V948.2h1V948.2h1V948.4h1V947.5h1V947.6h1V947.6h1V946.9h1V949h1V949.1h1V948.2h1V949.4h1V946.8h1V946.8h1V946.8h1V947.1h1V947.2h1V947.2h1V948.6h1V948.2h1V949.1h1V947.7h1V947.5h1V947.5h1V947.6h1V947.9h1V948h1V948h1V949.8h1V949.8h1V949.9h1V949.8h1V949.8h1V949.9h1V949.1h1V949.1h1V949.1h1V950.2h1V950.2h1V950.2h1V949.3h1V949.3h1V949.3h1V950.3h1V949.2h1V950.4h1V948h1V948h1V950.1h1V950.1h1V949.3h1V948.7h1V948.7h1V950.2h1V948.2h1V948.7h1V948.7h1V948.7h1V950.4h1V948.3h1V948.2h1V947.7h1V950.4h1V950.4h1V950.3h1V950.3h1V950.2h1V950.2h1V950.1h1V950h1V950h1V949.9h1V949.8h1V949.8h1V949.7h1V949.6h1V949.6h1V949.5h1V949.5h1V949.4h1V949.3h1V949.3h1V949.2h1V949.1h1V949.1h1V949h1V948.9h1V948.9h1V948.8h1V948.7h1V948.7h1V948.6h1V948.5h1V948.5h1V948.4h1V948.3h1V948.3h1V948.2h1V948.1h1V948.1h1V948h1V947.9h1V947.9h1V947.8h1V947.7h1V947.7h1V947.6h1V947.5h1V947.5h1V947.4h1V947.4h1V947.3h1V947.2h1V947.2h1V947.1h1V947h1V947h1V946.9h1V946.9h1V946.9h1V946.9h1V946.9h1V947h1V947.1h1V944.6h1V944.8h1V945.2h1V947.1h1V947.2h1V947.5h1V948.6h1V948.9h1V947.1h1V947.5h1V947.8h1V949.2h1V949.5h1V950.1h1V950.3h1V950.6h1V949.3h1V949.4h1V949.6h1V949.9h1V950h1V951h1V951.4h1V951.4h1V951.6h1V951.6h1V951.6h1V949.7h1V950.3h1V950.3h1V950.3h1V952.2h1V952.2h1V950.4h1V950.4h1V950.4h1V949.6h1V949.6h1V949.9h1V951.8h1V951.8h1V951.2h1V951.2h1V951.2h1V952.5h1V952.5h1V952.5h1V949.9h1V949.9h1V951.2h1V950.2h1V950.2h1V950.2h1V950.8h1V951h1V951h1V951h1V950.9h1V951.2h1V950.4h1V950.4h1V951.2h1V949.5h1V949.5h1V949.5h1V949.8h1V949.8h1V949.8h1V950.5h1V950.5h1V952.2h1V950.2h1V950.2h1V950.2h1V951.2h1V951.1h1V950.8h1V950.8h1V950.7h1V951.7h1V951.7h1V951.6h1V950.9h1V950.8h1V950.7h1V950.8h1V948.9h1V950h1V949.9h1V949.8h1V951h1V948.2h1V949.8h1V949.7h1V950.2h1V950.1h1V949.1h1V948.7h1V948.6h1V948.5h1V948.5h1V947.2h1V947.1h1V947h1V949.6h1V947.2h1V947.1h1V947h1V946.9h1V946.7h1V946.6h1V946.5h1V947.6h1V948.7h1V947.4h1V947.3h1V947.2h1V947.8h1V947.7h1V948.1h1V945.9h1V945.8h1V945.9h1V945.8h1V945.7h1V945.4h1V945.3h1V945.2h1V947.2h1V944.9h1V944.8h1V944.8h1V945.8h1V945.7h1V945.7h1V945.2h1V945.9h1V945.3h1V945.2h1V945.1h1V944.1h1V945.1h1V943.8h1V944.3h1V944.8h1V944.8h1V944.7h1V943.1h1V943.8h1V943.8h1V943.7h1V944.1h1V944.1h1V945.3h1V945.2h1V943.2h1V944h1V944h1V943.7h1V943.7h1V943.1h1V944h1V944h1V944h1V944.8h1V943.2h1V942.8h1V942.8h1V942.7h1V944h1V943.9h1V943.8h1V943.7h1V943.7h1V943.3h1V944.9h1V944.8h1V942.5h1V944.3h1V944.3h1V944.4h1V944.4h1V942.1h1V942.1h1V942.1h1V941.9h1V943.7h1V943.7h1V943.7h1V942.6h1V943.2h1V943.2h1V943.2h1V943.4h1V942.4h1V942.6h1V942.6h1V942.5h1V942.6h1V942.5h1V943.9h1V943.8h1V941h1V940.9h1V940.8h1V942.1h1V943.6h1V943.5h1V941.3h1V941.2h1V942.6h1V942.3h1V942h1V941.9h1V942.7h1V942.7h1V942h1V942.2h1V940.5h1V940.4h1V939.9h1V939.9h1V939.9h1V940.6h1V940.7h1V940.8h1V942.6h1V942.6h1V940.7h1V940.7h1V940.7h1V942.3h1V942.3h1V941.2h1V941.2h1V941.2h1V940.3h1V940.2h1V941.8h1V941.7h1V939.8h1V941.3h1V941.1h1V940.6h1V940.8h1V940.9h1V940.5h1V941h1V940.7h1V940h1V939.8h1V939.5h1V940.4h1V938.3h1V938.1h1V937.9h1V938.2h1V938h1V938.3h1V937.8h1V937.4h1V936.9h1V936.2h1V935.8h1V935.4h1V935h1V934.1h1V934.2h1V934.4h1V935h1V934.6h1V934.3h1V931.7h1V932h1V931.6h1V931.1h1V929.7h1V931.9h1V931.8h1V932h1V931.9h1V930.3h1V930.2h1V929.7h1V929.8h1V931.4h1V931.3h1V931.3h1V929.2h1V929.6h1V929.2h1V929.2h1V929.2h1V931.3h1V931.3h1V930.2h1V930.6h1V930.6h1V930.4h1V931.4h1V928.9h1V929h1V930.4h1V930.1h1V927.8h1V927.3h1V928.6h1V928.1h1V927.6h1V924.4h1V924.2h1V924.7h1V923.4h1V922.8h1V922.2h1V924.2h1V923.7h1V923.1h1V920.4h1V920h1V919.9h1V919.8h1V919.8h1V920h1V920.3h1V920.3h1V921.9h1V923h1V923.7h1V924.9h1V923h1V925.8h1V926.6h1V927.3h1V927.6h1V928.4h1V929h1V930.8h1V931.8h1V932.4h1V932.7h1V932.1h1V930.5h1V930.9h1V931.9h1V932.3h1V932.6h1V933.4h1V934h1V933.9h1V932.1h1V932.6h1V932.4h1V933.8h1V933.6h1V933.2h1V932.9h1V932.6h1V932.2h1V931.9h1V931h1V929.1h1V928.8h1V930.6h1V928.7h1V928.4h1V928.1h1V927.8h1V928.1h1V927.8h1V927.7h1V927.4h1V927.1h1V925.5h1V925h1V926.3h1V926.3h1V927.3h1V927.3h1V928.5h1V928.8h1V928.8h1V928.8h1V927.1h1V929h1V929h1V928.7h1V927.2h1V929.3h1V927.3h1V927.5h1V927.5h1V927.6h1V928.9h1V930h1V930.1h1V930.2h1V929.5h1V928.6h1V929.3h1V929.5h1V929.7h1V929.6h1V929.8h1V930h1V928.7h1V928.9h1V929.1h1V929.2h1V929.4h1V929.5h1V931.2h1V931.7h1V932h1V930.1h1V930.3h1V932.9h1V933h1V933.1h1V933.3h1V932.5h1V932.6h1V934.1h1V934.1h1V934.2h1V933.5h1V933.4h1V933.4h1V933.9h1V934h1V933h1V933.2h1V933.5h1V933.9h1V934h1V934.8h1V934.9h1V936h1V934h1V933.8h1V934.1h1V935.2h1V935.4h1V935.5h1V935.8h1V936.2h1V936.4h1V935.5h1V935.7h1V937.5h1V935.3h1V937.7h1V938.2h1V935.8h1V935.8h1V935.8h1V936.1h1V936.1h1V936h1V936.9h1V936.8h1V936.8h1V935h1V934.9h1V934.9h1V937.2h1V936.2h1V935.6h1V935.5h1V935.5h1V936.8h1V935.3h1V935.2h1V935.2h1V936.6h1V934.3h1V933.9h1V933.3h1V933.4h1V933h1V932.5h1V930.7h1V931.7h1V932.1h1V931.5h1V931h1V930.2h1V929.7h1V929.8h1V929.3h1V927.5h1V927h1V926.5h1V926.5h1V926h1V925.5h1V924.2h1V923.7h1V922.7h1V922.3h1V922h1V922h1V921.7h1V923.5h1V923.1h1V921.7h1V921h1V920.6h1V919.5h1V918.6h1V918.2h1V919.8h1V919.4h1V919.1h1V919.5h1V919.2h1V918.8h1V917.3h1V916.9h1V916.6h1V916.3h1V915.9h1V914.8h1V914.3h1V913.7h1V913.9h1V913.1h1V911.3h1V910.5h1V910h1V909.3h1V909.7h1V908.4h1V907.7h1V906.1h1V906.1h1V904.7h1V903.8h1V902.4h1V901.6h1V900.1h1V896.7h1V896.1h1V895.4h1V893.9h1V892.3h1V888.3h1V885.1h1V883.9h1V880.1h1V876.3h1V872h1V868h1V862.9h1V858.8h1V854.8h1V849.4h1V846h1V841h1V835.3h1V829.3h1V823.4h1V817.4h1V811.9h1V805.2h1V799.3h1V791.7h1V784.2h1V774.9h1V767.3h1V760.1h1V753.7h1V746.1h1V737.2h1V731.3h1V727.6h1V725.1h1V724.4h1V722.1h1V723.5h1V722h1V722.5h1V722.6h1V724.5h1V725.2h1V726.3h1V727h1V731.3h1V735.8h1V742.2h1V747h1V751.5h1V756.5h1V761.7h1V767.1h1V772.9h1V778.6h1V784h1V788.8h1V795.6h1V802.4h1V809.5h1V815.4h1V822.1h1V829.6h1V837.2h1V848.1h1V857.2h1V865.6h1V874.3h1V882.9h1V890h1V898.3h1V905.6h1V913.4h1V918.8h1V924.2h1V928.2h1V932.5h1V934.5h1V936.7h1V935.6h1V936.4h1V937.3h1V938.3h1V939.4h1V941.7h1V941.7h1V941.8h1V939.7h1V940.8h1V940.8h1V940.9h1V939.6h1V939.8h1V939.9h1V940h1V940.8h1V940.9h1V941h1V942h1V942h1V942.3h1V943.2h1V941.8h1V941.6h1V941.5h1V942.4h1V942.3h1V942.2h1V942.3h1V942.2h1V939.9h1V939.8h1V942.2h1V939.6h1V939.5h1V939.4h1V939.5h1V939.4h1V941.5h1V940.3h1V939.7h1V939.7h1V938.5h1V938.4h1V938h1V940h1V940.1h1V939.9h1V939.7h1V939.4h1V939.1h1V937.6h1V936.4h1V936h1V935.4h1V936.2h1V935.7h1V935.1h1V935.2h1V934.6h1V934h1V933.5h1V932.1h1V931.5h1V930.9h1V931.7h1V930.5h1V930h1V927.2h1V926.6h1V926.8h1V926.3h1V926.3h1V926.1h1V926h1V925.1h1V925.2h1V925.4h1V927.6h1V928h1V928.9h1V928.2h1V928.7h1V930.9h1V931.5h1V930.6h1V930.6h1V933.1h1V933.7h1V932.2h1V933.1h1V933.7h1V934.4h1V935h1V934.9h1V935.5h1V936h1V938.8h1V939.2h1V939.8h1V938.7h1V939.3h1V939h1V939.4h1V941.8h1V942.2h1V942.6h1V940.5h1V940.8h1V941.6h1V941.9h1V942.6h1V942.7h1V942.2h1V942.4h1V945h1V945.1h1V943.5h1V943.3h1V943.4h1V943.1h1V943.3h1V943.3h1V943.8h1V943.9h1V943.8h1V945.7h1V945.7h1V945.6h1V943.2h1V943.1h1V943h1V942.6h1V941.5h1V943.9h1V943.3h1V942.3h1V941.8h1V940.9h1V940.2h1V939.1h1V937.2h1V936h1V934.8h1V934.8h1V933.3h1V932.4h1V931.6h1V929.4h1V929h1V928.6h1V929.3h1V929.5h1V929.9h1V930.7h1V929.4h1V930h1V931.5h1V932.9h1V933.7h1V934.4h1V934.6h1V935.4h1V935.3h1V936.1h1V938.7h1V939.3h1V939.2h1V939.7h1V940.2h1V940h1V939.5h1V941.4h1V941.5h1V941.4h1V940.4h1V940.3h1V940.5h1V940h1V937.7h1V937.5h1V937.2h1V938.8h1V936.9h1V938.1h1V937.9h1V939.6h1V939.4h1V937.4h1V938.5h1V939.4h1V939.4h1V938.1h1V936.5h1V934.8h1V934.9h1V934.6h1V936.1h1V935.8h1V935.9h1V936.5h1V934.8h1V934.2h1V933.9h1V934.3h1V931.5h1V931.2h1V930.2h1V931.7h1V931.4h1V932h1V932.2h1V931.9h1V928.6h1V930.4h1V931.5h1V929.8h1V929.6h1V930.4h1V930.2h1V927.6h1V930.2h1V930h1V929.8h1V928.1h1V927.8h1V927.6h1V928.2h1V929.7h1V928.8h1V956.6h-1V956.6h-1V956.5h-1V955h-1V957.2h-1V957.2h-1V956.5h-1V956.5h-1V957h-1V957h-1V958.7h-1V959.7h-1V958.6h-1V958.7h-1V957.9h-1V958.6h-1V957.1h-1V957.1h-1V956.5h-1V956.5h-1V958h-1V960.3h-1V959h-1V956.8h-1V958.1h-1V958.1h-1V958.1h-1V958h-1V959h-1V959.1h-1V959.1h-1V959.1h-1V960.6h-1V960.7h-1V959h-1V959.2h-1V959.3h-1V958.6h-1V958.7h-1V958.9h-1V958.1h-1V958.2h-1V958.4h-1V958.2h-1V958.4h-1V958.6h-1V959.6h-1V959.8h-1V959.9h-1V962.2h-1V960h-1V959.8h-1V959.9h-1V962.7h-1V962.8h-1V961.9h-1V961.9h-1V961.8h-1V960.3h-1V960h-1V959.3h-1V958.8h-1V960.5h-1V957.8h-1V957.1h-1V957h-1V956.3h-1V956h-1V955.4h-1V954.6h-1V952.8h-1V952.3h-1V951.7h-1V949.9h-1V949.2h-1V950.4h-1V949.9h-1V948.3h-1V947.5h-1V947.4h-1V948.9h-1V949h-1V949.4h-1V950h-1V949.3h-1V951.9h-1V952.8h-1V953.5h-1V953.7h-1V954.6h-1V955.5h-1V954.5h-1V955.1h-1V955.6h-1V956.9h-1V957.2h-1V957.3h-1V957.5h-1V958.7h-1V957.5h-1V957.6h-1V957.8h-1V959.6h-1V959.6h-1V958.2h-1V959.6h-1V959.8h-1V959.8h-1V958.8h-1V958.8h-1V958.9h-1V958.8h-1V958.7h-1V959.1h-1V959h-1V958.8h-1V959h-1V957.1h-1V957h-1V956.7h-1V955.6h-1V955.3h-1V955h-1V954.7h-1V956.2h-1V955.7h-1V955.7h-1V954.2h-1V953.2h-1V952.8h-1V952.4h-1V953h-1V952.4h-1V951.9h-1V949.4h-1V948.8h-1V948.2h-1V947.6h-1V947h-1V949.5h-1V948.9h-1V945.8h-1V944.8h-1V946.1h-1V945.4h-1V944.8h-1V942.9h-1V941.6h-1V942.6h-1V943.2h-1V942.6h-1V942.1h-1V940.3h-1V939.2h-1V939.3h-1V939.3h-1V941.4h-1V939.4h-1V940h-1V940.5h-1V940.7h-1V942.2h-1V942.8h-1V943.5h-1V943h-1V946h-1V945.8h-1V946.4h-1V945.8h-1V948.2h-1V949h-1V949.5h-1V950.4h-1V951h-1V949.6h-1V950h-1V950.5h-1V952.3h-1V951.3h-1V953h-1V953.6h-1V954.2h-1V954.4h-1V954.5h-1V952.4h-1V954.7h-1V954.8h-1V954.4h-1V954.5h-1V954.4h-1V955.2h-1V955.3h-1V954.2h-1V954.3h-1V953.9h-1V954.4h-1V954.5h-1V954.6h-1V954.3h-1V954.6h-1V954.9h-1V955h-1V955.1h-1V954.7h-1V954.8h-1V954.9h-1V955.3h-1V955.1h-1V955.1h-1V954h-1V954.2h-1V954.1h-1V956.8h-1V956.5h-1V956.8h-1V954.7h-1V956.3h-1V956.1h-1V956h-1V955.2h-1V954.1h-1V953.8h-1V953h-1V952.7h-1V952.5h-1V952.1h-1V951.2h-1V950.3h-1V949.2h-1V948.4h-1V947.4h-1V948.4h-1V947.3h-1V943.1h-1V938.8h-1V933.6h-1V928.2h-1V924.6h-1V918.7h-1V910.1h-1V903.8h-1V895.2h-1V886.6h-1V878.2h-1V869.5h-1V860.7h-1V850.6h-1V841.4h-1V835.5h-1V826.5h-1V820.4h-1V814.2h-1V807.4h-1V801.4h-1V793.6h-1V788.2h-1V782.9h-1V780.1h-1V774.8h-1V769.4h-1V761.9h-1V757h-1V753.3h-1V748.1h-1V745.2h-1V740.9h-1V737.7h-1V734.7h-1V734.5h-1V734.5h-1V736.5h-1V736.4h-1V736.4h-1V735.5h-1V735.5h-1V736.3h-1V738.9h-1V743.1h-1V749.3h-1V756.9h-1V763.9h-1V771.5h-1V779.8h-1V786.5h-1V795.7h-1V803.3h-1V810.7h-1V816.9h-1V823.6h-1V828.8h-1V834.7h-1V842.3h-1V848.2h-1V854h-1V859h-1V862.8h-1V868.1h-1V872.2h-1V875.7h-1V879.5h-1V883.5h-1V888.4h-1V892.2h-1V894.9h-1V898.7h-1V901.9h-1V903.1h-1V906.8h-1V908.3h-1V909.8h-1V908.5h-1V910h-1V911.6h-1V914.1h-1V917.5h-1V918.3h-1V919.1h-1V919.9h-1V920.3h-1V919.1h-1V919.9h-1V920.6h-1V923.3h-1V924.1h-1V924.9h-1V925.5h-1V926.3h-1V927h-1V928h-1V928.8h-1V929.1h-1V928.5h-1V928.9h-1V928.7h-1V929.1h-1V929.4h-1V928.5h-1V928.9h-1V929.2h-1V931.5h-1V931.9h-1V931.1h-1V931.5h-1V931.8h-1V932.6h-1V933h-1V933.3h-1V933h-1V933.4h-1V933.7h-1V934.4h-1V936.3h-1V936.7h-1V935.6h-1V936h-1V935.3h-1V935.8h-1V936.3h-1V937.5h-1V938h-1V938.5h-1V939.3h-1V939.8h-1V940.2h-1V940.5h-1V941h-1V942h-1V942.5h-1V943.6h-1V944.5h-1V945h-1V944.2h-1V945.6h-1V946.2h-1V946.7h-1V947.4h-1V947.8h-1V948h-1V947.2h-1V948.4h-1V948.5h-1V947.9h-1V948h-1V948.1h-1V948.8h-1V949.1h-1V949.2h-1V949.2h-1V947h-1V948.4h-1V948.4h-1V948.5h-1V948.8h-1V948.8h-1V949.8h-1V949.8h-1V949.9h-1V947.7h-1V947.7h-1V947.7h-1V950.2h-1V950h-1V951.3h-1V951.5h-1V951.6h-1V952.9h-1V953.1h-1V953h-1V953h-1V954.3h-1V954.2h-1V949.6h-1V948.8h-1V948.7h-1V949.1h-1V949.1h-1V949.3h-1V950.7h-1V950.7h-1V950.5h-1V950.5h-1V950.5h-1V949.1h-1V949.1h-1V949h-1V949.4h-1V949.4h-1V949.3h-1V950.2h-1V950.1h-1V950.1h-1V947.3h-1V949.1h-1V949.7h-1V949.7h-1V947.1h-1V947.1h-1V947h-1V947.4h-1V947.4h-1V948.8h-1V949.1h-1V949.1h-1V946.8h-1V946.8h-1V947.6h-1V948.1h-1V948h-1V948h-1V948.7h-1V948.7h-1V948.7h-1V948.1h-1V949.5h-1V949.5h-1V949.5h-1V950h-1V949.1h-1V949.2h-1V949.2h-1V950h-1V965.1h-1V964.8h-1V964.8h-1V964.4h-1V962.8h-1V962.8h-1V962.8h-1V963.5h-1V963.1h-1V948.1h-1V947.8h-1V949.3h-1V949.4h-1V949.8h-1V948.4h-1V948.8h-1V948.9h-1V949.2h-1V949.3h-1V950.2h-1V951.7h-1V952.6h-1V953h-1V959.8h-1V961.7h-1V964.6h-1V962.5h-1V963.4h-1V964.3h-1V964.5h-1V965.3h-1V965.3h-1V958.5h-1V958.4h-1V961h-1V962.2h-1V961h-1V972.4h-1V970.1h-1V969.8h-1V970.5h-1V970.3h-1V971.8h-1V971.1h-1V970.8h-1V972.1h-1V971.7h-1V968.9h-1V954.6h-1V954.1h-1V953.5h-1V955.2h-1V954.6h-1V954.7h-1V954h-1V953.3h-1V951.5h-1V950.6h-1V949.1h-1V946.8h-1V943.9h-1V943h-1V941.4h-1V940.9h-1V940h-1V939.7h-1V938.4h-1V935.1h-1V934.3h-1V933.6h-1V934.6h-1V935h-1V935h-1V934.9h-1V935.5h-1V936.2h-1V938.4h-1V939.1h-1V939.8h-1V940.3h-1V940h-1V941.8h-1V942h-1V942.3h-1V943.5h-1V945.6h-1V944.2h-1V944.2h-1V944.7h-1V947h-1V948.4h-1V946.8h-1V949.4h-1V949.7h-1V950.2h-1V953.9h-1V954.2h-1V954.4h-1V955.3h-1V954.8h-1V955h-1V955.3h-1V955.7h-1V955.4h-1V949.9h-1V950.1h-1V951h-1V949.9h-1V950.3h-1V950.5h-1V951.1h-1V951.6h-1V951.9h-1V952.2h-1V952.1h-1V955.1h-1V955.2h-1V952.6h-1V952.8h-1V953.2h-1V953.6h-1V953.7h-1V954.1h-1V954.2h-1V954.7h-1V954.4h-1V964.6h-1V966.1h-1V966.3h-1V966.3h-1V966.5h-1V967.3h-1V967.4h-1V967.2h-1V967.1h-1V966.8h-1V967h-1V956.6h-1V957.8h-1V958h-1V958.1h-1V959h-1V959.9h-1V958.7h-1V958.6h-1V958.8h-1V957.6h-1V957.7h-1V957.8h-1V957.1h-1V958.9h-1V957.8h-1V957.7h-1V957.7h-1V957.4h-1V957.8h-1V957.7h-1V958h-1V958h-1V957.8h-1V958.1h-1V957.9h-1V961.2h-1V961h-1V960.9h-1V960.7h-1V961.3h-1V961.2h-1V961.3h-1V960h-1V959.8h-1V956.3h-1V955.8h-1V956.3h-1V955.9h-1V955.9h-1V955.8h-1V954.8h-1V956.6h-1V957.6h-1V957.4h-1V957.4h-1V957.3h-1V955h-1V955h-1V955.4h-1V955.3h-1V956.2h-1V955.7h-1V956.6h-1V957.3h-1V957.3h-1V955h-1V954.9h-1V954.9h-1V956.2h-1V955.9h-1V962.7h-1V961.8h-1V961.6h-1V962.5h-1V962.4h-1V962.4h-1V963.7h-1V961.9h-1V962h-1V954.2h-1V954.1h-1V956.6h-1V956.2h-1V956.3h-1V953.8h-1V953.8h-1V953.8h-1V956.6h-1V956.7h-1V956.7h-1V956.1h-1V955.6h-1V955.6h-1V955.7h-1V954.9h-1V954.9h-1V955h-1V955.4h-1V957.3h-1V957.3h-1V954.7h-1V954.5h-1V955.5h-1V955.6h-1V955.6h-1V955.8h-1V956.1h-1V956.1h-1V955.7h-1V955.7h-1V955.8h-1V957h-1V957h-1V957.1h-1V957.5h-1V955.9h-1V955.7h-1V957.1h-1V957.2h-1V957.2h-1V958.1h-1V958.2h-1V958.3h-1V957.5h-1V957.6h-1V957.7h-1V958.6h-1V958.7h-1V958.7h-1V957.8h-1V957.1h-1V957.2h-1V956.3h-1V956.8h-1V958.7h-1V958.8h-1V958.8h-1V958.9h-1V958.8h-1V958.9h-1V959h-1V957.1h-1V957.2h-1V957.3h-1V959.2h-1V959.3h-1V959.4h-1V959.3h-1V959.4h-1V959.5h-1V960.6h-1V960.7h-1V960.8h-1V958.7h-1V958.3h-1V958.9h-1V960.4h-1V960.7h-1V960.8h-1V961.5h-1V961.6h-1V960.9h-1V961h-1V961.1h-1V960.2h-1V961.1h-1V959.5h-1V959.6h-1V962h-1V962.1h-1V960.3h-1V961.6h-1V961.7h-1V961.8h-1V961h-1V960.6h-1V960.6h-1V961.4h-1V961.5h-1V962.4h-1V962.5h-1V962h-1V962.1h-1V962.2h-1V961.7h-1V961.7h-1V961.8h-1V961.8h-1V961.9h-1V961.8h-1V962.1h-1V962.1h-1V962.1h-1V962.4h-1V962.4h-1V961.7h-1V963.9h-1V963.9h-1V963.4h-1V963.1h-1V963.1h-1V964.1h-1V963.7h-1V963.7h-1V961.7h-1V961.7h-1V961.7h-1V962.3h-1V962.3h-1V961.5h-1V961.8h-1V961.8h-1V961.8h-1V962.8h-1V962.8h-1V962.2h-1V962.2h-1V962.2h-1V962.5h-1V962.5h-1V962.5h-1V963.8h-1V963.9h-1V963.9h-1V962.5h-1V962.5h-1V962.5h-1V962.4h-1V962.4h-1V962.4h-1V962.2h-1V962.2h-1V962.2h-1V963.5h-1V963.5h-1V963.7h-1V963.7h-1V963.8h-1V961.5h-1V964.2h-1V962h-1V962h-1V962h-1V963.8h-1V962.5h-1V962.4h-1V962.2h-1V961.6h-1V962.8h-1V962.8h-1V962.6h-1V961.1h-1V959.8h-1V959.5h-1V960.2h-1V959.1h-1V958.8h-1V960.6h-1V960.3h-1V959.5h-1V959.2h-1V958.9h-1V959.4h-1V959.2h-1V956.1h-1V956h-1V955.9h-1V955.9h-1V955.9h-1V955.9h-1V955.9h-1V956h-1V956h-1V956.1h-1V956.2h-1V956.2h-1V956.3h-1V956.4h-1V956.4h-1V956.5h-1V956.5h-1V956.6h-1V956.7h-1V956.7h-1V956.8h-1V956.9h-1V956.9h-1V957h-1V957.1h-1V957.1h-1V957.2h-1V957.3h-1V957.3h-1V957.4h-1V957.5h-1V957.5h-1V957.6h-1V957.7h-1V957.7h-1V957.8h-1V957.9h-1V957.9h-1V958h-1V958.1h-1V958.1h-1V958.2h-1V958.3h-1V958.3h-1V958.4h-1V958.5h-1V958.5h-1V958.6h-1V958.6h-1V958.7h-1V958.8h-1V958.8h-1V958.9h-1V959h-1V959h-1V959.1h-1V959.2h-1V959.2h-1V959.3h-1V959.3h-1V959.4h-1V959.4h-1V959.6h-1V962.1h-1V962.1h-1V962.1h-1V961.5h-1V961.5h-1V961.5h-1V960.8h-1V960.8h-1V960.8h-1V962.3h-1V962.3h-1V960.6h-1V961.7h-1V961.7h-1V961.7h-1V959.7h-1V961.1h-1V961.1h-1V961.3h-1V961.3h-1V959.7h-1V959.7h-1V962h-1V962h-1V959.6h-1V961.9h-1V960.5h-1V962h-1V962h-1V962.3h-1V962.3h-1V962.3h-1V960.6h-1V962.1h-1V962.1h-1V960.9h-1V960.9h-1V960.8h-1V961.2h-1V961.2h-1V960.5h-1V960.5h-1V960.3h-1V960.2h-1V960.2h-1V958.9h-1V958.9h-1V961.7h-1V961.6h-1V961.6h-1V960.9h-1V960.9h-1V959.2h-1V959.2h-1V959.2h-1V960.5h-1V960.6h-1V960.6h-1V959h-1V959h-1V958.5h-1V958.4h-1V959.6h-1V959.6h-1V959.6h-1V961h-1V960.9h-1V958.9h-1V958.9h-1V958.4h-1V958.4h-1V960.6h-1V960.4h-1V960.3h-1V960.3h-1V958.8h-1V958.6h-1V959.8h-1V959.8h-1V959.7h-1V959h-1V959h-1V959.3h-1V959.2h-1V958.1h-1V958.1h-1V960h-1V960h-1V957.3h-1V957.2h-1V957.2h-1V958.5h-1V958.5h-1V958.8h-1V959.1h-1V959.6h-1V958.5h-1V958.5h-1V958.4h-1V957.3h-1V957.2h-1V957.2h-1V957.9h-1V958.3h-1V958.6h-1V958.6h-1V958.5h-1V957.5h-1V957.5h-1V957.4h-1V957h-1V958.6h-1V958.6h-1V958.6h-1V958.8h-1V958.8h-1V958.8h-1V957.1h-1V957.1h-1V957.3h-1V957.9h-1V955.7h-1V955.7h-1V957.6h-1V957.6h-1V957.2h-1V956.8h-1V956.8h-1V956h-1V956h-1V955.5h-1V956.3h-1V956.3h-1V958.1h-1V958.1h-1V956.3h-1V956.5h-1V956.5h-1V956.5h-1V957.6h-1V957.5h-1V956.4h-1V957h-1V957.3h-1V957.3h-1V957.8h-1V956.4h-1V956.4h-1V956.9h-1V955.7h-1V955.7h-1V955.7h-1V957.7h-1V957.7h-1V957.6h-1V955.2h-1V955.2h-1V957.4h-1V957.4h-1V957.4h-1V956.4h-1V956.4h-1V956.3h-1V957.5h-1V957.5h-1V957.4h-1V955.6h-1V955.5h-1V956.8h-1V957.2h-1V957.1h-1V957.1h-1V954.5h-1V954.5h-1V956.2h-1V956.2h-1V957.1h-1V957.1h-1V954.3h-1V954.2h-1V954.2h-1V956.1h-1V954h-1V954h-1V954.4h-1V954.4h-1V955.8h-1V955.8h-1V955.8h-1V955.3h-1V955.8h-1V956.4h-1V956.3h-1V954.2h-1V954.2h-1V953.8h-1V953.8h-1V954.6h-1V954.6h-1V954.6h-1V954.5h-1V955.1h-1V955.1h-1V954.6h-1V954.6h-1V954.5h-1V955.6h-1V955.6h-1V955.6h-1V956.2h-1V956.2h-1V954.8h-1V954.8h-1V954.8h-1V956h-1V956.1h-1V954.9h-1V955h-1V954.8h-1V954.9h-1V954.9h-1V954.2h-1V954.3h-1V954.4h-1V955.2h-1V955.3h-1V955.4h-1V956.6h-1V957.3h-1V957.4h-1V956.6h-1V955.3h-1V955.4h-1V955.5h-1V955.8h-1V955.9h-1V956h-1V955.9h-1V956h-1V956.1h-1V956.3h-1V956.4h-1V956.5h-1V956.3h-1V956.4h-1V956.5h-1V957.9h-1V958h-1V958.1h-1V958.1h-1V958.2h-1V957.7h-1V957.8h-1V957.5h-1V957.6h-1V959.8h-1V959.8h-1V959.7h-1V959.7h-1V959.6h-1V958.1h-1V957.9h-1V957.7h-1V957.5h-1V957.2h-1V955.8h-1V955.5h-1V957h-1V956.7h-1V957h-1V956.7h-1V956.4h-1V954.3h-1V954h-1V953.7h-1V952.8h-1V953.1h-1V952.4h-1V952.2h-1V951.9h-1V954.1h-1V954h-1V952.5h-1V952.3h-1V952.2h-1V953.5h-1V953.4h-1V953.3h-1V951.5h-1V951.4h-1V952.5h-1V952.4h-1V952.3h-1V952.1h-1V952h-1V952.1h-1V952h-1V951.9h-1V949.6h-1V950.6h-1V950.5h-1V950.2h-1V950.1h-1V950h-1V951.9h-1V951.8h-1V951.7h-1V951.6h-1V951.1h-1V949.3h-1V949.2h-1V949.1h-1V948.6h-1V948.5h-1V949.1h-1V949h-1V948.9h-1V950.7h-1V950.6h-1V950.5h-1V950.4h-1V949.7h-1V949.4h-1V949.3h-1V947.1h-1V947h-1V949.2h-1V949.1h-1V949h-1V947.4h-1V947.3h-1V948.4h-1V948.3h-1V948.2h-1V947h-1V946.9h-1V948.1h-1V948h-1V947.9h-1V946.9h-1V948.4h-1V948.4h-1V945.9h-1V945.8h-1V945.8h-1V948.2h-1V945.5h-1V945.8h-1V945.7h-1V945.7h-1V945.7h-1V945.7h-1V947.2h-1V947.2h-1V946.5h-1V946.4h-1V946.6h-1V946.5h-1V946.5h-1V947h-1V947h-1V945.1h-1V945h-1V945h-1V947.2h-1V947.1h-1V947.1h-1V944.4h-1V944.4h-1V945.4h-1V945.6h-1V945.6h-1V944.7h-1V944.7h-1V944.6h-1V946.6h-1V946.6h-1V946.5h-1V944.3h-1V944.6h-1V944.6h-1V944.5h-1V944.8h-1V944.8h-1V944.7h-1V944.9h-1V944.9h-1V944.6h-1V944.6h-1V944.5h-1V943.2h-1V943.2h-1V944.5h-1V944.5h-1V944.4h-1V945.7h-1V945.6h-1V945.6h-1V942.9h-1V942.9h-1V944.6h-1V944.8h-1V944.7h-1V944.7h-1V943.5h-1V943.5h-1V943.4h-1V942.3h-1V942.2h-1V942.2h-1V943.2h-1V943.2h-1V943.1h-1V942.3h-1V942.2h-1V943.9h-1V943.8h-1V944.3h-1V944.3h-1V941.6h-1V941.6h-1V943h-1V943.4h-1V943.3h-1V941.6h-1V943.7h-1V943.7h-1V943.6h-1V941.2h-1V941.2h-1V943.1h-1V943.1h-1V940.9h-1V940.9h-1V940.8h-1V942.2h-1V942.2h-1V943.3h-1V943.3h-1V941.2h-1V941.2h-1V941.5h-1V941.5h-1V942.6h-1V941.6h-1V941.6h-1V941.5h-1V942.2h-1V942.2h-1V942.1h-1V940.8h-1V940.8h-1V941.3h-1V941.3h-1V941.2h-1V940.4h-1V941.1h-1V940.6h-1V940.6h-1V940.5h-1V939.6h-1V939.6h-1V939.5h-1V941.7h-1V939.8h-1V939.8h-1V939.7h-1V941h-1V940.2h-1V940.1h-1V939.2h-1V939.1h-1V940h-1V940h-1V941.2h-1V941.1h-1V941.1h-1V939.3h-1V939.2h-1V939.7h-1V939.7h-1V939.7h-1V939.7h-1V938.9h-1V938.8h-1V940.8h-1V940.8h-1V940.7h-1V938.3h-1V938.4h-1V938.5h-1V938.5h-1V937.8h-1V939.8h-1V939.8h-1V939.8h-1V940h-1V940h-1V940.4h-1V939.7h-1V939.8h-1V939.9h-1V938.4h-1V938.5h-1V939.9h-1V940.2h-1V940.2h-1V940.1h-1V940.1h-1V939.4h-1V939.5h-1V939.5h-1V939.3h-1V940.7h-1V940.8h-1V939h-1V939.1h-1V940.5h-1V940.6h-1V940.6h-1V940.4h-1V940.3h-1V940.3h-1V940.4h-1V940.4h-1V940.4h-1V940.5h-1V942h-1V943.2h-1V940.8h-1V941.3h-1V941.6h-1V943.6h-1V945h-1V944.6h-1V943.1h-1V943.3h-1V944.1h-1V944.3h-1V946.6h-1V946.9h-1V945.3h-1V946.5h-1V946.5h-1V946.5h-1V946h-1V946h-1V947.4h-1V946.7h-1V946.7h-1V946.4h-1V945.8h-1V946.2h-1V946.2h-1V945h-1V945h-1V945h-1V945.3h-1V945.3h-1V955.1h-1V956.7h-1V954.9h-1V955.3h-1V955.5h-1V955.7h-1V957.7h-1V958.3h-1V958.6h-1V958.9h-1V959.2h-1V949.4h-1V948.5h-1V947.5h-1V947.7h-1V947.9h-1V947.9h-1V948.1h-1V948.3h-1V952.9h-1V953.5h-1V955h-1V955.3h-1V955.6h-1V955.4h-1V954.2h-1V957.6h-1V958.8h-1V954.3h-1V954.4h-1V954.7h-1V952.2h-1V952.3h-1V953h-1V957.6h-1V957.7h-1V957.9h-1V953.3h-1V953.4h-1V955.8h-1V970.6h-1V969.5h-1V968.5h-1V968.7h-1V970.1h-1V969.1h-1V973h-1V975h-1V974.1h-1V974.6h-1V974.2h-1V958.5h-1V959.7h-1V965.5h-1V965.6h-1V966.3h-1V966.9h-1V967h-1V967.2h-1V967.2h-1V965.1h-1V964h-1V958.8h-1V960.9h-1V961h-1V959.4h-1V957.2h-1V957.3h-1V957.5h-1V962.1h-1V962.2h-1V962.2h-1V962.2h-1V962.3h-1V960.9h-1V960.9h-1V961.6h-1V961.9h-1V963.6h-1V970.6h-1V969.1h-1V970.5h-1V971h-1V971h-1V972.4h-1V972.5h-1V970.9h-1V971h-1V960h-1V962.8h-1V960.8h-1V973h-1V975h-1V975.3h-1V971.9h-1V972h-1V973.2h-1V974.6h-1V973.4h-1V973.4h-1V960.8h-1V961.6h-1V964.1h-1V964.1h-1V961h-1V961h-1V960.8h-1V960.9h-1V960.9h-1V960.7h-1V960.7h-1V960.8h-1V960h-1V960h-1V960h-1V963h-1V963h-1V963h-1V961.5h-1V961.3h-1V962.9h-1V962.6h-1V962.7h-1V967.7h-1V967.7h-1V966.2h-1V964.9h-1V968.9h-1V970.2h-1V970.4h-1V970.2h-1V966.2h-1V961.5h-1V961.4h-1V960.5h-1V960.4h-1V960.1h-1V978.9h-1V980.5h-1V980.2h-1V979.9h-1V979.9h-1V979.8h-1V979.2h-1V979.1h-1V978.1h-1V980.6h-1V980.5h-1V960.7h-1V958.4h-1V962.6h-1V962.5h-1V960.5h-1V960.4h-1V960.8h-1V960.6h-1V960.1h-1V959h-1V958.3h-1V958.3h-1V958h-1V958h-1V959.3h-1V960.2h-1V967.3h-1V968.5h-1V966.5h-1V966.2h-1V966.1h-1V966.7h-1V964.7h-1V964.5h-1V964.3h-1V957.3h-1V956.7h-1V956.6h-1V956.5h-1V956.8h-1V958.4h-1V959.2h-1V959.1h-1V958.9h-1V958.8h-1V958.4h-1V958.3h-1V957.3h-1V957.7h-1V957.3h-1V957.8h-1V957.5h-1V956.9h-1V956.4h-1V956.3h-1V955.9h-1V954.4h-1V954.1h-1V954.5h-1V954h-1V951.9h-1V951.7h-1V952.5h-1V952h-1V949.4h-1V949h-1V948.6h-1V948.2h-1V949.4h-1V950.2h-1V949.8h-1V947.9h-1V949h-1V948.9h-1V948.9h-1V950.3h-1Z" fill="#000"/>
<g fill="#000">
<ellipse cx="196" cy="946.9" rx="21" ry="17.5"/>
<ellipse cx="288.9" cy="946.1" rx="21" ry="17.5"/>
<ellipse cx="381.8" cy="936.4" rx="21" ry="17.5"/>
<ellipse cx="474.7" cy="936.8" rx="21" ry="17.5"/>
<ellipse cx="567.6" cy="941.7" rx="21" ry="17.5"/>
<ellipse cx="660.5" cy="948.5" rx="21" ry="17.5"/>
<ellipse cx="753.4" cy="949.1" rx="21" ry="17.5"/>
<ellipse cx="846.3" cy="951.7" rx="21" ry="17.5"/>
<ellipse cx="939.2" cy="955" rx="21" ry="17.5"/>
<ellipse cx="1032.1" cy="955.9" rx="21" ry="17.5"/>
<ellipse cx="1125" cy="954" rx="21" ry="17.5"/>
<ellipse cx="1217.9" cy="949" rx="21" ry="17.5"/>
<ellipse cx="1310.8" cy="939.4" rx="21" ry="17.5"/>
<ellipse cx="1403.7" cy="939.2" rx="21" ry="17.5"/>
<ellipse cx="1496.6" cy="939.5" rx="21" ry="17.5"/>
<ellipse cx="1589.5" cy="754.5" rx="21" ry="17.5"/>
<ellipse cx="1682.4" cy="946.7" rx="21" ry="17.5"/>
<ellipse cx="1775.3" cy="949.9" rx="21" ry="17.5"/>
<ellipse cx="1868.2" cy="943.2" rx="21" ry="17.5"/>
</g>
<path d="M182,1097 184,1097 186,1096.9 188,1096.9 190,1096.8 192,1096.7 194,1096.6 196,1096.6 198,1096.5 200,1096.4 202,1096.3 204,1096.2 206,1096.1 208,1096 210,1095.9 212,1095.8 214,1095.8 216,1095.7 218,1095.6 220,1095.5 222,1095.4 224,1095.3 226,1095.2 228,1095.1 230,1094.9 232,1094.8 234,1094.6 236,1094.3 238,1094.1 240,1093.8 242,1093.5 244,1093.3 246,1093 248,1092.7 250,1092.5 252,1092.2 254,1091.9 256,1091.7 258,1091.4 260,1091.1 262,1090.9 264,1090.6 266,1090.3 268,1090.1 270,1089.8 272,1089.5 274,1089.3 276,1089 278,1088.7 280,1088.5 282,1088.2 284,1087.9 286,1087.7 288,1087.5 290,1087.3 292,1087.1 294,1087 296,1086.9 298,1086.8 300,1086.8 302,1086.7 304,1086.7 306,1086.6 308,1086.6 310,1086.5 312,1086.5 314,1086.4 316,1086.4 318,1086.3 320,1086.3 322,1086.2 324,1086.2 326,1086.1 328,1086.1 330,1086 332,1086 334,1085.9 336,1085.9 338,1085.8 340,1085.8 342,1085.7 344,1085.7 346,1085.6 348,1085.6 350,1085.5 352,1085.5 354,1085.4 356,1085.4 358,1085.3 360,1085.3 362,1085.2 364,1085.2 366,1085.1 368,1085.1 370,1085 372,1085 374,1084.9 376,1084.8 378,1084.8 380,1084.7 382,1084.6 384,1084.5 386,1084.4 388,1084.3 390,1084.3 392,1084.2 394,1084.1 396,1084 398,1083.9 400,1083.9 402,1083.8 404,1083.7 406,1083.6 408,1083.5 410,1083.4 412,1083.4 414,1083.3 416,1083.2 418,1083.1 420,1083 422,1082.8 424,1082.7 426,1082.5 428,1082.3 430,1082.1 432,1081.9 434,1081.7 436,1081.5 438,1081.3 440,1081.1 442,1080.9 444,1080.7 446,1080.5 448,1080.3 450,1080.1 452,1079.9 454,1079.7 456,1079.5 458,1079.4 460,1079.3 462,1079.2 464,1079.2 466,1079.3 468,1079.4 470,1079.5 472,1079.6 474,1079.7 476,1079.8 478,1079.9 480,1080 482,1080.2 484,1080.3 486,1080.4 488,1080.5 490,1080.6 492,1080.7 494,1080.8 496,1080.9 498,1081 500,1081.1 502,1081.2 504,1081.4 506,1081.5 508,1081.6 510,1081.7 512,1081.8 514,1081.9 516,1082 518,1082.1 520,1082.2 522,1082.3 524,1082.5 526,1082.6 528,1082.7 530,1082.8 532,1082.9 534,1083 536,1083.2 538,1083.3 540,1083.4 542,1083.6 544,1083.7 546,1083.9 548,1084 550,1084.2 552,1084.3 554,1084.5 556,1084.6 558,1084.8 560,1084.9 562,1085.1 564,1085.2 566,1085.4 568,1085.5 570,1085.7 572,1085.8 574,1086 576,1086.1 578,1086.3 580,1086.4 582,1086.6 584,1086.7 586,1086.9 588,1087 590,1087.1 592,1087.3 594,1087.4 596,1087.6 598,1087.7 600,1087.9 602,1088 604,1088.2 606,1088.3 608,1088.5 610,1088.6 612,1088.8 614,1089 616,1089.1 618,1089.3 620,1089.5 622,1089.7 624,1089.9 626,1090.1 628,1090.3 630,1090.5 632,1090.7 634,1090.9 636,1091.1 638,1091.3 640,1091.5 642,1091.7 644,1091.9 646,1092.1 648,1092.3 650,1092.5 652,1092.7 654,1092.9 656,1093.1 658,1093.3 660,1093.5 662,1093.7 664,1093.9 666,1094.1 668,1094.3 670,1094.6 672,1094.9 674,1095.3 676,1095.9 678,1096.6 680,1097.5 682,1098.4 684,1099.3 686,1100.2 688,1101.2 690,1102.1 692,1102.9 694,1103.6 696,1104 698,1104.2 700,1104.2 702,1104 704,1103.8 706,1103.5 708,1103.2 710,1102.9 712,1102.6 714,1102.3 716,1102 718,1101.7 720,1101.4 722,1101.1 724,1100.8 726,1100.5 728,1100.2 730,1099.9 732,1099.6 734,1099.3 736,1099 738,1098.7 740,1098.4 742,1098.1 744,1097.9 746,1097.6 748,1097.4 750,1097.2 752,1097.1 754,1097 756,1097 758,1097 760,1097 762,1097 764,1097 766,1097 768,1097 770,1097 772,1097 774,1097 776,1097 778,1097 780,1097 782,1097 784,1097 786,1097 788,1097 790,1097 792,1097 794,1097 796,1097 798,1097 800,1097 802,1097 804,1097 806,1097 808,1097 810,1097 812,1097 814,1097 816,1097 818,1097 820,1097 822,1097 824,1097 826,1097 828,1097 830,1097.1 832,1097.1 834,1097.2 836,1097.3 838,1097.5 840,1097.6 842,1097.7 844,1097.8 846,1098 848,1098.1 850,1098.2 852,1098.4 854,1098.5 856,1098.6 858,1098.7 860,1098.9 862,1099 864,1099.1 866,1099.3 868,1099.4 870,1099.5 872,1099.6 874,1099.8 876,1099.9 878,1100 880,1100.2 882,1100.3 884,1100.4 886,1100.5 888,1100.7 890,1100.8 892,1100.9 894,1101.1 896,1101.2 898,1101.3 900,1101.5 902,1101.6 904,1101.7 906,1101.8 908,1102 910,1102.1 912,1102.2 914,1102.4 916,1102.5 918,1102.6 920,1102.7 922,1102.8 924,1102.8 926,1102.9 928,1102.8 930,1102.8 932,1102.7 934,1102.7 936,1102.6 938,1102.6 940,1102.5 942,1102.4 944,1102.4 946,1102.3 948,1102.2 950,1102.2 952,1102.1 954,1102 956,1101.9 958,1101.8 960,1101.7 962,1101.5 964,1101.3 966,1101.2 968,1101 970,1100.9 972,1100.7 974,1100.5 976,1100.4 978,1100.2 980,1100 982,1099.9 984,1099.7 986,1099.5 988,1099.4 990,1099.2 992,1099 994,1098.9 996,1098.7 998,1098.6 1000,1098.4 1002,1098.2 1004,1098.1 1006,1097.9 1008,1097.7 1010,1097.6 1012,1097.5 1014,1097.4 1016,1097.4 1018,1097.6 1020,1097.8 1022,1098.2 1024,1098.6 1026,1099 1028,1099.4 1030,1099.8 1032,1100.2 1034,1100.5 1036,1100.7 1038,1100.8 1040,1100.8 1042,1100.7 1044,1100.7 1046,1100.6 1048,1100.6 1050,1100.5 1052,1100.4 1054,1100.4 1056,1100.3 1058,1100.2 1060,1100.2 1062,1100.1 1064,1100 1066,1099.9 1068,1099.9 1070,1099.8 1072,1099.7 1074,1099.7 1076,1099.6 1078,1099.5 1080,1099.5 1082,1099.4 1084,1099.3 1086,1099.3 1088,1099.2 1090,1099.1 1092,1099.1 1094,1099.1 1096,1099 1098,1099 1100,1099 1102,1099 1104,1099 1106,1099 1108,1099 1110,1099 1112,1099 1114,1099 1116,1099 1118,1099 1120,1099 1122,1099 1124,1099 1126,1099 1128,1099 1130,1099 1132,1099 1134,1099 1136,1099 1138,1099 1140,1099 1142,1099 1144,1099 1146,1099 1148,1099 1150,1099 1152,1099 1154,1098.9 1156,1098.8 1158,1098.7 1160,1098.6 1162,1098.4 1164,1098.2 1166,1098.1 1168,1097.9 1170,1097.8 1172,1097.6 1174,1097.4 1176,1097.2 1178,1097.1 1180,1096.9 1182,1096.8 1184,1096.6 1186,1096.4 1188,1096.3 1190,1096.1 1192,1095.9 1194,1095.8 1196,1095.6 1198,1095.4 1200,1095.3 1202,1095.3 1204,1095.3 1206,1095.3 1208,1095.4 1210,1095.5 1212,1095.7 1214,1095.8 1216,1096 1218,1096.1 1220,1096.3 1222,1096.4 1224,1096.6 1226,1096.7 1228,1096.9 1230,1097 1232,1097.2 1234,1097.3 1236,1097.5 1238,1097.6 1240,1097.8 1242,1097.9 1244,1098.1 1246,1098.2 1248,1098.4 1250,1098.5 1252,1098.6 1254,1098.7 1256,1098.7 1258,1098.7 1260,1098.5 1262,1098.4 1264,1098.2 1266,1098 1268,1097.8 1270,1097.6 1272,1097.4 1274,1097.2 1276,1097 1278,1096.8 1280,1096.6 1282,1096.4 1284,1096.2 1286,1096 1288,1095.8 1290,1095.6 1292,1095.4 1294,1095.2 1296,1095 1298,1094.7 1300,1094.5 1302,1094.2 1304,1094 1306,1093.7 1308,1093.5 1310,1093.2 1312,1093 1314,1092.7 1316,1092.3 1318,1091.9 1320,1091.2 1322,1090.4 1324,1089.4 1326,1088.2 1328,1087 1330,1085.8 1332,1084.5 1334,1083.2 1336,1082.1 1338,1081.3 1340,1081.1 1342,1081.7 1344,1083 1346,1084.8 1348,1086.7 1350,1088.6 1352,1090.1 1354,1091.3 1356,1092.3 1358,1093.1 1360,1093.9 1362,1094.5 1364,1095 1366,1095.3 1368,1095.4 1370,1095.3 1372,1095.2 1374,1095 1376,1094.7 1378,1094.5 1380,1094.3 1382,1094.1 1384,1093.8 1386,1093.6 1388,1093.4 1390,1093.1 1392,1092.9 1394,1092.7 1396,1092.5 1398,1092.4 1400,1092.3 1402,1092.2 1404,1092.3 1406,1092.3 1408,1092.4 1410,1092.5 1412,1092.6 1414,1092.7 1416,1092.8 1418,1092.9 1420,1093 1422,1093.1 1424,1093.2 1426,1093.3 1428,1093.4 1430,1093.5 1432,1093.6 1434,1093.7 1436,1093.8 1438,1093.9 1440,1094 1442,1094.1 1444,1094.3 1446,1094.4 1448,1094.5 1450,1094.7 1452,1094.8 1454,1094.9 1456,1095.1 1458,1095.2 1460,1095.3 1462,1095.5 1464,1095.6 1466,1095.7 1468,1095.8 1470,1095.8 1472,1095.8 1474,1095.7 1476,1095.6 1478,1095.5 1480,1095.3 1482,1095.2 1484,1095.1 1486,1094.9 1488,1094.8 1490,1094.7 1492,1094.5 1494,1093.8 1496,1092.6 1498,1091.4 1500,1090.2 1502,1089 1504,1087.8 1506,1086.7 1508,1085.6 1510,1084.4 1512,1083.3 1514,1082.2 1516,1081.2 1518,1080.4 1520,1079.6 1522,1078.7 1524,1077.9 1526,1077.1 1528,1076.3 1530,1075.5 1532,1074.7 1534,1073.8 1536,1073 1538,1072.2 1540,1071.4 1542,1070.1 1544,1068.3 1546,1066.5 1548,1064.6 1550,1062.8 1552,1061 1554,1059.2 1556,1056.5 1558,1052.9 1560,1049.2 1562,1045.6 1564,1041.2 1566,1033 1568,1024 1570,1014.8 1572,1005.1 1574,995.5 1576,984.5 1578,970.9 1580,957 1582,942 1584,924.6 1586,906.8 1588,889 1590,871.2 1592,854.8 1594,846.9 1596,845.9 1598,845.8 1600,845.8 1602,845.9 1604,850.8 1606,860.9 1608,871.7 1610,882.9 1612,895 1614,907.2 1616,919.6 1618,934.3 1620,950.6 1622,967.4 1624,987 1626,1007.1 1628,1026.9 1630,1046.2 1632,1061.3 1634,1073.5 1636,1084.3 1638,1087.8 1640,1090.1 1642,1092.3 1644,1093.6 1646,1093.9 1648,1094.2 1650,1094.5 1652,1094.8 1654,1095.1 1656,1095.3 1658,1095.5 1660,1095.6 1662,1095.6 1664,1095.5 1666,1095.4 1668,1095.2 1670,1095 1672,1094.8 1674,1094.6 1676,1094.4 1678,1094.2 1680,1094 1682,1093.8 1684,1093.6 1686,1093.3 1688,1092.8 1690,1092.3 1692,1091.5 1694,1090.6 1696,1089.6 1698,1088.5 1700,1087.4 1702,1086.2 1704,1085 1706,1083.7 1708,1082.5 1710,1081.4 1712,1080.5 1714,1080.2 1716,1080.3 1718,1080.9 1720,1081.9 1722,1083 1724,1084.2 1726,1085.5 1728,1086.7 1730,1087.9 1732,1089 1734,1090.2 1736,1091.2 1738,1092.1 1740,1093 1742,1093.9 1744,1094.7 1746,1095.5 1748,1096.2 1750,1096.9 1752,1097.4 1754,1097.8 1756,1098.1 1758,1098.3 1760,1098.4 1762,1098.5 1764,1098.6 1766,1098.7 1768,1098.6 1770,1098.5 1772,1098.1 1774,1097.5 1776,1096.5 1778,1095.1 1780,1093.3 1782,1091.2 1784,1089.1 1786,1087.4 1788,1086.2 1790,1085.8 1792,1086.1 1794,1087 1796,1088.3 1798,1089.9 1800,1091.4 1802,1092.9 1804,1094.4 1806,1095.7 1808,1096.8 1810,1097.5 1812,1097.9 1814,1097.9 1816,1097.7 1818,1097.4 1820,1097 1822,1096.6 1824,1096.2 1826,1095.8 1828,1095.4 1830,1095.1 1832,1094.7 1834,1094.4 1836,1094.1 1838,1093.8 1840,1093.5 1842,1093.2 1844,1092.9 1846,1092.6 1848,1092.3 1850,1092.1 1852,1091.8 1854,1091.6 1856,1091.4 1858,1091.2 1860,1090.9 1862,1090.7 1864,1090.5 1866,1090.4 1868,1090.2" fill="none" stroke="#000" stroke-width="9" stroke-linejoin="round" />
<path d="M1556,1056.5 1557,1054.7 1558,1052.9 1559,1051.1 1560,1049.2 1561,1047.4 1562,1045.6 1563,1043.7 1564,1041.2 1565,1037.4 1566,1033 1567,1028.5 1568,1024 1569,1019.5 1570,1014.8 1571,1009.9 1572,1005.1 1573,1000.3 1574,995.5 1575,990.4 1576,984.5 1577,977.8 1578,970.9 1579,963.9 1580,957 1581,949.8 1582,942 1583,933.4 1584,924.6 1585,915.7 1586,906.8 1587,898 1588,889 1589,880.1 1590,871.2 1591,862.4 1592,854.8 1593,849.8 1594,846.9 1595,845.9 1596,845.9 1597,845.8 1598,845.8 1599,845.8 1600,845.8 1601,845.8 1602,845.9 1603,847.1 1604,850.8 1605,855.7 1606,860.9 1607,866.3 1608,871.7 1609,877.2 1610,882.9 1611,888.9 1612,895 1613,901.1 1614,907.2 1615,913.3 1616,919.6 1617,926.5 1618,934.3 1619,942.4 1620,950.6 1621,958.8 1622,967.4 1623,977 1624,987 1625,997.1 1626,1007.1 1627,1017.1 1628,1026.9 1629,1036.7 1630,1046.2 1631,1054.6 1632,1061.3 1633,1067.4" fill="none" stroke="#000" stroke-width="10.5" stroke-linejoin="round" />
<path d="M181.5,1092.4V1092.4h1V1089.9h1V1089.9h1V1090.5h1V1090.5h1V1090.4h1V1090.4h1V1092h1V1092h1V1091.9h1V1089.4h1V1090.6h1V1090.5h1V1091.3h1V1091.1h1V1091.1h1V1090.5h1V1090.5h1V1090.4h1V1089.3h1V1089.2h1V1089.2h1V1089.3h1V1089.2h1V1091.3h1V1091.2h1V1091.1h1V1090.2h1V1090h1V1088.2h1V1089.4h1V1089.4h1V1089.3h1V1088.3h1V1088.9h1V1088.8h1V1088.5h1V1088.4h1V1088.3h1V1087.4h1V1087.1h1V1088.5h1V1087.5h1V1088.4h1V1088.3h1V1088.3h1V1087.1h1V1086.8h1V1087.8h1V1087.9h1V1087.8h1V1088.1h1V1088.1h1V1088h1V1087.5h1V1087.4h1V1087.3h1V1087.6h1V1087.5h1V1087.8h1V1087.6h1V1087.5h1V1086h1V1086.3h1V1086.3h1V1087.2h1V1084.5h1V1084.4h1V1084.3h1V1085.8h1V1085.7h1V1085.5h1V1086.1h1V1085.9h1V1085.6h1V1083.5h1V1083.3h1V1083.1h1V1083.9h1V1083.1h1V1082.2h1V1084.3h1V1081.7h1V1081.5h1V1081.3h1V1082.3h1V1082h1V1081.7h1V1081.5h1V1081.8h1V1081.3h1V1081.9h1V1079h1V1078.7h1V1080.8h1V1080.8h1V1079.6h1V1079.4h1V1079.1h1V1078.8h1V1078.8h1V1078.8h1V1077.4h1V1077.9h1V1077.4h1V1079.1h1V1079.1h1V1079.1h1V1080h1V1080h1V1080.3h1V1080.4h1V1080.5h1V1077.9h1V1078.1h1V1078.3h1V1079h1V1080.5h1V1079.6h1V1079.2h1V1079.3h1V1079.4h1V1079.4h1V1080.1h1V1080.1h1V1080h1V1080.6h1V1080.7h1V1080.6h1V1080.6h1V1080.5h1V1080.4h1V1080.4h1V1080.9h1V1080.9h1V1080.9h1V1079.9h1V1079.9h1V1081.7h1V1081.6h1V1079.7h1V1079.7h1V1079.7h1V1081.3h1V1081.3h1V1079.2h1V1079.2h1V1081.5h1V1080.2h1V1080.2h1V1079.8h1V1079.7h1V1079.7h1V1081.1h1V1079h1V1078.9h1V1078.3h1V1078.3h1V1078.2h1V1079.3h1V1079.8h1V1079.8h1V1079.7h1V1080.5h1V1080.5h1V1079.1h1V1079.1h1V1079h1V1080.1h1V1080.1h1V1078.5h1V1078.5h1V1078.5h1V1079.1h1V1079h1V1079h1V1079.5h1V1079.5h1V1079.5h1V1078.1h1V1078.1h1V1078.1h1V1079.9h1V1079.8h1V1077.3h1V1077.3h1V1077.8h1V1079.8h1V1079.8h1V1079.4h1V1078.9h1V1079h1V1078.9h1V1077.6h1V1077.4h1V1077.4h1V1077.4h1V1078.8h1V1078.7h1V1078.6h1V1077.8h1V1077.8h1V1077.8h1V1078h1V1078h1V1079.3h1V1079.3h1V1079.3h1V1078.5h1V1078.5h1V1077.2h1V1077.2h1V1077.2h1V1077.1h1V1077.1h1V1077.1h1V1078.7h1V1078.6h1V1078.6h1V1076.7h1V1076.7h1V1076.7h1V1078.7h1V1078.7h1V1077.1h1V1077.3h1V1077.3h1V1078.3h1V1078.3h1V1078h1V1076.2h1V1076.2h1V1077.7h1V1077.8h1V1077.8h1V1077.7h1V1076h1V1076.7h1V1077.8h1V1077.7h1V1077.6h1V1076.8h1V1076.7h1V1075.6h1V1077.3h1V1077.2h1V1077.1h1V1077.5h1V1077.4h1V1077.3h1V1076.1h1V1076h1V1075.9h1V1074.8h1V1074.1h1V1074h1V1075.8h1V1075.7h1V1075.6h1V1075.3h1V1075.2h1V1075.1h1V1074.4h1V1074.3h1V1073.2h1V1074.9h1V1074.4h1V1074.3h1V1074.1h1V1074h1V1074.7h1V1074.6h1V1074.5h1V1073.1h1V1073.1h1V1073h1V1074h1V1073.3h1V1072.3h1V1072.3h1V1074.2h1V1074.2h1V1074.2h1V1074.5h1V1074.5h1V1074.8h1V1074.8h1V1072.5h1V1072.5h1V1073.6h1V1074.5h1V1072.6h1V1073.6h1V1073.6h1V1074.3h1V1075.1h1V1072.8h1V1072.8h1V1072.9h1V1075.4h1V1075.3h1V1075.4h1V1075.4h1V1074.4h1V1074.4h1V1074.5h1V1073.7h1V1073.8h1V1075.9h1V1076h1V1076h1V1073.4h1V1073.4h1V1073.5h1V1076.4h1V1076.4h1V1076.5h1V1076h1V1076.1h1V1076.1h1V1075.8h1V1074.2h1V1076.3h1V1076.3h1V1074.6h1V1074.7h1V1076.4h1V1074.7h1V1076.7h1V1076.7h1V1076.8h1V1076.8h1V1076.9h1V1076.9h1V1076.6h1V1076.7h1V1075.5h1V1075.2h1V1075.2h1V1075.3h1V1075.5h1V1075.6h1V1075.6h1V1075.7h1V1075.7h1V1075.8h1V1078h1V1078.1h1V1078.1h1V1078.1h1V1078.2h1V1076.1h1V1077.3h1V1077.4h1V1076h1V1076.1h1V1077.3h1V1076.8h1V1076.9h1V1076.9h1V1076.5h1V1076.5h1V1076.6h1V1077.9h1V1078h1V1078.1h1V1078.6h1V1078.7h1V1078.8h1V1077.5h1V1077.5h1V1079.2h1V1079.3h1V1079.3h1V1077.4h1V1077.3h1V1078.2h1V1078.7h1V1079.9h1V1080h1V1078h1V1078.1h1V1080.2h1V1080.3h1V1080.4h1V1080.1h1V1080.3h1V1080.4h1V1080.3h1V1081h1V1081.1h1V1080.3h1V1080.3h1V1080.4h1V1080.1h1V1078.7h1V1078.8h1V1080.1h1V1081h1V1081h1V1081.1h1V1079.5h1V1079.6h1V1079.7h1V1080.1h1V1080.2h1V1081.6h1V1081.6h1V1080.6h1V1079.9h1V1081.7h1V1081.7h1V1081.8h1V1082.3h1V1082.4h1V1081.9h1V1081.7h1V1081.8h1V1081.9h1V1082.9h1V1083h1V1083.1h1V1082.9h1V1083.5h1V1083.5h1V1083.6h1V1081.2h1V1081.2h1V1082h1V1082.1h1V1083h1V1083.1h1V1083.2h1V1083.8h1V1083.9h1V1083.6h1V1084.5h1V1084h1V1084.1h1V1084.2h1V1084.8h1V1084.9h1V1085h1V1083.3h1V1083.4h1V1083.5h1V1083.8h1V1083.9h1V1085.5h1V1085.6h1V1085.7h1V1084.9h1V1086.2h1V1086.3h1V1085.8h1V1085.9h1V1084.8h1V1085.5h1V1085.1h1V1085h1V1085.1h1V1085.2h1V1084.8h1V1084.9h1V1087.2h1V1086.4h1V1086.5h1V1087.7h1V1087.8h1V1087.5h1V1085.7h1V1085.8h1V1085.9h1V1088.4h1V1088.5h1V1088.6h1V1088.6h1V1088.8h1V1088.9h1V1088h1V1087.4h1V1087.5h1V1087.6h1V1087.8h1V1088.4h1V1088.5h1V1088.6h1V1089.6h1V1089.8h1V1089.2h1V1088.2h1V1089.3h1V1090.6h1V1090.9h1V1091.2h1V1090.7h1V1091.1h1V1091.5h1V1092.4h1V1092.9h1V1092.7h1V1093.2h1V1094.5h1V1095h1V1095.3h1V1095.8h1V1096.2h1V1096.1h1V1096.5h1V1096.9h1V1096.1h1V1098.6h1V1098.9h1V1097.9h1V1098.1h1V1099.5h1V1097h1V1097h1V1097h1V1097.9h1V1097.9h1V1097.7h1V1097.6h1V1098.9h1V1098.7h1V1098.6h1V1097.6h1V1098.3h1V1098h1V1097.8h1V1097.6h1V1097.5h1V1095.7h1V1096.3h1V1096.2h1V1096h1V1096.6h1V1096.4h1V1096.3h1V1096h1V1095.8h1V1095.7h1V1093.7h1V1093.6h1V1094.1h1V1094h1V1094.3h1V1094.2h1V1092.8h1V1092.7h1V1092.5h1V1093.3h1V1093h1V1092.9h1V1092.7h1V1092.4h1V1092.2h1V1092.1h1V1091.1h1V1091.1h1V1091h1V1090.9h1V1091.1h1V1091h1V1090.8h1V1090.9h1V1090.8h1V1091.4h1V1091.3h1V1091.4h1V1091.4h1V1091.4h1V1091.7h1V1089.6h1V1089.9h1V1090.2h1V1090.1h1V1090.1h1V1090.1h1V1091.1h1V1091.1h1V1089.5h1V1089.5h1V1089.8h1V1089.8h1V1089.8h1V1092.2h1V1092.2h1V1092.2h1V1091.7h1V1091.7h1V1091.7h1V1089.9h1V1089.9h1V1090.2h1V1090.2h1V1092.4h1V1092.4h1V1092.4h1V1091.1h1V1091.1h1V1091.1h1V1092.1h1V1092.1h1V1092.1h1V1089.5h1V1092.1h1V1092.1h1V1092.1h1V1091.4h1V1092.1h1V1092.1h1V1092.1h1V1089.7h1V1089.7h1V1089.7h1V1089.9h1V1089.9h1V1089.9h1V1091.9h1V1091.9h1V1091.9h1V1092.2h1V1092.2h1V1090.5h1V1090.5h1V1090.5h1V1091.3h1V1091.7h1V1091.7h1V1090.7h1V1090.7h1V1089.9h1V1089.9h1V1089.9h1V1091.1h1V1091.1h1V1091.1h1V1089.8h1V1089.8h1V1089.6h1V1089.6h1V1089.6h1V1091.6h1V1091.6h1V1090.5h1V1090.5h1V1090.5h1V1089.6h1V1089.7h1V1090.8h1V1090.9h1V1092.5h1V1091.3h1V1090.8h1V1090.8h1V1092.3h1V1092.3h1V1091.4h1V1090.7h1V1090.8h1V1090.9h1V1092.6h1V1091.5h1V1093.4h1V1093h1V1093h1V1093.1h1V1092.3h1V1092.4h1V1091.1h1V1091.2h1V1091.2h1V1092.5h1V1092.6h1V1093.8h1V1093.9h1V1092.8h1V1091.5h1V1091.6h1V1093.1h1V1093.2h1V1093.7h1V1093.8h1V1092h1V1092.1h1V1094.5h1V1094.6h1V1093h1V1093.3h1V1095.1h1V1095.1h1V1094.3h1V1094.4h1V1094.5h1V1094.4h1V1093.4h1V1093.5h1V1093.5h1V1093.9h1V1094h1V1094.5h1V1094h1V1094h1V1095.6h1V1095.8h1V1095.8h1V1096.2h1V1096.3h1V1096.4h1V1095.9h1V1096h1V1096h1V1096.3h1V1096.3h1V1096.4h1V1094.1h1V1094.1h1V1094.2h1V1094.4h1V1094.5h1V1094.5h1V1095.1h1V1095h1V1095h1V1096.9h1V1097h1V1095.9h1V1095.9h1V1097.2h1V1097.5h1V1097.5h1V1097.6h1V1096h1V1097h1V1097.1h1V1097.1h1V1096.4h1V1097.8h1V1097.8h1V1097.9h1V1096.1h1V1096.1h1V1096.2h1V1098.3h1V1098.3h1V1098.2h1V1096.1h1V1097.5h1V1097.5h1V1097.5h1V1095.8h1V1097.2h1V1097.1h1V1096.4h1V1096.4h1V1097h1V1097h1V1097h1V1095.1h1V1095h1V1095.7h1V1095.7h1V1095.5h1V1095.5h1V1095.4h1V1096.5h1V1096.5h1V1095.2h1V1095.2h1V1095.1h1V1095.1h1V1095.8h1V1095.7h1V1097.4h1V1097.4h1V1097.3h1V1097.2h1V1097.2h1V1097.1h1V1097h1V1096.9h1V1096.8h1V1096.8h1V1096.7h1V1096.6h1V1096.5h1V1096.4h1V1096.4h1V1096.3h1V1096.2h1V1096.1h1V1096h1V1095.9h1V1095.9h1V1095.8h1V1095.7h1V1095.6h1V1095.5h1V1095.5h1V1095.4h1V1095.3h1V1095.2h1V1095.1h1V1095h1V1095h1V1094.9h1V1094.8h1V1094.7h1V1094.6h1V1094.5h1V1094.5h1V1094.4h1V1094.3h1V1094.2h1V1094.1h1V1094.1h1V1094h1V1093.9h1V1093.8h1V1093.7h1V1093.6h1V1093.6h1V1093.5h1V1093.4h1V1093.3h1V1093.2h1V1093.2h1V1093.1h1V1093h1V1093h1V1092.9h1V1092.9h1V1092.9h1V1092.9h1V1093h1V1091.4h1V1092.7h1V1092.8h1V1093h1V1091.9h1V1092.1h1V1093.9h1V1093.3h1V1093.5h1V1091.8h1V1092.5h1V1095.1h1V1095.3h1V1095.5h1V1095h1V1095.2h1V1095.9h1V1096h1V1095h1V1095.5h1V1096.1h1V1096.1h1V1096.1h1V1095.8h1V1095.6h1V1095.2h1V1095.2h1V1095.2h1V1093.4h1V1093.4h1V1094.3h1V1094.3h1V1094.3h1V1095.3h1V1094.6h1V1094.6h1V1094.1h1V1094.1h1V1094.5h1V1094.5h1V1094.5h1V1095.6h1V1095.6h1V1095.6h1V1094.1h1V1094.1h1V1094h1V1093.7h1V1093.7h1V1094h1V1093.9h1V1094.6h1V1094.6h1V1093.5h1V1093.5h1V1093.9h1V1093.9h1V1094.9h1V1094.8h1V1092.3h1V1092.2h1V1092.2h1V1094.4h1V1094.4h1V1094.4h1V1093.6h1V1093.6h1V1093.3h1V1093.2h1V1093.2h1V1091.9h1V1092.6h1V1092.5h1V1093.9h1V1093.9h1V1091.9h1V1091.9h1V1092.4h1V1092.4h1V1092.2h1V1092.2h1V1092.2h1V1092h1V1092h1V1092h1V1092.7h1V1092.2h1V1092.2h1V1092.2h1V1092.1h1V1092.3h1V1092.3h1V1094.4h1V1094.4h1V1094.4h1V1091.7h1V1091.9h1V1094.2h1V1094.2h1V1091.7h1V1094.3h1V1094.3h1V1094.3h1V1092.1h1V1093.1h1V1093.1h1V1093.3h1V1093.3h1V1093.3h1V1092.1h1V1092.3h1V1092.3h1V1092.3h1V1093.4h1V1093.4h1V1094.3h1V1094.3h1V1094.3h1V1094.4h1V1094.4h1V1094.4h1V1092.4h1V1092.4h1V1092.7h1V1092.7h1V1093.5h1V1092h1V1093.1h1V1093.1h1V1093.1h1V1093.8h1V1093.8h1V1092.4h1V1092.4h1V1092.4h1V1094.1h1V1094.2h1V1094.1h1V1094.1h1V1091.5h1V1091.5h1V1091.4h1V1093.6h1V1093.5h1V1091.6h1V1091.7h1V1093.3h1V1092.4h1V1092.3h1V1093.2h1V1093.1h1V1093h1V1092.2h1V1090.4h1V1090.3h1V1090.3h1V1090.5h1V1090.4h1V1090.3h1V1090.9h1V1090.8h1V1091.5h1V1090.6h1V1090.5h1V1090.4h1V1091.4h1V1091.3h1V1091.3h1V1090.1h1V1090h1V1090h1V1089.2h1V1090.7h1V1090.6h1V1090.5h1V1091.3h1V1091.2h1V1089.2h1V1089.8h1V1089.4h1V1088.6h1V1088.5h1V1088.5h1V1089.3h1V1089.2h1V1088h1V1088h1V1088.7h1V1089.5h1V1089.5h1V1089.6h1V1088.9h1V1089h1V1089h1V1088.8h1V1091h1V1091.1h1V1089.6h1V1089.7h1V1089.8h1V1090.7h1V1090.7h1V1090.8h1V1090h1V1090.1h1V1090.2h1V1091.7h1V1091.8h1V1091.8h1V1090.9h1V1091h1V1091.8h1V1091.8h1V1089.9h1V1090h1V1090.6h1V1090.7h1V1090.8h1V1090h1V1090.1h1V1091.5h1V1091.6h1V1091.3h1V1091.4h1V1091.4h1V1091.5h1V1092.5h1V1092.4h1V1091.8h1V1091.9h1V1091.9h1V1092h1V1092h1V1093.4h1V1093.1h1V1091.8h1V1091.8h1V1091.9h1V1091.6h1V1091.6h1V1092.3h1V1092.2h1V1092.5h1V1092.4h1V1092h1V1092h1V1093.4h1V1093.3h1V1093.2h1V1091.7h1V1091.6h1V1092.3h1V1090.9h1V1090.8h1V1091.8h1V1091.7h1V1091.6h1V1091.2h1V1091.1h1V1091h1V1091.8h1V1091.7h1V1091.6h1V1090.7h1V1090.6h1V1090.5h1V1089.4h1V1088.6h1V1090.1h1V1090h1V1089.9h1V1089.8h1V1088.3h1V1088.1h1V1088.1h1V1087.8h1V1088h1V1087.9h1V1088h1V1088h1V1087.9h1V1088h1V1087.9h1V1087.7h1V1088.8h1V1088.7h1V1088.6h1V1087.6h1V1086h1V1085.9h1V1086.7h1V1086.6h1V1086.5h1V1085.6h1V1087.6h1V1087.4h1V1086.8h1V1086.6h1V1086.4h1V1085.5h1V1085.2h1V1084.9h1V1083.9h1V1083.5h1V1083.6h1V1083.1h1V1084.2h1V1083.7h1V1081.1h1V1080.7h1V1080.2h1V1079.6h1V1079.5h1V1078.9h1V1078.3h1V1077.2h1V1076.7h1V1075.9h1V1075.4h1V1074.9h1V1074.8h1V1074.6h1V1074.8h1V1074.8h1V1075.2h1V1075.9h1V1076.3h1V1077.1h1V1077.9h1V1080.5h1V1081.4h1V1080.9h1V1083.2h1V1081.2h1V1081.8h1V1082.5h1V1085.5h1V1086.1h1V1086.6h1V1087.1h1V1087.5h1V1088h1V1088.4h1V1089.2h1V1089.5h1V1089.3h1V1089.6h1V1089.6h1V1089.8h1V1089.7h1V1089.1h1V1089h1V1087.6h1V1088.3h1V1087.9h1V1088.2h1V1088h1V1087.7h1V1088.2h1V1087.7h1V1088.3h1V1088.1h1V1086h1V1085.8h1V1085.2h1V1085.5h1V1086.1h1V1086.3h1V1084.8h1V1084.6h1V1084.4h1V1086.5h1V1085.6h1V1085.6h1V1085.6h1V1085h1V1083.9h1V1083.9h1V1084.6h1V1084.6h1V1084.5h1V1083.6h1V1085.5h1V1085.5h1V1085.6h1V1085.6h1V1085.6h1V1085.5h1V1084.8h1V1084.9h1V1085.3h1V1085.4h1V1085.9h1V1086.2h1V1085.7h1V1085.8h1V1085.6h1V1086.6h1V1086.7h1V1086.8h1V1086.7h1V1087.1h1V1086.5h1V1086.6h1V1085h1V1085.1h1V1086.9h1V1086h1V1086.1h1V1088h1V1087.9h1V1088h1V1088.2h1V1088.3h1V1086.6h1V1086.7h1V1086.9h1V1086.9h1V1087h1V1089.1h1V1089.2h1V1089.2h1V1088.8h1V1088.9h1V1088.9h1V1086.8h1V1086.9h1V1089.5h1V1089.6h1V1089.1h1V1089.2h1V1089.3h1V1089.3h1V1089.4h1V1089.5h1V1089.3h1V1088.5h1V1088.6h1V1089.7h1V1089.8h1V1089.9h1V1090h1V1089.8h1V1089.9h1V1088.3h1V1088.4h1V1088.5h1V1088.8h1V1088.4h1V1088.4h1V1090h1V1088.8h1V1088.4h1V1088.4h1V1089.1h1V1089.1h1V1089h1V1088.6h1V1088.6h1V1088.4h1V1090h1V1089.9h1V1089.9h1V1088.5h1V1089.6h1V1089.6h1V1089.5h1V1090.3h1V1087.7h1V1087.6h1V1087.6h1V1088.9h1V1088.8h1V1087.8h1V1087.1h1V1086.9h1V1086.9h1V1086.3h1V1085.7h1V1086.2h1V1085.5h1V1085.9h1V1085.3h1V1084.7h1V1084.3h1V1083.7h1V1083.1h1V1082.1h1V1079.6h1V1079.1h1V1078.5h1V1079h1V1078.5h1V1077.9h1V1078.1h1V1077.5h1V1076.9h1V1075.5h1V1075h1V1073.6h1V1073.2h1V1072.8h1V1072.6h1V1074.2h1V1073.8h1V1073.4h1V1072.7h1V1072.3h1V1071.9h1V1071.7h1V1071.2h1V1068.9h1V1068.5h1V1068.1h1V1068.6h1V1068.2h1V1067.7h1V1067.8h1V1068.5h1V1068.1h1V1064.8h1V1064.7h1V1064.3h1V1063.8h1V1064.1h1V1063.2h1V1062.3h1V1061.4h1V1060.5h1V1059.6h1V1057.3h1V1056.4h1V1055.5h1V1057.2h1V1053.8h1V1055h1V1054.1h1V1051.3h1V1049.7h1V1048h1V1048.2h1V1046.4h1V1044.5h1V1042.9h1V1041h1V1039.2h1V1036.3h1V1032.5h1V1027.4h1V1022.9h1V1017.3h1V1012.7h1V1008.4h1V1003.6h1V998h1V995h1V989.9h1V982.9h1V979.2h1V972.6h1V965.6h1V958.6h1V951.6h1V944.5h1V935h1V926.4h1V917.6h1V909.4h1V900.6h1V891h1V884.5h1V875.5h1V866.6h1V856.4h1V848.8h1V843.8h1V840.8h1V839.8h1V839.7h1V838.6h1V840.4h1V840.4h1V839.4h1V839.4h1V838.7h1V839.9h1V845.2h1V850.6h1V855.8h1V861.1h1V866.9h1V872.4h1V878.1h1V883.8h1V889.8h1V895.9h1V902.2h1V908.3h1V913h1V919.9h1V927.7h1V934.9h1V943.1h1V951.3h1V960.4h1V970h1V980h1V991.6h1V1001.6h1V1011.5h1V1019.7h1V1029.5h1V1040.2h1V1048.5h1V1054.3h1V1060.4h1V1066.5h1V1072.5h1V1078.7h1V1081.1h1V1081.4h1V1082.6h1V1083.6h1V1084.7h1V1085.7h1V1085.6h1V1088.2h1V1088.3h1V1088.4h1V1087.4h1V1087.4h1V1089.2h1V1087.3h1V1087.3h1V1087.4h1V1088.5h1V1088.6h1V1088.7h1V1088h1V1088h1V1088.1h1V1087.2h1V1087.3h1V1087.3h1V1089.4h1V1089.4h1V1089.3h1V1089.4h1V1089.3h1V1089.4h1V1089.3h1V1089.2h1V1086.8h1V1086.5h1V1086.4h1V1086.5h1V1086.9h1V1086.8h1V1086.7h1V1088h1V1088.1h1V1088h1V1086.6h1V1086.5h1V1086.4h1V1087.4h1V1087.4h1V1085.4h1V1085.2h1V1085.8h1V1086.4h1V1085.4h1V1084.9h1V1084.3h1V1083.9h1V1083.4h1V1083.1h1V1082.6h1V1082.1h1V1082.1h1V1081.6h1V1081.1h1V1079.4h1V1079h1V1078.4h1V1078.1h1V1077.5h1V1077.7h1V1077h1V1076.7h1V1076.1h1V1076.1h1V1075.6h1V1073.5h1V1073.2h1V1073h1V1071.8h1V1071.8h1V1071.9h1V1072.7h1V1073h1V1073.1h1V1074.1h1V1074.7h1V1074.8h1V1075.4h1V1076.1h1V1076.6h1V1079.6h1V1080.1h1V1081h1V1079.1h1V1081.9h1V1082.6h1V1083.3h1V1083.9h1V1082.4h1V1083.9h1V1084.3h1V1086.1h1V1084.5h1V1084.9h1V1085.4h1V1086.2h1V1086.6h1V1087.4h1V1087h1V1087.4h1V1087.7h1V1087.4h1V1087.8h1V1088.1h1V1090h1V1090.3h1V1090.4h1V1090.8h1V1091h1V1091h1V1091.2h1V1091.3h1V1092.1h1V1092.2h1V1092.2h1V1091.1h1V1091.3h1V1092.1h1V1090.9h1V1091.2h1V1091h1V1091.2h1V1091.2h1V1091.3h1V1090.9h1V1090.4h1V1090.1h1V1089.8h1V1091.2h1V1088.1h1V1090.3h1V1089.7h1V1088.9h1V1087.6h1V1084h1V1084.5h1V1083.3h1V1081h1V1079.9h1V1079.1h1V1077.9h1V1078.4h1V1077.6h1V1077.2h1V1077.8h1V1077.9h1V1076.3h1V1076.7h1V1077.2h1V1077.4h1V1078.1h1V1079.1h1V1080.5h1V1081.3h1V1083.1h1V1083.8h1V1083.7h1V1084.4h1V1085.1h1V1084.1h1V1086.8h1V1088.4h1V1086.5h1V1086.9h1V1087.4h1V1088.2h1V1087.8h1V1087.9h1V1089.2h1V1089.1h1V1089h1V1086.2h1V1086h1V1088.2h1V1087.4h1V1086.4h1V1086.5h1V1085.1h1V1085.7h1V1084.5h1V1085h1V1085.9h1V1085.7h1V1085h1V1084.8h1V1084.4h1V1084.3h1V1084.1h1V1083.9h1V1083.7h1V1083.4h1V1081.9h1V1081.6h1V1082.3h1V1083h1V1082.7h1V1082.1h1V1081.3h1V1080h1V1080.8h1V1082.7h1V1082.5h1V1080.1h1V1080.5h1V1081.7h1V1079.8h1V1079.6h1V1077.4h1V1078.2h1V1076.5h1V1076.3h1V1078.7h1V1078.4h1V1077.6h1V1077.4h1V1079h1V1078.8h1V1076.8h1V1076.6h1V1076.8h1V1077.3h1V1075.5h1V1075.4h1V1074.7h1V1102.5h-1V1102.5h-1V1101.9h-1V1103.4h-1V1103.1h-1V1103.3h-1V1103.3h-1V1103.5h-1V1103.6h-1V1105.2h-1V1105.3h-1V1104.3h-1V1105h-1V1104.5h-1V1104.3h-1V1103.5h-1V1104.5h-1V1106.8h-1V1106.7h-1V1106.7h-1V1103.8h-1V1103.1h-1V1103.2h-1V1103.1h-1V1103.1h-1V1103.5h-1V1103.9h-1V1103.9h-1V1103.9h-1V1103.7h-1V1103.7h-1V1103.8h-1V1103.8h-1V1104.1h-1V1103.9h-1V1105.4h-1V1105.5h-1V1104.6h-1V1104.7h-1V1105.7h-1V1105.8h-1V1104h-1V1104.9h-1V1107.3h-1V1107.5h-1V1105.8h-1V1106h-1V1106.7h-1V1106.9h-1V1107.5h-1V1107.7h-1V1108h-1V1108.1h-1V1107.5h-1V1107.6h-1V1107.6h-1V1108.2h-1V1108.1h-1V1106.6h-1V1106.3h-1V1106h-1V1104.9h-1V1104.4h-1V1104h-1V1105.7h-1V1105h-1V1104.3h-1V1102.5h-1V1102.3h-1V1101.5h-1V1099.8h-1V1097.8h-1V1097h-1V1097.2h-1V1096h-1V1095.4h-1V1095.4h-1V1094.4h-1V1094.1h-1V1095.4h-1V1095.4h-1V1095.6h-1V1096.8h-1V1097.4h-1V1098.1h-1V1097.1h-1V1098h-1V1098.9h-1V1101.9h-1V1102.4h-1V1103.2h-1V1104h-1V1104h-1V1104.5h-1V1103.3h-1V1106.2h-1V1104.6h-1V1104.9h-1V1106.9h-1V1106.8h-1V1106.9h-1V1105.2h-1V1105.3h-1V1105.3h-1V1106.3h-1V1106.3h-1V1105.7h-1V1105.7h-1V1105.6h-1V1106.9h-1V1106.9h-1V1104.1h-1V1104h-1V1103.7h-1V1105.7h-1V1105.4h-1V1103.7h-1V1103.5h-1V1103.2h-1V1103.8h-1V1103.7h-1V1103.5h-1V1103.1h-1V1101.7h-1V1101.3h-1V1100.9h-1V1100.9h-1V1100.5h-1V1100h-1V1100.5h-1V1101h-1V1100.6h-1V1098.1h-1V1097.6h-1V1097.1h-1V1096.4h-1V1096.6h-1V1096.1h-1V1096.5h-1V1096.2h-1V1095.6h-1V1093h-1V1092.2h-1V1091.8h-1V1091.2h-1V1090.6h-1V1091.3h-1V1089.5h-1V1090.3h-1V1089.7h-1V1089.2h-1V1087.4h-1V1087.3h-1V1087.1h-1V1088.1h-1V1086.7h-1V1086.8h-1V1087.7h-1V1088h-1V1088.7h-1V1089.3h-1V1091h-1V1091.7h-1V1092.3h-1V1092.6h-1V1092.8h-1V1093.4h-1V1094.1h-1V1094.7h-1V1093.5h-1V1095.4h-1V1095.9h-1V1094.8h-1V1095.3h-1V1095.7h-1V1096.8h-1V1097.2h-1V1097.7h-1V1100.1h-1V1100.4h-1V1100.7h-1V1098.8h-1V1099.1h-1V1099.3h-1V1099h-1V1099.3h-1V1101.8h-1V1101.9h-1V1099.9h-1V1099.9h-1V1100h-1V1100h-1V1102.1h-1V1102.2h-1V1102.5h-1V1101.1h-1V1101.2h-1V1101h-1V1103h-1V1103.1h-1V1103.5h-1V1103.3h-1V1102.7h-1V1100.9h-1V1101h-1V1102.5h-1V1102.6h-1V1101.8h-1V1101.8h-1V1101.8h-1V1101.9h-1V1101.8h-1V1102h-1V1102.9h-1V1103.6h-1V1103.4h-1V1101.3h-1V1101.1h-1V1100.1h-1V1099.9h-1V1101h-1V1100.8h-1V1100.6h-1V1099.6h-1V1099.4h-1V1099.1h-1V1098.6h-1V1099.1h-1V1097.9h-1V1096.7h-1V1096.4h-1V1093.1h-1V1091.9h-1V1089.5h-1V1085.5h-1V1079.6h-1V1073.5h-1V1067.9h-1V1061.2h-1V1050.9h-1V1043.2h-1V1033.4h-1V1022.9h-1V1013h-1V1003.9h-1V993.8h-1V983.8h-1V974.7h-1V966.1h-1V957.9h-1V949.4h-1V941.2h-1V933.4h-1V926.5h-1V920.4h-1V914.3h-1V908.2h-1V900.4h-1V895.6h-1V889.6h-1V883.8h-1V877.8h-1V872.3h-1V866.6h-1V861.5h-1V856.7h-1V853.4h-1V851.5h-1V851.4h-1V851.5h-1V850.7h-1V850.7h-1V850.7h-1V851.5h-1V852.8h-1V853.7h-1V854.9h-1V859.8h-1V868.6h-1V877.4h-1V886.5h-1V895.5h-1V904h-1V912.9h-1V923h-1V931.8h-1V940.5h-1V949h-1V954.7h-1V961.9h-1V968.8h-1V976.6h-1V983.5h-1V992h-1V997.9h-1V1000.2h-1V1005.1h-1V1009.9h-1V1016.5h-1V1021.3h-1V1024h-1V1028.6h-1V1034.7h-1V1039.2h-1V1042.1h-1V1047.7h-1V1050.2h-1V1052.1h-1V1053.3h-1V1054.5h-1V1056.3h-1V1058.2h-1V1062.2h-1V1064h-1V1065.1h-1V1066.2h-1V1067.1h-1V1066.6h-1V1067.5h-1V1068.4h-1V1071.2h-1V1072.1h-1V1070.2h-1V1071.1h-1V1072h-1V1074.2h-1V1075.1h-1V1076h-1V1077.7h-1V1078.2h-1V1078.6h-1V1077.7h-1V1077.3h-1V1077.7h-1V1079.7h-1V1080.2h-1V1081.3h-1V1081.7h-1V1080.9h-1V1082.3h-1V1082.7h-1V1081.7h-1V1082.1h-1V1081.9h-1V1083.4h-1V1083.8h-1V1084.2h-1V1086.1h-1V1086.5h-1V1085h-1V1085.4h-1V1085.8h-1V1085.8h-1V1086.3h-1V1086.7h-1V1088.4h-1V1087.3h-1V1087.8h-1V1088.4h-1V1089.3h-1V1091.4h-1V1091.9h-1V1092.5h-1V1092.5h-1V1093.1h-1V1093.7h-1V1095.5h-1V1096.1h-1V1096.7h-1V1095.7h-1V1096.3h-1V1098h-1V1098.6h-1V1099.2h-1V1098h-1V1099.2h-1V1099.7h-1V1101.8h-1V1102h-1V1101.6h-1V1099.8h-1V1099.9h-1V1100h-1V1099.9h-1V1100h-1V1099.8h-1V1099.8h-1V1100.8h-1V1102.2h-1V1099.8h-1V1099.9h-1V1102.9h-1V1101.8h-1V1101h-1V1101.1h-1V1101.2h-1V1103.2h-1V1103.2h-1V1101.9h-1V1102.3h-1V1102.3h-1V1102.2h-1V1102.8h-1V1102.7h-1V1102.8h-1V1104.5h-1V1103.2h-1V1103h-1V1103h-1V1103.1h-1V1103.3h-1V1101.2h-1V1101.2h-1V1100.2h-1V1099.7h-1V1099.6h-1V1102.2h-1V1101.7h-1V1101.7h-1V1101.6h-1V1101.8h-1V1100.7h-1V1100.6h-1V1100.6h-1V1099.3h-1V1099.7h-1V1098.8h-1V1098.7h-1V1098.7h-1V1100.5h-1V1100.6h-1V1100.5h-1V1100.4h-1V1099.4h-1V1098.8h-1V1098.7h-1V1098.7h-1V1098.1h-1V1099.5h-1V1099.4h-1V1098.9h-1V1098.2h-1V1098.2h-1V1098.1h-1V1099.9h-1V1099.8h-1V1098.8h-1V1098.8h-1V1098.7h-1V1099.4h-1V1099.4h-1V1099.3h-1V1097.9h-1V1097.4h-1V1097.4h-1V1098.5h-1V1098.5h-1V1098.5h-1V1097.9h-1V1098.4h-1V1098.4h-1V1108.9h-1V1108.9h-1V1107.4h-1V1106.2h-1V1108.3h-1V1108h-1V1106.2h-1V1106.2h-1V1106.4h-1V1097.7h-1V1098.8h-1V1098.9h-1V1099.6h-1V1099.7h-1V1099.8h-1V1098.5h-1V1098.6h-1V1098.8h-1V1100.2h-1V1100.8h-1V1099.4h-1V1099.9h-1V1102.4h-1V1106.5h-1V1107.3h-1V1107.8h-1V1108.2h-1V1108.8h-1V1108.3h-1V1108.8h-1V1109h-1V1108.9h-1V1106.7h-1V1107.9h-1V1107.1h-1V1107.1h-1V1106.9h-1V1112.9h-1V1113.2h-1V1113.5h-1V1113.4h-1V1112.5h-1V1112.8h-1V1112.6h-1V1112.8h-1V1112.5h-1V1110.3h-1V1109.6h-1V1102.8h-1V1104.7h-1V1104.1h-1V1103.6h-1V1103.9h-1V1101.5h-1V1100.9h-1V1100.2h-1V1100.1h-1V1099h-1V1097.9h-1V1094.4h-1V1094.1h-1V1092.7h-1V1092.6h-1V1092.1h-1V1090.9h-1V1088.7h-1V1088h-1V1087.6h-1V1086.3h-1V1086.3h-1V1086.5h-1V1088.2h-1V1089.4h-1V1087.6h-1V1088.2h-1V1090.6h-1V1091.2h-1V1091.9h-1V1093h-1V1093.6h-1V1093h-1V1093.4h-1V1094h-1V1093.4h-1V1094h-1V1094.6h-1V1095h-1V1095.7h-1V1096.1h-1V1097.8h-1V1098.1h-1V1097.9h-1V1099.6h-1V1099.9h-1V1100.2h-1V1101.5h-1V1103.3h-1V1102.2h-1V1103.2h-1V1103.3h-1V1105h-1V1105.2h-1V1105.3h-1V1105.5h-1V1100.7h-1V1101h-1V1101.2h-1V1102.1h-1V1102.3h-1V1102.7h-1V1101.7h-1V1102h-1V1102.2h-1V1105.3h-1V1104h-1V1104.2h-1V1103.7h-1V1104.7h-1V1104.8h-1V1104.9h-1V1104.5h-1V1105.2h-1V1105.4h-1V1105.5h-1V1105.6h-1V1105.7h-1V1110.6h-1V1110.2h-1V1110h-1V1108.7h-1V1108.8h-1V1109.8h-1V1109.6h-1V1110.5h-1V1110.6h-1V1110.7h-1V1110.8h-1V1105.8h-1V1105.9h-1V1106.1h-1V1106.1h-1V1106.2h-1V1106.2h-1V1106.3h-1V1106.3h-1V1104.8h-1V1104.8h-1V1105.7h-1V1106.9h-1V1106.8h-1V1106.6h-1V1107.1h-1V1107.1h-1V1106.2h-1V1106.9h-1V1106.8h-1V1106.4h-1V1106.2h-1V1106.3h-1V1103.7h-1V1103.7h-1V1103.5h-1V1105.9h-1V1105.8h-1V1106.5h-1V1105.4h-1V1105.2h-1V1105.7h-1V1106.1h-1V1106.1h-1V1106.6h-1V1104.6h-1V1102.5h-1V1102.4h-1V1102.3h-1V1103.8h-1V1103.1h-1V1103h-1V1103h-1V1101.5h-1V1101.4h-1V1102.7h-1V1102.6h-1V1104h-1V1101.5h-1V1101.4h-1V1101.5h-1V1102.2h-1V1102.7h-1V1102.6h-1V1102.3h-1V1101.8h-1V1101.8h-1V1101.2h-1V1102.1h-1V1102.1h-1V1102h-1V1105.8h-1V1105.7h-1V1105.7h-1V1104.8h-1V1105.9h-1V1104.5h-1V1105.7h-1V1105.7h-1V1106.1h-1V1100h-1V1100.1h-1V1100.1h-1V1100.8h-1V1100.8h-1V1100.9h-1V1101.4h-1V1101.5h-1V1101.6h-1V1101.6h-1V1101.7h-1V1101.7h-1V1103.3h-1V1103.4h-1V1103h-1V1103.6h-1V1103.7h-1V1103.8h-1V1102.9h-1V1103h-1V1103h-1V1103.2h-1V1103.2h-1V1103.8h-1V1103.9h-1V1102.2h-1V1103.1h-1V1102.5h-1V1102.6h-1V1102.7h-1V1104.6h-1V1104.7h-1V1104.9h-1V1105h-1V1105.1h-1V1104.8h-1V1104.9h-1V1105h-1V1104.4h-1V1104.5h-1V1103.4h-1V1103.5h-1V1105.5h-1V1104.1h-1V1104.6h-1V1104.7h-1V1104.7h-1V1103.8h-1V1103.9h-1V1103.7h-1V1103.7h-1V1103.7h-1V1104.7h-1V1104.7h-1V1103.6h-1V1103.6h-1V1103.6h-1V1106.4h-1V1106.4h-1V1106.4h-1V1105.1h-1V1105.1h-1V1104.2h-1V1104.2h-1V1104.3h-1V1104.3h-1V1104.3h-1V1103.7h-1V1105.5h-1V1105.5h-1V1105.5h-1V1106.4h-1V1106.1h-1V1105.1h-1V1105.1h-1V1105.1h-1V1105.5h-1V1105.5h-1V1104.7h-1V1105.6h-1V1105.7h-1V1105.7h-1V1104h-1V1104h-1V1104.6h-1V1104.6h-1V1104.6h-1V1105.6h-1V1105.6h-1V1105.6h-1V1105.2h-1V1105.2h-1V1106.1h-1V1106.1h-1V1105.3h-1V1105.3h-1V1104.8h-1V1105.8h-1V1105.8h-1V1105.8h-1V1104.8h-1V1104.8h-1V1104.8h-1V1106h-1V1106h-1V1104.8h-1V1106.1h-1V1106.1h-1V1106.1h-1V1103.9h-1V1105.3h-1V1104.3h-1V1104.3h-1V1104.3h-1V1105.2h-1V1105.2h-1V1104.6h-1V1104.6h-1V1104.1h-1V1104.1h-1V1106.7h-1V1106.7h-1V1106.7h-1V1106.7h-1V1106.7h-1V1106.7h-1V1106.6h-1V1106.6h-1V1106.6h-1V1104.4h-1V1106.5h-1V1105.6h-1V1106.2h-1V1106.3h-1V1106.3h-1V1105h-1V1106.4h-1V1106.4h-1V1106.1h-1V1107.2h-1V1106.8h-1V1105.8h-1V1105.8h-1V1107h-1V1107.1h-1V1106.7h-1V1106.7h-1V1106.8h-1V1106.1h-1V1107.5h-1V1107.5h-1V1107.5h-1V1107.1h-1V1106.3h-1V1106.4h-1V1106.4h-1V1105.4h-1V1105.5h-1V1105.3h-1V1105.4h-1V1107.6h-1V1107.7h-1V1107.7h-1V1105.5h-1V1105.5h-1V1106.3h-1V1106.2h-1V1106.2h-1V1105.1h-1V1105h-1V1104.9h-1V1105.1h-1V1105.7h-1V1105.5h-1V1106.1h-1V1104.7h-1V1104.7h-1V1105h-1V1105.7h-1V1105h-1V1103.4h-1V1103.2h-1V1103.1h-1V1102.9h-1V1103.4h-1V1102h-1V1101.9h-1V1101.9h-1V1101.9h-1V1101.9h-1V1102h-1V1102h-1V1102.1h-1V1102.2h-1V1102.2h-1V1102.3h-1V1102.4h-1V1102.5h-1V1102.6h-1V1102.6h-1V1102.7h-1V1102.8h-1V1102.9h-1V1103h-1V1103.1h-1V1103.1h-1V1103.2h-1V1103.3h-1V1103.4h-1V1103.5h-1V1103.5h-1V1103.6h-1V1103.7h-1V1103.8h-1V1103.9h-1V1104h-1V1104h-1V1104.1h-1V1104.2h-1V1104.3h-1V1104.4h-1V1104.5h-1V1104.5h-1V1104.6h-1V1104.7h-1V1104.8h-1V1104.9h-1V1104.9h-1V1105h-1V1105.1h-1V1105.2h-1V1105.3h-1V1105.4h-1V1105.4h-1V1105.5h-1V1105.6h-1V1105.7h-1V1105.8h-1V1105.8h-1V1105.9h-1V1106h-1V1106.1h-1V1106.2h-1V1106.2h-1V1106.3h-1V1106.4h-1V1106.4h-1V1108.7h-1V1107.4h-1V1107.4h-1V1108.1h-1V1108.1h-1V1108.2h-1V1108.2h-1V1109.2h-1V1109.2h-1V1109.2h-1V1107.1h-1V1107.2h-1V1107.5h-1V1107.9h-1V1107.9h-1V1108h-1V1108.5h-1V1108.5h-1V1109.5h-1V1109.5h-1V1109.5h-1V1108.3h-1V1108.4h-1V1108.4h-1V1109.1h-1V1109.1h-1V1109.1h-1V1110h-1V1110h-1V1109.6h-1V1109.6h-1V1108.2h-1V1108.1h-1V1108.1h-1V1108h-1V1107.9h-1V1107.8h-1V1107.8h-1V1107.7h-1V1109.4h-1V1109.4h-1V1109.3h-1V1109.4h-1V1108.3h-1V1108.2h-1V1107.1h-1V1108.2h-1V1108.1h-1V1108h-1V1107.1h-1V1107.4h-1V1107.9h-1V1108.8h-1V1108.7h-1V1107.1h-1V1107h-1V1108h-1V1108h-1V1107.9h-1V1106.8h-1V1108.2h-1V1108.1h-1V1107.2h-1V1107.5h-1V1106.1h-1V1106.5h-1V1106.5h-1V1106.4h-1V1107.5h-1V1107h-1V1106.9h-1V1106.8h-1V1105.9h-1V1107.6h-1V1107.6h-1V1107.2h-1V1106.2h-1V1106.2h-1V1107.4h-1V1107.3h-1V1107.2h-1V1104.9h-1V1105.8h-1V1105.8h-1V1104.6h-1V1105.6h-1V1105.5h-1V1105.7h-1V1105.1h-1V1106h-1V1106h-1V1105.9h-1V1103.7h-1V1105.5h-1V1105.4h-1V1103.9h-1V1103.8h-1V1103.7h-1V1103.8h-1V1104.3h-1V1104.3h-1V1104.6h-1V1104.5h-1V1104.5h-1V1105.1h-1V1104.4h-1V1103.8h-1V1103.7h-1V1103.7h-1V1103.8h-1V1103.7h-1V1103.7h-1V1103.3h-1V1103.3h-1V1103.2h-1V1104.3h-1V1104.3h-1V1104.4h-1V1104.3h-1V1104.4h-1V1103.1h-1V1102.9h-1V1102.4h-1V1102.3h-1V1102.7h-1V1104.6h-1V1104.5h-1V1104.5h-1V1104.5h-1V1104.4h-1V1104.4h-1V1103.9h-1V1104h-1V1103.6h-1V1103.6h-1V1103.6h-1V1103.5h-1V1102.8h-1V1102.8h-1V1102.8h-1V1102.9h-1V1102.9h-1V1102.9h-1V1103.9h-1V1102.2h-1V1102.2h-1V1101.7h-1V1101.7h-1V1102.4h-1V1102.4h-1V1102.4h-1V1103.6h-1V1102.6h-1V1102.6h-1V1102.6h-1V1102.3h-1V1102.3h-1V1102.3h-1V1103.1h-1V1103.1h-1V1103.1h-1V1103.1h-1V1104h-1V1104.3h-1V1104.3h-1V1104.3h-1V1102.5h-1V1102.5h-1V1102.1h-1V1102.1h-1V1102.1h-1V1104.3h-1V1103h-1V1103h-1V1102.5h-1V1101.9h-1V1103.8h-1V1103h-1V1103h-1V1101.6h-1V1101.6h-1V1101.6h-1V1101.5h-1V1102.3h-1V1102.3h-1V1102.3h-1V1102.3h-1V1104.4h-1V1103h-1V1102.8h-1V1104.2h-1V1104.2h-1V1103.8h-1V1101.6h-1V1101.6h-1V1102.8h-1V1104h-1V1104h-1V1104h-1V1103h-1V1104.1h-1V1103.7h-1V1103.8h-1V1102.7h-1V1102.7h-1V1102.8h-1V1102.5h-1V1102.6h-1V1102.7h-1V1104.7h-1V1104.8h-1V1103.9h-1V1104h-1V1104.1h-1V1103.2h-1V1103.3h-1V1103.5h-1V1104.6h-1V1104.7h-1V1105.5h-1V1105.7h-1V1104.2h-1V1104.4h-1V1104.5h-1V1105.7h-1V1105.7h-1V1105.9h-1V1105.5h-1V1105.9h-1V1106h-1V1107.9h-1V1108.2h-1V1106.8h-1V1106.9h-1V1106.7h-1V1106.3h-1V1106.4h-1V1108.6h-1V1107.3h-1V1107.4h-1V1108.5h-1V1108.7h-1V1108.8h-1V1108.6h-1V1108.7h-1V1108.9h-1V1109.7h-1V1109.8h-1V1109.3h-1V1108.3h-1V1108.6h-1V1108.7h-1V1110.1h-1V1110.2h-1V1111h-1V1110.3h-1V1110.3h-1V1110h-1V1110.6h-1V1110.5h-1V1110.3h-1V1110.7h-1V1109.9h-1V1108h-1V1107.6h-1V1107.2h-1V1106.5h-1V1106h-1V1105.7h-1V1105.3h-1V1104.8h-1V1106.7h-1V1106.2h-1V1105.8h-1V1104.2h-1V1104.1h-1V1103.7h-1V1103.3h-1V1102.4h-1V1102.1h-1V1101.8h-1V1100.3h-1V1100.1h-1V1099.9h-1V1099.8h-1V1099.7h-1V1099.6h-1V1101.2h-1V1101.1h-1V1100.8h-1V1100.7h-1V1100.2h-1V1100.4h-1V1100h-1V1099.6h-1V1099.5h-1V1099.4h-1V1099.6h-1V1099.5h-1V1099.4h-1V1100.3h-1V1100.2h-1V1100.1h-1V1098.8h-1V1098.7h-1V1098.6h-1V1098h-1V1097.1h-1V1098.3h-1V1097h-1V1096.9h-1V1096.8h-1V1097.8h-1V1097.7h-1V1097.6h-1V1098.4h-1V1096.9h-1V1096.8h-1V1098.1h-1V1098h-1V1096.6h-1V1096.5h-1V1097h-1V1096.9h-1V1096.6h-1V1096.2h-1V1095.9h-1V1094.8h-1V1096.2h-1V1095.2h-1V1095.1h-1V1095h-1V1097.1h-1V1097h-1V1094.4h-1V1094.3h-1V1094.1h-1V1094h-1V1095.8h-1V1094.4h-1V1094.9h-1V1094.8h-1V1095.5h-1V1096h-1V1095.9h-1V1095.9h-1V1095.9h-1V1095.8h-1V1095.7h-1V1093.7h-1V1093.6h-1V1093.7h-1V1093.7h-1V1094h-1V1094.8h-1V1093.1h-1V1092.9h-1V1092.8h-1V1092.7h-1V1092.5h-1V1092.4h-1V1092.4h-1V1093.9h-1V1092.4h-1V1092.3h-1V1092.2h-1V1092.1h-1V1092h-1V1092.4h-1V1092.3h-1V1092.2h-1V1092.5h-1V1092.5h-1V1092.4h-1V1093h-1V1092.9h-1V1092.9h-1V1092.8h-1V1092.7h-1V1092.9h-1V1092.8h-1V1092.7h-1V1091.7h-1V1091.6h-1V1092.1h-1V1092h-1V1092.8h-1V1092.8h-1V1091.4h-1V1091.3h-1V1090.1h-1V1090.1h-1V1090.4h-1V1090.3h-1V1092h-1V1091.9h-1V1091.8h-1V1089.8h-1V1089.7h-1V1089.5h-1V1089.4h-1V1091.7h-1V1091.6h-1V1090.4h-1V1091.6h-1V1090.1h-1V1090h-1V1089.9h-1V1090.9h-1V1090.5h-1V1090.4h-1V1089.1h-1V1089h-1V1090h-1V1089.9h-1V1088.2h-1V1088.1h-1V1088.1h-1V1089.5h-1V1089.4h-1V1089.4h-1V1087.7h-1V1087.5h-1V1090h-1V1090h-1V1087.9h-1V1087.8h-1V1087.8h-1V1088.1h-1V1088.1h-1V1088h-1V1089.1h-1V1089h-1V1089h-1V1089.2h-1V1087.2h-1V1087.1h-1V1088.7h-1V1087.5h-1V1087.9h-1V1087.8h-1V1088.4h-1V1088.3h-1V1086.7h-1V1086.6h-1V1086.6h-1V1087h-1V1086.9h-1V1087h-1V1087h-1V1086.9h-1V1086.5h-1V1087.9h-1V1087.9h-1V1087.8h-1V1086.7h-1V1088.4h-1V1088.4h-1V1087.3h-1V1087.3h-1V1087.6h-1V1086.5h-1V1086.4h-1V1086.3h-1V1087.8h-1V1087.7h-1V1085.9h-1V1085.9h-1V1085.8h-1V1085.8h-1V1084.9h-1V1084.8h-1V1084.8h-1V1087.2h-1V1087.1h-1V1087.1h-1V1087h-1V1085.2h-1V1084.7h-1V1084.6h-1V1085.9h-1V1085.2h-1V1085.2h-1V1084.3h-1V1084.2h-1V1084.2h-1V1084.7h-1V1084.7h-1V1084.6h-1V1086.6h-1V1085h-1V1084.8h-1V1084.8h-1V1086.6h-1V1086.6h-1V1086.7h-1V1086.3h-1V1084.7h-1V1084.8h-1V1084.9h-1V1085.4h-1V1086.3h-1V1086.1h-1V1086.2h-1V1086.3h-1V1084.9h-1V1085h-1V1087.5h-1V1087.6h-1V1087.9h-1V1088h-1V1088.1h-1V1087.5h-1V1087.6h-1V1087.7h-1V1085.9h-1V1085.9h-1V1086h-1V1087.5h-1V1087.6h-1V1088.7h-1V1088.8h-1V1088.9h-1V1087.5h-1V1087.6h-1V1086.9h-1V1087h-1V1087h-1V1088.2h-1V1088.3h-1V1089.3h-1V1089.3h-1V1089.4h-1V1088.6h-1V1088.7h-1V1090.2h-1V1087.7h-1V1090h-1V1089.1h-1V1089.3h-1V1091h-1V1091.3h-1V1091.5h-1V1091.8h-1V1091.4h-1V1091h-1V1089.1h-1V1089.2h-1V1089.6h-1V1089.6h-1V1089.7h-1V1090.1h-1V1090.1h-1V1090.1h-1V1090.5h-1V1090.8h-1V1091.2h-1V1090.1h-1V1090.6h-1V1092.3h-1V1099h-1V1099.2h-1V1097.2h-1V1097.4h-1V1098.6h-1V1098.6h-1V1098.8h-1V1099.2h-1V1100.7h-1V1100.9h-1V1098.9h-1V1092.4h-1V1094.6h-1V1094.8h-1V1095h-1V1093.8h-1V1094h-1V1094.1h-1V1094.3h-1V1098h-1V1097.9h-1V1098.1h-1V1097.3h-1V1096.1h-1V1098.3h-1V1098.7h-1V1098.7h-1V1098.1h-1V1095.9h-1V1097.2h-1V1096.1h-1V1096.3h-1V1097.7h-1V1097.8h-1V1098.5h-1V1098.5h-1V1099.1h-1V1099.1h-1V1098h-1V1098.1h-1V1109.3h-1V1107.9h-1V1108h-1V1108.2h-1V1109.1h-1V1110.7h-1V1110.7h-1V1110.6h-1V1110.7h-1V1109.2h-1V1109.4h-1V1099.8h-1V1098.9h-1V1101.9h-1V1102h-1V1101.9h-1V1100.5h-1V1102.2h-1V1100.7h-1V1101.3h-1V1100.8h-1V1100.9h-1V1097.9h-1V1097.9h-1V1096.2h-1V1096.9h-1V1096.8h-1V1096.9h-1V1098.3h-1V1098.3h-1V1097h-1V1099h-1V1099h-1V1099h-1V1099h-1V1097h-1V1096.3h-1V1097.7h-1V1097.7h-1V1104.4h-1V1104.3h-1V1104.3h-1V1106h-1V1106.7h-1V1106.7h-1V1106.8h-1V1105.1h-1V1105.3h-1V1097.4h-1V1097.5h-1V1099.1h-1V1107.8h-1V1108.1h-1V1108.1h-1V1106.8h-1V1106.8h-1V1106.8h-1V1107.5h-1V1107.5h-1V1105.6h-1V1096.9h-1V1096.2h-1V1097.1h-1V1097.2h-1V1098.6h-1V1098.7h-1V1100.2h-1V1100.3h-1V1099.4h-1V1098.7h-1V1097.8h-1V1098.7h-1V1098.9h-1V1099h-1V1097.8h-1V1097.7h-1V1097.8h-1V1098.6h-1V1098.7h-1V1100.3h-1V1100.4h-1V1100.5h-1V1100.3h-1V1105h-1V1103.5h-1V1103.6h-1V1102.6h-1V1102.7h-1V1103h-1V1104.9h-1V1105h-1V1105h-1V1101.7h-1V1101h-1V1103.4h-1V1103.4h-1V1100.6h-1V1114.5h-1V1114.4h-1V1114.5h-1V1115h-1V1114.4h-1V1114.5h-1V1115h-1V1115h-1V1117h-1V1116.9h-1V1117h-1V1103h-1V1102.4h-1V1103.1h-1V1103.2h-1V1101.2h-1V1101h-1V1101h-1V1103.2h-1V1103.3h-1V1103.4h-1V1102.7h-1V1102.5h-1V1102.6h-1V1101.4h-1V1101.3h-1V1103.9h-1V1109.2h-1V1109.1h-1V1109.1h-1V1109.1h-1V1109.2h-1V1109.3h-1V1109.4h-1V1109.6h-1V1108.6h-1V1103.1h-1V1103.3h-1V1103.9h-1V1103.9h-1V1103h-1V1103h-1V1103.1h-1V1104.1h-1V1104.5h-1V1104.6h-1V1105.1h-1V1104.7h-1V1104.8h-1V1104.6h-1V1103h-1V1103h-1V1102.9h-1V1102.7h-1V1103.8h-1V1102.3h-1V1101.4h-1V1102.6h-1V1103.6h-1V1103.5h-1V1103.5h-1V1101.9h-1V1103.5h-1V1102.3h-1V1102.3h-1V1103.3h-1V1103.4h-1V1103.4h-1V1101.3h-1V1101.4h-1V1101.4h-1V1103.1h-1V1103.1h-1V1104.1h-1V1104.1h-1V1104.1h-1V1103.1h-1Z" fill="#000"/>
<g fill="#000">
<rect x="177.5" y="1084.9" width="37" height="32"/>
<rect x="270.4" y="1075.7" width="37" height="32"/>
<rect x="363.3" y="1072.9" width="37" height="32"/>
<rect x="456.2" y="1068.1" width="37" height="32"/>
<rect x="549.1" y="1073.8" width="37" height="32"/>
<rect x="642" y="1081.8" width="37" height="32"/>
<rect x="734.9" y="1081.1" width="37" height="32"/>
<rect x="827.8" y="1082" width="37" height="32"/>
<rect x="920.7" y="1086.5" width="37" height="32"/>
<rect x="1013.6" y="1084.2" width="37" height="32"/>
<rect x="1106.5" y="1083" width="37" height="32"/>
<rect x="1199.4" y="1080.1" width="37" height="32"/>
<rect x="1292.3" y="1077.1" width="37" height="32"/>
<rect x="1385.2" y="1076.2" width="37" height="32"/>
<rect x="1478.1" y="1076.2" width="37" height="32"/>
<rect x="1571" y="859.7" width="37" height="32"/>
<rect x="1663.9" y="1077.7" width="37" height="32"/>
<rect x="1756.8" y="1080.9" width="37" height="32"/>
<rect x="1849.7" y="1074.2" width="37" height="32"/>
</g>
</g>
<line x1="325.5" y1="107.5" x2="325.5" y2="1144" stroke="#000" stroke-width="10" stroke-dasharray="29.5 38.13"/>
<line x1="734" y1="106.5" x2="719.5" y2="1144" stroke="#000" stroke-width="10" stroke-dasharray="29.5 38.13"/>
<line x1="1601.2" y1="172.5" x2="1603.5" y2="1144" stroke="#000" stroke-width="10" stroke-dasharray="29.5 38.13"/>
<line x1="1713.1" y1="175.5" x2="1714.5" y2="1144" stroke="#000" stroke-width="10" stroke-dasharray="29.5 38.13"/>
<path d="M182,1169V54.5H1869V1169" fill="none" stroke="#000" stroke-width="10"/>
<line x1="177" y1="1148" x2="1874" y2="1148" stroke="#000" stroke-width="8" />
<line x1="302.5" y1="1150" x2="302.5" y2="1159" stroke="#000" stroke-width="10" />
<g transform="translate(111.10,1232.00) scale(1.1670,1)" fill="#000" font-family="'Liberation Serif','Times New Roman',serif" font-weight="bold">
<text x="0.00" y="0.00" font-size="61.5" xml:space="preserve">4000</text>
</g>
<line x1="423" y1="1150" x2="423" y2="1169" stroke="#000" stroke-width="10" />
<line x1="543.5" y1="1150" x2="543.5" y2="1159" stroke="#000" stroke-width="10" />
<g transform="translate(351.23,1232.00) scale(1.1670,1)" fill="#000" font-family="'Liberation Serif','Times New Roman',serif" font-weight="bold">
<text x="0.00" y="0.00" font-size="61.5" xml:space="preserve">3500</text>
</g>
<line x1="664" y1="1150" x2="664" y2="1169" stroke="#000" stroke-width="10" />
<line x1="784.5" y1="1150" x2="784.5" y2="1159" stroke="#000" stroke-width="10" />
<g transform="translate(592.23,1232.00) scale(1.1670,1)" fill="#000" font-family="'Liberation Serif','Times New Roman',serif" font-weight="bold">
<text x="0.00" y="0.00" font-size="61.5" xml:space="preserve">3000</text>
</g>
<line x1="905" y1="1150" x2="905" y2="1169" stroke="#000" stroke-width="10" />
<line x1="1025.5" y1="1150" x2="1025.5" y2="1159" stroke="#000" stroke-width="10" />
<g transform="translate(833.08,1232.00) scale(1.1670,1)" fill="#000" font-family="'Liberation Serif','Times New Roman',serif" font-weight="bold">
<text x="0.00" y="0.00" font-size="61.5" xml:space="preserve">2500</text>
</g>
<line x1="1146" y1="1150" x2="1146" y2="1169" stroke="#000" stroke-width="10" />
<line x1="1266.5" y1="1150" x2="1266.5" y2="1159" stroke="#000" stroke-width="10" />
<g transform="translate(1074.08,1232.00) scale(1.1670,1)" fill="#000" font-family="'Liberation Serif','Times New Roman',serif" font-weight="bold">
<text x="0.00" y="0.00" font-size="61.5" xml:space="preserve">2000</text>
</g>
<line x1="1387" y1="1150" x2="1387" y2="1169" stroke="#000" stroke-width="10" />
<line x1="1507.5" y1="1150" x2="1507.5" y2="1159" stroke="#000" stroke-width="10" />
<g transform="translate(1313.77,1232.00) scale(1.1670,1)" fill="#000" font-family="'Liberation Serif','Times New Roman',serif" font-weight="bold">
<text x="0.00" y="0.00" font-size="61.5" xml:space="preserve">1500</text>
</g>
<line x1="1628" y1="1150" x2="1628" y2="1169" stroke="#000" stroke-width="10" />
<line x1="1748.5" y1="1150" x2="1748.5" y2="1159" stroke="#000" stroke-width="10" />
<g transform="translate(1554.77,1232.00) scale(1.1670,1)" fill="#000" font-family="'Liberation Serif','Times New Roman',serif" font-weight="bold">
<text x="0.00" y="0.00" font-size="61.5" xml:space="preserve">1000</text>
</g>
<g transform="translate(1815.10,1232.00) scale(1.1670,1)" fill="#000" font-family="'Liberation Serif','Times New Roman',serif" font-weight="bold">
<text x="0.00" y="0.00" font-size="61.5" xml:space="preserve">500</text>
</g>
<g transform="translate(193.83,134.50) scale(1.2363,1)" fill="#000" font-family="'Liberation Serif','Times New Roman',serif" font-weight="bold">
<text x="0.00" y="0.00" font-size="78" xml:space="preserve">(a)</text>
</g>
<g transform="translate(469.03,118.30) scale(1.2514,1)" fill="#000" font-family="'Liberation Serif','Times New Roman',serif" font-weight="bold">
<text x="0.00" y="0.00" font-size="48" xml:space="preserve">O-H</text>
</g>
<g transform="translate(1660.86,149.00) scale(1.1954,1)" fill="#000" font-family="'Liberation Serif','Times New Roman',serif" font-weight="bold">
<text x="0.00" y="0.00" font-size="50" xml:space="preserve">Si-O-Si</text>
</g>
<g transform="translate(948.35,260.00) scale(1.2414,1)" fill="#000" font-family="'Liberation Serif','Times New Roman',serif" font-weight="bold">
<text x="0.00" y="0.00" font-size="61" xml:space="preserve">120</text>
<text x="91.50" y="-35.00" font-size="38" xml:space="preserve">o</text>
<text x="110.50" y="0.00" font-size="61" xml:space="preserve">C</text>
</g>
<g transform="translate(948.35,386.80) scale(1.2414,1)" fill="#000" font-family="'Liberation Serif','Times New Roman',serif" font-weight="bold">
<text x="0.00" y="0.00" font-size="61" xml:space="preserve">100</text>
<text x="91.50" y="-35.00" font-size="38" xml:space="preserve">o</text>
<text x="110.50" y="0.00" font-size="61" xml:space="preserve">C</text>
</g>
<g transform="translate(981.99,509.30) scale(1.2399,1)" fill="#000" font-family="'Liberation Serif','Times New Roman',serif" font-weight="bold">
<text x="0.00" y="0.00" font-size="61" xml:space="preserve">90</text>
<text x="61.00" y="-35.00" font-size="38" xml:space="preserve">o</text>
<text x="80.00" y="0.00" font-size="61" xml:space="preserve">C</text>
</g>
<g transform="translate(972.12,652.00) scale(1.2388,1)" fill="#000" font-family="'Liberation Serif','Times New Roman',serif" font-weight="bold">
<text x="0.00" y="0.00" font-size="61" xml:space="preserve">80</text>
<text x="61.00" y="-35.00" font-size="38" xml:space="preserve">o</text>
<text x="80.00" y="0.00" font-size="61" xml:space="preserve">C</text>
</g>
<g transform="translate(973.15,782.60) scale(1.2419,1)" fill="#000" font-family="'Liberation Serif','Times New Roman',serif" font-weight="bold">
<text x="0.00" y="0.00" font-size="61" xml:space="preserve">70</text>
<text x="61.00" y="-35.00" font-size="38" xml:space="preserve">o</text>
<text x="80.00" y="0.00" font-size="61" xml:space="preserve">C</text>
</g>
<g transform="translate(973.26,921.70) scale(1.2409,1)" fill="#000" font-family="'Liberation Serif','Times New Roman',serif" font-weight="bold">
<text x="0.00" y="0.00" font-size="61" xml:space="preserve">60</text>
<text x="61.00" y="-35.00" font-size="38" xml:space="preserve">o</text>
<text x="80.00" y="0.00" font-size="61" xml:space="preserve">C</text>
</g>
<g transform="translate(789.35,1055.00) scale(1.3485,1)" fill="#000" font-family="'Liberation Serif','Times New Roman',serif" font-weight="bold">
<text x="0.00" y="0.00" font-size="55.5" xml:space="preserve">Room temperature</text>
</g>
<g transform="translate(627.60,1325.00) scale(1.1240,1)" fill="#000" font-family="'Liberation Serif','Times New Roman',serif" font-weight="bold">
<text x="0.00" y="0.00" font-size="85" xml:space="preserve">Wavenumber (cm</text>
<text x="647.67" y="-48.00" font-size="51" xml:space="preserve">-1</text>
<text x="690.16" y="0.00" font-size="85" xml:space="preserve">)</text>
</g>
<g transform="translate(142.00,1021.45) rotate(-90) scale(1.0001,1.1900)" fill="#000" font-family="'Liberation Serif','Times New Roman',serif" font-weight="bold">
<text x="0.00" y="0.00" font-size="80.7" xml:space="preserve">Absorbance (arb. unit)</text>
</g>
<line x1="405.4" y1="99.7" x2="357" y2="101.9" stroke="#000" stroke-width="7" />
<path d="M323,103.4L358.6,93.3L359.3,110.3Z" fill="#000"/>
<line x1="603" y1="94.7" x2="669" y2="94.7" stroke="#000" stroke-width="7.5" />
<path d="M703,94.7L667,103.7L667,85.7Z" fill="#000"/>
<line x1="1596.5" y1="65" x2="1607" y2="65" stroke="#000" stroke-width="4" />
<line x1="1616.6" y1="76.3" x2="1631.5" y2="82.4" stroke="#000" stroke-width="4" />
<line x1="1646.4" y1="85.5" x2="1661.3" y2="91.5" stroke="#000" stroke-width="4" />
<path d="M1705.5,103.5L1671,100.5L1677.5,87Z" fill="#000"/>
<line x1="1718.6" y1="254" x2="1745.7" y2="192.6" stroke="#000" stroke-width="4" stroke-dasharray="14 14"/>
<path d="M1757,167L1751.3,197.3L1738.5,191.6Z" fill="#000"/>
<line x1="151.8" y1="1978.5" x2="1899.5" y2="1978.5" stroke="#000" stroke-width="8.3" />
<line x1="151.8" y1="2570" x2="1899.5" y2="2570" stroke="#000" stroke-width="8.3" />
<path d="M151.8,3181V1387.5H1899.7V3181" fill="none" stroke="#000" stroke-width="8.6"/>
<line x1="147.5" y1="3160.6" x2="1904" y2="3160.6" stroke="#000" stroke-width="8.4" />
<clipPath id="cb0"><rect x="151.8" y="1387.5" width="1747.8" height="591.0"/></clipPath>
<g clip-path="url(#cb0)">
<path d="M151.8,1942.6 154.8,1942.7 157.8,1942.7 160.8,1941.8 163.8,1940.1 166.8,1938.1 169.8,1936.2 172.8,1934.9 175.8,1934.4 178.8,1934.6 181.8,1935.2 184.8,1936.2 187.8,1937.4 190.8,1938.7 193.8,1940.3 196.8,1942.2 199.8,1944.3 202.8,1946.6 205.8,1949 208.8,1951.3 211.8,1953.6 214.8,1956.2 217.8,1958.9 220.8,1961.7 223.8,1964.3 226.8,1966.6 229.8,1968.4 232.8,1969.7 235.8,1970.6 238.8,1971.2 241.8,1971.2 244.8,1970.2 247.8,1968 250.8,1965.4 253.8,1963.4 256.8,1962.6 259.8,1963.1 262.8,1964.3 265.8,1965.7 268.8,1966.7 271.8,1966.8 274.8,1966.1 277.8,1965 280.8,1963.8 283.8,1962.7 286.8,1961.9 289.8,1961.2 292.8,1960.5 295.8,1959.9 298.8,1959.4 301.8,1959 304.8,1958.7 307.8,1958.3 310.8,1958 313.8,1957.8 316.8,1957.8 319.8,1958 322.8,1958.5 325.8,1959.5 328.8,1961.1 331.8,1962.9 334.8,1964.7 337.8,1966.2 340.8,1967 343.8,1966.9 346.8,1966.2 349.8,1965.3 352.8,1964.7 355.8,1964.8 358.8,1965.8 361.8,1967.4 364.8,1969.1 367.8,1970.7 370.8,1971.8 373.8,1972.8 376.8,1973.7 379.8,1974.3 382.8,1974.8 385.8,1975 388.8,1975 391.8,1974.5 394.8,1973.5 397.8,1972.3 400.8,1971.1 403.8,1970 406.8,1969.2 409.8,1968.9 412.8,1969.3 415.8,1970.1 418.8,1970.9 421.8,1971.4 424.8,1971 427.8,1969.6 430.8,1967.6 433.8,1965.3 436.8,1963 439.8,1960.8 442.8,1958.3 445.8,1956.2 448.8,1954.8 451.8,1954.9 454.8,1956.2 457.8,1958.2 460.8,1960.4 463.8,1962.2 466.8,1963.2 469.8,1963.7 472.8,1963.9 475.8,1963.9 478.8,1963.7 481.8,1963.4 484.8,1963 487.8,1962.4 490.8,1961.4 493.8,1960.2 496.8,1959 499.8,1957.9 502.8,1957.1 505.8,1956.8 508.8,1957.1 511.8,1957.9 514.8,1958.7 517.8,1958.8 520.8,1958.2 523.8,1957.1 526.8,1955.6 529.8,1953.7 532.8,1951.5 535.8,1948.9 538.8,1946.1 541.8,1942.8 544.8,1939 547.8,1935.1 550.8,1931 553.8,1927.1 556.8,1923.5 559.8,1920.1 562.8,1916.7 565.8,1913.2 568.8,1909.7 571.8,1905.9 574.8,1901.9 577.8,1897.4 580.8,1892.6 583.8,1887.6 586.8,1882.5 589.8,1877.6 592.8,1872.8 595.8,1868.5 598.8,1865.2 601.8,1862.1 604.8,1857.9 607.8,1851.5 610.8,1842.4 613.8,1831.7 616.8,1820.8 619.8,1810.9 622.8,1801.4 625.8,1792.5 628.8,1785.3 631.8,1780.1 634.8,1775.8 637.8,1771.4 640.8,1765.7 643.8,1759.1 646.8,1752.1 649.8,1744.9 652.8,1738 655.8,1731.7 658.8,1726.4 661.8,1721.9 664.8,1717.5 667.8,1712.4 670.8,1706.1 673.8,1697.9 676.8,1688 679.8,1677.4 682.8,1667.3 685.8,1658.5 688.8,1650.9 691.8,1644 694.8,1637.5 697.8,1631 700.8,1624.6 703.8,1618.4 706.8,1612.6 709.8,1607.4 712.8,1603.4 715.8,1600.4 718.8,1597.5 721.8,1594.1 724.8,1589.2 727.8,1582.5 730.8,1574.4 733.8,1565.8 736.8,1557.5 739.8,1550.1 742.8,1542.8 745.8,1535.8 748.8,1529.2 751.8,1523 754.8,1517.3 757.8,1512.1 760.8,1507.4 763.8,1503.1 766.8,1499 769.8,1495.2 772.8,1491.9 775.8,1489.3 778.8,1486.8 781.8,1484.1 784.8,1480.7 787.8,1475.8 790.8,1469.8 793.8,1465.1 796.8,1463.3 799.8,1463.5 802.8,1465.4 805.8,1470.5 808.8,1475.7 811.8,1476.7 814.8,1473.5 817.8,1468.5 820.8,1464.3 823.8,1460.8 826.8,1457.4 829.8,1455 832.8,1454.6 835.8,1455.9 838.8,1457.8 841.8,1458.8 844.8,1457.8 847.8,1455 850.8,1451.4 853.8,1447.9 856.8,1445.3 859.8,1444.5 862.8,1444.7 865.8,1445.9 868.8,1448.6 871.8,1453.1 874.8,1458.4 877.8,1463.2 880.8,1466.8 883.8,1469.7 886.8,1472.2 889.8,1474.2 892.8,1475.6 895.8,1476 898.8,1475.9 901.8,1475.7 904.8,1476 907.8,1477.2 910.8,1479.4 913.8,1482.2 916.8,1485.4 919.8,1488.9 922.8,1492.3 925.8,1495.2 928.8,1497.7 931.8,1501.5 934.8,1508.7 937.8,1520.1 940.8,1532.9 943.8,1543.9 946.8,1552.1 949.8,1558.7 952.8,1564.4 955.8,1569.9 958.8,1574.7 961.8,1578.8 964.8,1582.9 967.8,1587.8 970.8,1594 973.8,1601.1 976.8,1608.5 979.8,1615.7 982.8,1622.9 985.8,1630.2 988.8,1637.4 991.8,1643.9 994.8,1649.4 997.8,1654.1 1000.8,1658.3 1003.8,1662.3 1006.8,1666.5 1009.8,1671.3 1012.8,1676.3 1015.8,1681.4 1018.8,1686.4 1021.8,1691.2 1024.8,1695.6 1027.8,1699.8 1030.8,1704.1 1033.8,1708.6 1036.8,1713.6 1039.8,1719.4 1042.8,1725.6 1045.8,1731.8 1048.8,1737.7 1051.8,1743.1 1054.8,1748.4 1057.8,1753.3 1060.8,1757.7 1063.8,1761.6 1066.8,1765.1 1069.8,1768.1 1072.8,1770.8 1075.8,1773.2 1078.8,1775.2 1081.8,1776.5 1084.8,1777.6 1087.8,1779.1 1090.8,1781.6 1093.8,1784.6 1096.8,1788.2 1099.8,1792.1 1102.8,1796.5 1105.8,1802.1 1108.8,1807.9 1111.8,1812.7 1114.8,1815.3 1117.8,1815.4 1120.8,1814.3 1123.8,1813.8 1126.8,1815.6 1129.8,1819.9 1132.8,1825.7 1135.8,1832.1 1138.8,1838.1 1141.8,1842.8 1144.8,1846 1147.8,1848.4 1150.8,1850.3 1153.8,1852.1 1156.8,1854.2 1159.8,1856.9 1162.8,1860.3 1165.8,1863.5 1168.8,1865.9 1171.8,1866.8 1174.8,1865.8 1177.8,1863.5 1180.8,1861.1 1183.8,1859.3 1186.8,1859.2 1189.8,1860.5 1192.8,1862.7 1195.8,1865.3 1198.8,1867.7 1201.8,1869.5 1204.8,1871 1207.8,1872.3 1210.8,1873.4 1213.8,1874.1 1216.8,1874.4 1219.8,1873.2 1222.8,1870.9 1225.8,1868.7 1228.8,1867.7 1231.8,1869.1 1234.8,1873.8 1237.8,1880.6 1240.8,1887.2 1243.8,1892.1 1246.8,1895.8 1249.8,1898.5 1252.8,1900.6 1255.8,1902.2 1258.8,1903.5 1261.8,1904.7 1264.8,1906 1267.8,1907.2 1270.8,1908.1 1273.8,1908.7 1276.8,1908.9 1279.8,1908.7 1282.8,1907.8 1285.8,1905.9 1288.8,1902.9 1291.8,1899.5 1294.8,1896.6 1297.8,1895 1300.8,1895.3 1303.8,1897.4 1306.8,1900.3 1309.8,1903.1 1312.8,1904.9 1315.8,1904.9 1318.8,1903.4 1321.8,1901.4 1324.8,1900 1327.8,1900.3 1330.8,1902.5 1333.8,1905.9 1336.8,1909.9 1339.8,1913.7 1342.8,1916.7 1345.8,1918.4 1348.8,1919.1 1351.8,1919.1 1354.8,1918.8 1357.8,1918.3 1360.8,1917.7 1363.8,1916.8 1366.8,1915.6 1369.8,1914.3 1372.8,1913.2 1375.8,1912.8 1378.8,1912.9 1381.8,1913.6 1384.8,1914.7 1387.8,1915.8 1390.8,1916.9 1393.8,1917.6 1396.8,1917.9 1399.8,1917.9 1402.8,1917.7 1405.8,1917.3 1408.8,1916.8 1411.8,1916.2 1414.8,1915.6 1417.8,1915 1420.8,1914.2 1423.8,1913.2 1426.8,1912.2 1429.8,1911.3 1432.8,1910.6 1435.8,1910.2 1438.8,1910.3 1441.8,1910.8 1444.8,1911.6 1447.8,1912.6 1450.8,1913.6 1453.8,1914.5 1456.8,1915.2 1459.8,1915.8 1462.8,1916.1 1465.8,1916.5 1468.8,1916.7 1471.8,1917 1474.8,1917.4 1477.8,1917.9 1480.8,1918.5 1483.8,1919.1 1486.8,1919.7 1489.8,1920.4 1492.8,1921.2 1495.8,1922.2 1498.8,1923.2 1501.8,1924.5 1504.8,1926 1507.8,1927.6 1510.8,1929.2 1513.8,1930.9 1516.8,1932.4 1519.8,1933.7 1522.8,1935.2 1525.8,1936.6 1528.8,1938 1531.8,1939.2 1534.8,1940.2 1537.8,1940.8 1540.8,1941 1543.8,1940.6 1546.8,1940 1549.8,1939 1552.8,1938 1555.8,1936.9 1558.8,1936 1561.8,1935.3 1564.8,1934.3 1567.8,1933.2 1570.8,1932 1573.8,1931 1576.8,1930.3 1579.8,1929.9 1582.8,1930.1 1585.8,1930.9 1588.8,1932.5 1591.8,1934.6 1594.8,1937 1597.8,1939.2 1600.8,1941 1603.8,1942.3 1606.8,1943.2 1609.8,1944 1612.8,1944.6 1615.8,1945.1 1618.8,1945.6 1621.8,1946.2 1624.8,1946.8 1627.8,1947.4 1630.8,1947.9 1633.8,1948.4 1636.8,1948.9 1639.8,1949.3 1642.8,1949.8 1645.8,1950.2 1648.8,1950.7 1651.8,1951.2 1654.8,1951.7 1657.8,1952.2 1660.8,1952.7 1663.8,1953.3 1666.8,1953.8 1669.8,1954.3 1672.8,1954.8 1675.8,1955.3 1678.8,1955.8 1681.8,1956.2 1684.8,1956.5 1687.8,1956.7 1690.8,1956.8 1693.8,1956.8 1696.8,1956.9 1699.8,1957.1 1702.8,1957.5 1705.8,1958.1 1708.8,1959.1 1711.8,1960.6 1714.8,1962.5 1717.8,1964.6 1720.8,1966.7 1723.8,1968.6 1726.8,1970 1729.8,1970.9 1732.8,1971.2 1735.8,1971 1738.8,1970.5 1741.8,1969.7 1744.8,1968.9 1747.8,1968 1750.8,1967.2 1753.8,1966.6 1756.8,1966.3 1759.8,1966 1762.8,1965.9 1765.8,1965.7 1768.8,1965.6 1771.8,1965.5 1774.8,1965.3 1777.8,1965 1780.8,1964.7 1783.8,1964.2 1786.8,1963.6 1789.8,1962.8 1792.8,1961.9 1795.8,1960.9 1798.8,1959.8 1801.8,1958.8 1804.8,1957.8 1807.8,1957 1810.8,1956.3 1813.8,1955.7 1816.8,1955.2 1819.8,1954.8 1822.8,1954.4 1825.8,1954.1 1828.8,1953.9 1831.8,1953.8 1834.8,1953.7 1837.8,1953.8 1840.8,1954 1843.8,1954.4 1846.8,1954.8 1849.8,1955.3 1852.8,1955.8 1855.8,1956.2 1858.8,1956.6 1861.8,1957.2 1864.8,1957.9 1867.8,1958.6 1870.8,1959 1873.8,1959.2 1876.8,1958.9 1879.8,1958.1 1882.8,1956.5 1885.8,1954.5 1888.8,1952.5 1891.8,1950.6 1894.8,1949.2 1897.8,1948.6" fill="none" stroke="#000" stroke-width="8.5" stroke-linejoin="round" stroke-linecap="round"/>
<g fill="#ff0000">
<path d="M150,1947.3 364.5,1946.6 369.5,1946.5 374.5,1946.3 379.5,1946.2 384.5,1946 389.5,1945.9 394.5,1945.7 399.5,1945.5 404.5,1945.2 409.5,1945 414.5,1944.7 419.5,1944.3 424.5,1944 429.5,1943.6 434.5,1943.1 439.5,1942.6 444.5,1942 449.5,1941.4 454.5,1940.8 459.5,1940 464.5,1939.2 469.5,1938.3 474.5,1937.3 479.5,1936.2 484.5,1935 489.5,1933.8 494.5,1932.4 499.5,1930.8 504.5,1929.2 509.5,1927.4 514.5,1925.5 519.5,1923.4 524.5,1921.1 529.5,1918.7 534.5,1916.1 539.5,1913.3 544.5,1910.3 549.5,1907 554.5,1903.6 559.5,1899.9 564.5,1896 569.5,1891.9 574.5,1887.5 579.5,1882.8 584.5,1877.9 589.5,1872.7 594.5,1867.2 599.5,1861.4 604.5,1855.4 609.5,1849 614.5,1842.4 619.5,1835.5 624.5,1828.2 629.5,1820.7 634.5,1812.9 639.5,1804.8 644.5,1796.4 649.5,1787.7 654.5,1778.8 659.5,1769.6 664.5,1760.1 669.5,1750.5 674.5,1740.6 679.5,1730.5 684.5,1720.3 689.5,1709.9 694.5,1699.3 699.5,1688.6 704.5,1677.9 709.5,1667.1 714.5,1656.2 719.5,1645.4 724.5,1634.5 729.5,1623.7 734.5,1613.1 739.5,1602.5 744.5,1592.1 749.5,1581.8 754.5,1571.8 759.5,1562.1 764.5,1552.6 769.5,1543.4 774.5,1534.7 779.5,1526.2 784.5,1518.3 789.5,1510.7 794.5,1503.7 799.5,1497.1 804.5,1491.1 809.5,1485.6 814.5,1480.7 819.5,1476.4 824.5,1472.7 829.5,1469.6 834.5,1467.2 839.5,1465.4 844.5,1464.3 849.5,1463.8 854.5,1464 859.5,1464.9 864.5,1466.4 869.5,1468.6 874.5,1471.4 879.5,1474.8 884.5,1478.9 889.5,1483.6 894.5,1488.8 899.5,1494.6 904.5,1501 909.5,1507.8 914.5,1515.2 919.5,1523 924.5,1531.2 929.5,1539.9 934.5,1548.9 939.5,1558.2 944.5,1567.9 949.5,1577.8 954.5,1587.9 959.5,1598.3 964.5,1608.8 969.5,1619.5 974.5,1630.2 979.5,1641 984.5,1651.9 989.5,1662.7 994.5,1673.6 999.5,1684.3 1004.5,1695.1 1009.5,1705.7 1014.5,1716.1 1019.5,1726.4 1024.5,1736.6 1029.5,1746.6 1034.5,1756.3 1039.5,1765.8 1044.5,1775.1 1049.5,1784.2 1054.5,1792.9 1059.5,1801.4 1064.5,1809.7 1069.5,1817.6 1074.5,1825.2 1079.5,1832.6 1084.5,1839.7 1089.5,1846.4 1094.5,1852.9 1099.5,1859.1 1104.5,1864.9 1109.5,1870.5 1114.5,1875.9 1119.5,1880.9 1124.5,1885.7 1129.5,1890.2 1134.5,1894.4 1139.5,1898.4 1144.5,1902.2 1149.5,1905.7 1154.5,1909 1159.5,1912.1 1164.5,1915 1169.5,1917.7 1174.5,1920.2 1179.5,1922.5 1184.5,1924.6 1189.5,1926.6 1194.5,1928.5 1199.5,1930.2 1204.5,1931.8 1209.5,1933.2 1214.5,1934.5 1219.5,1935.8 1224.5,1936.9 1229.5,1937.9 1234.5,1938.8 1239.5,1939.7 1244.5,1940.5 1249.5,1941.2 1254.5,1941.8 1259.5,1942.4 1264.5,1942.9 1269.5,1943.4 1274.5,1943.8 1279.5,1944.2 1284.5,1944.5 1289.5,1944.9 1294.5,1945.1 1299.5,1945.4 1304.5,1945.6 1309.5,1945.8 1314.5,1946 1319.5,1946.1 1324.5,1946.3 1329.5,1946.4 1334.5,1946.5 1903,1947.3" fill="none" stroke="#ff0000" stroke-width="6.5" stroke-linejoin="round" />
<rect x="142.7" y="1936" width="22.6" height="22.6"/>
<rect x="184.8" y="1936" width="22.6" height="22.6"/>
<rect x="227" y="1936" width="22.6" height="22.6"/>
<rect x="269.1" y="1935.9" width="22.6" height="22.6"/>
<rect x="311.2" y="1935.8" width="22.6" height="22.6"/>
<rect x="353.3" y="1935.3" width="22.6" height="22.6"/>
<rect x="395.5" y="1933.8" width="22.6" height="22.6"/>
<rect x="437.6" y="1930.2" width="22.6" height="22.6"/>
<rect x="479.7" y="1922" width="22.6" height="22.6"/>
<rect x="521.9" y="1905.5" width="22.6" height="22.6"/>
<rect x="564" y="1875.5" width="22.6" height="22.6"/>
<rect x="606.1" y="1827.1" width="22.6" height="22.6"/>
<rect x="648.3" y="1758.2" width="22.6" height="22.6"/>
<rect x="690.4" y="1672.6" width="22.6" height="22.6"/>
<rect x="732.5" y="1582.2" width="22.6" height="22.6"/>
<rect x="774.7" y="1504.7" width="22.6" height="22.6"/>
<rect x="816.8" y="1459.1" width="22.6" height="22.6"/>
<rect x="858.9" y="1457.6" width="22.6" height="22.6"/>
<rect x="901" y="1500.7" width="22.6" height="22.6"/>
<rect x="943.2" y="1576.6" width="22.6" height="22.6"/>
<rect x="985.3" y="1666.8" width="22.6" height="22.6"/>
<rect x="1027.4" y="1753.1" width="22.6" height="22.6"/>
<rect x="1069.6" y="1823.2" width="22.6" height="22.6"/>
<rect x="1111.7" y="1872.9" width="22.6" height="22.6"/>
<rect x="1153.8" y="1904" width="22.6" height="22.6"/>
<rect x="1196" y="1921.3" width="22.6" height="22.6"/>
<rect x="1238.1" y="1929.9" width="22.6" height="22.6"/>
<rect x="1280.2" y="1933.7" width="22.6" height="22.6"/>
<rect x="1322.3" y="1935.2" width="22.6" height="22.6"/>
<rect x="1364.5" y="1935.8" width="22.6" height="22.6"/>
<rect x="1406.6" y="1935.9" width="22.6" height="22.6"/>
<rect x="1448.7" y="1936" width="22.6" height="22.6"/>
<rect x="1490.9" y="1936" width="22.6" height="22.6"/>
<rect x="1533" y="1936" width="22.6" height="22.6"/>
<rect x="1575.1" y="1936" width="22.6" height="22.6"/>
<rect x="1617.3" y="1936" width="22.6" height="22.6"/>
<rect x="1659.4" y="1936" width="22.6" height="22.6"/>
<rect x="1701.5" y="1936" width="22.6" height="22.6"/>
<rect x="1743.6" y="1936" width="22.6" height="22.6"/>
<rect x="1785.8" y="1936" width="22.6" height="22.6"/>
<rect x="1827.9" y="1936" width="22.6" height="22.6"/>
<rect x="1870" y="1936" width="22.6" height="22.6"/>
</g>
<g fill="#0000ff">
<path d="M150,1946.3 795.6,1946.1 800.6,1946.1 805.6,1946 810.6,1946 815.6,1945.9 820.6,1945.8 825.6,1945.7 830.6,1945.5 835.6,1945.4 840.6,1945.2 845.6,1944.9 850.6,1944.7 855.6,1944.3 860.6,1943.9 865.6,1943.5 870.6,1943 875.6,1942.4 880.6,1941.7 885.6,1940.9 890.6,1940 895.6,1939 900.6,1937.8 905.6,1936.5 910.6,1935.1 915.6,1933.5 920.6,1931.7 925.6,1929.7 930.6,1927.6 935.6,1925.2 940.6,1922.7 945.6,1920 950.6,1917 955.6,1913.9 960.6,1910.6 965.6,1907.1 970.6,1903.4 975.6,1899.6 980.6,1895.6 985.6,1891.5 990.6,1887.4 995.6,1883.1 1000.6,1878.9 1005.6,1874.6 1010.6,1870.4 1015.6,1866.2 1020.6,1862.2 1025.6,1858.3 1030.6,1854.6 1035.6,1851.1 1040.6,1847.9 1045.6,1845 1050.6,1842.4 1055.6,1840.2 1060.6,1838.4 1065.6,1837 1070.6,1836 1075.6,1835.4 1080.6,1835.3 1085.6,1835.7 1090.6,1836.4 1095.6,1837.7 1100.6,1839.3 1105.6,1841.3 1110.6,1843.7 1115.6,1846.5 1120.6,1849.6 1125.6,1852.9 1130.6,1856.5 1135.6,1860.3 1140.6,1864.3 1145.6,1868.4 1150.6,1872.6 1155.6,1876.9 1160.6,1881.1 1165.6,1885.4 1170.6,1889.6 1175.6,1893.7 1180.6,1897.7 1185.6,1901.6 1190.6,1905.4 1195.6,1909 1200.6,1912.4 1205.6,1915.6 1210.6,1918.6 1215.6,1921.4 1220.6,1924.1 1225.6,1926.5 1230.6,1928.7 1235.6,1930.8 1240.6,1932.6 1245.6,1934.3 1250.6,1935.9 1255.6,1937.2 1260.6,1938.4 1265.6,1939.5 1270.6,1940.5 1275.6,1941.3 1280.6,1942.1 1285.6,1942.7 1290.6,1943.3 1295.6,1943.7 1300.6,1944.2 1305.6,1944.5 1310.6,1944.8 1315.6,1945.1 1320.6,1945.3 1325.6,1945.5 1330.6,1945.6 1335.6,1945.7 1340.6,1945.8 1345.6,1945.9 1350.6,1946 1355.6,1946.1 1360.6,1946.1 1903,1946.3" fill="none" stroke="#0000ff" stroke-width="7" stroke-linejoin="round" />
<circle cx="154" cy="1946.3" r="12.6"/>
<circle cx="196.1" cy="1946.3" r="12.6"/>
<circle cx="238.3" cy="1946.3" r="12.6"/>
<circle cx="280.4" cy="1946.3" r="12.6"/>
<circle cx="322.5" cy="1946.3" r="12.6"/>
<circle cx="364.6" cy="1946.3" r="12.6"/>
<circle cx="406.8" cy="1946.3" r="12.6"/>
<circle cx="448.9" cy="1946.3" r="12.6"/>
<circle cx="491" cy="1946.3" r="12.6"/>
<circle cx="533.2" cy="1946.3" r="12.6"/>
<circle cx="575.3" cy="1946.3" r="12.6"/>
<circle cx="617.4" cy="1946.3" r="12.6"/>
<circle cx="659.6" cy="1946.3" r="12.6"/>
<circle cx="701.7" cy="1946.3" r="12.6"/>
<circle cx="743.8" cy="1946.3" r="12.6"/>
<circle cx="786" cy="1946.2" r="12.6"/>
<circle cx="828.1" cy="1945.6" r="12.6"/>
<circle cx="870.2" cy="1943" r="12.6"/>
<circle cx="912.3" cy="1934.5" r="12.6"/>
<circle cx="954.5" cy="1914.6" r="12.6"/>
<circle cx="996.6" cy="1882.3" r="12.6"/>
<circle cx="1038.7" cy="1849.1" r="12.6"/>
<circle cx="1080.9" cy="1835.3" r="12.6"/>
<circle cx="1123" cy="1851.1" r="12.6"/>
<circle cx="1165.1" cy="1885" r="12.6"/>
<circle cx="1207.2" cy="1916.6" r="12.6"/>
<circle cx="1249.4" cy="1935.5" r="12.6"/>
<circle cx="1291.5" cy="1943.3" r="12.6"/>
<circle cx="1333.6" cy="1945.7" r="12.6"/>
<circle cx="1375.8" cy="1946.2" r="12.6"/>
<circle cx="1417.9" cy="1946.3" r="12.6"/>
<circle cx="1460" cy="1946.3" r="12.6"/>
<circle cx="1502.2" cy="1946.3" r="12.6"/>
<circle cx="1544.3" cy="1946.3" r="12.6"/>
<circle cx="1586.4" cy="1946.3" r="12.6"/>
<circle cx="1628.6" cy="1946.3" r="12.6"/>
<circle cx="1670.7" cy="1946.3" r="12.6"/>
<circle cx="1712.8" cy="1946.3" r="12.6"/>
<circle cx="1754.9" cy="1946.3" r="12.6"/>
<circle cx="1797.1" cy="1946.3" r="12.6"/>
<circle cx="1839.2" cy="1946.3" r="12.6"/>
<circle cx="1881.3" cy="1946.3" r="12.6"/>
</g>
<g fill="#008000">
<path d="M150,1946.3 1008.7,1946.2 1013.7,1946.2 1018.7,1946.2 1023.7,1946.1 1028.7,1946 1033.7,1946 1038.7,1945.9 1043.7,1945.7 1048.7,1945.6 1053.7,1945.4 1058.7,1945.1 1063.7,1944.9 1068.7,1944.5 1073.7,1944.1 1078.7,1943.6 1083.7,1942.9 1088.7,1942.2 1093.7,1941.4 1098.7,1940.5 1103.7,1939.4 1108.7,1938.1 1113.7,1936.7 1118.7,1935.2 1123.7,1933.4 1128.7,1931.6 1133.7,1929.5 1138.7,1927.3 1143.7,1925 1148.7,1922.5 1153.7,1920 1158.7,1917.4 1163.7,1914.7 1168.7,1912 1173.7,1909.4 1178.7,1906.8 1183.7,1904.3 1188.7,1902 1193.7,1899.9 1198.7,1898 1203.7,1896.4 1208.7,1895.2 1213.7,1894.2 1218.7,1893.6 1223.7,1893.3 1228.7,1893.4 1233.7,1893.9 1238.7,1894.7 1243.7,1895.9 1248.7,1897.4 1253.7,1899.1 1258.7,1901.2 1263.7,1903.4 1268.7,1905.8 1273.7,1908.3 1278.7,1911 1283.7,1913.6 1288.7,1916.3 1293.7,1918.9 1298.7,1921.5 1303.7,1924 1308.7,1926.4 1313.7,1928.7 1318.7,1930.8 1323.7,1932.7 1328.7,1934.5 1333.7,1936.1 1338.7,1937.6 1343.7,1938.9 1348.7,1940 1353.7,1941 1358.7,1941.9 1363.7,1942.7 1368.7,1943.3 1373.7,1943.9 1378.7,1944.3 1383.7,1944.7 1388.7,1945 1393.7,1945.3 1398.7,1945.5 1403.7,1945.7 1408.7,1945.8 1413.7,1945.9 1418.7,1946 1423.7,1946.1 1428.7,1946.1 1433.7,1946.2 1438.7,1946.2 1903,1946.3" fill="none" stroke="#008000" stroke-width="6.5" stroke-linejoin="round" />
<path d="M131.1,1955.1L161.5,1955.1L146.3,1928.8Z"/>
<path d="M173.2,1955.1L203.6,1955.1L188.4,1928.8Z"/>
<path d="M215.4,1955.1L245.8,1955.1L230.6,1928.8Z"/>
<path d="M257.5,1955.1L287.9,1955.1L272.7,1928.8Z"/>
<path d="M299.6,1955.1L330,1955.1L314.8,1928.8Z"/>
<path d="M341.8,1955.1L372.2,1955.1L357,1928.8Z"/>
<path d="M383.9,1955.1L414.3,1955.1L399.1,1928.8Z"/>
<path d="M426,1955.1L456.4,1955.1L441.2,1928.8Z"/>
<path d="M468.1,1955.1L498.5,1955.1L483.3,1928.8Z"/>
<path d="M510.3,1955.1L540.7,1955.1L525.5,1928.8Z"/>
<path d="M552.4,1955.1L582.8,1955.1L567.6,1928.8Z"/>
<path d="M594.5,1955.1L624.9,1955.1L609.7,1928.8Z"/>
<path d="M636.7,1955.1L667.1,1955.1L651.9,1928.8Z"/>
<path d="M678.8,1955.1L709.2,1955.1L694,1928.8Z"/>
<path d="M720.9,1955.1L751.3,1955.1L736.1,1928.8Z"/>
<path d="M763,1955.1L793.5,1955.1L778.2,1928.8Z"/>
<path d="M805.2,1955.1L835.6,1955.1L820.4,1928.8Z"/>
<path d="M847.3,1955.1L877.7,1955.1L862.5,1928.8Z"/>
<path d="M889.4,1955.1L919.8,1955.1L904.6,1928.8Z"/>
<path d="M931.6,1955.1L962,1955.1L946.8,1928.8Z"/>
<path d="M973.7,1955.1L1004.1,1955.1L988.9,1928.8Z"/>
<path d="M1015.8,1954.8L1046.2,1954.8L1031,1928.5Z"/>
<path d="M1058,1952.9L1088.4,1952.9L1073.2,1926.6Z"/>
<path d="M1100.1,1945L1130.5,1945L1115.3,1918.7Z"/>
<path d="M1142.2,1926.8L1172.6,1926.8L1157.4,1900.5Z"/>
<path d="M1184.3,1906.6L1214.8,1906.6L1199.5,1880.3Z"/>
<path d="M1226.5,1904.2L1256.9,1904.2L1241.7,1877.9Z"/>
<path d="M1268.6,1922.5L1299,1922.5L1283.8,1896.2Z"/>
<path d="M1310.7,1942.3L1341.1,1942.3L1325.9,1916Z"/>
<path d="M1352.9,1952L1383.3,1952L1368.1,1925.7Z"/>
<path d="M1395,1954.7L1425.4,1954.7L1410.2,1928.4Z"/>
<path d="M1437.1,1955.1L1467.5,1955.1L1452.3,1928.8Z"/>
<path d="M1479.3,1955.1L1509.7,1955.1L1494.5,1928.8Z"/>
<path d="M1521.4,1955.1L1551.8,1955.1L1536.6,1928.8Z"/>
<path d="M1563.5,1955.1L1593.9,1955.1L1578.7,1928.8Z"/>
<path d="M1605.7,1955.1L1636.1,1955.1L1620.9,1928.8Z"/>
<path d="M1647.8,1955.1L1678.2,1955.1L1663,1928.8Z"/>
<path d="M1689.9,1955.1L1720.3,1955.1L1705.1,1928.8Z"/>
<path d="M1732,1955.1L1762.4,1955.1L1747.2,1928.8Z"/>
<path d="M1774.2,1955.1L1804.6,1955.1L1789.4,1928.8Z"/>
<path d="M1816.3,1955.1L1846.7,1955.1L1831.5,1928.8Z"/>
<path d="M1858.4,1955.1L1888.8,1955.1L1873.6,1928.8Z"/>
</g>
<g fill="#800080">
<path d="M150,1946.3 1246.4,1946.2 1251.4,1946.2 1256.4,1946.2 1261.4,1946.2 1266.4,1946.1 1271.4,1946 1276.4,1946 1281.4,1945.9 1286.4,1945.7 1291.4,1945.6 1296.4,1945.4 1301.4,1945.1 1306.4,1944.8 1311.4,1944.4 1316.4,1944 1321.4,1943.4 1326.4,1942.8 1331.4,1942.1 1336.4,1941.2 1341.4,1940.3 1346.4,1939.2 1351.4,1937.9 1356.4,1936.6 1361.4,1935.1 1366.4,1933.5 1371.4,1931.8 1376.4,1930 1381.4,1928.1 1386.4,1926.1 1391.4,1924.1 1396.4,1922.1 1401.4,1920.1 1406.4,1918.2 1411.4,1916.4 1416.4,1914.7 1421.4,1913.2 1426.4,1912 1431.4,1910.9 1436.4,1910.1 1441.4,1909.6 1446.4,1909.3 1451.4,1909.4 1456.4,1909.7 1461.4,1910.3 1466.4,1911.2 1471.4,1912.4 1476.4,1913.8 1481.4,1915.3 1486.4,1917.1 1491.4,1918.9 1496.4,1920.8 1501.4,1922.8 1506.4,1924.8 1511.4,1926.8 1516.4,1928.8 1521.4,1930.6 1526.4,1932.4 1531.4,1934.1 1536.4,1935.7 1541.4,1937.1 1546.4,1938.4 1551.4,1939.6 1556.4,1940.6 1561.4,1941.5 1566.4,1942.3 1571.4,1943 1576.4,1943.6 1581.4,1944.1 1586.4,1944.6 1591.4,1944.9 1596.4,1945.2 1601.4,1945.4 1606.4,1945.6 1611.4,1945.8 1616.4,1945.9 1621.4,1946 1626.4,1946.1 1631.4,1946.1 1636.4,1946.2 1641.4,1946.2 1646.4,1946.2 1903,1946.3" fill="none" stroke="#800080" stroke-width="6.5" stroke-linejoin="round" />
<path d="M130.3,1936.6L162.3,1936.6L146.3,1966.1Z"/>
<path d="M172.4,1936.6L204.4,1936.6L188.4,1966.1Z"/>
<path d="M214.6,1936.6L246.6,1936.6L230.6,1966.1Z"/>
<path d="M256.7,1936.6L288.7,1936.6L272.7,1966.1Z"/>
<path d="M298.8,1936.6L330.8,1936.6L314.8,1966.1Z"/>
<path d="M341,1936.6L373,1936.6L357,1966.1Z"/>
<path d="M383.1,1936.6L415.1,1936.6L399.1,1966.1Z"/>
<path d="M425.2,1936.6L457.2,1936.6L441.2,1966.1Z"/>
<path d="M467.3,1936.6L499.3,1936.6L483.3,1966.1Z"/>
<path d="M509.5,1936.6L541.5,1936.6L525.5,1966.1Z"/>
<path d="M551.6,1936.6L583.6,1936.6L567.6,1966.1Z"/>
<path d="M593.7,1936.6L625.7,1936.6L609.7,1966.1Z"/>
<path d="M635.9,1936.6L667.9,1936.6L651.9,1966.1Z"/>
<path d="M678,1936.6L710,1936.6L694,1966.1Z"/>
<path d="M720.1,1936.6L752.1,1936.6L736.1,1966.1Z"/>
<path d="M762.2,1936.6L794.2,1936.6L778.2,1966.1Z"/>
<path d="M804.4,1936.6L836.4,1936.6L820.4,1966.1Z"/>
<path d="M846.5,1936.6L878.5,1936.6L862.5,1966.1Z"/>
<path d="M888.6,1936.6L920.6,1936.6L904.6,1966.1Z"/>
<path d="M930.8,1936.6L962.8,1936.6L946.8,1966.1Z"/>
<path d="M972.9,1936.6L1004.9,1936.6L988.9,1966.1Z"/>
<path d="M1015,1936.6L1047,1936.6L1031,1966.1Z"/>
<path d="M1057.2,1936.6L1089.2,1936.6L1073.2,1966.1Z"/>
<path d="M1099.3,1936.6L1131.3,1936.6L1115.3,1966.1Z"/>
<path d="M1141.4,1936.6L1173.4,1936.6L1157.4,1966.1Z"/>
<path d="M1183.5,1936.6L1215.5,1936.6L1199.5,1966.1Z"/>
<path d="M1225.7,1936.6L1257.7,1936.6L1241.7,1966.1Z"/>
<path d="M1267.8,1936.1L1299.8,1936.1L1283.8,1965.6Z"/>
<path d="M1309.9,1933.2L1341.9,1933.2L1325.9,1962.7Z"/>
<path d="M1352.1,1923.2L1384.1,1923.2L1368.1,1952.7Z"/>
<path d="M1394.2,1907.1L1426.2,1907.1L1410.2,1936.6Z"/>
<path d="M1436.3,1899.7L1468.3,1899.7L1452.3,1929.2Z"/>
<path d="M1478.5,1910.4L1510.5,1910.4L1494.5,1939.9Z"/>
<path d="M1520.6,1926L1552.6,1926L1536.6,1955.5Z"/>
<path d="M1562.7,1934.2L1594.7,1934.2L1578.7,1963.7Z"/>
<path d="M1604.9,1936.3L1636.9,1936.3L1620.9,1965.8Z"/>
<path d="M1647,1936.6L1679,1936.6L1663,1966.1Z"/>
<path d="M1689.1,1936.6L1721.1,1936.6L1705.1,1966.1Z"/>
<path d="M1731.2,1936.6L1763.2,1936.6L1747.2,1966.1Z"/>
<path d="M1773.4,1936.6L1805.4,1936.6L1789.4,1966.1Z"/>
<path d="M1815.5,1936.6L1847.5,1936.6L1831.5,1966.1Z"/>
<path d="M1857.6,1936.6L1889.6,1936.6L1873.6,1966.1Z"/>
</g>
</g>
<clipPath id="cb1"><rect x="151.8" y="1978.5" width="1747.8" height="591.5"/></clipPath>
<g clip-path="url(#cb1)">
<path d="M151.8,2548.9 154.8,2549 157.8,2548.4 160.8,2546.7 163.8,2545.1 166.8,2545.1 169.8,2547.3 172.8,2550.5 175.8,2552.8 178.8,2552.7 181.8,2550.8 184.8,2548.2 187.8,2545.8 190.8,2544.8 193.8,2545.5 196.8,2546.9 199.8,2548.3 202.8,2548.9 205.8,2548.2 208.8,2546.9 211.8,2545.5 214.8,2544.9 217.8,2545.2 220.8,2546.2 223.8,2547.5 226.8,2548.9 229.8,2549.9 232.8,2550.4 235.8,2550.6 238.8,2550.6 241.8,2550.5 244.8,2550.3 247.8,2550.1 250.8,2549.7 253.8,2549.2 256.8,2548.5 259.8,2547.9 262.8,2547.4 265.8,2547 268.8,2546.8 271.8,2546.4 274.8,2546.2 277.8,2546.5 280.8,2547.5 283.8,2549.8 286.8,2552.5 289.8,2554.5 292.8,2554.9 295.8,2554 298.8,2552.3 301.8,2550.2 304.8,2548 307.8,2545.1 310.8,2542 313.8,2539.6 316.8,2538.7 319.8,2539.5 322.8,2541.2 325.8,2543.4 328.8,2545.5 331.8,2548.4 334.8,2551.5 337.8,2554 340.8,2555 343.8,2554.3 346.8,2552.5 349.8,2550.3 352.8,2548.6 355.8,2546.7 358.8,2544.7 361.8,2543.2 364.8,2542.9 367.8,2544.1 370.8,2546.2 373.8,2548.5 376.8,2550.3 379.8,2551.3 382.8,2551.9 385.8,2552.4 388.8,2553 391.8,2553.9 394.8,2555.3 397.8,2557.5 400.8,2559.9 403.8,2562 406.8,2563.1 409.8,2562.7 412.8,2560.2 415.8,2556.3 418.8,2552.2 421.8,2548.7 424.8,2546.9 427.8,2547.5 430.8,2549.6 433.8,2551.9 436.8,2553 439.8,2551.9 442.8,2549.4 445.8,2546.7 448.8,2545 451.8,2545.1 454.8,2546.5 457.8,2548.1 460.8,2548.9 463.8,2548.2 466.8,2546.4 469.8,2544.4 472.8,2543 475.8,2542.6 478.8,2542.9 481.8,2543.6 484.8,2544.6 487.8,2545.9 490.8,2547.7 493.8,2549.7 496.8,2551.4 499.8,2552.4 502.8,2553.2 505.8,2553.6 508.8,2553.3 511.8,2552 514.8,2549.8 517.8,2547 520.8,2544 523.8,2541 526.8,2537.4 529.8,2533.6 532.8,2529.9 535.8,2526.6 538.8,2524.2 541.8,2522.9 544.8,2522.4 547.8,2522.1 550.8,2521.8 553.8,2520.9 556.8,2519.3 559.8,2517.4 562.8,2515.2 565.8,2512.8 568.8,2510.1 571.8,2507.3 574.8,2504.5 577.8,2501.6 580.8,2498.1 583.8,2493.8 586.8,2488.1 589.8,2481.2 592.8,2474.2 595.8,2468.3 598.8,2463.3 601.8,2457.6 604.8,2451 607.8,2443.7 610.8,2436.2 613.8,2428.6 616.8,2420.4 619.8,2412.1 622.8,2404.1 625.8,2397 628.8,2390.3 631.8,2384.2 634.8,2378.4 637.8,2372.9 640.8,2367.6 643.8,2362.9 646.8,2358.8 649.8,2354.8 652.8,2350.5 655.8,2345.5 658.8,2339.5 661.8,2333.1 664.8,2326 667.8,2318.2 670.8,2309.4 673.8,2299.2 676.8,2288.6 679.8,2278.5 682.8,2269.5 685.8,2260.9 688.8,2252.8 691.8,2245.5 694.8,2239.2 697.8,2234.2 700.8,2229.6 703.8,2225 706.8,2219.5 709.8,2213.8 712.8,2207.8 715.8,2201.5 718.8,2195 721.8,2188.1 724.8,2181 727.8,2173.8 730.8,2166.9 733.8,2160.5 736.8,2154 739.8,2146.7 742.8,2137.6 745.8,2126.3 748.8,2114.6 751.8,2104.9 754.8,2097.9 757.8,2092.4 760.8,2088.3 763.8,2085.6 766.8,2085 769.8,2085.1 772.8,2084.1 775.8,2080.7 778.8,2075.9 781.8,2070 784.8,2063.6 787.8,2056.5 790.8,2048.4 793.8,2041.2 796.8,2036.6 799.8,2033.9 802.8,2031.8 805.8,2029 808.8,2024.8 811.8,2019.6 814.8,2014.6 817.8,2010.8 820.8,2009.1 823.8,2008.8 826.8,2008.7 829.8,2007.7 832.8,2005.7 835.8,2003.6 838.8,2002.2 841.8,2001.6 844.8,2001.5 847.8,2001.8 850.8,2002.3 853.8,2002.8 856.8,2003.7 859.8,2004.8 862.8,2006.3 865.8,2008.5 868.8,2011.4 871.8,2014.5 874.8,2017.5 877.8,2019.8 880.8,2020.9 883.8,2020.7 886.8,2019.9 889.8,2019.1 892.8,2019.2 895.8,2020.9 898.8,2024.5 901.8,2029 904.8,2033.5 907.8,2037.1 910.8,2039.4 913.8,2040.8 916.8,2042 919.8,2043.6 922.8,2046 925.8,2049.5 928.8,2053.7 931.8,2058.3 934.8,2063.4 937.8,2068.8 940.8,2074.5 943.8,2081.3 946.8,2089.8 949.8,2099.2 952.8,2108.4 955.8,2117.9 958.8,2126.8 961.8,2133.7 964.8,2138.2 967.8,2142.1 970.8,2147.1 973.8,2154.7 976.8,2164 979.8,2174.2 982.8,2184.5 985.8,2195.4 988.8,2206 991.8,2214.9 994.8,2221.8 997.8,2227.6 1000.8,2232.7 1003.8,2237.8 1006.8,2243.2 1009.8,2248.3 1012.8,2253.3 1015.8,2258 1018.8,2262.4 1021.8,2266.8 1024.8,2270.9 1027.8,2274.6 1030.8,2277.7 1033.8,2279.8 1036.8,2280.3 1039.8,2281.9 1042.8,2288.3 1045.8,2298.5 1048.8,2307.4 1051.8,2312.3 1054.8,2314.3 1057.8,2314.8 1060.8,2314.7 1063.8,2315.1 1066.8,2316.7 1069.8,2318.8 1072.8,2320.9 1075.8,2322.9 1078.8,2324.6 1081.8,2325.8 1084.8,2327 1087.8,2328.7 1090.8,2331.1 1093.8,2334.2 1096.8,2337.7 1099.8,2341.7 1102.8,2346 1105.8,2351 1108.8,2356.2 1111.8,2361.4 1114.8,2366 1117.8,2370.3 1120.8,2374.3 1123.8,2378.1 1126.8,2381.6 1129.8,2384.6 1132.8,2387.4 1135.8,2390.3 1138.8,2393.7 1141.8,2397.8 1144.8,2402.1 1147.8,2406.2 1150.8,2409.4 1153.8,2411.5 1156.8,2413 1159.8,2414.8 1162.8,2417.5 1165.8,2421.8 1168.8,2427 1171.8,2431.9 1174.8,2435.6 1177.8,2437.1 1180.8,2436.9 1183.8,2435.7 1186.8,2434.3 1189.8,2433.6 1192.8,2434.2 1195.8,2435.7 1198.8,2437.7 1201.8,2439.7 1204.8,2441 1207.8,2441.3 1210.8,2440.3 1213.8,2438.7 1216.8,2437.1 1219.8,2436.2 1222.8,2436.4 1225.8,2437.6 1228.8,2439.3 1231.8,2441.6 1234.8,2444.2 1237.8,2447.4 1240.8,2451.2 1243.8,2455.1 1246.8,2458.7 1249.8,2461.9 1252.8,2465.1 1255.8,2468.1 1258.8,2470.7 1261.8,2472.9 1264.8,2474.5 1267.8,2475.1 1270.8,2474.8 1273.8,2474 1276.8,2473 1279.8,2472.2 1282.8,2472 1285.8,2472.6 1288.8,2473.5 1291.8,2474.7 1294.8,2476 1297.8,2477 1300.8,2477.6 1303.8,2478 1306.8,2478.4 1309.8,2478.8 1312.8,2479.4 1315.8,2480.5 1318.8,2482.1 1321.8,2483.9 1324.8,2485.6 1327.8,2487 1330.8,2487.7 1333.8,2487.6 1336.8,2487.1 1339.8,2486.3 1342.8,2485.5 1345.8,2484.9 1348.8,2484.8 1351.8,2485.3 1354.8,2486.3 1357.8,2487.5 1360.8,2488.7 1363.8,2489.7 1366.8,2490.2 1369.8,2490.3 1372.8,2490.1 1375.8,2490 1378.8,2489.9 1381.8,2490.2 1384.8,2490.9 1387.8,2491.8 1390.8,2492.6 1393.8,2492.8 1396.8,2492.2 1399.8,2490.5 1402.8,2488.1 1405.8,2485.6 1408.8,2483.4 1411.8,2482.1 1414.8,2481.7 1417.8,2481.9 1420.8,2482.5 1423.8,2483.3 1426.8,2484.2 1429.8,2485 1432.8,2485.6 1435.8,2486.1 1438.8,2486.9 1441.8,2488.2 1444.8,2490.2 1447.8,2493.9 1450.8,2498.5 1453.8,2502.7 1456.8,2505.2 1459.8,2504.8 1462.8,2502 1465.8,2498.5 1468.8,2495.7 1471.8,2494.8 1474.8,2495 1477.8,2495.9 1480.8,2497 1483.8,2497.9 1486.8,2498.9 1489.8,2500.1 1492.8,2501.2 1495.8,2502.2 1498.8,2502.9 1501.8,2503.1 1504.8,2503 1507.8,2502.6 1510.8,2502.3 1513.8,2502.1 1516.8,2502.4 1519.8,2503.1 1522.8,2504.6 1525.8,2506.4 1528.8,2508.2 1531.8,2509.7 1534.8,2510.6 1537.8,2510.6 1540.8,2510 1543.8,2509.4 1546.8,2509.1 1549.8,2509.5 1552.8,2511.2 1555.8,2513.5 1558.8,2516.1 1561.8,2518.3 1564.8,2519.7 1567.8,2519.7 1570.8,2518.6 1573.8,2516.9 1576.8,2515 1579.8,2513.5 1582.8,2512.7 1585.8,2513.2 1588.8,2515 1591.8,2517.7 1594.8,2520.8 1597.8,2523.7 1600.8,2525.9 1603.8,2527.4 1606.8,2528.4 1609.8,2529.2 1612.8,2529.7 1615.8,2530.1 1618.8,2530.6 1621.8,2531.1 1624.8,2531.6 1627.8,2532 1630.8,2532.3 1633.8,2532.6 1636.8,2533 1639.8,2533.3 1642.8,2533.6 1645.8,2534 1648.8,2534.3 1651.8,2534.6 1654.8,2535 1657.8,2535.4 1660.8,2535.8 1663.8,2536.4 1666.8,2537.2 1669.8,2538 1672.8,2538.9 1675.8,2539.8 1678.8,2540.5 1681.8,2541.1 1684.8,2541.3 1687.8,2541.3 1690.8,2541 1693.8,2540.7 1696.8,2540.5 1699.8,2540.6 1702.8,2541.1 1705.8,2542.2 1708.8,2543.7 1711.8,2545.4 1714.8,2547.1 1717.8,2548.6 1720.8,2549.8 1723.8,2550.9 1726.8,2552 1729.8,2552.9 1732.8,2553.6 1735.8,2554 1738.8,2554 1741.8,2553.6 1744.8,2552.7 1747.8,2551.6 1750.8,2550.2 1753.8,2548.8 1756.8,2547.4 1759.8,2546.2 1762.8,2544.9 1765.8,2543.5 1768.8,2542.1 1771.8,2540.8 1774.8,2539.7 1777.8,2538.9 1780.8,2538.6 1783.8,2539 1786.8,2539.7 1789.8,2540.5 1792.8,2541.1 1795.8,2541.1 1798.8,2540.5 1801.8,2539.4 1804.8,2538.2 1807.8,2537 1810.8,2536 1813.8,2535.3 1816.8,2534.6 1819.8,2534 1822.8,2533.6 1825.8,2533.3 1828.8,2533.3 1831.8,2533.6 1834.8,2534.4 1837.8,2535.6 1840.8,2537.1 1843.8,2538.5 1846.8,2539.9 1849.8,2540.8 1852.8,2541.3 1855.8,2541.4 1858.8,2541.3 1861.8,2540.9 1864.8,2540.3 1867.8,2539.7 1870.8,2539 1873.8,2538.1 1876.8,2537 1879.8,2535.6 1882.8,2534.2 1885.8,2532.8 1888.8,2531.7 1891.8,2531 1894.8,2530.9 1897.8,2530.9" fill="none" stroke="#000" stroke-width="8.5" stroke-linejoin="round" stroke-linecap="round"/>
<g fill="#ff0000">
<path d="M150,2530.5 380.8,2529.7 385.8,2529.6 390.8,2529.5 395.8,2529.3 400.8,2529.2 405.8,2529 410.8,2528.8 415.8,2528.5 420.8,2528.3 425.8,2528 430.8,2527.6 435.8,2527.3 440.8,2526.9 445.8,2526.4 450.8,2525.9 455.8,2525.3 460.8,2524.7 465.8,2524 470.8,2523.2 475.8,2522.4 480.8,2521.4 485.8,2520.4 490.8,2519.3 495.8,2518.1 500.8,2516.7 505.8,2515.2 510.8,2513.6 515.8,2511.9 520.8,2510 525.8,2507.9 530.8,2505.7 535.8,2503.3 540.8,2500.7 545.8,2497.9 550.8,2494.9 555.8,2491.6 560.8,2488.2 565.8,2484.5 570.8,2480.5 575.8,2476.3 580.8,2471.8 585.8,2467 590.8,2461.9 595.8,2456.5 600.8,2450.8 605.8,2444.8 610.8,2438.5 615.8,2431.9 620.8,2424.9 625.8,2417.7 630.8,2410 635.8,2402.1 640.8,2393.8 645.8,2385.2 650.8,2376.3 655.8,2367.1 660.8,2357.6 665.8,2347.8 670.8,2337.7 675.8,2327.3 680.8,2316.7 685.8,2305.9 690.8,2294.8 695.8,2283.6 700.8,2272.2 705.8,2260.7 710.8,2249.1 715.8,2237.4 720.8,2225.6 725.8,2213.9 730.8,2202.1 735.8,2190.5 740.8,2178.9 745.8,2167.4 750.8,2156.1 755.8,2145 760.8,2134.2 765.8,2123.6 770.8,2113.4 775.8,2103.5 780.8,2094.1 785.8,2085 790.8,2076.5 795.8,2068.4 800.8,2060.9 805.8,2053.9 810.8,2047.5 815.8,2041.8 820.8,2036.7 825.8,2032.3 830.8,2028.5 835.8,2025.5 840.8,2023.1 845.8,2021.5 850.8,2020.7 855.8,2020.5 860.8,2021.1 865.8,2022.5 870.8,2024.5 875.8,2027.3 880.8,2030.8 885.8,2035 890.8,2039.9 895.8,2045.4 900.8,2051.5 905.8,2058.3 910.8,2065.6 915.8,2073.5 920.8,2081.9 925.8,2090.8 930.8,2100.1 935.8,2109.8 940.8,2119.9 945.8,2130.4 950.8,2141.1 955.8,2152.1 960.8,2163.3 965.8,2174.7 970.8,2186.3 975.8,2197.9 980.8,2209.6 985.8,2221.4 990.8,2233.2 995.8,2244.9 1000.8,2256.5 1005.8,2268.1 1010.8,2279.5 1015.8,2290.8 1020.8,2301.9 1025.8,2312.8 1030.8,2323.5 1035.8,2334 1040.8,2344.2 1045.8,2354.1 1050.8,2363.7 1055.8,2373 1060.8,2382.1 1065.8,2390.8 1070.8,2399.2 1075.8,2407.2 1080.8,2414.9 1085.8,2422.4 1090.8,2429.4 1095.8,2436.2 1100.8,2442.6 1105.8,2448.7 1110.8,2454.5 1115.8,2460 1120.8,2465.2 1125.8,2470.1 1130.8,2474.7 1135.8,2479 1140.8,2483.1 1145.8,2486.9 1150.8,2490.4 1155.8,2493.7 1160.8,2496.8 1165.8,2499.7 1170.8,2502.4 1175.8,2504.9 1180.8,2507.2 1185.8,2509.3 1190.8,2511.2 1195.8,2513 1200.8,2514.7 1205.8,2516.2 1210.8,2517.6 1215.8,2518.9 1220.8,2520 1225.8,2521.1 1230.8,2522.1 1235.8,2522.9 1240.8,2523.7 1245.8,2524.4 1250.8,2525.1 1255.8,2525.7 1260.8,2526.2 1265.8,2526.7 1270.8,2527.1 1275.8,2527.5 1280.8,2527.9 1285.8,2528.2 1290.8,2528.4 1295.8,2528.7 1300.8,2528.9 1305.8,2529.1 1310.8,2529.3 1315.8,2529.4 1320.8,2529.6 1325.8,2529.7 1903,2530.5" fill="none" stroke="#ff0000" stroke-width="6.5" stroke-linejoin="round" />
<rect x="135" y="2519.2" width="22.6" height="22.6"/>
<rect x="177.1" y="2519.2" width="22.6" height="22.6"/>
<rect x="219.3" y="2519.2" width="22.6" height="22.6"/>
<rect x="261.4" y="2519.2" width="22.6" height="22.6"/>
<rect x="303.5" y="2519.1" width="22.6" height="22.6"/>
<rect x="345.7" y="2518.8" width="22.6" height="22.6"/>
<rect x="387.8" y="2517.9" width="22.6" height="22.6"/>
<rect x="429.9" y="2515.5" width="22.6" height="22.6"/>
<rect x="472" y="2509.6" width="22.6" height="22.6"/>
<rect x="514.2" y="2496.8" width="22.6" height="22.6"/>
<rect x="556.3" y="2471.8" width="22.6" height="22.6"/>
<rect x="598.4" y="2428.6" width="22.6" height="22.6"/>
<rect x="640.6" y="2363.1" width="22.6" height="22.6"/>
<rect x="682.7" y="2276.4" width="22.6" height="22.6"/>
<rect x="724.8" y="2178.4" width="22.6" height="22.6"/>
<rect x="767" y="2087.5" width="22.6" height="22.6"/>
<rect x="809.1" y="2025.8" width="22.6" height="22.6"/>
<rect x="851.2" y="2010.2" width="22.6" height="22.6"/>
<rect x="893.3" y="2045.4" width="22.6" height="22.6"/>
<rect x="935.5" y="2121.1" width="22.6" height="22.6"/>
<rect x="977.6" y="2217.4" width="22.6" height="22.6"/>
<rect x="1019.7" y="2312.7" width="22.6" height="22.6"/>
<rect x="1061.9" y="2391.7" width="22.6" height="22.6"/>
<rect x="1104" y="2448.2" width="22.6" height="22.6"/>
<rect x="1146.1" y="2483.5" width="22.6" height="22.6"/>
<rect x="1188.2" y="2503" width="22.6" height="22.6"/>
<rect x="1230.4" y="2512.6" width="22.6" height="22.6"/>
<rect x="1272.5" y="2516.7" width="22.6" height="22.6"/>
<rect x="1314.6" y="2518.4" width="22.6" height="22.6"/>
<rect x="1356.8" y="2519" width="22.6" height="22.6"/>
<rect x="1398.9" y="2519.1" width="22.6" height="22.6"/>
<rect x="1441" y="2519.2" width="22.6" height="22.6"/>
<rect x="1483.2" y="2519.2" width="22.6" height="22.6"/>
<rect x="1525.3" y="2519.2" width="22.6" height="22.6"/>
<rect x="1567.4" y="2519.2" width="22.6" height="22.6"/>
<rect x="1609.6" y="2519.2" width="22.6" height="22.6"/>
<rect x="1651.7" y="2519.2" width="22.6" height="22.6"/>
<rect x="1693.8" y="2519.2" width="22.6" height="22.6"/>
<rect x="1735.9" y="2519.2" width="22.6" height="22.6"/>
<rect x="1778.1" y="2519.2" width="22.6" height="22.6"/>
<rect x="1820.2" y="2519.2" width="22.6" height="22.6"/>
<rect x="1862.3" y="2519.2" width="22.6" height="22.6"/>
</g>
<g fill="#0000ff">
<path d="M150,2529.5 726.3,2529.2 731.3,2529.2 736.3,2529.1 741.3,2529 746.3,2528.9 751.3,2528.8 756.3,2528.7 761.3,2528.5 766.3,2528.3 771.3,2528.1 776.3,2527.8 781.3,2527.5 786.3,2527.1 791.3,2526.7 796.3,2526.2 801.3,2525.6 806.3,2525 811.3,2524.2 816.3,2523.4 821.3,2522.5 826.3,2521.4 831.3,2520.2 836.3,2518.8 841.3,2517.3 846.3,2515.7 851.3,2513.8 856.3,2511.8 861.3,2509.5 866.3,2507.1 871.3,2504.4 876.3,2501.5 881.3,2498.4 886.3,2495 891.3,2491.4 896.3,2487.6 901.3,2483.5 906.3,2479.2 911.3,2474.6 916.3,2469.8 921.3,2464.8 926.3,2459.6 931.3,2454.2 936.3,2448.7 941.3,2443 946.3,2437.3 951.3,2431.5 956.3,2425.6 961.3,2419.7 966.3,2413.9 971.3,2408.2 976.3,2402.6 981.3,2397.1 986.3,2391.9 991.3,2386.9 996.3,2382.2 1001.3,2377.8 1006.3,2373.8 1011.3,2370.2 1016.3,2367 1021.3,2364.3 1026.3,2362.1 1031.3,2360.4 1036.3,2359.2 1041.3,2358.6 1046.3,2358.5 1051.3,2359 1056.3,2360 1061.3,2361.5 1066.3,2363.6 1071.3,2366.2 1076.3,2369.2 1081.3,2372.7 1086.3,2376.6 1091.3,2380.8 1096.3,2385.4 1101.3,2390.4 1106.3,2395.5 1111.3,2400.9 1116.3,2406.5 1121.3,2412.2 1126.3,2418 1131.3,2423.9 1136.3,2429.7 1141.3,2435.6 1146.3,2441.3 1151.3,2447 1156.3,2452.6 1161.3,2458 1166.3,2463.3 1171.3,2468.3 1176.3,2473.2 1181.3,2477.8 1186.3,2482.2 1191.3,2486.4 1196.3,2490.3 1201.3,2494 1206.3,2497.4 1211.3,2500.6 1216.3,2503.6 1221.3,2506.3 1226.3,2508.8 1231.3,2511.1 1236.3,2513.2 1241.3,2515.1 1246.3,2516.9 1251.3,2518.4 1256.3,2519.8 1261.3,2521 1266.3,2522.1 1271.3,2523.1 1276.3,2524 1281.3,2524.8 1286.3,2525.4 1291.3,2526 1296.3,2526.5 1301.3,2527 1306.3,2527.4 1311.3,2527.7 1316.3,2528 1321.3,2528.2 1326.3,2528.4 1331.3,2528.6 1336.3,2528.8 1341.3,2528.9 1346.3,2529 1351.3,2529.1 1356.3,2529.2 1361.3,2529.2 1903,2529.5" fill="none" stroke="#0000ff" stroke-width="7" stroke-linejoin="round" />
<circle cx="146.3" cy="2529.5" r="12.6"/>
<circle cx="188.4" cy="2529.5" r="12.6"/>
<circle cx="230.6" cy="2529.5" r="12.6"/>
<circle cx="272.7" cy="2529.5" r="12.6"/>
<circle cx="314.8" cy="2529.5" r="12.6"/>
<circle cx="357" cy="2529.5" r="12.6"/>
<circle cx="399.1" cy="2529.5" r="12.6"/>
<circle cx="441.2" cy="2529.5" r="12.6"/>
<circle cx="483.3" cy="2529.5" r="12.6"/>
<circle cx="525.5" cy="2529.5" r="12.6"/>
<circle cx="567.6" cy="2529.5" r="12.6"/>
<circle cx="609.7" cy="2529.5" r="12.6"/>
<circle cx="651.9" cy="2529.5" r="12.6"/>
<circle cx="694" cy="2529.4" r="12.6"/>
<circle cx="736.1" cy="2529.1" r="12.6"/>
<circle cx="778.2" cy="2527.7" r="12.6"/>
<circle cx="820.4" cy="2522.6" r="12.6"/>
<circle cx="862.5" cy="2509" r="12.6"/>
<circle cx="904.6" cy="2480.6" r="12.6"/>
<circle cx="946.8" cy="2436.7" r="12.6"/>
<circle cx="988.9" cy="2389.2" r="12.6"/>
<circle cx="1031" cy="2360.5" r="12.6"/>
<circle cx="1073.2" cy="2367.3" r="12.6"/>
<circle cx="1115.3" cy="2405.4" r="12.6"/>
<circle cx="1157.4" cy="2453.9" r="12.6"/>
<circle cx="1199.5" cy="2492.8" r="12.6"/>
<circle cx="1241.7" cy="2515.3" r="12.6"/>
<circle cx="1283.8" cy="2525.1" r="12.6"/>
<circle cx="1325.9" cy="2528.4" r="12.6"/>
<circle cx="1368.1" cy="2529.3" r="12.6"/>
<circle cx="1410.2" cy="2529.5" r="12.6"/>
<circle cx="1452.3" cy="2529.5" r="12.6"/>
<circle cx="1494.5" cy="2529.5" r="12.6"/>
<circle cx="1536.6" cy="2529.5" r="12.6"/>
<circle cx="1578.7" cy="2529.5" r="12.6"/>
<circle cx="1620.9" cy="2529.5" r="12.6"/>
<circle cx="1663" cy="2529.5" r="12.6"/>
<circle cx="1705.1" cy="2529.5" r="12.6"/>
<circle cx="1747.2" cy="2529.5" r="12.6"/>
<circle cx="1789.4" cy="2529.5" r="12.6"/>
<circle cx="1831.5" cy="2529.5" r="12.6"/>
<circle cx="1873.6" cy="2529.5" r="12.6"/>
</g>
<g fill="#008000">
<path d="M150,2529.5 823.9,2529.4 828.9,2529.3 833.9,2529.3 838.9,2529.3 843.9,2529.2 848.9,2529.2 853.9,2529.2 858.9,2529.1 863.9,2529 868.9,2529 873.9,2528.9 878.9,2528.8 883.9,2528.7 888.9,2528.5 893.9,2528.4 898.9,2528.2 903.9,2528 908.9,2527.8 913.9,2527.6 918.9,2527.3 923.9,2527 928.9,2526.7 933.9,2526.3 938.9,2525.9 943.9,2525.5 948.9,2525 953.9,2524.4 958.9,2523.8 963.9,2523.2 968.9,2522.5 973.9,2521.7 978.9,2520.9 983.9,2520 988.9,2519 993.9,2517.9 998.9,2516.8 1003.9,2515.6 1008.9,2514.3 1013.9,2512.9 1018.9,2511.5 1023.9,2510 1028.9,2508.3 1033.9,2506.6 1038.9,2504.9 1043.9,2503 1048.9,2501 1053.9,2499 1058.9,2496.9 1063.9,2494.8 1068.9,2492.6 1073.9,2490.3 1078.9,2488 1083.9,2485.6 1088.9,2483.3 1093.9,2480.9 1098.9,2478.5 1103.9,2476.1 1108.9,2473.7 1113.9,2471.3 1118.9,2468.9 1123.9,2466.7 1128.9,2464.4 1133.9,2462.3 1138.9,2460.2 1143.9,2458.2 1148.9,2456.3 1153.9,2454.6 1158.9,2452.9 1163.9,2451.5 1168.9,2450.1 1173.9,2448.9 1178.9,2447.9 1183.9,2447.1 1188.9,2446.4 1193.9,2445.9 1198.9,2445.6 1203.9,2445.5 1208.9,2445.6 1213.9,2445.8 1218.9,2446.3 1223.9,2446.9 1228.9,2447.7 1233.9,2448.7 1238.9,2449.9 1243.9,2451.2 1248.9,2452.6 1253.9,2454.2 1258.9,2455.9 1263.9,2457.8 1268.9,2459.8 1273.9,2461.8 1278.9,2464 1283.9,2466.2 1288.9,2468.5 1293.9,2470.8 1298.9,2473.2 1303.9,2475.6 1308.9,2478 1313.9,2480.4 1318.9,2482.8 1323.9,2485.2 1328.9,2487.5 1333.9,2489.8 1338.9,2492.1 1343.9,2494.3 1348.9,2496.5 1353.9,2498.6 1358.9,2500.6 1363.9,2502.6 1368.9,2504.5 1373.9,2506.3 1378.9,2508 1383.9,2509.6 1388.9,2511.2 1393.9,2512.7 1398.9,2514 1403.9,2515.3 1408.9,2516.6 1413.9,2517.7 1418.9,2518.8 1423.9,2519.8 1428.9,2520.7 1433.9,2521.5 1438.9,2522.3 1443.9,2523 1448.9,2523.7 1453.9,2524.3 1458.9,2524.9 1463.9,2525.4 1468.9,2525.8 1473.9,2526.2 1478.9,2526.6 1483.9,2527 1488.9,2527.3 1493.9,2527.5 1498.9,2527.8 1503.9,2528 1508.9,2528.2 1513.9,2528.3 1518.9,2528.5 1523.9,2528.6 1528.9,2528.7 1533.9,2528.8 1538.9,2528.9 1543.9,2529 1548.9,2529.1 1553.9,2529.1 1558.9,2529.2 1563.9,2529.2 1568.9,2529.3 1573.9,2529.3 1578.9,2529.3 1583.9,2529.4 1903,2529.5" fill="none" stroke="#008000" stroke-width="6.5" stroke-linejoin="round" />
<path d="M131.1,2538.3L161.5,2538.3L146.3,2512Z"/>
<path d="M173.2,2538.3L203.6,2538.3L188.4,2512Z"/>
<path d="M215.4,2538.3L245.8,2538.3L230.6,2512Z"/>
<path d="M257.5,2538.3L287.9,2538.3L272.7,2512Z"/>
<path d="M299.6,2538.3L330,2538.3L314.8,2512Z"/>
<path d="M341.8,2538.3L372.2,2538.3L357,2512Z"/>
<path d="M383.9,2538.3L414.3,2538.3L399.1,2512Z"/>
<path d="M426,2538.3L456.4,2538.3L441.2,2512Z"/>
<path d="M468.1,2538.3L498.5,2538.3L483.3,2512Z"/>
<path d="M510.3,2538.3L540.7,2538.3L525.5,2512Z"/>
<path d="M552.4,2538.3L582.8,2538.3L567.6,2512Z"/>
<path d="M594.5,2538.3L624.9,2538.3L609.7,2512Z"/>
<path d="M636.7,2538.3L667.1,2538.3L651.9,2512Z"/>
<path d="M678.8,2538.3L709.2,2538.3L694,2512Z"/>
<path d="M720.9,2538.3L751.3,2538.3L736.1,2512Z"/>
<path d="M763,2538.3L793.5,2538.3L778.2,2512Z"/>
<path d="M805.2,2538.2L835.6,2538.2L820.4,2511.9Z"/>
<path d="M847.3,2537.9L877.7,2537.9L862.5,2511.6Z"/>
<path d="M889.4,2536.8L919.8,2536.8L904.6,2510.5Z"/>
<path d="M931.6,2534L962,2534L946.8,2507.7Z"/>
<path d="M973.7,2527.8L1004.1,2527.8L988.9,2501.5Z"/>
<path d="M1015.8,2516.4L1046.2,2516.4L1031,2490.1Z"/>
<path d="M1058,2499.4L1088.4,2499.4L1073.2,2473.1Z"/>
<path d="M1100.1,2479.4L1130.5,2479.4L1115.3,2453.1Z"/>
<path d="M1142.2,2462.2L1172.6,2462.2L1157.4,2435.9Z"/>
<path d="M1184.3,2454.4L1214.8,2454.4L1199.5,2428.1Z"/>
<path d="M1226.5,2459.4L1256.9,2459.4L1241.7,2433.1Z"/>
<path d="M1268.6,2475L1299,2475L1283.8,2448.7Z"/>
<path d="M1310.7,2494.9L1341.1,2494.9L1325.9,2468.6Z"/>
<path d="M1352.9,2513L1383.3,2513L1368.1,2486.7Z"/>
<path d="M1395,2525.7L1425.4,2525.7L1410.2,2499.4Z"/>
<path d="M1437.1,2532.9L1467.5,2532.9L1452.3,2506.6Z"/>
<path d="M1479.3,2536.4L1509.7,2536.4L1494.5,2510.1Z"/>
<path d="M1521.4,2537.7L1551.8,2537.7L1536.6,2511.4Z"/>
<path d="M1563.5,2538.1L1593.9,2538.1L1578.7,2511.8Z"/>
<path d="M1605.7,2538.3L1636.1,2538.3L1620.9,2512Z"/>
<path d="M1647.8,2538.3L1678.2,2538.3L1663,2512Z"/>
<path d="M1689.9,2538.3L1720.3,2538.3L1705.1,2512Z"/>
<path d="M1732,2538.3L1762.4,2538.3L1747.2,2512Z"/>
<path d="M1774.2,2538.3L1804.6,2538.3L1789.4,2512Z"/>
<path d="M1816.3,2538.3L1846.7,2538.3L1831.5,2512Z"/>
<path d="M1858.4,2538.3L1888.8,2538.3L1873.6,2512Z"/>
</g>
<g fill="#800080">
<path d="M150,2529.5 1243.8,2529.4 1248.8,2529.4 1253.8,2529.4 1258.8,2529.3 1263.8,2529.3 1268.8,2529.2 1273.8,2529.1 1278.8,2529 1283.8,2528.8 1288.8,2528.6 1293.8,2528.4 1298.8,2528.1 1303.8,2527.7 1308.8,2527.3 1313.8,2526.8 1318.8,2526.2 1323.8,2525.5 1328.8,2524.6 1333.8,2523.7 1338.8,2522.6 1343.8,2521.3 1348.8,2519.9 1353.8,2518.3 1358.8,2516.6 1363.8,2514.8 1368.8,2512.8 1373.8,2510.7 1378.8,2508.4 1383.8,2506.1 1388.8,2503.7 1393.8,2501.3 1398.8,2499 1403.8,2496.6 1408.8,2494.4 1413.8,2492.3 1418.8,2490.4 1423.8,2488.7 1428.8,2487.2 1433.8,2486.1 1438.8,2485.2 1443.8,2484.7 1448.8,2484.5 1453.8,2484.7 1458.8,2485.2 1463.8,2486 1468.8,2487.1 1473.8,2488.6 1478.8,2490.2 1483.8,2492.2 1488.8,2494.2 1493.8,2496.5 1498.8,2498.8 1503.8,2501.2 1508.8,2503.5 1513.8,2505.9 1518.8,2508.2 1523.8,2510.5 1528.8,2512.6 1533.8,2514.6 1538.8,2516.5 1543.8,2518.2 1548.8,2519.8 1553.8,2521.2 1558.8,2522.5 1563.8,2523.6 1568.8,2524.6 1573.8,2525.4 1578.8,2526.1 1583.8,2526.8 1588.8,2527.3 1593.8,2527.7 1598.8,2528.1 1603.8,2528.4 1608.8,2528.6 1613.8,2528.8 1618.8,2529 1623.8,2529.1 1628.8,2529.2 1633.8,2529.3 1638.8,2529.3 1643.8,2529.4 1648.8,2529.4 1653.8,2529.4 1903,2529.5" fill="none" stroke="#800080" stroke-width="6.5" stroke-linejoin="round" />
<path d="M130.3,2519.8L162.3,2519.8L146.3,2549.3Z"/>
<path d="M172.4,2519.8L204.4,2519.8L188.4,2549.3Z"/>
<path d="M214.6,2519.8L246.6,2519.8L230.6,2549.3Z"/>
<path d="M256.7,2519.8L288.7,2519.8L272.7,2549.3Z"/>
<path d="M298.8,2519.8L330.8,2519.8L314.8,2549.3Z"/>
<path d="M341,2519.8L373,2519.8L357,2549.3Z"/>
<path d="M383.1,2519.8L415.1,2519.8L399.1,2549.3Z"/>
<path d="M425.2,2519.8L457.2,2519.8L441.2,2549.3Z"/>
<path d="M467.3,2519.8L499.3,2519.8L483.3,2549.3Z"/>
<path d="M509.5,2519.8L541.5,2519.8L525.5,2549.3Z"/>
<path d="M551.6,2519.8L583.6,2519.8L567.6,2549.3Z"/>
<path d="M593.7,2519.8L625.7,2519.8L609.7,2549.3Z"/>
<path d="M635.9,2519.8L667.9,2519.8L651.9,2549.3Z"/>
<path d="M678,2519.8L710,2519.8L694,2549.3Z"/>
<path d="M720.1,2519.8L752.1,2519.8L736.1,2549.3Z"/>
<path d="M762.2,2519.8L794.2,2519.8L778.2,2549.3Z"/>
<path d="M804.4,2519.8L836.4,2519.8L820.4,2549.3Z"/>
<path d="M846.5,2519.8L878.5,2519.8L862.5,2549.3Z"/>
<path d="M888.6,2519.8L920.6,2519.8L904.6,2549.3Z"/>
<path d="M930.8,2519.8L962.8,2519.8L946.8,2549.3Z"/>
<path d="M972.9,2519.8L1004.9,2519.8L988.9,2549.3Z"/>
<path d="M1015,2519.8L1047,2519.8L1031,2549.3Z"/>
<path d="M1057.2,2519.8L1089.2,2519.8L1073.2,2549.3Z"/>
<path d="M1099.3,2519.8L1131.3,2519.8L1115.3,2549.3Z"/>
<path d="M1141.4,2519.8L1173.4,2519.8L1157.4,2549.3Z"/>
<path d="M1183.5,2519.8L1215.5,2519.8L1199.5,2549.3Z"/>
<path d="M1225.7,2519.7L1257.7,2519.7L1241.7,2549.2Z"/>
<path d="M1267.8,2519.1L1299.8,2519.1L1283.8,2548.6Z"/>
<path d="M1309.9,2515.4L1341.9,2515.4L1325.9,2544.9Z"/>
<path d="M1352.1,2503.4L1384.1,2503.4L1368.1,2532.9Z"/>
<path d="M1394.2,2484.1L1426.2,2484.1L1410.2,2513.6Z"/>
<path d="M1436.3,2474.9L1468.3,2474.9L1452.3,2504.4Z"/>
<path d="M1478.5,2487.1L1510.5,2487.1L1494.5,2516.6Z"/>
<path d="M1520.6,2506L1552.6,2506L1536.6,2535.5Z"/>
<path d="M1562.7,2516.4L1594.7,2516.4L1578.7,2545.9Z"/>
<path d="M1604.9,2519.3L1636.9,2519.3L1620.9,2548.8Z"/>
<path d="M1647,2519.8L1679,2519.8L1663,2549.3Z"/>
<path d="M1689.1,2519.8L1721.1,2519.8L1705.1,2549.3Z"/>
<path d="M1731.2,2519.8L1763.2,2519.8L1747.2,2549.3Z"/>
<path d="M1773.4,2519.8L1805.4,2519.8L1789.4,2549.3Z"/>
<path d="M1815.5,2519.8L1847.5,2519.8L1831.5,2549.3Z"/>
<path d="M1857.6,2519.8L1889.6,2519.8L1873.6,2549.3Z"/>
</g>
</g>
<clipPath id="cb2"><rect x="151.8" y="2570" width="1747.8" height="590.5999999999999"/></clipPath>
<g clip-path="url(#cb2)">
<path d="M151.8,3126.7 154.8,3126.7 157.8,3126.7 160.8,3126.7 163.8,3126.8 166.8,3126.7 169.8,3126.5 172.8,3126.1 175.8,3125.4 178.8,3124.5 181.8,3123.1 184.8,3121.4 187.8,3119.8 190.8,3118.4 193.8,3117.2 196.8,3116.1 199.8,3115.1 202.8,3114.4 205.8,3113.9 208.8,3113.7 211.8,3113.9 214.8,3114.3 217.8,3115 220.8,3115.9 223.8,3117.1 226.8,3118.6 229.8,3120.6 232.8,3123.2 235.8,3125.8 238.8,3127.9 241.8,3128.8 244.8,3128.2 247.8,3127 250.8,3125.9 253.8,3126 256.8,3127.8 259.8,3130.2 262.8,3132.2 265.8,3132.6 268.8,3130.9 271.8,3128.3 274.8,3126.1 277.8,3125.3 280.8,3125.6 283.8,3126.5 286.8,3127.8 289.8,3129.2 292.8,3130.3 295.8,3130.7 298.8,3130.6 301.8,3130.1 304.8,3129.4 307.8,3128.6 310.8,3127.7 313.8,3126.9 316.8,3126.2 319.8,3125.9 322.8,3125.6 325.8,3125.3 328.8,3125.2 331.8,3125.4 334.8,3126.1 337.8,3127.6 340.8,3129.5 343.8,3131 346.8,3131.5 349.8,3130.4 352.8,3128.5 355.8,3126.4 358.8,3124.9 361.8,3124.7 364.8,3125.3 367.8,3126.3 370.8,3127.7 373.8,3129.8 376.8,3132.4 379.8,3135.1 382.8,3137.2 385.8,3138.3 388.8,3138.2 391.8,3137.4 394.8,3136.3 397.8,3135.3 400.8,3134.7 403.8,3134.7 406.8,3134.8 409.8,3135 412.8,3135.6 415.8,3136.6 418.8,3138.3 421.8,3140.1 424.8,3141.5 427.8,3142.1 430.8,3141.5 433.8,3140 436.8,3137.9 439.8,3135.7 442.8,3133.5 445.8,3131 448.8,3128.7 451.8,3127.3 454.8,3127.1 457.8,3127.8 460.8,3128.9 463.8,3130.1 466.8,3131.7 469.8,3133.5 472.8,3135.2 475.8,3136.4 478.8,3137.3 481.8,3137.8 484.8,3138.2 487.8,3138.4 490.8,3138.6 493.8,3138.8 496.8,3139 499.8,3139.1 502.8,3139.1 505.8,3139 508.8,3138.9 511.8,3138.8 514.8,3138.8 517.8,3138.7 520.8,3138.6 523.8,3138.6 526.8,3138.4 529.8,3138.3 532.8,3138.1 535.8,3137.9 538.8,3137.8 541.8,3137.7 544.8,3137.6 547.8,3137.3 550.8,3136.8 553.8,3135.8 556.8,3134.4 559.8,3132.6 562.8,3130.6 565.8,3128.3 568.8,3126 571.8,3123.7 574.8,3121.4 577.8,3119 580.8,3116.5 583.8,3113.7 586.8,3110.4 589.8,3106.6 592.8,3102.3 595.8,3097.9 598.8,3093.4 601.8,3089.1 604.8,3085.2 607.8,3081.3 610.8,3077.1 613.8,3072.1 616.8,3066 619.8,3058.2 622.8,3049.6 625.8,3041.1 628.8,3034 631.8,3028.3 634.8,3023.6 637.8,3019.1 640.8,3014.2 643.8,3009 646.8,3003.9 649.8,2998.6 652.8,2993.3 655.8,2987.8 658.8,2982.1 661.8,2976.1 664.8,2969.9 667.8,2963.5 670.8,2956.8 673.8,2950.1 676.8,2943.3 679.8,2936.4 682.8,2929.5 685.8,2922.5 688.8,2915.4 691.8,2908.2 694.8,2900.9 697.8,2893.6 700.8,2886.1 703.8,2878.5 706.8,2870.6 709.8,2862.6 712.8,2854.6 715.8,2846.7 718.8,2839 721.8,2831.7 724.8,2825 727.8,2818.8 730.8,2812.7 733.8,2806 736.8,2798.4 739.8,2789.1 742.8,2778.4 745.8,2767.6 748.8,2758.2 751.8,2751.2 754.8,2746.1 757.8,2741.9 760.8,2737.4 763.8,2731.9 766.8,2725.9 769.8,2719.7 772.8,2713.4 775.8,2707.4 778.8,2701.8 781.8,2696.3 784.8,2690.9 787.8,2686.1 790.8,2682.4 793.8,2679.6 796.8,2677.7 799.8,2677.1 802.8,2679 805.8,2681.9 808.8,2684 811.8,2683.6 814.8,2679.5 817.8,2672.9 820.8,2666.1 823.8,2660.7 826.8,2656.3 829.8,2652.4 832.8,2648.9 835.8,2645.4 838.8,2642.1 841.8,2639.1 844.8,2636.3 847.8,2633.7 850.8,2631.1 853.8,2628.8 856.8,2627.1 859.8,2626.6 862.8,2627.3 865.8,2629 868.8,2631.3 871.8,2633.9 874.8,2636.6 877.8,2639.5 880.8,2642.9 883.8,2646.2 886.8,2648.7 889.8,2649.8 892.8,2650 895.8,2650 898.8,2650.7 901.8,2652.6 904.8,2655.3 907.8,2658.2 910.8,2660.6 913.8,2662.3 916.8,2663.5 919.8,2664.3 922.8,2664.9 925.8,2664.3 928.8,2662.9 931.8,2665.5 934.8,2675.2 937.8,2688.2 940.8,2699 943.8,2708 946.8,2716 949.8,2723.2 952.8,2729.8 955.8,2735.5 958.8,2740.4 961.8,2744.9 964.8,2749.1 967.8,2751.8 970.8,2754.2 973.8,2757.7 976.8,2763.9 979.8,2773 982.8,2783.5 985.8,2794.7 988.8,2807.2 991.8,2819.1 994.8,2829.3 997.8,2838.3 1000.8,2846.1 1003.8,2852.3 1006.8,2857.1 1009.8,2861.3 1012.8,2865.7 1015.8,2869.9 1018.8,2874.2 1021.8,2880.2 1024.8,2888.4 1027.8,2896 1030.8,2900.2 1033.8,2901.5 1036.8,2901.4 1039.8,2901.4 1042.8,2902.1 1045.8,2902.6 1048.8,2903.4 1051.8,2904.8 1054.8,2907.5 1057.8,2911.4 1060.8,2915.9 1063.8,2920.2 1066.8,2923.9 1069.8,2927.2 1072.8,2930.2 1075.8,2933.1 1078.8,2935.9 1081.8,2938.7 1084.8,2941.6 1087.8,2944.5 1090.8,2947.5 1093.8,2950.4 1096.8,2953.4 1099.8,2956.5 1102.8,2959.8 1105.8,2963.7 1108.8,2967.6 1111.8,2970.9 1114.8,2973 1117.8,2973.6 1120.8,2973.5 1123.8,2973.7 1126.8,2975 1129.8,2977.5 1132.8,2980.8 1135.8,2984.3 1138.8,2987.6 1141.8,2990.5 1144.8,2992.6 1147.8,2994.3 1150.8,2995.8 1153.8,2997.5 1156.8,2999.6 1159.8,3002.3 1162.8,3005.5 1165.8,3009.8 1168.8,3015.2 1171.8,3020.6 1174.8,3025 1177.8,3027.8 1180.8,3029.3 1183.8,3029.8 1186.8,3029.6 1189.8,3029.1 1192.8,3028.7 1195.8,3028.5 1198.8,3028.6 1201.8,3028.5 1204.8,3028.3 1207.8,3028.1 1210.8,3028 1213.8,3028.2 1216.8,3028.6 1219.8,3029.1 1222.8,3029.8 1225.8,3030.6 1228.8,3031.7 1231.8,3033 1234.8,3034.7 1237.8,3036.8 1240.8,3039.5 1243.8,3042.6 1246.8,3045.9 1249.8,3049.1 1252.8,3051.9 1255.8,3054.4 1258.8,3056.7 1261.8,3058.9 1264.8,3060.8 1267.8,3062.6 1270.8,3064.2 1273.8,3065.5 1276.8,3066.6 1279.8,3067.3 1282.8,3067.8 1285.8,3067.9 1288.8,3067.8 1291.8,3067.6 1294.8,3067.3 1297.8,3067 1300.8,3066.6 1303.8,3066 1306.8,3065.1 1309.8,3064.1 1312.8,3063.2 1315.8,3062.4 1318.8,3061.9 1321.8,3061.7 1324.8,3061.9 1327.8,3062.6 1330.8,3063.5 1333.8,3064.6 1336.8,3065.8 1339.8,3067.1 1342.8,3068.6 1345.8,3070.5 1348.8,3072.5 1351.8,3074.4 1354.8,3075.9 1357.8,3076.9 1360.8,3077.1 1363.8,3076.3 1366.8,3074.8 1369.8,3073 1372.8,3071.2 1375.8,3069.9 1378.8,3069.5 1381.8,3069.9 1384.8,3070.8 1387.8,3072 1390.8,3073.2 1393.8,3074.2 1396.8,3074.7 1399.8,3074.8 1402.8,3074.5 1405.8,3074.1 1408.8,3073.7 1411.8,3073.5 1414.8,3073.5 1417.8,3073.8 1420.8,3074.5 1423.8,3075.4 1426.8,3076.4 1429.8,3077.4 1432.8,3078.5 1435.8,3079.4 1438.8,3080.3 1441.8,3081.1 1444.8,3081.8 1447.8,3082.5 1450.8,3083.3 1453.8,3084 1456.8,3084.7 1459.8,3085.5 1462.8,3086.1 1465.8,3086.7 1468.8,3087.4 1471.8,3088.1 1474.8,3089 1477.8,3090 1480.8,3091.3 1483.8,3092.9 1486.8,3094.6 1489.8,3096.3 1492.8,3097.9 1495.8,3099.3 1498.8,3100.4 1501.8,3101 1504.8,3101.3 1507.8,3101.5 1510.8,3101.7 1513.8,3102.1 1516.8,3103 1519.8,3104.5 1522.8,3106.4 1525.8,3108.2 1528.8,3109.7 1531.8,3110.5 1534.8,3110.1 1537.8,3108.9 1540.8,3107.3 1543.8,3105.7 1546.8,3104.6 1549.8,3104.3 1552.8,3105.2 1555.8,3107 1558.8,3109.2 1561.8,3111.5 1564.8,3113.6 1567.8,3115.1 1570.8,3115.6 1573.8,3114.9 1576.8,3113.5 1579.8,3111.6 1582.8,3109.7 1585.8,3108.3 1588.8,3107.7 1591.8,3108.4 1594.8,3110.3 1597.8,3113 1600.8,3116.3 1603.8,3119.6 1606.8,3122.7 1609.8,3125.2 1612.8,3126.7 1615.8,3127.7 1618.8,3128.2 1621.8,3128.5 1624.8,3128.5 1627.8,3128.4 1630.8,3128.2 1633.8,3128.2 1636.8,3128.4 1639.8,3128.7 1642.8,3129 1645.8,3129.2 1648.8,3129.5 1651.8,3129.7 1654.8,3130 1657.8,3130.4 1660.8,3130.8 1663.8,3131.2 1666.8,3131.8 1669.8,3132.4 1672.8,3133 1675.8,3133.7 1678.8,3134.4 1681.8,3135 1684.8,3135.6 1687.8,3136.1 1690.8,3136.5 1693.8,3136.9 1696.8,3137.2 1699.8,3137.4 1702.8,3137.7 1705.8,3138 1708.8,3138.2 1711.8,3138.5 1714.8,3138.8 1717.8,3139.2 1720.8,3139.6 1723.8,3140.1 1726.8,3140.5 1729.8,3140.8 1732.8,3141.1 1735.8,3141.2 1738.8,3141.2 1741.8,3140.8 1744.8,3140 1747.8,3138.9 1750.8,3137.8 1753.8,3136.7 1756.8,3135.9 1759.8,3135.4 1762.8,3135.6 1765.8,3136.6 1768.8,3138.8 1771.8,3141.3 1774.8,3143.2 1777.8,3143.7 1780.8,3142.1 1783.8,3139.3 1786.8,3136.1 1789.8,3133.7 1792.8,3132.4 1795.8,3131.6 1798.8,3131.1 1801.8,3131 1804.8,3130.9 1807.8,3131.1 1810.8,3131.6 1813.8,3132.3 1816.8,3133 1819.8,3133.4 1822.8,3133.5 1825.8,3133.1 1828.8,3132.4 1831.8,3131.7 1834.8,3131.1 1837.8,3130.7 1840.8,3130.9 1843.8,3131.7 1846.8,3133.3 1849.8,3135.3 1852.8,3137.4 1855.8,3139.3 1858.8,3140.7 1861.8,3141.2 1864.8,3140.6 1867.8,3139 1870.8,3136.9 1873.8,3134.5 1876.8,3132.3 1879.8,3130.7 1882.8,3129.9 1885.8,3130 1888.8,3130.7 1891.8,3131.7 1894.8,3132.7 1897.8,3133.4" fill="none" stroke="#000" stroke-width="8.5" stroke-linejoin="round" stroke-linecap="round"/>
<g fill="#0000ff">
<path d="M150,3150 719.4,3149.6 724.4,3149.5 729.4,3149.4 734.4,3149.3 739.4,3149.2 744.4,3149 749.4,3148.8 754.4,3148.5 759.4,3148.2 764.4,3147.8 769.4,3147.4 774.4,3146.9 779.4,3146.4 784.4,3145.7 789.4,3145 794.4,3144.1 799.4,3143.1 804.4,3141.9 809.4,3140.6 814.4,3139.1 819.4,3137.5 824.4,3135.6 829.4,3133.5 834.4,3131.1 839.4,3128.5 844.4,3125.6 849.4,3122.4 854.4,3118.9 859.4,3115 864.4,3110.8 869.4,3106.3 874.4,3101.4 879.4,3096.1 884.4,3090.5 889.4,3084.5 894.4,3078.1 899.4,3071.4 904.4,3064.4 909.4,3057 914.4,3049.3 919.4,3041.4 924.4,3033.3 929.4,3024.9 934.4,3016.4 939.4,3007.8 944.4,2999.2 949.4,2990.6 954.4,2982.1 959.4,2973.7 964.4,2965.5 969.4,2957.6 974.4,2950 979.4,2942.9 984.4,2936.2 989.4,2930 994.4,2924.4 999.4,2919.5 1004.4,2915.2 1009.4,2911.7 1014.4,2908.9 1019.4,2906.9 1024.4,2905.7 1029.4,2905.4 1034.4,2905.9 1039.4,2907.2 1044.4,2909.3 1049.4,2912.2 1054.4,2915.8 1059.4,2920.2 1064.4,2925.3 1069.4,2931 1074.4,2937.2 1079.4,2944 1084.4,2951.2 1089.4,2958.9 1094.4,2966.8 1099.4,2975 1104.4,2983.5 1109.4,2992 1114.4,3000.6 1119.4,3009.2 1124.4,3017.8 1129.4,3026.3 1134.4,3034.6 1139.4,3042.7 1144.4,3050.6 1149.4,3058.2 1154.4,3065.5 1159.4,3072.5 1164.4,3079.2 1169.4,3085.5 1174.4,3091.4 1179.4,3097 1184.4,3102.2 1189.4,3107 1194.4,3111.5 1199.4,3115.6 1204.4,3119.4 1209.4,3122.9 1214.4,3126.1 1219.4,3128.9 1224.4,3131.5 1229.4,3133.8 1234.4,3135.9 1239.4,3137.7 1244.4,3139.4 1249.4,3140.8 1254.4,3142.1 1259.4,3143.2 1264.4,3144.2 1269.4,3145.1 1274.4,3145.8 1279.4,3146.5 1284.4,3147 1289.4,3147.5 1294.4,3147.9 1299.4,3148.3 1304.4,3148.5 1309.4,3148.8 1314.4,3149 1319.4,3149.2 1324.4,3149.3 1329.4,3149.5 1334.4,3149.6 1903,3150" fill="none" stroke="#0000ff" stroke-width="7" stroke-linejoin="round" />
<circle cx="154.9" cy="3150" r="12.6"/>
<circle cx="197" cy="3150" r="12.6"/>
<circle cx="239.2" cy="3150" r="12.6"/>
<circle cx="281.3" cy="3150" r="12.6"/>
<circle cx="323.4" cy="3150" r="12.6"/>
<circle cx="365.6" cy="3150" r="12.6"/>
<circle cx="407.7" cy="3150" r="12.6"/>
<circle cx="449.8" cy="3150" r="12.6"/>
<circle cx="491.9" cy="3150" r="12.6"/>
<circle cx="534.1" cy="3150" r="12.6"/>
<circle cx="576.2" cy="3150" r="12.6"/>
<circle cx="618.3" cy="3150" r="12.6"/>
<circle cx="660.5" cy="3150" r="12.6"/>
<circle cx="702.6" cy="3149.8" r="12.6"/>
<circle cx="744.7" cy="3149" r="12.6"/>
<circle cx="786.9" cy="3145.4" r="12.6"/>
<circle cx="829" cy="3133.6" r="12.6"/>
<circle cx="871.1" cy="3104.7" r="12.6"/>
<circle cx="913.2" cy="3051.1" r="12.6"/>
<circle cx="955.4" cy="2980.5" r="12.6"/>
<circle cx="997.5" cy="2921.3" r="12.6"/>
<circle cx="1039.6" cy="2907.3" r="12.6"/>
<circle cx="1081.8" cy="2947.4" r="12.6"/>
<circle cx="1123.9" cy="3016.9" r="12.6"/>
<circle cx="1166" cy="3081.3" r="12.6"/>
<circle cx="1208.2" cy="3122.1" r="12.6"/>
<circle cx="1250.3" cy="3141.1" r="12.6"/>
<circle cx="1292.4" cy="3147.8" r="12.6"/>
<circle cx="1334.5" cy="3149.6" r="12.6"/>
<circle cx="1376.7" cy="3149.9" r="12.6"/>
<circle cx="1418.8" cy="3150" r="12.6"/>
<circle cx="1460.9" cy="3150" r="12.6"/>
<circle cx="1503.1" cy="3150" r="12.6"/>
<circle cx="1545.2" cy="3150" r="12.6"/>
<circle cx="1587.3" cy="3150" r="12.6"/>
<circle cx="1629.5" cy="3150" r="12.6"/>
<circle cx="1671.6" cy="3150" r="12.6"/>
<circle cx="1713.7" cy="3150" r="12.6"/>
<circle cx="1755.8" cy="3150" r="12.6"/>
<circle cx="1798" cy="3150" r="12.6"/>
<circle cx="1840.1" cy="3150" r="12.6"/>
<circle cx="1882.2" cy="3150" r="12.6"/>
</g>
<g fill="#ff0000">
<path d="M150,3150 394.3,3149.2 399.3,3149.1 404.3,3148.9 409.3,3148.8 414.3,3148.6 419.3,3148.4 424.3,3148.2 429.3,3148 434.3,3147.7 439.3,3147.4 444.3,3147 449.3,3146.6 454.3,3146.2 459.3,3145.7 464.3,3145.1 469.3,3144.5 474.3,3143.9 479.3,3143.1 484.3,3142.3 489.3,3141.4 494.3,3140.4 499.3,3139.3 504.3,3138.1 509.3,3136.7 514.3,3135.3 519.3,3133.7 524.3,3132 529.3,3130.1 534.3,3128 539.3,3125.8 544.3,3123.4 549.3,3120.8 554.3,3117.9 559.3,3114.9 564.3,3111.6 569.3,3108.1 574.3,3104.3 579.3,3100.3 584.3,3096 589.3,3091.4 594.3,3086.5 599.3,3081.3 604.3,3075.8 609.3,3070 614.3,3063.8 619.3,3057.3 624.3,3050.5 629.3,3043.3 634.3,3035.8 639.3,3027.9 644.3,3019.7 649.3,3011.1 654.3,3002.2 659.3,2992.9 664.3,2983.4 669.3,2973.5 674.3,2963.3 679.3,2952.8 684.3,2942 689.3,2930.9 694.3,2919.6 699.3,2908.1 704.3,2896.4 709.3,2884.6 714.3,2872.5 719.3,2860.4 724.3,2848.2 729.3,2836 734.3,2823.7 739.3,2811.5 744.3,2799.3 749.3,2787.3 754.3,2775.4 759.3,2763.7 764.3,2752.2 769.3,2741 774.3,2730.1 779.3,2719.5 784.3,2709.4 789.3,2699.6 794.3,2690.4 799.3,2681.6 804.3,2673.5 809.3,2665.8 814.3,2658.8 819.3,2652.5 824.3,2646.8 829.3,2641.8 834.3,2637.5 839.3,2634 844.3,2631.2 849.3,2629.2 854.3,2628 859.3,2627.5 864.3,2627.8 869.3,2628.9 874.3,2630.8 879.3,2633.4 884.3,2636.8 889.3,2640.9 894.3,2645.8 899.3,2651.3 904.3,2657.6 909.3,2664.4 914.3,2671.9 919.3,2680 924.3,2688.7 929.3,2697.8 934.3,2707.5 939.3,2717.5 944.3,2728 949.3,2738.9 954.3,2750 959.3,2761.5 964.3,2773.1 969.3,2785 974.3,2797 979.3,2809.2 984.3,2821.4 989.3,2833.6 994.3,2845.9 999.3,2858.1 1004.3,2870.2 1009.3,2882.3 1014.3,2894.2 1019.3,2905.9 1024.3,2917.4 1029.3,2928.8 1034.3,2939.9 1039.3,2950.7 1044.3,2961.3 1049.3,2971.5 1054.3,2981.5 1059.3,2991.1 1064.3,3000.4 1069.3,3009.4 1074.3,3018.1 1079.3,3026.4 1084.3,3034.3 1089.3,3041.9 1094.3,3049.1 1099.3,3056 1104.3,3062.6 1109.3,3068.8 1114.3,3074.7 1119.3,3080.3 1124.3,3085.5 1129.3,3090.5 1134.3,3095.1 1139.3,3099.5 1144.3,3103.6 1149.3,3107.4 1154.3,3111 1159.3,3114.3 1164.3,3117.4 1169.3,3120.2 1174.3,3122.9 1179.3,3125.3 1184.3,3127.6 1189.3,3129.7 1194.3,3131.6 1199.3,3133.4 1204.3,3135 1209.3,3136.5 1214.3,3137.8 1219.3,3139.1 1224.3,3140.2 1229.3,3141.2 1234.3,3142.1 1239.3,3143 1244.3,3143.7 1249.3,3144.4 1254.3,3145 1259.3,3145.6 1264.3,3146.1 1269.3,3146.5 1274.3,3146.9 1279.3,3147.3 1284.3,3147.6 1289.3,3147.9 1294.3,3148.2 1299.3,3148.4 1304.3,3148.6 1309.3,3148.8 1314.3,3148.9 1319.3,3149.1 1324.3,3149.2 1903,3150" fill="none" stroke="#ff0000" stroke-width="6.5" stroke-linejoin="round" />
<rect x="143.6" y="3138.7" width="22.6" height="22.6"/>
<rect x="185.7" y="3138.7" width="22.6" height="22.6"/>
<rect x="227.9" y="3138.7" width="22.6" height="22.6"/>
<rect x="270" y="3138.7" width="22.6" height="22.6"/>
<rect x="312.1" y="3138.6" width="22.6" height="22.6"/>
<rect x="354.2" y="3138.3" width="22.6" height="22.6"/>
<rect x="396.4" y="3137.5" width="22.6" height="22.6"/>
<rect x="438.5" y="3135.3" width="22.6" height="22.6"/>
<rect x="480.6" y="3129.6" width="22.6" height="22.6"/>
<rect x="522.8" y="3116.8" width="22.6" height="22.6"/>
<rect x="564.9" y="3091.6" width="22.6" height="22.6"/>
<rect x="607" y="3047.3" width="22.6" height="22.6"/>
<rect x="649.2" y="2979.5" width="22.6" height="22.6"/>
<rect x="691.3" y="2889.2" width="22.6" height="22.6"/>
<rect x="733.4" y="2787.1" width="22.6" height="22.6"/>
<rect x="775.6" y="2693.1" width="22.6" height="22.6"/>
<rect x="817.7" y="2630.8" width="22.6" height="22.6"/>
<rect x="859.8" y="2618.2" width="22.6" height="22.6"/>
<rect x="901.9" y="2659" width="22.6" height="22.6"/>
<rect x="944.1" y="2741.1" width="22.6" height="22.6"/>
<rect x="986.2" y="2842.3" width="22.6" height="22.6"/>
<rect x="1028.3" y="2940.1" width="22.6" height="22.6"/>
<rect x="1070.5" y="3019" width="22.6" height="22.6"/>
<rect x="1112.6" y="3073.8" width="22.6" height="22.6"/>
<rect x="1154.7" y="3107.1" width="22.6" height="22.6"/>
<rect x="1196.9" y="3124.8" width="22.6" height="22.6"/>
<rect x="1239" y="3133.2" width="22.6" height="22.6"/>
<rect x="1281.1" y="3136.8" width="22.6" height="22.6"/>
<rect x="1323.2" y="3138.1" width="22.6" height="22.6"/>
<rect x="1365.4" y="3138.5" width="22.6" height="22.6"/>
<rect x="1407.5" y="3138.7" width="22.6" height="22.6"/>
<rect x="1449.6" y="3138.7" width="22.6" height="22.6"/>
<rect x="1491.8" y="3138.7" width="22.6" height="22.6"/>
<rect x="1533.9" y="3138.7" width="22.6" height="22.6"/>
<rect x="1576" y="3138.7" width="22.6" height="22.6"/>
<rect x="1618.2" y="3138.7" width="22.6" height="22.6"/>
<rect x="1660.3" y="3138.7" width="22.6" height="22.6"/>
<rect x="1702.4" y="3138.7" width="22.6" height="22.6"/>
<rect x="1744.5" y="3138.7" width="22.6" height="22.6"/>
<rect x="1786.7" y="3138.7" width="22.6" height="22.6"/>
<rect x="1828.8" y="3138.7" width="22.6" height="22.6"/>
<rect x="1870.9" y="3138.7" width="22.6" height="22.6"/>
</g>
<g fill="#008000">
<path d="M150,3150 738.2,3149.8 743.2,3149.8 748.2,3149.8 753.2,3149.7 758.2,3149.7 763.2,3149.7 768.2,3149.6 773.2,3149.6 778.2,3149.5 783.2,3149.4 788.2,3149.4 793.2,3149.3 798.2,3149.2 803.2,3149.1 808.2,3149 813.2,3148.9 818.2,3148.7 823.2,3148.6 828.2,3148.4 833.2,3148.2 838.2,3148 843.2,3147.8 848.2,3147.6 853.2,3147.3 858.2,3147 863.2,3146.7 868.2,3146.4 873.2,3146 878.2,3145.6 883.2,3145.2 888.2,3144.7 893.2,3144.2 898.2,3143.6 903.2,3143 908.2,3142.4 913.2,3141.7 918.2,3140.9 923.2,3140.1 928.2,3139.3 933.2,3138.4 938.2,3137.4 943.2,3136.4 948.2,3135.3 953.2,3134.2 958.2,3133 963.2,3131.7 968.2,3130.4 973.2,3128.9 978.2,3127.5 983.2,3125.9 988.2,3124.3 993.2,3122.6 998.2,3120.8 1003.2,3119 1008.2,3117 1013.2,3115.1 1018.2,3113 1023.2,3110.9 1028.2,3108.7 1033.2,3106.5 1038.2,3104.2 1043.2,3101.9 1048.2,3099.5 1053.2,3097.1 1058.2,3094.6 1063.2,3092.1 1068.2,3089.6 1073.2,3087 1078.2,3084.4 1083.2,3081.9 1088.2,3079.3 1093.2,3076.7 1098.2,3074.2 1103.2,3071.6 1108.2,3069.1 1113.2,3066.7 1118.2,3064.2 1123.2,3061.9 1128.2,3059.6 1133.2,3057.3 1138.2,3055.2 1143.2,3053.1 1148.2,3051.2 1153.2,3049.3 1158.2,3047.5 1163.2,3045.9 1168.2,3044.4 1173.2,3043 1178.2,3041.7 1183.2,3040.6 1188.2,3039.6 1193.2,3038.8 1198.2,3038.1 1203.2,3037.6 1208.2,3037.2 1213.2,3037 1218.2,3037 1223.2,3037.1 1228.2,3037.4 1233.2,3037.8 1238.2,3038.4 1243.2,3039.2 1248.2,3040.1 1253.2,3041.1 1258.2,3042.3 1263.2,3043.6 1268.2,3045.1 1273.2,3046.7 1278.2,3048.4 1283.2,3050.2 1288.2,3052.1 1293.2,3054.1 1298.2,3056.2 1303.2,3058.4 1308.2,3060.7 1313.2,3063 1318.2,3065.4 1323.2,3067.8 1328.2,3070.3 1333.2,3072.9 1338.2,3075.4 1343.2,3078 1348.2,3080.5 1353.2,3083.1 1358.2,3085.7 1363.2,3088.2 1368.2,3090.8 1373.2,3093.3 1378.2,3095.8 1383.2,3098.2 1388.2,3100.7 1393.2,3103 1398.2,3105.3 1403.2,3107.6 1408.2,3109.8 1413.2,3111.9 1418.2,3114 1423.2,3116 1428.2,3118 1433.2,3119.9 1438.2,3121.7 1443.2,3123.4 1448.2,3125.1 1453.2,3126.7 1458.2,3128.2 1463.2,3129.6 1468.2,3131 1473.2,3132.3 1478.2,3133.6 1483.2,3134.8 1488.2,3135.9 1493.2,3136.9 1498.2,3137.9 1503.2,3138.8 1508.2,3139.7 1513.2,3140.5 1518.2,3141.3 1523.2,3142 1528.2,3142.7 1533.2,3143.3 1538.2,3143.9 1543.2,3144.4 1548.2,3144.9 1553.2,3145.4 1558.2,3145.8 1563.2,3146.2 1568.2,3146.5 1573.2,3146.9 1578.2,3147.2 1583.2,3147.4 1588.2,3147.7 1593.2,3147.9 1598.2,3148.1 1603.2,3148.3 1608.2,3148.5 1613.2,3148.7 1618.2,3148.8 1623.2,3148.9 1628.2,3149.1 1633.2,3149.2 1638.2,3149.2 1643.2,3149.3 1648.2,3149.4 1653.2,3149.5 1658.2,3149.5 1663.2,3149.6 1668.2,3149.6 1673.2,3149.7 1678.2,3149.7 1683.2,3149.8 1688.2,3149.8 1693.2,3149.8 1903,3150" fill="none" stroke="#008000" stroke-width="6.5" stroke-linejoin="round" />
<path d="M139.7,3158.8L170.1,3158.8L154.9,3132.5Z"/>
<path d="M181.8,3158.8L212.2,3158.8L197,3132.5Z"/>
<path d="M224,3158.8L254.4,3158.8L239.2,3132.5Z"/>
<path d="M266.1,3158.8L296.5,3158.8L281.3,3132.5Z"/>
<path d="M308.2,3158.8L338.6,3158.8L323.4,3132.5Z"/>
<path d="M350.4,3158.8L380.8,3158.8L365.6,3132.5Z"/>
<path d="M392.5,3158.8L422.9,3158.8L407.7,3132.5Z"/>
<path d="M434.6,3158.8L465,3158.8L449.8,3132.5Z"/>
<path d="M476.7,3158.8L507.1,3158.8L491.9,3132.5Z"/>
<path d="M518.9,3158.8L549.3,3158.8L534.1,3132.5Z"/>
<path d="M561,3158.8L591.4,3158.8L576.2,3132.5Z"/>
<path d="M603.1,3158.8L633.5,3158.8L618.3,3132.5Z"/>
<path d="M645.3,3158.8L675.7,3158.8L660.5,3132.5Z"/>
<path d="M687.4,3158.7L717.8,3158.7L702.6,3132.4Z"/>
<path d="M729.5,3158.6L759.9,3158.6L744.7,3132.3Z"/>
<path d="M771.6,3158.2L802.1,3158.2L786.9,3131.9Z"/>
<path d="M813.8,3157.2L844.2,3157.2L829,3130.9Z"/>
<path d="M855.9,3155L886.3,3155L871.1,3128.7Z"/>
<path d="M898,3150.5L928.4,3150.5L913.2,3124.2Z"/>
<path d="M940.2,3142.5L970.6,3142.5L955.4,3116.2Z"/>
<path d="M982.3,3129.9L1012.7,3129.9L997.5,3103.6Z"/>
<path d="M1024.4,3112.4L1054.8,3112.4L1039.6,3086.1Z"/>
<path d="M1066.6,3091.4L1097,3091.4L1081.8,3065.1Z"/>
<path d="M1108.7,3070.4L1139.1,3070.4L1123.9,3044.1Z"/>
<path d="M1150.8,3053.8L1181.2,3053.8L1166,3027.5Z"/>
<path d="M1193,3046L1223.4,3046L1208.2,3019.7Z"/>
<path d="M1235.1,3049.3L1265.5,3049.3L1250.3,3023Z"/>
<path d="M1277.2,3062.6L1307.6,3062.6L1292.4,3036.3Z"/>
<path d="M1319.3,3082.3L1349.7,3082.3L1334.5,3056Z"/>
<path d="M1361.5,3103.8L1391.9,3103.8L1376.7,3077.5Z"/>
<path d="M1403.6,3123.1L1434,3123.1L1418.8,3096.8Z"/>
<path d="M1445.7,3137.8L1476.1,3137.8L1460.9,3111.5Z"/>
<path d="M1487.9,3147.6L1518.3,3147.6L1503.1,3121.3Z"/>
<path d="M1530,3153.4L1560.4,3153.4L1545.2,3127.1Z"/>
<path d="M1572.1,3156.5L1602.5,3156.5L1587.3,3130.2Z"/>
<path d="M1614.3,3157.9L1644.7,3157.9L1629.5,3131.6Z"/>
<path d="M1656.4,3158.5L1686.8,3158.5L1671.6,3132.2Z"/>
<path d="M1698.5,3158.7L1728.9,3158.7L1713.7,3132.4Z"/>
<path d="M1740.6,3158.8L1771,3158.8L1755.8,3132.5Z"/>
<path d="M1782.8,3158.8L1813.2,3158.8L1798,3132.5Z"/>
<path d="M1824.9,3158.8L1855.3,3158.8L1840.1,3132.5Z"/>
<path d="M1867,3158.8L1897.4,3158.8L1882.2,3132.5Z"/>
</g>
<g fill="#800080">
<path d="M150,3150 1265,3149.9 1270,3149.9 1275,3149.9 1280,3149.8 1285,3149.7 1290,3149.6 1295,3149.5 1300,3149.3 1305,3149.1 1310,3148.9 1315,3148.5 1320,3148.1 1325,3147.5 1330,3146.9 1335,3146.1 1340,3145.1 1345,3144 1350,3142.8 1355,3141.3 1360,3139.6 1365,3137.8 1370,3135.7 1375,3133.5 1380,3131.1 1385,3128.6 1390,3126 1395,3123.3 1400,3120.7 1405,3118 1410,3115.6 1415,3113.2 1420,3111.2 1425,3109.4 1430,3107.9 1435,3106.9 1440,3106.2 1445,3106 1450,3106.2 1455,3106.9 1460,3107.9 1465,3109.4 1470,3111.2 1475,3113.2 1480,3115.6 1485,3118 1490,3120.7 1495,3123.3 1500,3126 1505,3128.6 1510,3131.1 1515,3133.5 1520,3135.7 1525,3137.8 1530,3139.6 1535,3141.3 1540,3142.8 1545,3144 1550,3145.1 1555,3146.1 1560,3146.9 1565,3147.5 1570,3148.1 1575,3148.5 1580,3148.9 1585,3149.1 1590,3149.3 1595,3149.5 1600,3149.6 1605,3149.7 1610,3149.8 1615,3149.9 1620,3149.9 1903,3150" fill="none" stroke="#800080" stroke-width="6.5" stroke-linejoin="round" />
<path d="M138.9,3140.3L170.9,3140.3L154.9,3169.8Z"/>
<path d="M181,3140.3L213,3140.3L197,3169.8Z"/>
<path d="M223.2,3140.3L255.2,3140.3L239.2,3169.8Z"/>
<path d="M265.3,3140.3L297.3,3140.3L281.3,3169.8Z"/>
<path d="M307.4,3140.3L339.4,3140.3L323.4,3169.8Z"/>
<path d="M349.6,3140.3L381.6,3140.3L365.6,3169.8Z"/>
<path d="M391.7,3140.3L423.7,3140.3L407.7,3169.8Z"/>
<path d="M433.8,3140.3L465.8,3140.3L449.8,3169.8Z"/>
<path d="M475.9,3140.3L507.9,3140.3L491.9,3169.8Z"/>
<path d="M518.1,3140.3L550.1,3140.3L534.1,3169.8Z"/>
<path d="M560.2,3140.3L592.2,3140.3L576.2,3169.8Z"/>
<path d="M602.3,3140.3L634.3,3140.3L618.3,3169.8Z"/>
<path d="M644.5,3140.3L676.5,3140.3L660.5,3169.8Z"/>
<path d="M686.6,3140.3L718.6,3140.3L702.6,3169.8Z"/>
<path d="M728.7,3140.3L760.7,3140.3L744.7,3169.8Z"/>
<path d="M770.9,3140.3L802.9,3140.3L786.9,3169.8Z"/>
<path d="M813,3140.3L845,3140.3L829,3169.8Z"/>
<path d="M855.1,3140.3L887.1,3140.3L871.1,3169.8Z"/>
<path d="M897.2,3140.3L929.2,3140.3L913.2,3169.8Z"/>
<path d="M939.4,3140.3L971.4,3140.3L955.4,3169.8Z"/>
<path d="M981.5,3140.3L1013.5,3140.3L997.5,3169.8Z"/>
<path d="M1023.6,3140.3L1055.6,3140.3L1039.6,3169.8Z"/>
<path d="M1065.8,3140.3L1097.8,3140.3L1081.8,3169.8Z"/>
<path d="M1107.9,3140.3L1139.9,3140.3L1123.9,3169.8Z"/>
<path d="M1150,3140.3L1182,3140.3L1166,3169.8Z"/>
<path d="M1192.2,3140.3L1224.2,3140.3L1208.2,3169.8Z"/>
<path d="M1234.3,3140.3L1266.3,3140.3L1250.3,3169.8Z"/>
<path d="M1276.4,3139.9L1308.4,3139.9L1292.4,3169.4Z"/>
<path d="M1318.5,3136.5L1350.5,3136.5L1334.5,3166Z"/>
<path d="M1360.7,3123L1392.7,3123L1376.7,3152.5Z"/>
<path d="M1402.8,3101.9L1434.8,3101.9L1418.8,3131.4Z"/>
<path d="M1444.9,3098.5L1476.9,3098.5L1460.9,3128Z"/>
<path d="M1487.1,3117.9L1519.1,3117.9L1503.1,3147.4Z"/>
<path d="M1529.2,3134.4L1561.2,3134.4L1545.2,3163.9Z"/>
<path d="M1571.3,3139.5L1603.3,3139.5L1587.3,3169Z"/>
<path d="M1613.5,3140.3L1645.5,3140.3L1629.5,3169.8Z"/>
<path d="M1655.6,3140.3L1687.6,3140.3L1671.6,3169.8Z"/>
<path d="M1697.7,3140.3L1729.7,3140.3L1713.7,3169.8Z"/>
<path d="M1739.8,3140.3L1771.8,3140.3L1755.8,3169.8Z"/>
<path d="M1782,3140.3L1814,3140.3L1798,3169.8Z"/>
<path d="M1824.1,3140.3L1856.1,3140.3L1840.1,3169.8Z"/>
<path d="M1866.2,3140.3L1898.2,3140.3L1882.2,3169.8Z"/>
</g>
</g>
<line x1="261" y1="3163" x2="261" y2="3171" stroke="#000" stroke-width="8.5" />
<g transform="translate(110.59,3238.50) scale(1.1650,1)" fill="#000" font-family="'Liberation Serif','Times New Roman',serif" font-weight="bold">
<text x="0.00" y="0.00" font-size="47.5" xml:space="preserve">900</text>
</g>
<line x1="370.3" y1="3163" x2="370.3" y2="3181" stroke="#000" stroke-width="8.5" />
<line x1="479.5" y1="3163" x2="479.5" y2="3171" stroke="#000" stroke-width="8.5" />
<g transform="translate(329.05,3238.50) scale(1.1650,1)" fill="#000" font-family="'Liberation Serif','Times New Roman',serif" font-weight="bold">
<text x="0.00" y="0.00" font-size="47.5" xml:space="preserve">950</text>
</g>
<line x1="588.7" y1="3163" x2="588.7" y2="3181" stroke="#000" stroke-width="8.5" />
<line x1="698" y1="3163" x2="698" y2="3171" stroke="#000" stroke-width="8.5" />
<g transform="translate(532.22,3238.50) scale(1.1650,1)" fill="#000" font-family="'Liberation Serif','Times New Roman',serif" font-weight="bold">
<text x="0.00" y="0.00" font-size="47.5" xml:space="preserve">1000</text>
</g>
<line x1="807.2" y1="3163" x2="807.2" y2="3181" stroke="#000" stroke-width="8.5" />
<line x1="916.4" y1="3163" x2="916.4" y2="3171" stroke="#000" stroke-width="8.5" />
<g transform="translate(750.69,3238.50) scale(1.1650,1)" fill="#000" font-family="'Liberation Serif','Times New Roman',serif" font-weight="bold">
<text x="0.00" y="0.00" font-size="47.5" xml:space="preserve">1050</text>
</g>
<line x1="1025.7" y1="3163" x2="1025.7" y2="3181" stroke="#000" stroke-width="8.5" />
<line x1="1134.9" y1="3163" x2="1134.9" y2="3171" stroke="#000" stroke-width="8.5" />
<g transform="translate(970.68,3238.50) scale(1.1650,1)" fill="#000" font-family="'Liberation Serif','Times New Roman',serif" font-weight="bold">
<text x="0.00" y="0.00" font-size="47.5" xml:space="preserve">1100</text>
</g>
<line x1="1244.1" y1="3163" x2="1244.1" y2="3181" stroke="#000" stroke-width="8.5" />
<line x1="1353.3" y1="3163" x2="1353.3" y2="3171" stroke="#000" stroke-width="8.5" />
<g transform="translate(1189.14,3238.50) scale(1.1650,1)" fill="#000" font-family="'Liberation Serif','Times New Roman',serif" font-weight="bold">
<text x="0.00" y="0.00" font-size="47.5" xml:space="preserve">1150</text>
</g>
<line x1="1462.6" y1="3163" x2="1462.6" y2="3181" stroke="#000" stroke-width="8.5" />
<line x1="1571.8" y1="3163" x2="1571.8" y2="3171" stroke="#000" stroke-width="8.5" />
<g transform="translate(1406.07,3238.50) scale(1.1650,1)" fill="#000" font-family="'Liberation Serif','Times New Roman',serif" font-weight="bold">
<text x="0.00" y="0.00" font-size="47.5" xml:space="preserve">1200</text>
</g>
<line x1="1681" y1="3163" x2="1681" y2="3181" stroke="#000" stroke-width="8.5" />
<line x1="1790.3" y1="3163" x2="1790.3" y2="3171" stroke="#000" stroke-width="8.5" />
<g transform="translate(1624.53,3238.50) scale(1.1650,1)" fill="#000" font-family="'Liberation Serif','Times New Roman',serif" font-weight="bold">
<text x="0.00" y="0.00" font-size="47.5" xml:space="preserve">1250</text>
</g>
<g transform="translate(1843.00,3238.50) scale(1.1650,1)" fill="#000" font-family="'Liberation Serif','Times New Roman',serif" font-weight="bold">
<text x="0.00" y="0.00" font-size="47.5" xml:space="preserve">1300</text>
</g>
<line x1="851.5" y1="1402" x2="859.2" y2="2791.6" stroke="#000" stroke-width="8.5" />
<line x1="1065" y1="1599.5" x2="1051.3" y2="3018.8" stroke="#000" stroke-width="8.5" />
<line x1="1235" y1="1686.6" x2="1221.7" y2="3089" stroke="#000" stroke-width="8.5" />
<line x1="1474" y1="1724" x2="1473" y2="3149" stroke="#000" stroke-width="8.5" />
<line x1="589" y1="1609" x2="833.6" y2="1749.1" stroke="#000" stroke-width="3" />
<path d="M852.7,1760L828.6,1753.7L835.1,1742.4Z" fill="#000"/>
<line x1="1196.4" y1="1529.5" x2="1101.3" y2="1617.6" stroke="#000" stroke-width="3" />
<path d="M1085.2,1632.6L1098.4,1611.5L1107.2,1621Z" fill="#000"/>
<line x1="1315.5" y1="1653.5" x2="1263.2" y2="1718.8" stroke="#000" stroke-width="3" />
<path d="M1249.5,1736L1259.4,1713.2L1269.6,1721.3Z" fill="#000"/>
<line x1="1537" y1="1750.4" x2="1496.6" y2="1774.9" stroke="#000" stroke-width="3" />
<path d="M1477.8,1786.3L1495,1768.3L1501.7,1779.4Z" fill="#000"/>
<g transform="translate(159.53,1479.30) scale(1.0954,1)" fill="#000" font-family="'Liberation Serif','Times New Roman',serif" font-weight="bold">
<text x="0.00" y="0.00" font-size="83" xml:space="preserve">(b)</text>
</g>
<g transform="translate(1062.26,1446.50) scale(1.0365,1)" fill="#000" font-family="'Liberation Serif','Times New Roman',serif" font-weight="bold">
<text x="0.00" y="0.00" font-size="57" xml:space="preserve">Deposition temperature = 120</text>
<text x="723.25" y="-33.00" font-size="36" xml:space="preserve">o</text>
<text x="741.25" y="0.00" font-size="57" xml:space="preserve">C</text>
</g>
<g transform="translate(1079.56,2043.70) scale(1.0387,1)" fill="#000" font-family="'Liberation Serif','Times New Roman',serif" font-weight="bold">
<text x="0.00" y="0.00" font-size="57" xml:space="preserve">Deposition temperature =  70</text>
<text x="709.00" y="-33.00" font-size="36" xml:space="preserve">o</text>
<text x="727.00" y="0.00" font-size="57" xml:space="preserve">C</text>
</g>
<g transform="translate(1073.36,2633.70) scale(1.0363,1)" fill="#000" font-family="'Liberation Serif','Times New Roman',serif" font-weight="bold">
<text x="0.00" y="0.00" font-size="57" xml:space="preserve">Deposition temperature =  30</text>
<text x="709.00" y="-33.00" font-size="36" xml:space="preserve">o</text>
<text x="727.00" y="0.00" font-size="57" xml:space="preserve">C</text>
</g>
<g transform="translate(1065.83,1518.00) scale(1.0451,1)" fill="#000" font-family="'Liberation Serif','Times New Roman',serif" font-weight="bold">
<text x="0.00" y="0.00" font-size="57" xml:space="preserve">C-H/C-C</text>
</g>
<g transform="translate(344.84,1581.00) scale(1.0988,1)" fill="#000" font-family="'Liberation Serif','Times New Roman',serif" font-weight="bold">
<text x="0.00" y="0.00" font-size="54" xml:space="preserve">Si-O-Si (TO</text>
<text x="276.57" y="23.00" font-size="32" xml:space="preserve">3</text>
<text x="292.57" y="0.00" font-size="54" xml:space="preserve">)</text>
</g>
<g transform="translate(1197.83,1648.00) scale(1.1035,1)" fill="#000" font-family="'Liberation Serif','Times New Roman',serif" font-weight="bold">
<text x="0.00" y="0.00" font-size="54" xml:space="preserve">Si-O-Si (LO</text>
<text x="277.55" y="23.00" font-size="32" xml:space="preserve">4</text>
<text x="293.55" y="0.00" font-size="54" xml:space="preserve">)</text>
</g>
<g transform="translate(1479.74,1732.00) scale(1.0985,1)" fill="#000" font-family="'Liberation Serif','Times New Roman',serif" font-weight="bold">
<text x="0.00" y="0.00" font-size="54" xml:space="preserve">Si-O-Si (TO</text>
<text x="276.57" y="23.00" font-size="32" xml:space="preserve">4</text>
<text x="292.57" y="0.00" font-size="54" xml:space="preserve">)</text>
</g>
<g transform="translate(640.70,3308.60) scale(1.0658,1)" fill="#000" font-family="'Liberation Serif','Times New Roman',serif" font-weight="bold">
<text x="0.00" y="0.00" font-size="83.4" xml:space="preserve">Wavenumber (cm</text>
<text x="635.29" y="-48.60" font-size="43" xml:space="preserve">-1</text>
<text x="671.11" y="0.00" font-size="83.4" xml:space="preserve">)</text>
</g>
<g transform="translate(105.00,2662.75) rotate(-90) scale(1.0002,1.0850)" fill="#000" font-family="'Liberation Serif','Times New Roman',serif" font-weight="bold">
<text x="0.00" y="0.00" font-size="83" xml:space="preserve">Absorbance (arb. unit)</text>
</g>
</svg></body></html>
